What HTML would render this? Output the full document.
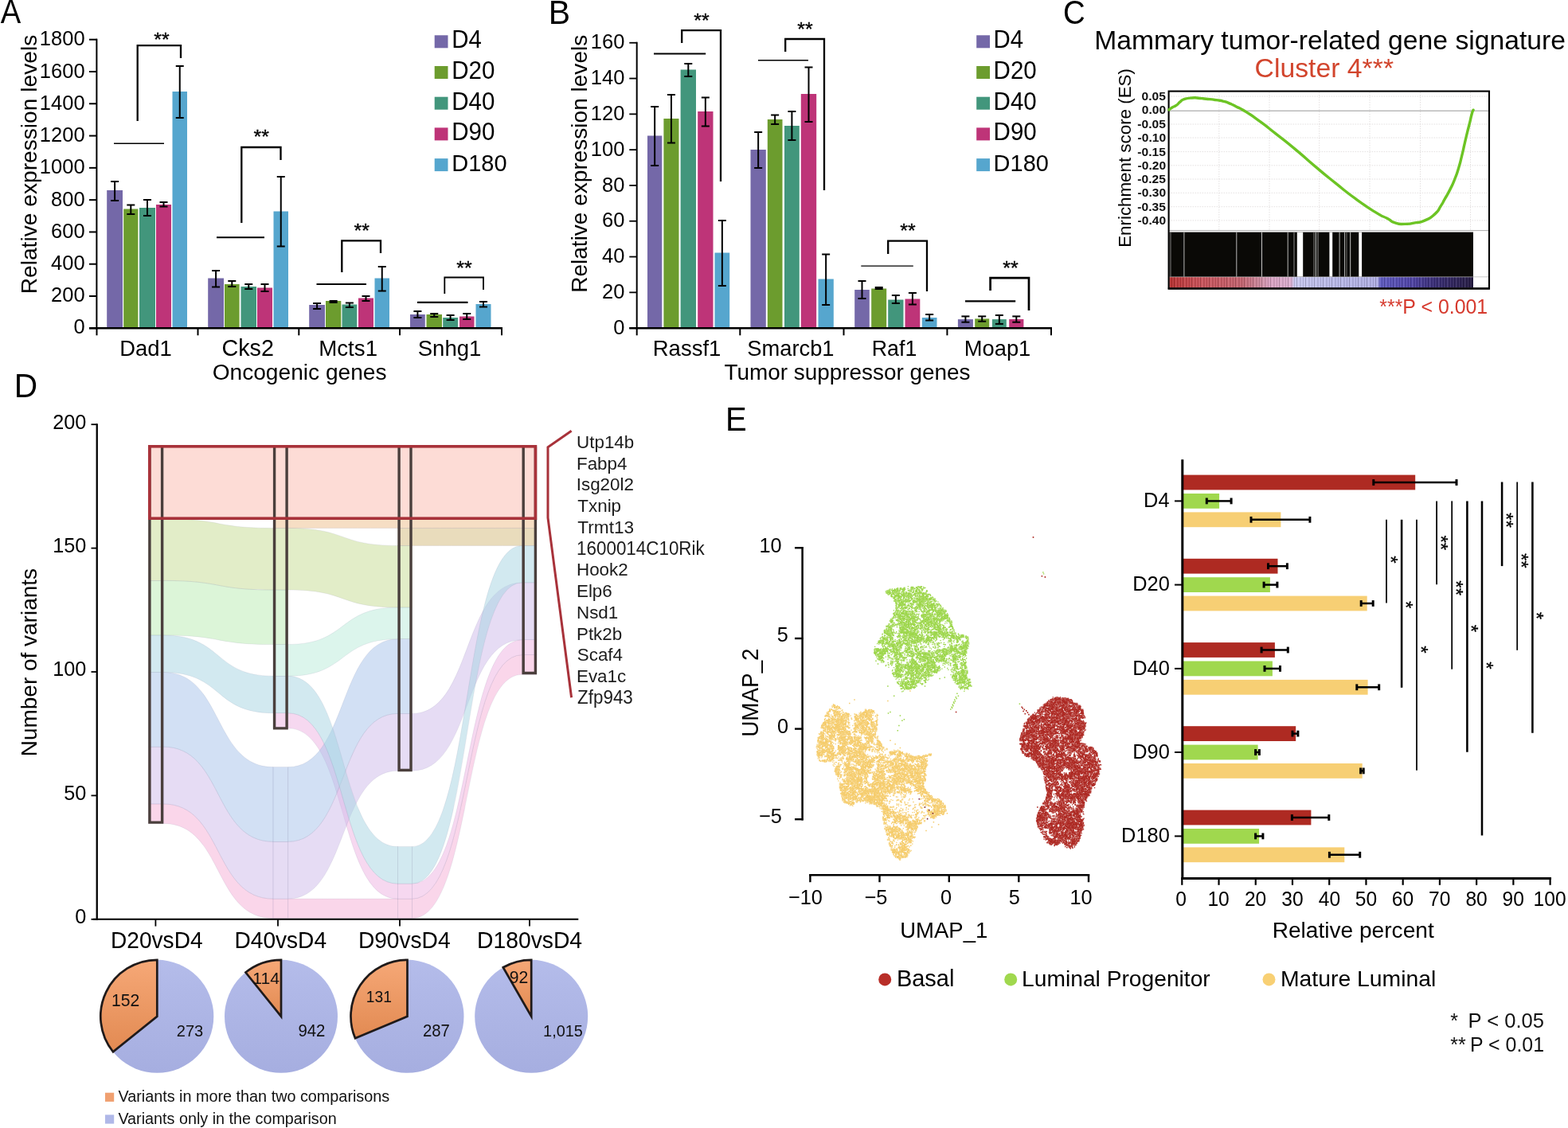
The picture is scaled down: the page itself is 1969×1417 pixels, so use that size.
<!DOCTYPE html>
<html lang="en"><head><meta charset="utf-8"><title>Figure</title>
<style>
html,body{margin:0;padding:0;background:#fff;}
body{width:1969px;height:1417px;overflow:hidden;}
svg{display:block;font-family:"Liberation Sans",sans-serif;}
text{white-space:pre;}
</style></head><body>
<svg width="1969" height="1417" viewBox="0 0 1969 1417">
<rect width="1969" height="1417" fill="#ffffff"/>
<text x="0.83" y="28.60" font-size="41.63" textLength="25.45" lengthAdjust="spacingAndGlyphs" fill="#000">A</text>
<text x="688.84" y="30.00" font-size="41.63" textLength="27.32" lengthAdjust="spacingAndGlyphs" fill="#000">B</text>
<text x="1335.05" y="29.70" font-size="41.63" textLength="27.71" lengthAdjust="spacingAndGlyphs" fill="#000">C</text>
<text x="17.66" y="498.70" font-size="41.63" textLength="29.38" lengthAdjust="spacingAndGlyphs" fill="#000">D</text>
<text x="911.02" y="541.40" font-size="41.63" textLength="26.70" lengthAdjust="spacingAndGlyphs" fill="#000">E</text>
<rect x="134.20" y="239.00" width="19.80" height="173.30" fill="#7468A8"/>
<rect x="155.20" y="262.50" width="18.20" height="149.80" fill="#6C9C2E"/>
<rect x="175.00" y="261.00" width="20.00" height="151.30" fill="#42967C"/>
<rect x="196.00" y="257.00" width="19.00" height="155.30" fill="#BE3478"/>
<rect x="216.50" y="115.00" width="18.50" height="297.30" fill="#56A6CE"/>
<rect x="261.20" y="349.50" width="19.80" height="62.80" fill="#7468A8"/>
<rect x="282.00" y="357.00" width="18.60" height="55.30" fill="#6C9C2E"/>
<rect x="302.50" y="360.00" width="19.50" height="52.30" fill="#42967C"/>
<rect x="323.00" y="361.50" width="19.00" height="50.80" fill="#BE3478"/>
<rect x="343.50" y="265.50" width="18.50" height="146.80" fill="#56A6CE"/>
<rect x="388.20" y="383.00" width="19.80" height="29.30" fill="#7468A8"/>
<rect x="409.00" y="378.00" width="19.30" height="34.30" fill="#6C9C2E"/>
<rect x="429.50" y="382.50" width="18.80" height="29.80" fill="#42967C"/>
<rect x="450.00" y="374.50" width="19.00" height="37.80" fill="#BE3478"/>
<rect x="470.50" y="349.50" width="18.50" height="62.80" fill="#56A6CE"/>
<rect x="515.00" y="395.00" width="18.80" height="17.30" fill="#7468A8"/>
<rect x="535.50" y="395.00" width="19.50" height="17.30" fill="#6C9C2E"/>
<rect x="556.20" y="399.00" width="18.80" height="13.30" fill="#42967C"/>
<rect x="577.00" y="397.50" width="18.50" height="14.80" fill="#BE3478"/>
<rect x="597.50" y="382.00" width="19.00" height="30.30" fill="#56A6CE"/>
<line x1="144.10" y1="228.00" x2="144.10" y2="252.00" stroke="#000" stroke-width="2.00" stroke-linecap="butt"/>
<line x1="139.10" y1="228.00" x2="149.10" y2="228.00" stroke="#000" stroke-width="2.00" stroke-linecap="butt"/>
<line x1="139.10" y1="252.00" x2="149.10" y2="252.00" stroke="#000" stroke-width="2.00" stroke-linecap="butt"/>
<line x1="164.30" y1="257.50" x2="164.30" y2="269.00" stroke="#000" stroke-width="2.00" stroke-linecap="butt"/>
<line x1="159.30" y1="257.50" x2="169.30" y2="257.50" stroke="#000" stroke-width="2.00" stroke-linecap="butt"/>
<line x1="159.30" y1="269.00" x2="169.30" y2="269.00" stroke="#000" stroke-width="2.00" stroke-linecap="butt"/>
<line x1="185.00" y1="251.00" x2="185.00" y2="271.00" stroke="#000" stroke-width="2.00" stroke-linecap="butt"/>
<line x1="180.00" y1="251.00" x2="190.00" y2="251.00" stroke="#000" stroke-width="2.00" stroke-linecap="butt"/>
<line x1="180.00" y1="271.00" x2="190.00" y2="271.00" stroke="#000" stroke-width="2.00" stroke-linecap="butt"/>
<line x1="205.50" y1="254.00" x2="205.50" y2="259.50" stroke="#000" stroke-width="2.00" stroke-linecap="butt"/>
<line x1="200.50" y1="254.00" x2="210.50" y2="254.00" stroke="#000" stroke-width="2.00" stroke-linecap="butt"/>
<line x1="200.50" y1="259.50" x2="210.50" y2="259.50" stroke="#000" stroke-width="2.00" stroke-linecap="butt"/>
<line x1="225.75" y1="83.00" x2="225.75" y2="148.00" stroke="#000" stroke-width="2.00" stroke-linecap="butt"/>
<line x1="220.75" y1="83.00" x2="230.75" y2="83.00" stroke="#000" stroke-width="2.00" stroke-linecap="butt"/>
<line x1="220.75" y1="148.00" x2="230.75" y2="148.00" stroke="#000" stroke-width="2.00" stroke-linecap="butt"/>
<line x1="271.10" y1="340.00" x2="271.10" y2="360.50" stroke="#000" stroke-width="2.00" stroke-linecap="butt"/>
<line x1="266.10" y1="340.00" x2="276.10" y2="340.00" stroke="#000" stroke-width="2.00" stroke-linecap="butt"/>
<line x1="266.10" y1="360.50" x2="276.10" y2="360.50" stroke="#000" stroke-width="2.00" stroke-linecap="butt"/>
<line x1="291.30" y1="353.00" x2="291.30" y2="360.00" stroke="#000" stroke-width="2.00" stroke-linecap="butt"/>
<line x1="286.30" y1="353.00" x2="296.30" y2="353.00" stroke="#000" stroke-width="2.00" stroke-linecap="butt"/>
<line x1="286.30" y1="360.00" x2="296.30" y2="360.00" stroke="#000" stroke-width="2.00" stroke-linecap="butt"/>
<line x1="312.25" y1="357.00" x2="312.25" y2="363.00" stroke="#000" stroke-width="2.00" stroke-linecap="butt"/>
<line x1="307.25" y1="357.00" x2="317.25" y2="357.00" stroke="#000" stroke-width="2.00" stroke-linecap="butt"/>
<line x1="307.25" y1="363.00" x2="317.25" y2="363.00" stroke="#000" stroke-width="2.00" stroke-linecap="butt"/>
<line x1="332.50" y1="357.00" x2="332.50" y2="366.00" stroke="#000" stroke-width="2.00" stroke-linecap="butt"/>
<line x1="327.50" y1="357.00" x2="337.50" y2="357.00" stroke="#000" stroke-width="2.00" stroke-linecap="butt"/>
<line x1="327.50" y1="366.00" x2="337.50" y2="366.00" stroke="#000" stroke-width="2.00" stroke-linecap="butt"/>
<line x1="352.75" y1="222.00" x2="352.75" y2="309.50" stroke="#000" stroke-width="2.00" stroke-linecap="butt"/>
<line x1="347.75" y1="222.00" x2="357.75" y2="222.00" stroke="#000" stroke-width="2.00" stroke-linecap="butt"/>
<line x1="347.75" y1="309.50" x2="357.75" y2="309.50" stroke="#000" stroke-width="2.00" stroke-linecap="butt"/>
<line x1="398.10" y1="381.00" x2="398.10" y2="388.00" stroke="#000" stroke-width="2.00" stroke-linecap="butt"/>
<line x1="393.10" y1="381.00" x2="403.10" y2="381.00" stroke="#000" stroke-width="2.00" stroke-linecap="butt"/>
<line x1="393.10" y1="388.00" x2="403.10" y2="388.00" stroke="#000" stroke-width="2.00" stroke-linecap="butt"/>
<line x1="418.65" y1="378.00" x2="418.65" y2="380.00" stroke="#000" stroke-width="2.00" stroke-linecap="butt"/>
<line x1="413.65" y1="378.00" x2="423.65" y2="378.00" stroke="#000" stroke-width="2.00" stroke-linecap="butt"/>
<line x1="413.65" y1="380.00" x2="423.65" y2="380.00" stroke="#000" stroke-width="2.00" stroke-linecap="butt"/>
<line x1="438.90" y1="380.50" x2="438.90" y2="386.00" stroke="#000" stroke-width="2.00" stroke-linecap="butt"/>
<line x1="433.90" y1="380.50" x2="443.90" y2="380.50" stroke="#000" stroke-width="2.00" stroke-linecap="butt"/>
<line x1="433.90" y1="386.00" x2="443.90" y2="386.00" stroke="#000" stroke-width="2.00" stroke-linecap="butt"/>
<line x1="459.50" y1="372.00" x2="459.50" y2="378.00" stroke="#000" stroke-width="2.00" stroke-linecap="butt"/>
<line x1="454.50" y1="372.00" x2="464.50" y2="372.00" stroke="#000" stroke-width="2.00" stroke-linecap="butt"/>
<line x1="454.50" y1="378.00" x2="464.50" y2="378.00" stroke="#000" stroke-width="2.00" stroke-linecap="butt"/>
<line x1="479.75" y1="335.00" x2="479.75" y2="365.50" stroke="#000" stroke-width="2.00" stroke-linecap="butt"/>
<line x1="474.75" y1="335.00" x2="484.75" y2="335.00" stroke="#000" stroke-width="2.00" stroke-linecap="butt"/>
<line x1="474.75" y1="365.50" x2="484.75" y2="365.50" stroke="#000" stroke-width="2.00" stroke-linecap="butt"/>
<line x1="524.40" y1="391.00" x2="524.40" y2="399.00" stroke="#000" stroke-width="2.00" stroke-linecap="butt"/>
<line x1="519.40" y1="391.00" x2="529.40" y2="391.00" stroke="#000" stroke-width="2.00" stroke-linecap="butt"/>
<line x1="519.40" y1="399.00" x2="529.40" y2="399.00" stroke="#000" stroke-width="2.00" stroke-linecap="butt"/>
<line x1="545.25" y1="394.00" x2="545.25" y2="398.00" stroke="#000" stroke-width="2.00" stroke-linecap="butt"/>
<line x1="540.25" y1="394.00" x2="550.25" y2="394.00" stroke="#000" stroke-width="2.00" stroke-linecap="butt"/>
<line x1="540.25" y1="398.00" x2="550.25" y2="398.00" stroke="#000" stroke-width="2.00" stroke-linecap="butt"/>
<line x1="565.60" y1="396.00" x2="565.60" y2="402.00" stroke="#000" stroke-width="2.00" stroke-linecap="butt"/>
<line x1="560.60" y1="396.00" x2="570.60" y2="396.00" stroke="#000" stroke-width="2.00" stroke-linecap="butt"/>
<line x1="560.60" y1="402.00" x2="570.60" y2="402.00" stroke="#000" stroke-width="2.00" stroke-linecap="butt"/>
<line x1="586.25" y1="394.00" x2="586.25" y2="401.00" stroke="#000" stroke-width="2.00" stroke-linecap="butt"/>
<line x1="581.25" y1="394.00" x2="591.25" y2="394.00" stroke="#000" stroke-width="2.00" stroke-linecap="butt"/>
<line x1="581.25" y1="401.00" x2="591.25" y2="401.00" stroke="#000" stroke-width="2.00" stroke-linecap="butt"/>
<line x1="607.00" y1="379.00" x2="607.00" y2="385.50" stroke="#000" stroke-width="2.00" stroke-linecap="butt"/>
<line x1="602.00" y1="379.00" x2="612.00" y2="379.00" stroke="#000" stroke-width="2.00" stroke-linecap="butt"/>
<line x1="602.00" y1="385.50" x2="612.00" y2="385.50" stroke="#000" stroke-width="2.00" stroke-linecap="butt"/>
<line x1="121.40" y1="48.70" x2="121.40" y2="413.40" stroke="#000" stroke-width="2.00" stroke-linecap="butt"/>
<line x1="112.00" y1="49.70" x2="122.00" y2="49.70" stroke="#000" stroke-width="2.00" stroke-linecap="butt"/>
<text x="49.87" y="57.40" font-size="26.54" textLength="56.73" lengthAdjust="spacingAndGlyphs" fill="#000">1800</text>
<line x1="112.00" y1="89.99" x2="122.00" y2="89.99" stroke="#000" stroke-width="2.00" stroke-linecap="butt"/>
<text x="49.87" y="97.62" font-size="26.54" textLength="56.73" lengthAdjust="spacingAndGlyphs" fill="#000">1600</text>
<line x1="112.00" y1="130.28" x2="122.00" y2="130.28" stroke="#000" stroke-width="2.00" stroke-linecap="butt"/>
<text x="49.87" y="137.84" font-size="26.54" textLength="56.73" lengthAdjust="spacingAndGlyphs" fill="#000">1400</text>
<line x1="112.00" y1="170.57" x2="122.00" y2="170.57" stroke="#000" stroke-width="2.00" stroke-linecap="butt"/>
<text x="49.87" y="178.06" font-size="26.54" textLength="56.73" lengthAdjust="spacingAndGlyphs" fill="#000">1200</text>
<line x1="112.00" y1="210.86" x2="122.00" y2="210.86" stroke="#000" stroke-width="2.00" stroke-linecap="butt"/>
<text x="49.87" y="218.28" font-size="26.54" textLength="56.73" lengthAdjust="spacingAndGlyphs" fill="#000">1000</text>
<line x1="112.00" y1="251.15" x2="122.00" y2="251.15" stroke="#000" stroke-width="2.00" stroke-linecap="butt"/>
<text x="64.05" y="258.50" font-size="26.54" textLength="42.55" lengthAdjust="spacingAndGlyphs" fill="#000">800</text>
<line x1="112.00" y1="291.44" x2="122.00" y2="291.44" stroke="#000" stroke-width="2.00" stroke-linecap="butt"/>
<text x="64.05" y="298.72" font-size="26.54" textLength="42.55" lengthAdjust="spacingAndGlyphs" fill="#000">600</text>
<line x1="112.00" y1="331.73" x2="122.00" y2="331.73" stroke="#000" stroke-width="2.00" stroke-linecap="butt"/>
<text x="64.05" y="338.94" font-size="26.54" textLength="42.55" lengthAdjust="spacingAndGlyphs" fill="#000">400</text>
<line x1="112.00" y1="372.02" x2="122.00" y2="372.02" stroke="#000" stroke-width="2.00" stroke-linecap="butt"/>
<text x="64.05" y="379.16" font-size="26.54" textLength="42.55" lengthAdjust="spacingAndGlyphs" fill="#000">200</text>
<line x1="112.00" y1="412.31" x2="122.00" y2="412.31" stroke="#000" stroke-width="2.00" stroke-linecap="butt"/>
<text x="92.41" y="419.38" font-size="26.54" textLength="14.18" lengthAdjust="spacingAndGlyphs" fill="#000">0</text>
<line x1="112.00" y1="412.30" x2="631.00" y2="412.30" stroke="#000" stroke-width="2.40" stroke-linecap="butt"/>
<line x1="121.50" y1="412.30" x2="121.50" y2="421.30" stroke="#000" stroke-width="2.00" stroke-linecap="butt"/>
<line x1="248.50" y1="412.30" x2="248.50" y2="421.30" stroke="#000" stroke-width="2.00" stroke-linecap="butt"/>
<line x1="375.30" y1="412.30" x2="375.30" y2="421.30" stroke="#000" stroke-width="2.00" stroke-linecap="butt"/>
<line x1="502.00" y1="412.30" x2="502.00" y2="421.30" stroke="#000" stroke-width="2.00" stroke-linecap="butt"/>
<line x1="630.00" y1="412.30" x2="630.00" y2="421.30" stroke="#000" stroke-width="2.00" stroke-linecap="butt"/>
<text x="150.25" y="447.10" font-size="27.99" textLength="65.59" lengthAdjust="spacingAndGlyphs" fill="#000">Dad1</text>
<text x="278.54" y="447.10" font-size="29.29" textLength="65.40" lengthAdjust="spacingAndGlyphs" fill="#000">Cks2</text>
<text x="400.23" y="447.10" font-size="28.13" textLength="73.82" lengthAdjust="spacingAndGlyphs" fill="#000">Mcts1</text>
<text x="524.75" y="447.10" font-size="27.97" textLength="79.59" lengthAdjust="spacingAndGlyphs" fill="#000">Snhg1</text>
<text x="266.67" y="477.00" font-size="28.20" textLength="218.85" lengthAdjust="spacingAndGlyphs" fill="#000">Oncogenic genes</text>
<text transform="translate(45.70 367.00) rotate(-90)" x="-2.31" y="0" font-size="28.21" textLength="325.53" lengthAdjust="spacingAndGlyphs" fill="#000">Relative expression levels</text>
<path d="M172.70 152.00 V57.20 H227.00 V73.00" fill="none" stroke="#000" stroke-width="2.30" stroke-linejoin="miter"/>
<text x="193.28" y="58.31" font-size="24.00" textLength="19.43" lengthAdjust="spacingAndGlyphs" fill="#000" stroke="#000" stroke-width="0.35">**</text>
<line x1="143.00" y1="180.20" x2="206.00" y2="180.20" stroke="#000" stroke-width="1.50" stroke-linecap="butt"/>
<path d="M303.30 280.00 V185.00 H352.50 V201.00" fill="none" stroke="#000" stroke-width="2.30" stroke-linejoin="miter"/>
<text x="318.48" y="180.31" font-size="24.00" textLength="19.43" lengthAdjust="spacingAndGlyphs" fill="#000" stroke="#000" stroke-width="0.35">**</text>
<line x1="272.00" y1="298.20" x2="332.00" y2="298.20" stroke="#000" stroke-width="2.00" stroke-linecap="butt"/>
<path d="M429.30 342.00 V302.30 H478.00 V318.00" fill="none" stroke="#000" stroke-width="2.30" stroke-linejoin="miter"/>
<text x="444.58" y="298.31" font-size="24.00" textLength="19.43" lengthAdjust="spacingAndGlyphs" fill="#000" stroke="#000" stroke-width="0.35">**</text>
<line x1="397.50" y1="357.00" x2="460.00" y2="357.00" stroke="#000" stroke-width="2.00" stroke-linecap="butt"/>
<path d="M558.30 369.00 V348.50 H607.00 V364.00" fill="none" stroke="#000" stroke-width="1.80" stroke-linejoin="miter"/>
<text x="573.28" y="344.81" font-size="24.00" textLength="19.43" lengthAdjust="spacingAndGlyphs" fill="#000" stroke="#000" stroke-width="0.35">**</text>
<line x1="524.00" y1="379.80" x2="587.50" y2="379.80" stroke="#000" stroke-width="2.20" stroke-linecap="butt"/>
<rect x="545.70" y="44.30" width="16.80" height="16.00" fill="#7468A8"/>
<text x="567.19" y="60.20" font-size="30.59" textLength="37.57" lengthAdjust="spacingAndGlyphs" fill="#000">D4</text>
<rect x="545.70" y="83.00" width="16.80" height="16.00" fill="#6C9C2E"/>
<text x="567.18" y="98.85" font-size="30.73" textLength="54.18" lengthAdjust="spacingAndGlyphs" fill="#000">D20</text>
<rect x="545.70" y="121.70" width="16.80" height="16.00" fill="#42967C"/>
<text x="567.18" y="137.50" font-size="30.73" textLength="54.18" lengthAdjust="spacingAndGlyphs" fill="#000">D40</text>
<rect x="545.70" y="160.40" width="16.80" height="16.00" fill="#BE3478"/>
<text x="567.18" y="176.15" font-size="30.73" textLength="54.18" lengthAdjust="spacingAndGlyphs" fill="#000">D90</text>
<rect x="545.70" y="199.10" width="16.80" height="16.00" fill="#56A6CE"/>
<text x="567.22" y="214.80" font-size="30.17" textLength="69.31" lengthAdjust="spacingAndGlyphs" fill="#000">D180</text>
<rect x="813.00" y="170.50" width="18.30" height="241.80" fill="#7468A8"/>
<rect x="833.40" y="149.00" width="19.10" height="263.30" fill="#6C9C2E"/>
<rect x="854.60" y="87.50" width="19.40" height="324.80" fill="#42967C"/>
<rect x="876.20" y="140.00" width="19.30" height="272.30" fill="#BE3478"/>
<rect x="897.50" y="317.50" width="18.70" height="94.80" fill="#56A6CE"/>
<rect x="942.50" y="188.00" width="19.30" height="224.30" fill="#7468A8"/>
<rect x="963.80" y="150.00" width="18.70" height="262.30" fill="#6C9C2E"/>
<rect x="985.00" y="158.00" width="18.80" height="254.30" fill="#42967C"/>
<rect x="1005.80" y="118.00" width="19.40" height="294.30" fill="#BE3478"/>
<rect x="1027.50" y="350.50" width="19.30" height="61.80" fill="#56A6CE"/>
<rect x="1073.20" y="364.00" width="18.60" height="48.30" fill="#7468A8"/>
<rect x="1094.20" y="362.50" width="19.00" height="49.80" fill="#6C9C2E"/>
<rect x="1115.20" y="376.50" width="19.30" height="35.80" fill="#42967C"/>
<rect x="1136.50" y="375.50" width="18.80" height="36.80" fill="#BE3478"/>
<rect x="1157.80" y="399.00" width="18.70" height="13.30" fill="#56A6CE"/>
<rect x="1202.90" y="401.10" width="19.00" height="11.20" fill="#7468A8"/>
<rect x="1224.20" y="400.40" width="18.00" height="11.90" fill="#6C9C2E"/>
<rect x="1245.90" y="401.10" width="17.90" height="11.20" fill="#42967C"/>
<rect x="1267.20" y="401.00" width="18.20" height="11.30" fill="#BE3478"/>
<line x1="822.15" y1="134.00" x2="822.15" y2="208.00" stroke="#000" stroke-width="2.00" stroke-linecap="butt"/>
<line x1="817.15" y1="134.00" x2="827.15" y2="134.00" stroke="#000" stroke-width="2.00" stroke-linecap="butt"/>
<line x1="817.15" y1="208.00" x2="827.15" y2="208.00" stroke="#000" stroke-width="2.00" stroke-linecap="butt"/>
<line x1="842.95" y1="119.00" x2="842.95" y2="179.50" stroke="#000" stroke-width="2.00" stroke-linecap="butt"/>
<line x1="837.95" y1="119.00" x2="847.95" y2="119.00" stroke="#000" stroke-width="2.00" stroke-linecap="butt"/>
<line x1="837.95" y1="179.50" x2="847.95" y2="179.50" stroke="#000" stroke-width="2.00" stroke-linecap="butt"/>
<line x1="864.30" y1="80.00" x2="864.30" y2="96.00" stroke="#000" stroke-width="2.00" stroke-linecap="butt"/>
<line x1="859.30" y1="80.00" x2="869.30" y2="80.00" stroke="#000" stroke-width="2.00" stroke-linecap="butt"/>
<line x1="859.30" y1="96.00" x2="869.30" y2="96.00" stroke="#000" stroke-width="2.00" stroke-linecap="butt"/>
<line x1="885.85" y1="122.50" x2="885.85" y2="158.50" stroke="#000" stroke-width="2.00" stroke-linecap="butt"/>
<line x1="880.85" y1="122.50" x2="890.85" y2="122.50" stroke="#000" stroke-width="2.00" stroke-linecap="butt"/>
<line x1="880.85" y1="158.50" x2="890.85" y2="158.50" stroke="#000" stroke-width="2.00" stroke-linecap="butt"/>
<line x1="906.85" y1="277.00" x2="906.85" y2="359.00" stroke="#000" stroke-width="2.00" stroke-linecap="butt"/>
<line x1="901.85" y1="277.00" x2="911.85" y2="277.00" stroke="#000" stroke-width="2.00" stroke-linecap="butt"/>
<line x1="901.85" y1="359.00" x2="911.85" y2="359.00" stroke="#000" stroke-width="2.00" stroke-linecap="butt"/>
<line x1="952.15" y1="166.00" x2="952.15" y2="211.00" stroke="#000" stroke-width="2.00" stroke-linecap="butt"/>
<line x1="947.15" y1="166.00" x2="957.15" y2="166.00" stroke="#000" stroke-width="2.00" stroke-linecap="butt"/>
<line x1="947.15" y1="211.00" x2="957.15" y2="211.00" stroke="#000" stroke-width="2.00" stroke-linecap="butt"/>
<line x1="973.15" y1="144.50" x2="973.15" y2="156.00" stroke="#000" stroke-width="2.00" stroke-linecap="butt"/>
<line x1="968.15" y1="144.50" x2="978.15" y2="144.50" stroke="#000" stroke-width="2.00" stroke-linecap="butt"/>
<line x1="968.15" y1="156.00" x2="978.15" y2="156.00" stroke="#000" stroke-width="2.00" stroke-linecap="butt"/>
<line x1="994.40" y1="140.00" x2="994.40" y2="176.00" stroke="#000" stroke-width="2.00" stroke-linecap="butt"/>
<line x1="989.40" y1="140.00" x2="999.40" y2="140.00" stroke="#000" stroke-width="2.00" stroke-linecap="butt"/>
<line x1="989.40" y1="176.00" x2="999.40" y2="176.00" stroke="#000" stroke-width="2.00" stroke-linecap="butt"/>
<line x1="1015.50" y1="84.50" x2="1015.50" y2="153.00" stroke="#000" stroke-width="2.00" stroke-linecap="butt"/>
<line x1="1010.50" y1="84.50" x2="1020.50" y2="84.50" stroke="#000" stroke-width="2.00" stroke-linecap="butt"/>
<line x1="1010.50" y1="153.00" x2="1020.50" y2="153.00" stroke="#000" stroke-width="2.00" stroke-linecap="butt"/>
<line x1="1037.15" y1="319.50" x2="1037.15" y2="383.00" stroke="#000" stroke-width="2.00" stroke-linecap="butt"/>
<line x1="1032.15" y1="319.50" x2="1042.15" y2="319.50" stroke="#000" stroke-width="2.00" stroke-linecap="butt"/>
<line x1="1032.15" y1="383.00" x2="1042.15" y2="383.00" stroke="#000" stroke-width="2.00" stroke-linecap="butt"/>
<line x1="1082.50" y1="353.00" x2="1082.50" y2="375.00" stroke="#000" stroke-width="2.00" stroke-linecap="butt"/>
<line x1="1077.50" y1="353.00" x2="1087.50" y2="353.00" stroke="#000" stroke-width="2.00" stroke-linecap="butt"/>
<line x1="1077.50" y1="375.00" x2="1087.50" y2="375.00" stroke="#000" stroke-width="2.00" stroke-linecap="butt"/>
<line x1="1103.70" y1="361.00" x2="1103.70" y2="363.00" stroke="#000" stroke-width="2.00" stroke-linecap="butt"/>
<line x1="1098.70" y1="361.00" x2="1108.70" y2="361.00" stroke="#000" stroke-width="2.00" stroke-linecap="butt"/>
<line x1="1098.70" y1="363.00" x2="1108.70" y2="363.00" stroke="#000" stroke-width="2.00" stroke-linecap="butt"/>
<line x1="1124.85" y1="371.00" x2="1124.85" y2="381.00" stroke="#000" stroke-width="2.00" stroke-linecap="butt"/>
<line x1="1119.85" y1="371.00" x2="1129.85" y2="371.00" stroke="#000" stroke-width="2.00" stroke-linecap="butt"/>
<line x1="1119.85" y1="381.00" x2="1129.85" y2="381.00" stroke="#000" stroke-width="2.00" stroke-linecap="butt"/>
<line x1="1145.90" y1="368.00" x2="1145.90" y2="382.50" stroke="#000" stroke-width="2.00" stroke-linecap="butt"/>
<line x1="1140.90" y1="368.00" x2="1150.90" y2="368.00" stroke="#000" stroke-width="2.00" stroke-linecap="butt"/>
<line x1="1140.90" y1="382.50" x2="1150.90" y2="382.50" stroke="#000" stroke-width="2.00" stroke-linecap="butt"/>
<line x1="1167.15" y1="395.00" x2="1167.15" y2="402.50" stroke="#000" stroke-width="2.00" stroke-linecap="butt"/>
<line x1="1162.15" y1="395.00" x2="1172.15" y2="395.00" stroke="#000" stroke-width="2.00" stroke-linecap="butt"/>
<line x1="1162.15" y1="402.50" x2="1172.15" y2="402.50" stroke="#000" stroke-width="2.00" stroke-linecap="butt"/>
<line x1="1212.40" y1="397.40" x2="1212.40" y2="404.70" stroke="#000" stroke-width="2.00" stroke-linecap="butt"/>
<line x1="1207.40" y1="397.40" x2="1217.40" y2="397.40" stroke="#000" stroke-width="2.00" stroke-linecap="butt"/>
<line x1="1207.40" y1="404.70" x2="1217.40" y2="404.70" stroke="#000" stroke-width="2.00" stroke-linecap="butt"/>
<line x1="1233.20" y1="397.40" x2="1233.20" y2="403.70" stroke="#000" stroke-width="2.00" stroke-linecap="butt"/>
<line x1="1228.20" y1="397.40" x2="1238.20" y2="397.40" stroke="#000" stroke-width="2.00" stroke-linecap="butt"/>
<line x1="1228.20" y1="403.70" x2="1238.20" y2="403.70" stroke="#000" stroke-width="2.00" stroke-linecap="butt"/>
<line x1="1254.85" y1="396.00" x2="1254.85" y2="406.90" stroke="#000" stroke-width="2.00" stroke-linecap="butt"/>
<line x1="1249.85" y1="396.00" x2="1259.85" y2="396.00" stroke="#000" stroke-width="2.00" stroke-linecap="butt"/>
<line x1="1249.85" y1="406.90" x2="1259.85" y2="406.90" stroke="#000" stroke-width="2.00" stroke-linecap="butt"/>
<line x1="1276.30" y1="397.40" x2="1276.30" y2="404.70" stroke="#000" stroke-width="2.00" stroke-linecap="butt"/>
<line x1="1271.30" y1="397.40" x2="1281.30" y2="397.40" stroke="#000" stroke-width="2.00" stroke-linecap="butt"/>
<line x1="1271.30" y1="404.70" x2="1281.30" y2="404.70" stroke="#000" stroke-width="2.00" stroke-linecap="butt"/>
<line x1="799.70" y1="52.80" x2="799.70" y2="413.40" stroke="#000" stroke-width="2.00" stroke-linecap="butt"/>
<line x1="790.30" y1="53.75" x2="800.00" y2="53.75" stroke="#000" stroke-width="1.80" stroke-linecap="butt"/>
<text x="741.85" y="61.35" font-size="26.54" textLength="42.55" lengthAdjust="spacingAndGlyphs" fill="#000">160</text>
<line x1="790.30" y1="98.55" x2="800.00" y2="98.55" stroke="#000" stroke-width="1.80" stroke-linecap="butt"/>
<text x="741.85" y="106.15" font-size="26.54" textLength="42.55" lengthAdjust="spacingAndGlyphs" fill="#000">140</text>
<line x1="790.30" y1="143.35" x2="800.00" y2="143.35" stroke="#000" stroke-width="1.80" stroke-linecap="butt"/>
<text x="741.85" y="150.95" font-size="26.54" textLength="42.55" lengthAdjust="spacingAndGlyphs" fill="#000">120</text>
<line x1="790.30" y1="188.15" x2="800.00" y2="188.15" stroke="#000" stroke-width="1.80" stroke-linecap="butt"/>
<text x="741.85" y="195.75" font-size="26.54" textLength="42.55" lengthAdjust="spacingAndGlyphs" fill="#000">100</text>
<line x1="790.30" y1="232.95" x2="800.00" y2="232.95" stroke="#000" stroke-width="1.80" stroke-linecap="butt"/>
<text x="756.03" y="240.55" font-size="26.54" textLength="28.36" lengthAdjust="spacingAndGlyphs" fill="#000">80</text>
<line x1="790.30" y1="277.75" x2="800.00" y2="277.75" stroke="#000" stroke-width="1.80" stroke-linecap="butt"/>
<text x="756.03" y="285.35" font-size="26.54" textLength="28.36" lengthAdjust="spacingAndGlyphs" fill="#000">60</text>
<line x1="790.30" y1="322.55" x2="800.00" y2="322.55" stroke="#000" stroke-width="1.80" stroke-linecap="butt"/>
<text x="756.03" y="330.15" font-size="26.54" textLength="28.36" lengthAdjust="spacingAndGlyphs" fill="#000">40</text>
<line x1="790.30" y1="367.35" x2="800.00" y2="367.35" stroke="#000" stroke-width="1.80" stroke-linecap="butt"/>
<text x="756.03" y="374.95" font-size="26.54" textLength="28.36" lengthAdjust="spacingAndGlyphs" fill="#000">20</text>
<line x1="790.30" y1="412.15" x2="800.00" y2="412.15" stroke="#000" stroke-width="1.80" stroke-linecap="butt"/>
<text x="770.21" y="419.75" font-size="26.54" textLength="14.18" lengthAdjust="spacingAndGlyphs" fill="#000">0</text>
<line x1="790.30" y1="412.30" x2="1321.00" y2="412.30" stroke="#000" stroke-width="2.40" stroke-linecap="butt"/>
<line x1="799.70" y1="412.30" x2="799.70" y2="421.30" stroke="#000" stroke-width="2.00" stroke-linecap="butt"/>
<line x1="929.30" y1="412.30" x2="929.30" y2="421.30" stroke="#000" stroke-width="2.00" stroke-linecap="butt"/>
<line x1="1059.50" y1="412.30" x2="1059.50" y2="421.30" stroke="#000" stroke-width="2.00" stroke-linecap="butt"/>
<line x1="1189.40" y1="412.30" x2="1189.40" y2="421.30" stroke="#000" stroke-width="2.00" stroke-linecap="butt"/>
<line x1="1320.00" y1="412.30" x2="1320.00" y2="421.30" stroke="#000" stroke-width="2.00" stroke-linecap="butt"/>
<text x="819.74" y="447.10" font-size="27.88" textLength="85.60" lengthAdjust="spacingAndGlyphs" fill="#000">Rassf1</text>
<text x="938.26" y="447.10" font-size="27.63" textLength="109.27" lengthAdjust="spacingAndGlyphs" fill="#000">Smarcb1</text>
<text x="1094.81" y="447.10" font-size="27.29" textLength="56.50" lengthAdjust="spacingAndGlyphs" fill="#000">Raf1</text>
<text x="1210.76" y="447.10" font-size="27.78" textLength="83.58" lengthAdjust="spacingAndGlyphs" fill="#000">Moap1</text>
<text x="909.38" y="477.00" font-size="27.87" textLength="309.13" lengthAdjust="spacingAndGlyphs" fill="#000">Tumor suppressor genes</text>
<text transform="translate(736.90 365.50) rotate(-90)" x="-2.30" y="0" font-size="28.07" textLength="324.01" lengthAdjust="spacingAndGlyphs" fill="#000">Relative expression levels</text>
<path d="M856.20 54.00 V38.20 H905.00 V228.00" fill="none" stroke="#000" stroke-width="2.30" stroke-linejoin="miter"/>
<text x="871.28" y="34.11" font-size="24.00" textLength="19.43" lengthAdjust="spacingAndGlyphs" fill="#000" stroke="#000" stroke-width="0.35">**</text>
<line x1="821.00" y1="67.50" x2="886.20" y2="67.50" stroke="#000" stroke-width="2.00" stroke-linecap="butt"/>
<path d="M986.20 65.00 V49.00 H1035.00 V239.00" fill="none" stroke="#000" stroke-width="2.30" stroke-linejoin="miter"/>
<text x="1001.28" y="45.11" font-size="24.00" textLength="19.43" lengthAdjust="spacingAndGlyphs" fill="#000" stroke="#000" stroke-width="0.35">**</text>
<line x1="952.00" y1="75.80" x2="1015.00" y2="75.80" stroke="#000" stroke-width="1.50" stroke-linecap="butt"/>
<path d="M1115.20 319.00 V302.60 H1164.00 V366.00" fill="none" stroke="#000" stroke-width="2.30" stroke-linejoin="miter"/>
<text x="1130.28" y="297.61" font-size="24.00" textLength="19.43" lengthAdjust="spacingAndGlyphs" fill="#000" stroke="#000" stroke-width="0.35">**</text>
<line x1="1081.30" y1="334.20" x2="1146.80" y2="334.20" stroke="#000" stroke-width="1.30" stroke-linecap="butt"/>
<path d="M1243.60 365.00 V349.20 H1292.00 V390.00" fill="none" stroke="#000" stroke-width="2.70" stroke-linejoin="miter"/>
<text x="1259.28" y="344.61" font-size="24.00" textLength="19.43" lengthAdjust="spacingAndGlyphs" fill="#000" stroke="#000" stroke-width="0.35">**</text>
<line x1="1212.00" y1="378.30" x2="1275.20" y2="378.30" stroke="#000" stroke-width="2.30" stroke-linecap="butt"/>
<rect x="1226.20" y="44.30" width="16.80" height="16.00" fill="#7468A8"/>
<text x="1247.59" y="60.20" font-size="30.59" textLength="37.57" lengthAdjust="spacingAndGlyphs" fill="#000">D4</text>
<rect x="1226.20" y="83.00" width="16.80" height="16.00" fill="#6C9C2E"/>
<text x="1247.58" y="98.85" font-size="30.73" textLength="54.18" lengthAdjust="spacingAndGlyphs" fill="#000">D20</text>
<rect x="1226.20" y="121.70" width="16.80" height="16.00" fill="#42967C"/>
<text x="1247.58" y="137.50" font-size="30.73" textLength="54.18" lengthAdjust="spacingAndGlyphs" fill="#000">D40</text>
<rect x="1226.20" y="160.40" width="16.80" height="16.00" fill="#BE3478"/>
<text x="1247.58" y="176.15" font-size="30.73" textLength="54.18" lengthAdjust="spacingAndGlyphs" fill="#000">D90</text>
<rect x="1226.20" y="199.10" width="16.80" height="16.00" fill="#56A6CE"/>
<text x="1247.62" y="214.80" font-size="30.17" textLength="69.31" lengthAdjust="spacingAndGlyphs" fill="#000">D180</text>
<text x="1374.24" y="62.00" font-size="33.74" textLength="591.76" lengthAdjust="spacingAndGlyphs" fill="#000">Mammary tumor-related gene signature</text>
<text x="1575.59" y="96.70" font-size="34.00" textLength="174.44" lengthAdjust="spacingAndGlyphs" fill="#D2452D">Cluster 4***</text>
<line x1="1530.80" y1="116.00" x2="1530.80" y2="289.00" stroke="#dcd8d8" stroke-width="0.80" stroke-linecap="butt" stroke-dasharray="1.5 1.5"/>
<line x1="1594.00" y1="116.00" x2="1594.00" y2="289.00" stroke="#dcd8d8" stroke-width="0.80" stroke-linecap="butt" stroke-dasharray="1.5 1.5"/>
<line x1="1656.70" y1="116.00" x2="1656.70" y2="289.00" stroke="#dcd8d8" stroke-width="0.80" stroke-linecap="butt" stroke-dasharray="1.5 1.5"/>
<line x1="1720.00" y1="116.00" x2="1720.00" y2="289.00" stroke="#dcd8d8" stroke-width="0.80" stroke-linecap="butt" stroke-dasharray="1.5 1.5"/>
<line x1="1783.50" y1="116.00" x2="1783.50" y2="289.00" stroke="#dcd8d8" stroke-width="0.80" stroke-linecap="butt" stroke-dasharray="1.5 1.5"/>
<line x1="1846.50" y1="116.00" x2="1846.50" y2="289.00" stroke="#dcd8d8" stroke-width="0.80" stroke-linecap="butt" stroke-dasharray="1.5 1.5"/>
<line x1="1467.60" y1="121.00" x2="1870.00" y2="121.00" stroke="#dcd8d8" stroke-width="0.80" stroke-linecap="butt" stroke-dasharray="1.5 1.5"/>
<text x="1433.58" y="125.90" font-size="13.80" textLength="30.35" lengthAdjust="spacingAndGlyphs" fill="#111" font-weight="bold">0.05</text>
<text x="1433.79" y="143.40" font-size="13.80" textLength="30.35" lengthAdjust="spacingAndGlyphs" fill="#111" font-weight="bold">0.00</text>
<line x1="1467.60" y1="156.00" x2="1870.00" y2="156.00" stroke="#dcd8d8" stroke-width="0.80" stroke-linecap="butt" stroke-dasharray="1.5 1.5"/>
<text x="1428.39" y="160.90" font-size="13.80" textLength="35.54" lengthAdjust="spacingAndGlyphs" fill="#111" font-weight="bold">-0.05</text>
<line x1="1467.60" y1="173.00" x2="1870.00" y2="173.00" stroke="#dcd8d8" stroke-width="0.80" stroke-linecap="butt" stroke-dasharray="1.5 1.5"/>
<text x="1428.60" y="177.90" font-size="13.80" textLength="35.54" lengthAdjust="spacingAndGlyphs" fill="#111" font-weight="bold">-0.10</text>
<line x1="1467.60" y1="190.60" x2="1870.00" y2="190.60" stroke="#dcd8d8" stroke-width="0.80" stroke-linecap="butt" stroke-dasharray="1.5 1.5"/>
<text x="1428.39" y="195.50" font-size="13.80" textLength="35.54" lengthAdjust="spacingAndGlyphs" fill="#111" font-weight="bold">-0.15</text>
<line x1="1467.60" y1="207.80" x2="1870.00" y2="207.80" stroke="#dcd8d8" stroke-width="0.80" stroke-linecap="butt" stroke-dasharray="1.5 1.5"/>
<text x="1428.60" y="212.70" font-size="13.80" textLength="35.54" lengthAdjust="spacingAndGlyphs" fill="#111" font-weight="bold">-0.20</text>
<line x1="1467.60" y1="225.00" x2="1870.00" y2="225.00" stroke="#dcd8d8" stroke-width="0.80" stroke-linecap="butt" stroke-dasharray="1.5 1.5"/>
<text x="1428.39" y="229.90" font-size="13.80" textLength="35.54" lengthAdjust="spacingAndGlyphs" fill="#111" font-weight="bold">-0.25</text>
<line x1="1467.60" y1="242.30" x2="1870.00" y2="242.30" stroke="#dcd8d8" stroke-width="0.80" stroke-linecap="butt" stroke-dasharray="1.5 1.5"/>
<text x="1428.60" y="247.20" font-size="13.80" textLength="35.54" lengthAdjust="spacingAndGlyphs" fill="#111" font-weight="bold">-0.30</text>
<line x1="1467.60" y1="259.70" x2="1870.00" y2="259.70" stroke="#dcd8d8" stroke-width="0.80" stroke-linecap="butt" stroke-dasharray="1.5 1.5"/>
<text x="1428.39" y="264.60" font-size="13.80" textLength="35.54" lengthAdjust="spacingAndGlyphs" fill="#111" font-weight="bold">-0.35</text>
<line x1="1467.60" y1="276.90" x2="1870.00" y2="276.90" stroke="#dcd8d8" stroke-width="0.80" stroke-linecap="butt" stroke-dasharray="1.5 1.5"/>
<text x="1428.60" y="281.80" font-size="13.80" textLength="35.54" lengthAdjust="spacingAndGlyphs" fill="#111" font-weight="bold">-0.40</text>
<line x1="1467.60" y1="139.20" x2="1870.00" y2="139.20" stroke="#999" stroke-width="1.00" stroke-linecap="butt"/>
<line x1="1467.60" y1="289.60" x2="1870.00" y2="289.60" stroke="#aaa" stroke-width="1.00" stroke-linecap="butt"/>
<line x1="1467.60" y1="347.80" x2="1870.00" y2="347.80" stroke="#bbb" stroke-width="0.80" stroke-linecap="butt"/>
<rect x="1468.40" y="291.60" width="381.60" height="56.00" fill="#0a0906"/>
<line x1="1470.00" y1="291.60" x2="1470.00" y2="347.60" stroke="#999" stroke-width="0.80" stroke-linecap="butt"/>
<line x1="1486.90" y1="291.60" x2="1486.90" y2="347.60" stroke="#ccc" stroke-width="0.90" stroke-linecap="butt"/>
<line x1="1552.80" y1="291.60" x2="1552.80" y2="347.60" stroke="#ccc" stroke-width="0.90" stroke-linecap="butt"/>
<line x1="1584.50" y1="291.60" x2="1584.50" y2="347.60" stroke="#ddd" stroke-width="0.90" stroke-linecap="butt"/>
<line x1="1617.20" y1="291.60" x2="1617.20" y2="347.60" stroke="#ccc" stroke-width="0.90" stroke-linecap="butt"/>
<line x1="1625.00" y1="291.60" x2="1625.00" y2="347.60" stroke="#aaa" stroke-width="0.80" stroke-linecap="butt"/>
<line x1="1632.50" y1="291.60" x2="1632.50" y2="347.60" stroke="#fff" stroke-width="7.40" stroke-linecap="butt"/>
<line x1="1650.00" y1="291.60" x2="1650.00" y2="347.60" stroke="#999" stroke-width="0.80" stroke-linecap="butt"/>
<line x1="1652.40" y1="291.60" x2="1652.40" y2="347.60" stroke="#aaa" stroke-width="1.20" stroke-linecap="butt"/>
<line x1="1655.00" y1="291.60" x2="1655.00" y2="347.60" stroke="#aaa" stroke-width="0.90" stroke-linecap="butt"/>
<line x1="1671.30" y1="291.60" x2="1671.30" y2="347.60" stroke="#fff" stroke-width="3.80" stroke-linecap="butt"/>
<line x1="1682.10" y1="291.60" x2="1682.10" y2="347.60" stroke="#ccc" stroke-width="0.90" stroke-linecap="butt"/>
<line x1="1688.60" y1="291.60" x2="1688.60" y2="347.60" stroke="#bbb" stroke-width="1.00" stroke-linecap="butt"/>
<line x1="1691.00" y1="291.60" x2="1691.00" y2="347.60" stroke="#888" stroke-width="0.80" stroke-linecap="butt"/>
<line x1="1695.70" y1="291.60" x2="1695.70" y2="347.60" stroke="#ddd" stroke-width="0.90" stroke-linecap="butt"/>
<line x1="1708.20" y1="291.60" x2="1708.20" y2="347.60" stroke="#fff" stroke-width="3.80" stroke-linecap="butt"/>
<defs><linearGradient id="gsea" x1="0" x2="1" y1="0" y2="0"><stop offset="0" stop-color="#b83030"/><stop offset="0.10" stop-color="#c85058"/><stop offset="0.24" stop-color="#c46470"/><stop offset="0.30" stop-color="#cc8aa0"/><stop offset="0.33" stop-color="#d8a0c0"/><stop offset="0.40" stop-color="#dcaed0"/><stop offset="0.412" stop-color="#c8c8f0"/><stop offset="0.55" stop-color="#b8b8e8"/><stop offset="0.685" stop-color="#b0aee4"/><stop offset="0.695" stop-color="#5e5ac0"/><stop offset="0.79" stop-color="#5044a8"/><stop offset="0.87" stop-color="#3a2e78"/><stop offset="1" stop-color="#241a40"/></linearGradient><pattern id="gstr" width="11" height="14" patternUnits="userSpaceOnUse"><rect x="0" width="1" height="14" fill="#000" opacity="0.2"/><rect x="2.5" width="0.8" height="14" fill="#fff" opacity="0.22"/><rect x="4.4" width="1.1" height="14" fill="#000" opacity="0.14"/><rect x="6" width="0.6" height="14" fill="#fff" opacity="0.16"/><rect x="8.2" width="0.7" height="14" fill="#000" opacity="0.18"/><rect x="9.6" width="0.9" height="14" fill="#fff" opacity="0.12"/></pattern></defs>
<rect x="1468.40" y="348.20" width="381.60" height="13.20" fill="url(#gsea)"/>
<rect x="1468.40" y="348.20" width="381.60" height="13.20" fill="url(#gstr)"/>
<rect x="1467.60" y="114.60" width="402.40" height="248.00" fill="none" stroke="#000" stroke-width="2.1"/>
<line x1="1466.80" y1="362.40" x2="1870.80" y2="362.40" stroke="#000" stroke-width="2.20" stroke-linecap="butt"/>
<path d="M1468.00 137.93 C1469.34 136.93 1469.00 136.76 1472.00 134.93 C1475.00 133.10 1473.67 134.77 1477.00 132.43 C1480.33 130.10 1478.67 130.52 1482.00 127.94 C1485.33 125.35 1482.00 126.35 1487.00 124.69 C1491.99 123.02 1490.33 123.35 1496.99 122.94 C1503.65 122.52 1501.15 123.02 1506.99 123.44 C1512.82 123.85 1507.82 123.44 1514.48 124.19 C1521.14 124.94 1519.48 124.60 1526.98 125.69 C1534.47 126.77 1531.14 125.94 1536.97 127.44 C1542.80 128.94 1539.47 128.10 1544.47 130.18 C1549.46 132.27 1545.30 130.27 1551.96 133.68 C1558.63 137.10 1554.46 134.18 1564.46 140.43 C1574.45 146.68 1569.45 143.26 1581.95 152.42 C1594.44 161.59 1586.95 156.09 1601.94 167.92 C1616.93 179.74 1610.27 174.08 1626.93 187.91 C1643.58 201.73 1635.25 195.40 1651.91 209.40 C1668.57 223.39 1660.24 216.56 1676.90 229.89 C1693.56 243.21 1685.23 237.21 1701.89 249.38 C1718.55 261.54 1713.55 258.04 1726.88 266.37 C1740.20 274.70 1733.54 269.87 1741.87 274.36 C1750.20 278.86 1744.37 277.53 1751.86 279.86 C1759.36 282.19 1756.03 281.36 1764.36 281.36 C1772.69 281.36 1768.52 281.36 1776.85 279.86 C1785.18 278.36 1781.01 280.53 1789.34 276.86 C1797.67 273.20 1795.17 274.95 1801.84 268.87 C1808.50 262.79 1805.17 264.95 1809.33 258.62 C1813.50 252.29 1810.58 256.54 1814.33 249.88 C1818.08 243.21 1816.41 246.96 1820.58 238.63 C1824.74 230.30 1823.08 234.30 1826.83 224.89 C1830.57 215.48 1828.91 219.97 1831.82 210.39 C1834.74 200.82 1833.07 206.31 1835.57 196.15 C1838.07 185.99 1836.99 189.91 1839.32 179.91 C1841.65 169.92 1840.48 174.66 1842.57 166.17 C1844.65 157.67 1843.73 161.92 1845.57 154.42 C1847.40 146.93 1846.57 149.09 1848.06 143.68 C1849.56 138.26 1849.40 140.01 1850.06 138.18" fill="none" stroke="#6cc424" stroke-width="3.40" stroke-linejoin="round" stroke-linecap="round"/>
<text transform="translate(1420.40 309.00) rotate(-90)" x="-1.83" y="0" font-size="22.48" textLength="224.72" lengthAdjust="spacingAndGlyphs" fill="#000">Enrichment score (ES)</text>
<text x="1732.30" y="393.70" font-size="25.32" textLength="135.91" lengthAdjust="spacingAndGlyphs" fill="#D63A2E">***P &lt; 0.001</text>
<g>
<rect x="186.30" y="1009.95" width="18.90" height="24.50" fill="#f5add5" fill-opacity="0.50" stroke="#6a6a90" stroke-width="0.5" stroke-opacity="0.22"/>
<path d="M205.20 1009.95 C280.99 1009.95 267.21 1129.10 343.00 1129.10 L343.00 1153.60 C267.21 1153.60 280.99 1034.45 205.20 1034.45 Z" fill="#f5add5" stroke="#6a6a90" stroke-width="0.50" fill-opacity="0.50" stroke-opacity="0.22"/>
<rect x="343.00" y="1129.10" width="18.70" height="24.50" fill="#f5add5" fill-opacity="0.50" stroke="#6a6a90" stroke-width="0.5" stroke-opacity="0.22"/>
<path d="M361.70 1129.10 C437.49 1129.10 423.71 1129.10 499.50 1129.10 L499.50 1153.60 C423.71 1153.60 437.49 1153.60 361.70 1153.60 Z" fill="#f5add5" stroke="#6a6a90" stroke-width="0.50" fill-opacity="0.50" stroke-opacity="0.22"/>
<rect x="499.50" y="1129.10" width="18.10" height="24.50" fill="#f5add5" fill-opacity="0.50" stroke="#6a6a90" stroke-width="0.5" stroke-opacity="0.22"/>
<path d="M517.60 1129.10 C593.50 1129.10 579.70 822.70 655.60 822.70 L655.60 847.20 C579.70 847.20 593.50 1153.60 517.60 1153.60 Z" fill="#f5add5" stroke="#6a6a90" stroke-width="0.50" fill-opacity="0.50" stroke-opacity="0.22"/>
<rect x="655.60" y="822.70" width="18.40" height="24.50" fill="#f5add5" fill-opacity="0.50" stroke="#6a6a90" stroke-width="0.5" stroke-opacity="0.22"/>
<rect x="343.00" y="895.80" width="18.70" height="19.00" fill="#edb1e1" fill-opacity="0.50" stroke="#6a6a90" stroke-width="0.5" stroke-opacity="0.22"/>
<path d="M361.70 895.80 C437.49 895.80 423.71 1110.10 499.50 1110.10 L499.50 1129.10 C423.71 1129.10 437.49 914.80 361.70 914.80 Z" fill="#edb1e1" stroke="#6a6a90" stroke-width="0.50" fill-opacity="0.50" stroke-opacity="0.22"/>
<rect x="499.50" y="1110.10" width="18.10" height="19.00" fill="#edb1e1" fill-opacity="0.50" stroke="#6a6a90" stroke-width="0.5" stroke-opacity="0.22"/>
<path d="M517.60 1110.10 C593.50 1110.10 579.70 803.70 655.60 803.70 L655.60 822.70 C579.70 822.70 593.50 1129.10 517.60 1129.10 Z" fill="#edb1e1" stroke="#6a6a90" stroke-width="0.50" fill-opacity="0.50" stroke-opacity="0.22"/>
<rect x="655.60" y="803.70" width="18.40" height="19.00" fill="#edb1e1" fill-opacity="0.50" stroke="#6a6a90" stroke-width="0.5" stroke-opacity="0.22"/>
<rect x="186.30" y="938.15" width="18.90" height="71.80" fill="#cdb9e9" fill-opacity="0.50" stroke="#6a6a90" stroke-width="0.5" stroke-opacity="0.22"/>
<path d="M205.20 938.15 C280.99 938.15 267.21 1057.30 343.00 1057.30 L343.00 1129.10 C267.21 1129.10 280.99 1009.95 205.20 1009.95 Z" fill="#cdb9e9" stroke="#6a6a90" stroke-width="0.50" fill-opacity="0.50" stroke-opacity="0.22"/>
<rect x="343.00" y="1057.30" width="18.70" height="71.80" fill="#cdb9e9" fill-opacity="0.50" stroke="#6a6a90" stroke-width="0.5" stroke-opacity="0.22"/>
<path d="M361.70 1057.30 C437.49 1057.30 423.71 896.40 499.50 896.40 L499.50 968.20 C423.71 968.20 437.49 1129.10 361.70 1129.10 Z" fill="#cdb9e9" stroke="#6a6a90" stroke-width="0.50" fill-opacity="0.50" stroke-opacity="0.22"/>
<rect x="499.50" y="896.40" width="18.10" height="71.80" fill="#cdb9e9" fill-opacity="0.50" stroke="#6a6a90" stroke-width="0.5" stroke-opacity="0.22"/>
<path d="M517.60 896.40 C593.50 896.40 579.70 731.90 655.60 731.90 L655.60 803.70 C579.70 803.70 593.50 968.20 517.60 968.20 Z" fill="#cdb9e9" stroke="#6a6a90" stroke-width="0.50" fill-opacity="0.50" stroke-opacity="0.22"/>
<rect x="655.60" y="731.90" width="18.40" height="71.80" fill="#cdb9e9" fill-opacity="0.50" stroke="#6a6a90" stroke-width="0.5" stroke-opacity="0.22"/>
<rect x="186.30" y="844.45" width="18.90" height="93.70" fill="#a5c1e9" fill-opacity="0.50" stroke="#6a6a90" stroke-width="0.5" stroke-opacity="0.22"/>
<path d="M205.20 844.45 C280.99 844.45 267.21 963.60 343.00 963.60 L343.00 1057.30 C267.21 1057.30 280.99 938.15 205.20 938.15 Z" fill="#a5c1e9" stroke="#6a6a90" stroke-width="0.50" fill-opacity="0.50" stroke-opacity="0.22"/>
<rect x="343.00" y="963.60" width="18.70" height="93.70" fill="#a5c1e9" fill-opacity="0.50" stroke="#6a6a90" stroke-width="0.5" stroke-opacity="0.22"/>
<path d="M361.70 963.60 C437.49 963.60 423.71 802.70 499.50 802.70 L499.50 896.40 C423.71 896.40 437.49 1057.30 361.70 1057.30 Z" fill="#a5c1e9" stroke="#6a6a90" stroke-width="0.50" fill-opacity="0.50" stroke-opacity="0.22"/>
<rect x="499.50" y="802.70" width="18.10" height="93.70" fill="#a5c1e9" fill-opacity="0.50" stroke="#6a6a90" stroke-width="0.5" stroke-opacity="0.22"/>
<rect x="186.30" y="797.95" width="18.90" height="46.50" fill="#a5d3e1" fill-opacity="0.50" stroke="#6a6a90" stroke-width="0.5" stroke-opacity="0.22"/>
<path d="M205.20 797.95 C280.99 797.95 267.21 849.30 343.00 849.30 L343.00 895.80 C267.21 895.80 280.99 844.45 205.20 844.45 Z" fill="#a5d3e1" stroke="#6a6a90" stroke-width="0.50" fill-opacity="0.50" stroke-opacity="0.22"/>
<rect x="343.00" y="849.30" width="18.70" height="46.50" fill="#a5d3e1" fill-opacity="0.50" stroke="#6a6a90" stroke-width="0.5" stroke-opacity="0.22"/>
<path d="M361.70 849.30 C437.49 849.30 423.71 1063.60 499.50 1063.60 L499.50 1110.10 C423.71 1110.10 437.49 895.80 361.70 895.80 Z" fill="#a5d3e1" stroke="#6a6a90" stroke-width="0.50" fill-opacity="0.50" stroke-opacity="0.22"/>
<rect x="499.50" y="1063.60" width="18.10" height="46.50" fill="#a5d3e1" fill-opacity="0.50" stroke="#6a6a90" stroke-width="0.5" stroke-opacity="0.22"/>
<path d="M517.60 1063.60 C593.50 1063.60 579.70 685.40 655.60 685.40 L655.60 731.90 C579.70 731.90 593.50 1110.10 517.60 1110.10 Z" fill="#a5d3e1" stroke="#6a6a90" stroke-width="0.50" fill-opacity="0.50" stroke-opacity="0.22"/>
<rect x="655.60" y="685.40" width="18.40" height="46.50" fill="#a5d3e1" fill-opacity="0.50" stroke="#6a6a90" stroke-width="0.5" stroke-opacity="0.22"/>
<rect x="343.00" y="809.60" width="18.70" height="39.70" fill="#b9ebd9" fill-opacity="0.50" stroke="#6a6a90" stroke-width="0.5" stroke-opacity="0.22"/>
<path d="M361.70 809.60 C437.49 809.60 423.71 763.00 499.50 763.00 L499.50 802.70 C423.71 802.70 437.49 849.30 361.70 849.30 Z" fill="#b9ebd9" stroke="#6a6a90" stroke-width="0.50" fill-opacity="0.50" stroke-opacity="0.22"/>
<rect x="499.50" y="763.00" width="18.10" height="39.70" fill="#b9ebd9" fill-opacity="0.50" stroke="#6a6a90" stroke-width="0.5" stroke-opacity="0.22"/>
<rect x="186.30" y="729.35" width="18.90" height="68.60" fill="#b9ebb1" fill-opacity="0.50" stroke="#6a6a90" stroke-width="0.5" stroke-opacity="0.22"/>
<path d="M205.20 729.35 C280.99 729.35 267.21 741.00 343.00 741.00 L343.00 809.60 C267.21 809.60 280.99 797.95 205.20 797.95 Z" fill="#b9ebb1" stroke="#6a6a90" stroke-width="0.50" fill-opacity="0.50" stroke-opacity="0.22"/>
<rect x="343.00" y="741.00" width="18.70" height="68.60" fill="#b9ebb1" fill-opacity="0.50" stroke="#6a6a90" stroke-width="0.5" stroke-opacity="0.22"/>
<rect x="186.30" y="651.75" width="18.90" height="77.60" fill="#c5db91" fill-opacity="0.50" stroke="#6a6a90" stroke-width="0.5" stroke-opacity="0.22"/>
<path d="M205.20 651.75 C280.99 651.75 267.21 663.40 343.00 663.40 L343.00 741.00 C267.21 741.00 280.99 729.35 205.20 729.35 Z" fill="#c5db91" stroke="#6a6a90" stroke-width="0.50" fill-opacity="0.50" stroke-opacity="0.22"/>
<rect x="343.00" y="663.40" width="18.70" height="77.60" fill="#c5db91" fill-opacity="0.50" stroke="#6a6a90" stroke-width="0.5" stroke-opacity="0.22"/>
<path d="M361.70 663.40 C437.49 663.40 423.71 685.40 499.50 685.40 L499.50 763.00 C423.71 763.00 437.49 741.00 361.70 741.00 Z" fill="#c5db91" stroke="#6a6a90" stroke-width="0.50" fill-opacity="0.50" stroke-opacity="0.22"/>
<rect x="499.50" y="685.40" width="18.10" height="77.60" fill="#c5db91" fill-opacity="0.50" stroke="#6a6a90" stroke-width="0.5" stroke-opacity="0.22"/>
<rect x="499.50" y="663.40" width="18.10" height="22.00" fill="#d3b979" fill-opacity="0.50" stroke="#6a6a90" stroke-width="0.5" stroke-opacity="0.22"/>
<path d="M517.60 663.40 C593.50 663.40 579.70 663.40 655.60 663.40 L655.60 685.40 C579.70 685.40 593.50 685.40 517.60 685.40 Z" fill="#d3b979" stroke="#6a6a90" stroke-width="0.50" fill-opacity="0.50" stroke-opacity="0.22"/>
<rect x="655.60" y="663.40" width="18.40" height="22.00" fill="#d3b979" fill-opacity="0.50" stroke="#6a6a90" stroke-width="0.5" stroke-opacity="0.22"/>
<rect x="343.00" y="651.75" width="18.70" height="11.65" fill="#edbd89" fill-opacity="0.50" stroke="#6a6a90" stroke-width="0.5" stroke-opacity="0.22"/>
<path d="M361.70 651.75 C437.49 651.75 423.71 651.75 499.50 651.75 L499.50 663.40 C423.71 663.40 437.49 663.40 361.70 663.40 Z" fill="#edbd89" stroke="#6a6a90" stroke-width="0.50" fill-opacity="0.50" stroke-opacity="0.22"/>
<rect x="499.50" y="651.75" width="18.10" height="11.65" fill="#edbd89" fill-opacity="0.50" stroke="#6a6a90" stroke-width="0.5" stroke-opacity="0.22"/>
<path d="M517.60 651.75 C593.50 651.75 579.70 651.75 655.60 651.75 L655.60 663.40 C579.70 663.40 593.50 663.40 517.60 663.40 Z" fill="#edbd89" stroke="#6a6a90" stroke-width="0.50" fill-opacity="0.50" stroke-opacity="0.22"/>
<rect x="655.60" y="651.75" width="18.40" height="11.65" fill="#edbd89" fill-opacity="0.50" stroke="#6a6a90" stroke-width="0.5" stroke-opacity="0.22"/>
</g>
<rect x="186.30" y="560.80" width="487.70" height="90.40" fill="#fddcd6"/>
<path d="M187.90 561.00 V1033.10 H203.60 V561.00" fill="none" stroke="#4a3f3c" stroke-width="3.40"/>
<path d="M344.60 561.00 V914.90 H360.10 V561.00" fill="none" stroke="#4a3f3c" stroke-width="3.40"/>
<path d="M501.10 561.00 V967.50 H516.00 V561.00" fill="none" stroke="#4a3f3c" stroke-width="3.40"/>
<path d="M657.20 561.00 V845.50 H672.40 V561.00" fill="none" stroke="#4a3f3c" stroke-width="3.40"/>
<rect x="187.80" y="560.80" width="484.70" height="90.40" fill="none" stroke="#a8323a" stroke-width="3.6"/>
<path d="M717.6 541.2 L688 561.8 L688 650.4 L717.6 876.2" fill="none" stroke="#a8323a" stroke-width="3.00" stroke-linejoin="miter"/>
<text x="724.07" y="563.00" font-size="22.86" textLength="72.23" lengthAdjust="spacingAndGlyphs" fill="#1c1c1c">Utp14b</text>
<text x="723.96" y="589.74" font-size="22.76" textLength="63.51" lengthAdjust="spacingAndGlyphs" fill="#1c1c1c">Fabp4</text>
<text x="723.73" y="616.48" font-size="22.92" textLength="72.23" lengthAdjust="spacingAndGlyphs" fill="#1c1c1c">Isg20l2</text>
<text x="725.30" y="643.22" font-size="22.58" textLength="54.77" lengthAdjust="spacingAndGlyphs" fill="#1c1c1c">Txnip</text>
<text x="725.30" y="669.96" font-size="22.86" textLength="70.94" lengthAdjust="spacingAndGlyphs" fill="#1c1c1c">Trmt13</text>
<text x="724.09" y="696.70" font-size="23.17" textLength="160.65" lengthAdjust="spacingAndGlyphs" fill="#1c1c1c">1600014C10Rik</text>
<text x="723.96" y="723.44" font-size="22.76" textLength="64.75" lengthAdjust="spacingAndGlyphs" fill="#1c1c1c">Hook2</text>
<text x="723.96" y="750.18" font-size="22.86" textLength="44.83" lengthAdjust="spacingAndGlyphs" fill="#1c1c1c">Elp6</text>
<text x="723.96" y="776.92" font-size="22.86" textLength="52.29" lengthAdjust="spacingAndGlyphs" fill="#1c1c1c">Nsd1</text>
<text x="723.96" y="803.66" font-size="22.76" textLength="57.28" lengthAdjust="spacingAndGlyphs" fill="#1c1c1c">Ptk2b</text>
<text x="724.78" y="830.40" font-size="22.76" textLength="57.28" lengthAdjust="spacingAndGlyphs" fill="#1c1c1c">Scaf4</text>
<text x="723.96" y="857.14" font-size="22.76" textLength="62.26" lengthAdjust="spacingAndGlyphs" fill="#1c1c1c">Eva1c</text>
<text x="725.09" y="883.88" font-size="23.01" textLength="69.74" lengthAdjust="spacingAndGlyphs" fill="#1c1c1c">Zfp943</text>
<line x1="121.75" y1="532.20" x2="121.75" y2="1156.00" stroke="#000" stroke-width="2.30" stroke-linecap="butt"/>
<line x1="114.50" y1="1154.80" x2="122.00" y2="1154.80" stroke="#000" stroke-width="1.80" stroke-linecap="butt"/>
<text x="94.32" y="1160.10" font-size="26.33" textLength="14.07" lengthAdjust="spacingAndGlyphs" fill="#000">0</text>
<line x1="114.50" y1="999.40" x2="122.00" y2="999.40" stroke="#000" stroke-width="1.80" stroke-linecap="butt"/>
<text x="80.25" y="1004.70" font-size="26.33" textLength="28.14" lengthAdjust="spacingAndGlyphs" fill="#000">50</text>
<line x1="114.50" y1="844.00" x2="122.00" y2="844.00" stroke="#000" stroke-width="1.80" stroke-linecap="butt"/>
<text x="66.18" y="849.30" font-size="26.33" textLength="42.21" lengthAdjust="spacingAndGlyphs" fill="#000">100</text>
<line x1="114.50" y1="688.60" x2="122.00" y2="688.60" stroke="#000" stroke-width="1.80" stroke-linecap="butt"/>
<text x="66.18" y="693.90" font-size="26.33" textLength="42.21" lengthAdjust="spacingAndGlyphs" fill="#000">150</text>
<line x1="114.50" y1="533.20" x2="122.00" y2="533.20" stroke="#000" stroke-width="1.80" stroke-linecap="butt"/>
<text x="66.18" y="538.50" font-size="26.33" textLength="42.21" lengthAdjust="spacingAndGlyphs" fill="#000">200</text>
<line x1="117.00" y1="1154.80" x2="726.30" y2="1154.80" stroke="#000" stroke-width="2.00" stroke-linecap="butt"/>
<line x1="195.40" y1="1154.80" x2="195.40" y2="1163.60" stroke="#000" stroke-width="1.80" stroke-linecap="butt"/>
<line x1="349.00" y1="1154.80" x2="349.00" y2="1163.60" stroke="#000" stroke-width="1.80" stroke-linecap="butt"/>
<line x1="502.00" y1="1154.80" x2="502.00" y2="1163.60" stroke="#000" stroke-width="1.80" stroke-linecap="butt"/>
<line x1="665.00" y1="1154.80" x2="665.00" y2="1163.60" stroke="#000" stroke-width="1.80" stroke-linecap="butt"/>
<text x="139.10" y="1190.70" font-size="28.88" textLength="115.42" lengthAdjust="spacingAndGlyphs" fill="#000">D20vsD4</text>
<text x="294.50" y="1190.70" font-size="28.91" textLength="115.53" lengthAdjust="spacingAndGlyphs" fill="#000">D40vsD4</text>
<text x="449.89" y="1190.70" font-size="28.96" textLength="115.73" lengthAdjust="spacingAndGlyphs" fill="#000">D90vsD4</text>
<text x="598.98" y="1190.70" font-size="29.17" textLength="132.15" lengthAdjust="spacingAndGlyphs" fill="#000">D180vsD4</text>
<text transform="translate(45.50 948.00) rotate(-90)" x="-2.29" y="0" font-size="28.04" textLength="236.31" lengthAdjust="spacingAndGlyphs" fill="#000">Number of variants</text>
<defs><linearGradient id="pb" x1="0" x2="0" y1="0" y2="1"><stop offset="0" stop-color="#b4bcea"/><stop offset="1" stop-color="#a6aee0"/></linearGradient><linearGradient id="po" x1="0" x2="0" y1="0" y2="1"><stop offset="0" stop-color="#f6a877"/><stop offset="1" stop-color="#e28a52"/></linearGradient></defs>
<circle cx="197.30" cy="1276.80" r="71.00" fill="url(#pb)"/>
<path d="M197.30 1276.80 L197.30 1205.80 A71.00 71.00 0 0 0 141.93 1321.24 Z" fill="url(#po)" stroke="#1f1a1a" stroke-width="2.70" stroke-linejoin="miter"/>
<text x="139.99" y="1264.00" font-size="22.00" textLength="35.27" lengthAdjust="spacingAndGlyphs" fill="#111">152</text>
<text x="221.79" y="1302.00" font-size="20.89" textLength="33.49" lengthAdjust="spacingAndGlyphs" fill="#111">273</text>
<circle cx="353.00" cy="1276.80" r="71.00" fill="url(#pb)"/>
<path d="M353.00 1276.80 L353.00 1205.80 A71.00 71.00 0 0 0 308.45 1221.52 Z" fill="url(#po)" stroke="#1f1a1a" stroke-width="2.70" stroke-linejoin="miter"/>
<text x="317.26" y="1236.30" font-size="21.04" textLength="33.73" lengthAdjust="spacingAndGlyphs" fill="#111">114</text>
<text x="374.45" y="1302.00" font-size="21.19" textLength="33.98" lengthAdjust="spacingAndGlyphs" fill="#111">942</text>
<circle cx="511.50" cy="1276.80" r="71.00" fill="url(#pb)"/>
<path d="M511.50 1276.80 L511.50 1205.80 A71.00 71.00 0 0 0 446.06 1304.34 Z" fill="url(#po)" stroke="#1f1a1a" stroke-width="2.70" stroke-linejoin="miter"/>
<text x="459.83" y="1258.80" font-size="20.03" textLength="32.11" lengthAdjust="spacingAndGlyphs" fill="#111">131</text>
<text x="530.88" y="1302.00" font-size="21.17" textLength="33.95" lengthAdjust="spacingAndGlyphs" fill="#111">287</text>
<circle cx="667.20" cy="1276.80" r="71.00" fill="url(#pb)"/>
<path d="M667.20 1276.80 L667.20 1205.80 A71.00 71.00 0 0 0 631.79 1215.26 Z" fill="url(#po)" stroke="#1f1a1a" stroke-width="2.70" stroke-linejoin="miter"/>
<text x="639.71" y="1234.60" font-size="22.04" textLength="23.56" lengthAdjust="spacingAndGlyphs" fill="#111">92</text>
<text x="682.09" y="1302.00" font-size="20.53" textLength="49.75" lengthAdjust="spacingAndGlyphs" fill="#111">1,015</text>
<rect x="132.00" y="1372.70" width="11.20" height="11.20" fill="#f0a070"/>
<rect x="132.00" y="1400.40" width="11.20" height="11.20" fill="#b0b8e8"/>
<text x="148.41" y="1384.40" font-size="19.83" textLength="340.80" lengthAdjust="spacingAndGlyphs" fill="#111">Variants in more than two comparisons</text>
<text x="148.41" y="1412.20" font-size="19.83" textLength="274.26" lengthAdjust="spacingAndGlyphs" fill="#111">Variants only in the comparison</text>
<line x1="1007.60" y1="687.00" x2="1007.60" y2="1030.40" stroke="#000" stroke-width="2.50" stroke-linecap="butt"/>
<line x1="998.00" y1="688.20" x2="1008.60" y2="688.20" stroke="#000" stroke-width="2.40" stroke-linecap="butt"/>
<text x="953.55" y="693.90" font-size="26.33" textLength="28.14" lengthAdjust="spacingAndGlyphs" fill="#000">10</text>
<line x1="998.00" y1="802.00" x2="1008.60" y2="802.00" stroke="#000" stroke-width="2.40" stroke-linecap="butt"/>
<text x="975.79" y="806.40" font-size="26.33" textLength="14.07" lengthAdjust="spacingAndGlyphs" fill="#000">5</text>
<line x1="998.00" y1="915.60" x2="1008.60" y2="915.60" stroke="#000" stroke-width="2.40" stroke-linecap="butt"/>
<text x="976.12" y="921.10" font-size="26.33" textLength="14.07" lengthAdjust="spacingAndGlyphs" fill="#000">0</text>
<line x1="998.00" y1="1029.20" x2="1008.60" y2="1029.20" stroke="#000" stroke-width="2.40" stroke-linecap="butt"/>
<text x="952.92" y="1034.00" font-size="25.81" textLength="28.85" lengthAdjust="spacingAndGlyphs" fill="#000">−5</text>
<line x1="1016.20" y1="1099.20" x2="1368.20" y2="1099.20" stroke="#000" stroke-width="2.50" stroke-linecap="butt"/>
<line x1="1017.40" y1="1098.20" x2="1017.40" y2="1108.20" stroke="#000" stroke-width="2.40" stroke-linecap="butt"/>
<text x="989.91" y="1135.90" font-size="25.99" textLength="42.92" lengthAdjust="spacingAndGlyphs" fill="#000">−10</text>
<line x1="1104.50" y1="1098.20" x2="1104.50" y2="1108.20" stroke="#000" stroke-width="2.40" stroke-linecap="butt"/>
<text x="1085.48" y="1135.90" font-size="25.81" textLength="28.85" lengthAdjust="spacingAndGlyphs" fill="#000">−5</text>
<line x1="1191.80" y1="1098.20" x2="1191.80" y2="1108.20" stroke="#000" stroke-width="2.40" stroke-linecap="butt"/>
<text x="1180.96" y="1135.90" font-size="26.33" textLength="14.07" lengthAdjust="spacingAndGlyphs" fill="#000">0</text>
<line x1="1279.30" y1="1098.20" x2="1279.30" y2="1108.20" stroke="#000" stroke-width="2.40" stroke-linecap="butt"/>
<text x="1266.84" y="1135.90" font-size="26.33" textLength="14.07" lengthAdjust="spacingAndGlyphs" fill="#000">5</text>
<line x1="1367.00" y1="1098.20" x2="1367.00" y2="1108.20" stroke="#000" stroke-width="2.40" stroke-linecap="butt"/>
<text x="1343.56" y="1135.90" font-size="26.33" textLength="28.14" lengthAdjust="spacingAndGlyphs" fill="#000">10</text>
<text x="1130.18" y="1178.20" font-size="28.47" textLength="110.17" lengthAdjust="spacingAndGlyphs" fill="#000">UMAP_1</text>
<text transform="translate(951.50 923.70) rotate(-90)" x="-2.15" y="0" font-size="28.80" textLength="111.45" lengthAdjust="spacingAndGlyphs" fill="#000">UMAP_2</text>
<path d="M1127.2 739.1h0m4 .1h0m4.5-.6h0m.1 .3h0m9.5-.8h0m7.8-.8h0m2.1 .4h0m-40.7 4.5h0m3.2-1.6h0m7 1.8h0m1.9-2.3h0m1 1.8h0m1.9 .6h0m1.1-2.7h0m3.5 .1h0m1.1 1.8h0m19-1.1h0m4-.4h0m-45.3 3.1h0m.5 1.2h0m.1-.8h0m1.1-1.2h0m3.1 2.1h0m.2 .5h0m5.2-1.1h0m5.5 .7h0m6.5 0h0m16.5-.6h0m4.3-.3h0m3.9 1.3h0m-28.3 .6h0m3.5 .3h0m4.4 2.3h0m1.4-1.3h0m1.7-1.5h0m1.5 1.6h0m4.8-.4h0m3.9-1h0m5.7 2.7h0m.9-2.7h0m4 .8h0m1.5 1.3h0m2.2-.9h0m-47.7 1.6h0m4.1 1h0m4.4 .3h0m.2 1.6h0m1.7-1.4h0m.3 .9h0m1.7-1.3h0m3.5 1.2h0m3.7-1.2h0m2.7-.6h0m1.1-.3h0m14.2 1.2h0m2.8 .8h0m.9 0h0m.1-.5h0m3.5-1h0m-32.2 5.3h0m5-1.9h0m.4 .9h0m2.9-.5h0m4.9-.5h0m5.6-.9h0m2.3 1.6h0m2 .6h0m1.4-2.2h0m.1 .9h0m.1 .5h0m.7-1.2h0m2 .6h0m2.3-.4h0m1.1 1.8h0m2.8 .3h0m1.8-1.7h0m.3 .3h0m.1 0h0m5.5 .3h0m.6-.4h0m-48.7 4.1h0m8.2-.9h0m1.8-.8h0m1.5 0h0m1.3 .4h0m.5-.5h0m4.1-.3h0m4.8 .5h0m1.5 .3h0m.9 .9h0m2.5-1h0m2.6 .7h0m1.2 1.3h0m2.5-.4h0m.8-1.6h0m.9-.5h0m4.1 2.2h0m.7-.4h0m3.4 .2h0m-40 2.8h0m3.2 .1h0m0-.7h0m3 1h0m.8-.4h0m7.6-1.5h0m1.5 1.1h0m8.3 .1h0m1.3 .8h0m.1-.2h0m.6-.3h0m1-.7h0m1.1 .2h0m7.5-1.3h0m1.7 1.2h0m-35.6 1.6h0m2.1 .9h0m4.3 2h0m2.6-2.1h0m10.2 2h0m2-.2h0m1.9-.6h0m0 0h0m.5-1.5h0m.8 1.5h0m6.9-1.7h0m4.5 2.5h0m.9-2.7h0m1.7 2.1h0m.5-.8h0m1-.6h0m3.3 1h0m7.2-1.5h0m-55.6 2.9h0m9 1.6h0m7.4-1.3h0m7.5-.2h0m1.3 .9h0m1.3-1.1h0m3.1 .3h0m.9 1.2h0m11.5 1h0m2.3-.3h0m.5-2.1h0m1.4 2.6h0m9-2.5h0m1.2 1.5h0m.5 .9h0m2.2-.3h0m-58.1 1.6h0m.3 1.5h0m0-1.4h0m8.4 1.7h0m10.7-1.7h0m.3 .8h0m13.3 .4h0m2-1.3h0m3.4 .4h0m7-.3h0m3.5 .1h0m.9 .9h0m2.1 .6h0m1-1.7h0m1-.4h0m3.4 1.9h0m2.9-1.1h0m.6-1h0m-64.3 3.9h0m.6-.7h0m3.4 .1h0m.9 1.5h0m2.5 .5h0m2.8-1.6h0m.4-.7h0m3.4-.1h0m0 .6h0m.6 1.6h0m3.4-.7h0m.5-.2h0m4.5 1.1h0m1.6-.9h0m11.9 .1h0m3 .6h0m1.5-2.1h0m.7 1.6h0m.4-.1h0m5.2 .2h0m.3-1.3h0m4.1 1.1h0m2.5-.6h0m3.9 0h0m2-1.2h0m3 .2h0m.3 1h0m-62.5 2.2h0m2.7 2.3h0m.3-2.8h0m1 .7h0m.8-.7h0m.2 2.2h0m1.1 .1h0m.3-1.4h0m.9 .7h0m1.3-.1h0m1.7 1.2h0m11.4 0h0m1.8-1.2h0m10.5-1.1h0m1.9 0h0m.2 2h0m.8-1.4h0m.3 .6h0m.4-.3h0m6.5 .2h0m4.3 .1h0m4.5 .4h0m1.4-.5h0m9.9 .8h0m.3-1.6h0m-69.4 4.9h0m1.9-1.4h0m9.8 .2h0m.9 .2h0m1.3 .1h0m1.7 1.1h0m.8-.4h0m4.8 .3h0m1.5-1.6h0m.4 0h0m.2 .7h0m.9 .7h0m4.2-2h0m3.5-.5h0m9.1 .1h0m.6 2.3h0m3.5-1.9h0m.7 1.2h0m.1 .4h0m1.9 .3h0m2.1-.6h0m3.4 .2h0m1 .3h0m4.2-.2h0m3.6 .6h0m0-.3h0m2.6-.4h0m3.6-1.2h0m1.9-.2h0m2.5 1.5h0m-72.7 2.5h0m8.4-1h0m5.7 1.3h0m.3 .9h0m.8-2.5h0m7.6 1.3h0m.2 .1h0m.6-1.1h0m.8-.6h0m4.4 1.6h0m1.3 .5h0m9-.5h0m3.7-1.2h0m.7 1.9h0m.3-2.2h0m1 1.6h0m.2-1.1h0m1.4 1.5h0m1.2 .6h0m4-.9h0m0-.6h0m11.6-.2h0m9.2 .2h0m1.2 .9h0m-76 3.6h0m2.4-2.7h0m3.9 1h0m6.3 1.6h0m2.1-.9h0m3.7-1.3h0m.4 1.6h0m.4-.1h0m.3-.7h0m2.3 .9h0m6.9 .3h0m.8-1h0m1.7 1h0m6.9-1.2h0m5.3 .2h0m4.7-.2h0m1.5 1.5h0m.3-1.5h0m2.8-1h0m3 1.7h0m.4-.6h0m.6 1h0m.2-.9h0m.7-.9h0m1 2.1h0m.3-1.7h0m1.2-.5h0m16.9 1h0m-80 3.8h0m5.1-.4h0m2-1.5h0m.5-.3h0m.4 1.5h0m1 .1h0m9.8 .6h0m.1-1.3h0m.3-.9h0m.7 1.7h0m1.4-.1h0m.6-1h0m1.6 1.3h0m15.7-.8h0m3.8-1.1h0m1 2h0m.9-.6h0m4-.7h0m8 1.1h0m3.4 .1h0m3.6-.1h0m16.5-.6h0m.8 .9h0m-79.1 2.9h0m.5 .9h0m3.2-1.3h0m15.6-1.2h0m.3 1.6h0m1.1-1.6h0m2.4-.1h0m3.3 .6h0m5 .8h0m2.4-1.4h0m2.4 2.2h0m3.9-.7h0m2.3-.4h0m4 1h0m3.6 .1h0m7.1-1.9h0m.5 1.1h0m11.2-.1h0m12.1 .7h0m-85.7 2.5h0m2.6 .3h0m3.9 .1h0m.8-1.8h0m0 .6h0m12.8 .7h0m1.9-1.4h0m.6 1.8h0m1.4-1.2h0m1.2-.8h0m1.6-.1h0m1 .4h0m.9 2.4h0m4-2.8h0m5.7 .2h0m10.7 0h0m9.1 2.6h0m6.4-2.5h0m3.3 2.1h0m.2-1.6h0m1.7 .3h0m2.3 .7h0m14.8-.8h0m-86.2 3.3h0m2.9 .8h0m1.1 .4h0m.6-1.7h0m2.3 1.3h0m1.2 .2h0m1.7-.9h0m9.5-.2h0m1-.7h0m2.6 0h0m.5 .3h0m.6 .2h0m3-.6h0m.3 .3h0m2.8 .2h0m.4-.6h0m.5 1.9h0m1.3-.6h0m2.9 .2h0m2.3 .9h0m1.6 .1h0m2.7-2.7h0m12.3 1.1h0m4.9 .4h0m1.1-.8h0m1.7 .1h0m2.6 0h0m1.7 .1h0m1.1-.8h0m.3 0h0m.5 2.5h0m1.7-.4h0m.4-2.1h0m1.6-.3h0m4.5 2.2h0m5.6-.9h0m2.7 .7h0m3.7 .1h0m-83.5 1.9h0m.6 .7h0m1.6 1h0m.6-.7h0m2.7-.6h0m6.7 1.4h0m1.5-.7h0m4.7-.2h0m1.3 1h0m4.2-1.5h0m1.3-.3h0m1.1 .6h0m.3 1.3h0m1.9-1.1h0m1.1-.8h0m1.1 .3h0m1.9 0h0m.7 1.1h0m1.4-1.2h0m1.8 1.4h0m2-1.8h0m2.7 1.9h0m14.2-2.7h0m2.5 .3h0m.2 1h0m.6-1h0m1.1 1.3h0m.9-.4h0m1.3 .1h0m4.9-1.4h0m2.5 .9h0m.9-.1h0m9.2 .9h0m1.7 .6h0m9.7 .4h0m.9-.6h0m.1-.6h0m.3 .1h0m.3-.2h0m-97 3.9h0m.4 .6h0m2.5-1.3h0m6.1 .5h0m14.9-1.4h0m2.6-.2h0m.3 .9h0m3-1.4h0m3.2 2.9h0m7.7 0h0m.7-2.4h0m1 1.9h0m3.3-1.6h0m.8 1.5h0m.8-.4h0m4.9 1h0m1.5-1.1h0m.6-.9h0m.4 1.8h0m7-2.6h0m.7 .8h0m1.1 .5h0m10.8 0h0m11.5 .6h0m2.1-.9h0m2.3 1.8h0m2.1-.7h0m3.4-1.5h0m1.9-.5h0m3.7-.1h0m1.9 .9h0m-108.7 4h0m1 .2h0m1.2-.2h0m4.1-.5h0m.8 .2h0m4.9-1h0m.4 1.2h0m16.5-.4h0m.7-.1h0m1.5 .2h0m10.3 .6h0m1.6 .6h0m3.3-2.2h0m.9 .3h0m1-.1h0m1.8-.1h0m.7 1.8h0m1-2.3h0m1.8 2.4h0m.1-1.5h0m3.8 .5h0m.2 1h0m1-1.1h0m.8 .5h0m.4 0h0m1.7 .3h0m1.3-.5h0m23.8 .4h0m22.2 .1h0m.3 .7h0m.2-2.3h0m-111.2 3.9h0m.8-1.4h0m1.3 1.1h0m1.5 1.2h0m.2-1.4h0m4.9 .3h0m1.3 0h0m.6 1h0m2.1-1.7h0m3.4 .9h0m.4-1.1h0m6.2 .7h0m1.4 1h0m1.7-1.2h0m.6 1.7h0m.4 .1h0m.1-1.3h0m3.5 1.3h0m2.8-.1h0m1.6 0h0m2.6-2.4h0m5.9 2.1h0m.2-2h0m.8-.3h0m.5 1.9h0m2.9-1h0m1.2-.3h0m8.4-.4h0m1.1 1.5h0m.1-1.2h0m16 2.3h0m23.1-1.7h0m7-1.1h0m.4 2.2h0m6 .4h0m.7-.8h0m-99.4 2.9h0m.2 .4h0m.9-.8h0m2.2-1.4h0m.6 1.4h0m2.4-.6h0m.8 1h0m3.8 .1h0m.3-1.5h0m3.1 1.9h0m1.8-.6h0m8.9-1.5h0m2.1 1.6h0m30-1.3h0m3.5 .7h0m32.9 .8h0m.6-.6h0m1.1 .5h0m1.1-1.2h0m.6 1h0m2.7-1.7h0m-94.1 4.8h0m1.5-.5h0m5.8 .8h0m.2-1.2h0m1.3 1.3h0m10.6-.8h0m10-.7h0m7 .6h0m4.5-.2h0m41.7 .7h0m2.5-1.2h0m1.6 2.2h0m1.1-2.6h0m1 1.6h0m2.1-1.8h0m.3 1.1h0m-111.9 3.1h0m.3 .2h0m1.3 .3h0m1 .5h0m4.6 .3h0m4.8-.1h0m9.3 .5h0m1.5-2.8h0m1.4 .6h0m.5 1.7h0m1.6-.4h0m10.1 .8h0m2.2-.9h0m2-1.2h0m7.8-.5h0m0 1.1h0m1.1 1.5h0m2.2-2.3h0m6.1 .7h0m18.2 1.5h0m.3-.7h0m2.7 .5h0m4-.9h0m.4-.7h0m1.8-.3h0m1.1 .6h0m1.4 1.5h0m2.9-1.7h0m2.2 .8h0m.1-1.4h0m.6 .8h0m.6 .5h0m1.2 .5h0m.3-1.6h0m.9 .9h0m2.3-.6h0m1.1 1.5h0m.1-.9h0m10.2 .3h0m.6 1.1h0m1.6-2.1h0m-113.5 4.3h0m1.2-1.3h0m3.5-.7h0m.1 1.7h0m2.8 .7h0m.1-.8h0m1.6-.7h0m2.2-.1h0m1.9-.7h0m5.6 .8h0m1.1 .5h0m1.9 .3h0m.8-1.4h0m.6 2.6h0m2-.7h0m3.3-2.1h0m2.7 2.7h0m10.6-1.2h0m2.1 .9h0m9-.5h0m.8-.9h0m6.4 1.4h0m6.3-1.9h0m7.7 1.7h0m1.1-1.8h0m.5 1.6h0m1.3-.7h0m.5-1.1h0m5.6 .1h0m4.5-.2h0m1 .1h0m2 1h0m1.6 .9h0m2.1-1.7h0m6.8-.3h0m.1 1.5h0m.8-.3h0m8.3-1.1h0m.3 .4h0m1 1.1h0m1.1-.7h0m-113.9 2.2h0m2 2.5h0m1.1-.7h0m4.7 .1h0m2.6-1.2h0m1.8-.9h0m13.4 2.1h0m4.8-1h0m1.5-1.1h0m13.3 .2h0m.7 1.3h0m.8 .3h0m.4-.4h0m.2 .4h0m.3-.9h0m.4 .3h0m2.4-.7h0m2.4 .4h0m.9 0h0m.9-.3h0m1.2-.8h0m.2 1h0m.1-.3h0m2.4-.1h0m2.1 0h0m4.3-.3h0m.7-.2h0m.3 2.1h0m1.7-.6h0m3-1.4h0m2.5 2h0m.6 .3h0m3.7-2.4h0m0 .7h0m4.3 1.9h0m5.3-1.1h0m.2 .5h0m1.7-2h0m2.3 .9h0m7.6 1.1h0m.6-.8h0m11.5-.7h0m-106.6 3.8h0m.5 .6h0m1.1-.3h0m1-1.3h0m.1 .6h0m1.3 1.2h0m7.9-2h0m7.4 1.3h0m3 .7h0m4.8-1.4h0m0-.4h0m2.1 .1h0m1.8 2h0m16.3 0h0m1-1.2h0m7 1.5h0m1.6-1.7h0m2.3 1.4h0m.1-1.5h0m1.7 .9h0m4-.7h0m.3 1.3h0m13-1.3h0m3.9-.6h0m10.7-.1h0m.6 .8h0m.8 1.1h0m1.3-.1h0m-95.5 2.3h0m1.6-.9h0m14.3 .2h0m1.6 .6h0m4.4 .2h0m1.8 .6h0m6.9-1.8h0m1.8 .3h0m10.5 1.7h0m8-2.1h0m3.1-.1h0m2.7 2.3h0m4.9-1.3h0m1.6 1h0m2.2-1.2h0m6.6 .9h0m1.8-1.3h0m7.5 .5h0m.1-.1h0m.2 .5h0m11.4-.7h0m1.3-.8h0m2 1.8h0m-91.8 1.4h0m10.9 1.6h0m1.7 .1h0m5.6-.7h0m8.7-.9h0m4.2 2.2h0m3.5-.2h0m2.5-1.7h0m1.5 1.4h0m.4 0h0m0-2h0m1.7 1.5h0m12.1-1.3h0m4.7 2.1h0m.4-.6h0m3.3-1.8h0m6.7 .7h0m.2 0h0m3.2-.5h0m1.2 0h0m4 0h0m.5-.2h0m13.9 2.1h0m-79.9 1.1h0m7.9 .2h0m2 1.8h0m7.9 .7h0m1.6 .1h0m1-1h0m1-.6h0m3.8-.7h0m2.4 .5h0m14.8-.2h0m2-.8h0m.4 0h0m.8-.1h0m4.4 .4h0m.5 .8h0m.9 .3h0m1.4-1.4h0m.3 .8h0m.2 1.6h0m.4-.8h0m34.5 1h0m1-1.4h0m1.5 1.3h0m1.7 .1h0m0-.9h0m.3-1.3h0m-85.9 5.4h0m2.2-1.1h0m.7-1.5h0m3.6 2.2h0m.7-2.1h0m.3 1.8h0m2.4-.1h0m4.3 0h0m1.2-.5h0m.1-.2h0m2.5 1.2h0m.4-1.7h0m1.1-.9h0m2.6 1.3h0m2.2-.6h0m.1 .2h0m1.8 .9h0m.3 .1h0m1-.6h0m3.5 .4h0m3.6 .2h0m1.2-1.3h0m.6-.1h0m2.7 1.3h0m1.3 .8h0m4.3-1.2h0m1.4-1.1h0m.3 2.1h0m.3-1h0m.5 .5h0m27.4 .5h0m.6-1.8h0m.7 1.2h0m-76.2 3.6h0m.4-1.9h0m2 .1h0m1.9 1.9h0m6.2-2.2h0m4.2 .8h0m1.1 .2h0m2.4-.7h0m1.2 1.2h0m1.2 .7h0m.7-.6h0m2.3-1h0m2.5 .9h0m1.7-.4h0m.5-1h0m4.4 2.2h0m5.4-.6h0m3.2-.5h0m1.1 .8h0m4.3-2.1h0m1.7 1.9h0m.2-1.9h0m2.8 2.3h0m.9-1.4h0m20.6 1.3h0m.5-1h0m2.9 .1h0m11.4-.8h0m-87.7 3.9h0m2.4-.8h0m1.5 .9h0m15.1-.9h0m.7 1.9h0m.5-2.6h0m4.8 .9h0m0 .6h0m.1-1h0m.4-.5h0m.2 .7h0m.9 1.2h0m5.5-1.7h0m.7 .5h0m11.9 1.7h0m4.3-1.6h0m.3-.7h0m.3 .2h0m.9-.1h0m.9 .4h0m21.2 .1h0m6.1 1.8h0m6-.9h0m3.3 .1h0m.7-.7h0m-92.2 4.5h0m.4-.4h0m1.6-.5h0m1.6-.7h0m.9 1h0m14.7-1h0m3.3-.4h0m2.6 1.4h0m4.7-.8h0m1.6 .9h0m.3-.8h0m6.9-.6h0m2.3 1.2h0m2.5-.6h0m1.6-.4h0m8.9-.7h0m25.6 1h0m1.1 .5h0m.5-1.6h0m4.8 .9h0m1.2 .4h0m.6 .7h0m1.4-1.4h0m-82.7 4.7h0m1.4-.1h0m2-2.1h0m12.2 .3h0m.5 .1h0m1.4 .9h0m.2 .1h0m.6 1.2h0m3.1-2.8h0m0 .5h0m7.4 1.4h0m11.6-.7h0m28 .1h0m2.1 0h0m.6-1h0m5.3 1.1h0m1.9 1.2h0m1.2-2.2h0m2.2 1.3h0m1.2-.5h0m2 1.7h0m-75.1 1.4h0m4.3-.2h0m1.2 .7h0m7.4-1.4h0m10 .3h0m34.8-.3h0m4.8 1.2h0m3.8-1h0m.4 2h0m1.5-1.6h0m.7-.5h0m1.1 2h0m0-1.1h0m.4-.6h0m2.7-.5h0m1.2 1.1h0m-77.6 2.6h0m9.2 1.7h0m2.2-1.5h0m4.1 .7h0m3.5-.4h0m8.9-1.5h0m40.4 .8h0m1.7 1.1h0m4-1.7h0m0 1.2h0m1.7 .9h0m.1-1.6h0m6.4-.7h0m-90.2 3.7h0m6.7 1h0m2.8-.6h0m.5-.4h0m.6 1.7h0m1.3-2.2h0m6.4 1.3h0m1.2-.8h0m.5-.4h0m.4 .9h0m.6 1.5h0m9.9-.1h0m44.8-.4h0m1.9-1h0m.9-.4h0m.8 1h0m1.9-1.4h0m6.1 1.8h0m3-1.7h0m.8 0h0m-87.3 4.7h0m.4-.8h0m1.5 .7h0m5.5-.9h0m4.9-.3h0m1.7 1.9h0m4.8-2h0m67.6 0h0m.6 0h0m-80.2 2.6h0m.6 .9h0m.3-1.3h0m.1 2.3h0m1.7-2h0m.8 1.1h0m.3 1.1h0m2.2-.9h0m4.4-1h0m58.9 .4h0m1.3-.3h0" fill="none" stroke="#9cd64a" stroke-width="2.40" stroke-linecap="square" stroke-opacity="0.75"/>
<path d="M1131.2 738.7h0m4 .2h0m5 .4h0m.2-2.7h0m3.5 2h0m.4-1.1h0m1.1 1.5h0m.3-1.6h0m.7 1.8h0m.5-1.5h0m1.1 1.3h0m1.1 .3h0m1.4-1.6h0m.2 .7h0m.5 .7h0m0-1.3h0m.8 .7h0m.5 .9h0m2.3-2.1h0m1.5 .9h0m0 .7h0m.3 .4h0m.1-1.4h0m0-1.2h0m.3 .1h0m.6 .3h0m2.2 .4h0m.2 1h0m.8 .4h0m1.1-.6h0m-45.8 3.6h0m.3-.8h0m.2 .3h0m1 .9h0m2.1-.9h0m.2-.1h0m.5-1.2h0m0 2h0m0-2.3h0m1.2 1.9h0m1-.6h0m.1 .6h0m.3-.4h0m0 .6h0m.4-.2h0m0-1.9h0m0 .2h0m.3 2.4h0m.4-1.7h0m.1 .3h0m.1 1.1h0m.4 0h0m.8-2.3h0m1 1.2h0m.1-.3h0m.3 1.7h0m0-1.3h0m.1 1h0m.1-2.5h0m.6 1h0m2.3 1.2h0m.3-.4h0m.6-1.4h0m1.6 .5h0m.8 .7h0m.4-.8h0m.5 1.8h0m.3-2.3h0m0 .1h0m.1 1.2h0m.3-1.4h0m.9 1h0m.8-.5h0m3.7 1.2h0m1.1 .9h0m.6-1.3h0m1 .1h0m1-1.1h0m0 1.8h0m.1-1.8h0m.6 2h0m.4-1.7h0m.3 .1h0m1.7 .3h0m.3 1.3h0m.3 .1h0m.1-2.5h0m.5 0h0m.1 0h0m1.2 2.5h0m.2 .1h0m.3-.1h0m.2-1.4h0m.7 1.6h0m.3-1h0m.3-.8h0m.3 1.3h0m.4-2.1h0m1.4 1.1h0m.1 .6h0m1 .3h0m2.4-.4h0m.6-1.3h0m.6 1.9h0m.6-2.1h0m4.4 2.5h0m.5-.8h0m.3 .9h0m.1 0h0m-50.5 2.3h0m.8-1.5h0m.3 1.6h0m.6-.9h0m.3-.9h0m.6 1.6h0m.1-.5h0m.5-.9h0m.9 1.4h0m0-1.3h0m2.2 1.2h0m.3-1.8h0m.1 1.1h0m.7-1.3h0m.4 1.8h0m.2 .6h0m0 .1h0m.2 .1h0m.5-2.6h0m1.7 2.7h0m0-1.2h0m1.3-1.3h0m.2 1.1h0m.2 1.3h0m.1-1.4h0m0 .8h0m1-.8h0m.6-1.2h0m.7 2.7h0m1.1-.1h0m.5 .1h0m2.6-1.2h0m.2-1.1h0m1.4 .8h0m.2-.6h0m.7 2h0m.6-.3h0m1.8-1h0m.1 1.5h0m1.1-1h0m0 1h0m.1-1.6h0m1.4 1.7h0m.9-.3h0m.1-.7h0m.9 .8h0m.8-2.3h0m.5-.1h0m1.2 .3h0m.9 1.4h0m1-.2h0m.1-.3h0m.2-.6h0m.3-.6h0m.6 1.3h0m2-.4h0m0 .1h0m.9-.5h0m.8-.2h0m1.6 1.8h0m.8 .3h0m.1-.1h0m.3-1.7h0m.1 .4h0m.2-.9h0m.6 1.7h0m.1 .5h0m0-2h0m1.4 1.7h0m.6-1.3h0m.9 1.6h0m1.8 .3h0m.3-.6h0m.9 0h0m1.7-.1h0m.1-.7h0m.1-.3h0m1-.7h0m-49.6 2.6h0m.8 1.1h0m1.1 .4h0m.1-1.5h0m.5 .4h0m.3-.1h0m.7-.1h0m.8-.2h0m.7 2.3h0m.3-1.4h0m.8 .1h0m.1-.5h0m1.2 .1h0m.6-.3h0m.2 .2h0m.4 .4h0m.1 .8h0m1.4 .1h0m1.2 .1h0m.4-1.3h0m.1 1.3h0m.7 .8h0m.4-2.5h0m.1 1.9h0m.4 .2h0m0-.4h0m0-.4h0m.2 .4h0m.9-1.1h0m.3-.2h0m0 1.6h0m2.8-1.3h0m.2 .6h0m.2 .7h0m.6-.4h0m.3 .8h0m.6-2.2h0m0 .7h0m.4-.9h0m0 .9h0m.3 1.3h0m.3-1.9h0m.7 1.4h0m.4-.4h0m.4 .5h0m.4 .7h0m.1-2.5h0m1.1 1.2h0m.2-.8h0m1.5 1.8h0m.7-1.7h0m.2-.2h0m.1 1.4h0m.8-.9h0m.7-.3h0m.5 .5h0m.7-1h0m1 2.2h0m.5-1.9h0m.2 2.3h0m1-.5h0m.8-.7h0m.8 .4h0m.2-.8h0m.5-1.2h0m.1 .1h0m.6-.3h0m.6 2.4h0m.2-1.5h0m.3-.8h0m1.1 2.2h0m0-2.2h0m1.1 2.2h0m1.9-.7h0m.2 1.3h0m.1-.2h0m.9-1h0m.1-1.6h0m.1-.1h0m1.8 .4h0m.1-.3h0m.3 .4h0m.3-.5h0m.3 1.8h0m.4-.8h0m.1 1.6h0m.9-.8h0m.9-1.7h0m.1 1h0m.2-.6h0m1.3 .3h0m1.2 2.1h0m.4-.5h0m.1 .4h0m0-.6h0m1.3-1h0m.8-.3h0m2.3 .8h0m.3 1.3h0m-49.1 1.2h0m.2-.6h0m.5 .7h0m.1-.8h0m.4 .5h0m1.2 1.6h0m.5-.5h0m.1-.8h0m.2 .1h0m.3 1.5h0m.2-1.1h0m.1 .9h0m.9-1.9h0m.2-.6h0m.4 .8h0m.1 .8h0m.6-1.8h0m.2 .7h0m.1-.1h0m1.7 .3h0m.5 2.1h0m.4-2.1h0m.3-.9h0m.3 1.5h0m.1 1.1h0m.3-.5h0m0-1.8h0m.5 2.2h0m.4-2.4h0m.2 2.3h0m.6-1.5h0m1.2 .7h0m1.8-1.2h0m.5 1.2h0m.1-1.3h0m.7 2h0m.2-.5h0m.5-1.2h0m.6-.1h0m.4 .2h0m.3 0h0m1 1.5h0m.2-1.7h0m1.9 1.7h0m0-.2h0m.3 .6h0m.2-1.3h0m.4-1.1h0m.1 1.4h0m1.2 1.3h0m.5-2.5h0m.3 1.4h0m.1-.5h0m0 .6h0m.1 .5h0m.7 .6h0m0-1.1h0m1.1-.8h0m2 1.5h0m1 .1h0m.6-2.4h0m.7 0h0m.3 .8h0m.5-.2h0m1.8-.6h0m.3 1h0m.4 .4h0m1.4-.3h0m.2 1.5h0m0-1.9h0m.3 .9h0m0-1.4h0m.3 .4h0m.8 .1h0m.5-.6h0m1.1 .8h0m.8 0h0m.2 1.7h0m.1-2.4h0m.4 2.4h0m.2-.5h0m.6 .2h0m0 .4h0m.1-3h0m1.1 1.6h0m1-1.2h0m0 1.8h0m.4-1.2h0m0 2h0m.9-2.4h0m.3-.2h0m.1 2.3h0m.6 0h0m.5-1.6h0m.6-.2h0m2.5 1.8h0m.6 .2h0m.3-.7h0m1 .3h0m.9-1.2h0m.6 .9h0m-49.8 .9h0m.7 .1h0m.6 2.4h0m.2-1.5h0m1 .5h0m.4 .3h0m.2 .7h0m.2-1.8h0m.4 .2h0m.5 1.8h0m1.2-1.6h0m0-.9h0m.1 .1h0m.4 1.9h0m0-1.1h0m.2-.2h0m.7 1.8h0m.7-.4h0m0 .3h0m.2 .1h0m.9-1.1h0m.4-1.7h0m.4 1.2h0m1.3 .2h0m1.7 .6h0m.1-.9h0m.2-1h0m1.7 2.8h0m.4-1h0m1.8 .9h0m.1-1.6h0m2 1.5h0m.1-.1h0m.7-1.9h0m.1 .1h0m.1-.1h0m.7 2h0m.1 .2h0m1.7-.6h0m1-1.5h0m.2 .2h0m.6-.8h0m1.2 1.7h0m0 .7h0m.3-.3h0m.5 .3h0m1-.1h0m.1-1.8h0m1.9 1h0m.6-.3h0m0-1.2h0m.1 .8h0m.5-.8h0m.4 2.2h0m.1-2.2h0m.5 1.8h0m.6-.3h0m.3 .4h0m.1-1.8h0m0 2.4h0m.1-2.1h0m.6 1.4h0m.3-1.2h0m.4 1.7h0m.4 .1h0m.1 .1h0m0-1.6h0m1.7-.4h0m.3 1.8h0m.4-2.5h0m.2 .4h0m.5 1.6h0m1 .1h0m.3-1.2h0m.6 1.8h0m1.3-1h0m.8-.5h0m.9 .4h0m0-.8h0m.6 .2h0m.2 1.4h0m.3-.6h0m1.2-1.4h0m.5 1.3h0m.5 .4h0m0 .2h0m.2-1.6h0m.3 1.5h0m0-1.3h0m1.1-.5h0m.2 1.2h0m.1-.5h0m.5-.9h0m.2 1h0m.2-.9h0m0-.1h0m1.2 1.6h0m.8-1.2h0m.7 1.2h0m.2 1h0m1 .2h0m-51.2 .7h0m1.4 .3h0m.4-.3h0m.2 .1h0m.2 .8h0m1.6 1.1h0m.1-2h0m1-.7h0m.4 1.7h0m.4-1h0m1.1 .3h0m.5 1.5h0m0 .3h0m.3-2.8h0m1.2 2h0m.4-.6h0m.3-.1h0m.3-.9h0m.4 1.7h0m.2 .8h0m1.1-2.2h0m0 .3h0m.3 .7h0m.4 .3h0m1.6-1h0m.4 .2h0m.1 1.6h0m.4-1.5h0m1.4 0h0m.2 .6h0m.1-1.7h0m.3 .4h0m1.2 .6h0m.6-.8h0m.3 1.2h0m.2-1.3h0m.4-.1h0m.1 .9h0m.7-.9h0m3.1 .5h0m.3 1.5h0m1-1h0m.2 1h0m.3 .8h0m1.1-1.7h0m0-1h0m0 1.1h0m.2 .6h0m1-.3h0m.2-.8h0m.8-.5h0m.2 1.4h0m0 .4h0m.5 0h0m2.4-1.3h0m0 1.9h0m.5-.6h0m.9-.1h0m.4-.3h0m.1 0h0m.4-.8h0m.3-.1h0m.4 .6h0m.3-.8h0m.1-.4h0m.7 .7h0m1.1 1.1h0m1-.4h0m.8 .3h0m1.2-.8h0m2.6 .2h0m1 .1h0m1.1 .8h0m1.2-1.3h0m1.3 .7h0m.4-.9h0m.2 .1h0m.6-.3h0m2.1-.1h0m.2 .6h0m1-.6h0m.7 1.1h0m.9-1.1h0m2.2 1.2h0m-52.9 2.3h0m.7 1.3h0m.7-1.1h0m2 1h0m.2 .7h0m.3-2.9h0m.5 2.8h0m.3-1.5h0m0 1.2h0m1-1h0m.1-1.1h0m.3 2.4h0m.1-.6h0m.9-2.1h0m.4 2.8h0m.4-.7h0m.2-.2h0m.3-1.3h0m.3 .7h0m.4-1.2h0m.3 .9h0m.5 .1h0m.6 1.3h0m.2-1.3h0m.8 1h0m.4-1.8h0m.1 2h0m.2 .1h0m2.5 .3h0m.7-2.4h0m.2 2.1h0m.8-.2h0m2.7 .3h0m0-2.4h0m.3 .1h0m.7 2.4h0m.8-1.4h0m.5-.7h0m.1 .9h0m.8 .9h0m3.2-.8h0m1.2-1h0m.3 .6h0m.6 .1h0m.6 1.5h0m.5-.2h0m.5 .3h0m.3-.7h0m.1-1.7h0m.2 .6h0m.4 .5h0m.5-1.3h0m.3 .7h0m.1 1h0m0 .8h0m.4-2h0m1.5 1.7h0m.8-.9h0m.1 1.3h0m.4-1.9h0m1.4-.2h0m.1 .6h0m.3-.1h0m1.2-.4h0m1.2-.3h0m.9 .4h0m.2 1.3h0m.2-1.6h0m.3 2.2h0m.1-1.3h0m2.4 1.4h0m0-2.4h0m.7 2.3h0m.4-1.1h0m.2 .9h0m.5-.6h0m.2-.9h0m.5 .9h0m0-1.1h0m.6-.1h0m.1 .4h0m.2 0h0m.1 .7h0m0 .4h0m1.1-2.2h0m.1 2.6h0m.1-.8h0m.3-.5h0m.2 1.1h0m.4-2.4h0m.3 2.3h0m1.8-1.7h0m.4 1.9h0m.2-1.9h0m.3 1.5h0m1.1-1.1h0m.1 1.4h0m.5-1.1h0m.9-.1h0m.3-.6h0m.6 .8h0m.3 .7h0m-55.1 .8h0m.3 1.6h0m.6-1.1h0m.8 1.9h0m1.1-.4h0m.8-1.5h0m0 .5h0m.3 .8h0m.8-.9h0m.1-.9h0m2 2.5h0m.9-1h0m.2 .8h0m.1 .6h0m1.1-2.8h0m1.4 2.3h0m.8 0h0m.1-2.3h0m.5 1.5h0m.2 .8h0m.8-.7h0m.8 .5h0m.4 .5h0m2.3-2.4h0m.3 .2h0m.5 .6h0m1.3 0h0m.3 .6h0m.7 .2h0m.2 .8h0m.1-.1h0m.2-.3h0m.5-1.4h0m.2 1.5h0m4 .3h0m.3-.4h0m.5-1.4h0m1.5-.3h0m.1 1.4h0m.1-2.1h0m1.8 .9h0m.3-.1h0m0-.3h0m.2 1.1h0m.2-.9h0m.1 1.4h0m0 .5h0m.2-.8h0m.2-1.2h0m.1-.2h0m.3-.1h0m.3 1.6h0m.2 .2h0m0 0h0m.9 .1h0m0-2h0m.8 .2h0m.6 1.3h0m.6-1.1h0m.1 .3h0m.9-.5h0m0 2.4h0m.7-1.1h0m.3-.4h0m.2 1.3h0m1.9-2.3h0m1 .1h0m0 .6h0m.2 .9h0m.7 1h0m0-2.9h0m.1 1.3h0m.6 .1h0m1.3-1.2h0m.1 2.3h0m.1-1.6h0m1.7-.8h0m0 1.3h0m.3 .9h0m1-1.9h0m.2 1.6h0m.6-.7h0m.1 .2h0m.1-.8h0m0 .1h0m.1 1.9h0m1.7-.8h0m.2-1.4h0m.1 2.1h0m.3 0h0m0-.9h0m1.1-1.7h0m1.1 2.2h0m1.2-.7h0m.8-1.4h0m.4 .2h0m3.9 1.9h0m-56.8 3.5h0m.4-1.2h0m1 1.4h0m.5-1.7h0m1.2 1.8h0m.6-2.8h0m1.5 .8h0m1.4-.2h0m0 2h0m.7-.4h0m.9-1.2h0m.9-.1h0m.3-1.1h0m1.7 1.2h0m.6-.7h0m1 .3h0m1.9 1.1h0m.6 .3h0m1.3-1h0m2.7 .7h0m1.2-1.3h0m1.4 .1h0m.7-.6h0m.8 1.3h0m1.1 1.2h0m.4 .2h0m1.1-1.1h0m1.1-1.3h0m1.7 1.4h0m2.7 .6h0m2.1-1.8h0m.5-.3h0m.5 2.3h0m.3-2h0m1 1.7h0m.3-.5h0m.1-.4h0m.6-.7h0m.1-.5h0m.2 .4h0m.1 .3h0m.6 1.8h0m.5-1.1h0m.1 .1h0m.1 .9h0m2.1-2.1h0m0-.4h0m.4 .2h0m.2 2.4h0m.3-.1h0m2.4 .3h0m.3-2.5h0m.2 2.5h0m.6-.2h0m.4-1.8h0m.2 1.3h0m.1-1.3h0m.2 .8h0m.4 1.2h0m1.1-.2h0m.5-.1h0m.5-2.5h0m.1 1.1h0m.5 .3h0m.1-1.5h0m.1 2.6h0m1.3-1.9h0m.1 2h0m2.2-1.7h0m.6 1.6h0m.4 .1h0m1-1h0m.7-.4h0m1.6 1.4h0m.3 .3h0m.9-1.5h0m.5-1.4h0m-61.7 3.3h0m1.8 2h0m.7-1.4h0m2.4-.1h0m.4 1.4h0m1.3-.6h0m.5-.7h0m1.3 1.5h0m.3-.4h0m0-.8h0m.1-1h0m2.3 1.1h0m.5 .5h0m.2 .1h0m.1-.8h0m.6 0h0m0-1.1h0m.8 .7h0m1-.6h0m.3 2h0m.2 .3h0m.3-1.3h0m.9 1.5h0m.5-1.6h0m.2 1.8h0m.1-1.4h0m.5-.4h0m1.2 1.5h0m.5-1.6h0m.6 1.3h0m.9-.9h0m.4 .1h0m1.3-.1h0m1.2 1h0m.5-.4h0m.8 .4h0m1.6-2.2h0m.3 2.4h0m.5-1.8h0m.6 .5h0m.1-.9h0m.7 .6h0m.5 .5h0m0 .6h0m.1-1.2h0m2.6 1h0m2.6-1.6h0m.2 1.1h0m.2-.2h0m.9 .9h0m.1-.5h0m.7 .4h0m.6-.3h0m1.2-1.5h0m.5 1.8h0m.3-.9h0m1.7 1.9h0m.4-.9h0m.1 .6h0m.7-.1h0m.2-1.2h0m.2 1.1h0m.7-1.3h0m.4-.7h0m.8 1.7h0m.1 .3h0m.3-1.5h0m0 .2h0m.2-.4h0m.3-.2h0m.3-.4h0m4 1.7h0m.7-.6h0m.2-.2h0m1.5-.8h0m.4 1.1h0m0-.3h0m.3-.2h0m.7 1.5h0m1.3 0h0m.2-.1h0m0-2.2h0m.7 1.3h0m.4 1.6h0m.5-1.7h0m.4-.5h0m.6 2h0m0-2.4h0m.8 2.2h0m.5-1h0m.5-1.3h0m.1 2.7h0m.4-.4h0m.3-1.8h0m1.4-.1h0m.5 .5h0m1.2 .3h0m.3-.2h0m0 1.5h0m2-.8h0m.5-.9h0m-66.4 3.4h0m.5-.1h0m.6 .6h0m2.5 .5h0m.1-1h0m.1-.8h0m.1 2.1h0m1.2-.5h0m0-.2h0m.7 .3h0m.5 0h0m1.3-2.2h0m0 .4h0m.1 1h0m1.9-.2h0m.2-.4h0m.9-.8h0m.1 1.4h0m.4-1.4h0m.4 .3h0m.1 1.8h0m.1-.6h0m.2 .6h0m.5-1.7h0m.3 .5h0m.1 1h0m.9-.6h0m1.2 .3h0m.7-.7h0m.6 1.7h0m.3-1.8h0m.2 1h0m0 .2h0m0-.9h0m.5-1.1h0m0 1.2h0m.1 .6h0m.5 .9h0m1.4 .1h0m0-.5h0m2 .4h0m.1-1.2h0m.3-1.3h0m.2 1.8h0m.1 .7h0m.4-.6h0m.1 .4h0m.1-2.4h0m.9 0h0m.2 1h0m.5-.1h0m.7 .2h0m1.5 .2h0m.6 1.3h0m.3-.6h0m2.2-.7h0m.5 .6h0m1.6 .7h0m.6-1.2h0m3.5 1.2h0m1.8-.3h0m.5 .2h0m1-.9h0m.2 .4h0m.2 .5h0m1.5-.3h0m1.4-2h0m2.3 .5h0m.6 .5h0m.1 .3h0m.6 1.1h0m.4-.3h0m.2-1.8h0m.2 1.5h0m2.1 .3h0m.4 0h0m0-2.4h0m.6 2.1h0m.2 .2h0m1.9-.5h0m3 .5h0m.4-1.6h0m.2 1.7h0m.6 .1h0m.4-2.4h0m.1 0h0m.4 1.8h0m.7-.8h0m0 .6h0m0-1.3h0m.3 1h0m.6-.6h0m.5 .6h0m.2-.6h0m.7-.9h0m.1 2.6h0m.9-1.1h0m.3 1.2h0m.3-1.3h0m0 .8h0m.9-.5h0m1.3-.9h0m.7 1.5h0m1.8 .1h0m1 .4h0m.5-1.7h0m.8 1.5h0m-68.3 2.3h0m.7-.6h0m.2-1h0m.9 .4h0m.7 1.3h0m3.9-.9h0m0 .3h0m.2-.7h0m.3 .7h0m.2 1.3h0m.5-1.8h0m.4-.1h0m.7 .7h0m0-1.2h0m.4-.1h0m.3-.2h0m.1 2h0m1.4 .1h0m.2-.6h0m.7-.5h0m.7 1.1h0m1.1-1.5h0m.3 1.3h0m.2-1.8h0m.2 1.7h0m1.2-1.1h0m.6 .6h0m.5 .8h0m.3 .2h0m.4-2h0m.3 .7h0m0-.2h0m.2 .4h0m.3 .5h0m.9 .3h0m.4-.3h0m.3 0h0m.6 1.1h0m1-2.1h0m.8 .8h0m0-.9h0m.3 2.3h0m.4-.6h0m1.4 .6h0m0-2.2h0m.2 .1h0m.1 .9h0m1.8 .5h0m.2-.3h0m1-.2h0m.1-.4h0m1-1.2h0m1.1 2.1h0m.4 0h0m1 .2h0m.1-.2h0m.3-2h0m3.4 .7h0m.4 1.4h0m.3 .1h0m.1-1.4h0m.6 1.7h0m.8-1.8h0m.6 .6h0m.2 .7h0m.3-.6h0m1.3 .2h0m.7-1.8h0m.3 1.7h0m.6-1h0m.8 1.8h0m.1 0h0m.5-2.4h0m.3 1.8h0m.8 .9h0m.2-2.7h0m.1-.2h0m.2 2.6h0m.4-.3h0m.5 .3h0m.3 .3h0m.8-2.5h0m.4 .1h0m.7 1.3h0m.2 1h0m.4-1h0m.1-.7h0m.2-1h0m1.3 2.3h0m1.7 0h0m.5 .2h0m.3-2.5h0m2.8 1.2h0m.7-.8h0m.4 1.1h0m.8-1h0m0-.3h0m.9 2.4h0m0-.4h0m.3-2.1h0m.3 1.6h0m.4 .4h0m.3-1.5h0m.6-.1h0m.9 .9h0m.2 .5h0m.2 .2h0m.2-1.1h0m0 1.9h0m.1-1.4h0m1.6 .3h0m.6-1h0m.3 .4h0m.2 .4h0m.7-1.7h0m.2 1h0m.2 1.9h0m.1-1.3h0m.6-.6h0m1.3 .1h0m.1 1.6h0m.5-1.5h0m.5 1h0m.1 .2h0m0-1.3h0m.4-.5h0m.1 2.3h0m-68.9 .7h0m1.2-.1h0m1.5 .1h0m2.2 2.2h0m1.4-1.3h0m.1-.1h0m.1-.5h0m.7 .8h0m.7 .5h0m.4-1.4h0m.1 1.9h0m.1-2.4h0m.1 2.6h0m.6 0h0m0-1.1h0m.3 0h0m.7 .6h0m1.7-.3h0m.1-1.2h0m0-.3h0m.8 1.4h0m.2-.9h0m0 .3h0m.2 .6h0m0 .5h0m.7-1.7h0m.3 .2h0m.5 .5h0m.8-1.4h0m.1 2.4h0m.9 .4h0m.6-2.2h0m.1 1.5h0m0-1.4h0m.3-.7h0m1.4 .4h0m.6-.3h0m.6 2.8h0m.4-.3h0m.9-.7h0m.6-.9h0m.1 1.5h0m.6-.4h0m.1-1.3h0m.2 1.3h0m.8-.3h0m.2 .2h0m.5-.9h0m.2 0h0m0 .8h0m1.1 .2h0m.4-1.2h0m.1 1h0m.2 .1h0m0 .2h0m.1-.1h0m.3-.3h0m.2-1.5h0m0 1.8h0m1.2-1.9h0m.2 .1h0m.1 0h0m1.5 2.1h0m.3-.5h0m.5 .4h0m.3-1.5h0m.7 1h0m1.4 0h0m.4 .7h0m4.2-1h0m.1-.3h0m1.3-.7h0m.9 1.6h0m1.1-1.6h0m.2 1.4h0m0-1.9h0m1.1 .1h0m.9 1.7h0m.1 .8h0m.7-2.2h0m.1 1.7h0m.3-1h0m.6 1.3h0m1.5-.5h0m.4-1.9h0m1 2.5h0m1.2-1.1h0m1.1-.1h0m.5 1.3h0m.2-1.6h0m.6 .1h0m.4 1.1h0m.1 .4h0m.3-.4h0m.6-1.8h0m0 .9h0m.8 .2h0m0 1.1h0m.1-1h0m.3 .1h0m.3-1h0m.1 1.6h0m.4-2h0m1 1.7h0m.9-.6h0m.9 1h0m1.9-1h0m.3-.3h0m.2 1.7h0m0-2.5h0m.1 .5h0m.8-.3h0m.1 1.7h0m.1 .4h0m.4-2.7h0m.6 1.5h0m.5-.8h0m0 1h0m.2-.8h0m.3 1.9h0m.3-2.6h0m.5 1.4h0m.5-1.1h0m.3 1.7h0m.3-1.2h0m1 .6h0m1.4-.7h0m.1 .7h0m2.2-.3h0m.6-.6h0m.4 1.7h0m-75.4 2.1h0m1.3 .7h0m.5-1.3h0m.4 .5h0m.2 .9h0m.1 0h0m.3-1.9h0m.1 .3h0m.2 1.1h0m.2-.5h0m.2 1h0m.3 .5h0m.1-1.9h0m.2 0h0m3.7-.7h0m.5 .6h0m.8 .4h0m1.1-1h0m.4 .4h0m0 1.8h0m1.2-1.1h0m.2 .5h0m.6 .1h0m.2-.1h0m.5 .9h0m1-2.2h0m.4 .8h0m.1 1.5h0m.1 .1h0m.2-.3h0m0-1.6h0m2.6-.6h0m0 .1h0m.5 .4h0m1.7 1.3h0m.7 .2h0m.5-.9h0m.4-.7h0m.1 1.7h0m.2-2.2h0m1.3 1.9h0m.2-.7h0m.1-.9h0m.4 1.9h0m1 0h0m.9-2.2h0m2.3 1.3h0m.4-.4h0m0 0h0m.3 1.5h0m.1-1.8h0m.1 .5h0m.1-1h0m1.5 1.7h0m.3 .2h0m.1-1.6h0m.4-.4h0m.3 0h0m.3 2.6h0m.5-2.8h0m.1 1.4h0m0 .9h0m.1-2.3h0m.4 .1h0m1-.1h0m.4 .8h0m4.2-.1h0m.1 .6h0m.2 1.4h0m1.6-1h0m.3 1.2h0m.3-1.9h0m.5 1.7h0m.3-2h0m0 1h0m.2-1.2h0m1.3 1.3h0m.1-1.4h0m.2 1.5h0m.4-1.7h0m.8 2.2h0m.1-.4h0m.2-2.1h0m.7 .9h0m.6-.3h0m1.1 1.1h0m0-1.7h0m.7 1h0m0-.8h0m1.9 1.2h0m.6 .4h0m.2 .4h0m.2-.7h0m.3 .5h0m.1-.7h0m.4 .6h0m.2 .2h0m.8-.5h0m2 .8h0m.1-.5h0m.1-.7h0m.3-.1h0m.2-.5h0m0 .7h0m.7 1.1h0m0-1.7h0m.9-.3h0m1.1 1h0m.1 1.2h0m0-.5h0m.8 .5h0m.2-.8h0m0-.4h0m0-.5h0m.8-.8h0m.4 .6h0m1.2 1.9h0m.1-1.7h0m.4 1h0m.8-.1h0m.2 .6h0m0-1.1h0m.1 1.4h0m0-1.8h0m.7-.6h0m.2 .2h0m2 .9h0m1.3-1.1h0m2.1 2.3h0m1.8-1.1h0m.5-1h0m.4 .4h0m.2 .9h0m.2-.9h0m.9 .4h0m.8 1.5h0m.5-1.6h0m.4-1.2h0m.1 2.8h0m1.9-.7h0m0-.8h0m-75.6 2.2h0m1.6 2.1h0m0-2.2h0m1.2 2.4h0m2.7-.1h0m1.9-.2h0m1.2-.2h0m.3-1.4h0m.7 1.7h0m.9-1.5h0m.2 .5h0m.4-1.2h0m.3 1h0m0-.3h0m.7-.3h0m.3-.1h0m.3 .4h0m0-.8h0m.8 1.2h0m0 1.3h0m1-2.1h0m1.3-.1h0m.3-.4h0m.2 1.5h0m.6 1.2h0m0-.8h0m.8 .3h0m.1 .6h0m.6-2.2h0m0-.4h0m1 2.5h0m.3-2.9h0m.8 2.9h0m.5-2.3h0m.1 .9h0m.4-1.1h0m.1 2.4h0m.2 .1h0m.4 .1h0m0-1.4h0m.1-.3h0m1.4 .7h0m.3-1.5h0m.4 2.3h0m.1-1h0m.4 .9h0m1-.3h0m1.2 .2h0m.3-2.5h0m.3 .7h0m.2 1.6h0m.4 .1h0m1-.1h0m.4-1.9h0m1.1 .2h0m1.1 .7h0m.3-.8h0m.3 .9h0m.1-.3h0m1.4 0h0m1.2 1.1h0m1-1.5h0m.3 .5h0m.2 .4h0m.6 .2h0m.4-.8h0m.5-.9h0m.6-.1h0m1.4 1h0m.4-.3h0m.7 1.3h0m.2-1.6h0m1.6 2h0m.7-2.4h0m.2 2.2h0m.3-1.8h0m.8 1.9h0m.3-.9h0m.6-.9h0m.7 1.1h0m.4-1.2h0m.4 .7h0m.7-.8h0m.2-.1h0m.2 .4h0m1-.4h0m0 1.7h0m.1 .6h0m.3-2.5h0m.4 2.4h0m.3-1.8h0m0 2.2h0m.2-2h0m.2 1h0m0 0h0m1.1-1.3h0m1 1.7h0m1.8-1.7h0m.1 .3h0m.3 1.1h0m.9 .1h0m.2 .2h0m1.3 .4h0m1.2-.7h0m.6-.1h0m.7-.8h0m.9-.7h0m.2 1.9h0m6-.5h0m2.4-.8h0m4.1 .9h0m.8 .6h0m.7-2.2h0m.8 2.4h0m.1-2.4h0m-82.2 5.6h0m1.2-.3h0m.7-1.4h0m0 .4h0m.5 .1h0m.2 .7h0m1.6 .1h0m1.6-.3h0m.9-.3h0m.6 .8h0m3.1-1.8h0m.6-.7h0m.3 .4h0m1.1 .1h0m.6-.4h0m0 2.4h0m.5-2.1h0m2.6 1.2h0m1-1h0m.1 0h0m3.2 1.9h0m.2-.1h0m1.3-2.2h0m0-.1h0m.3 .8h0m.2 .2h0m1.2 .1h0m.2 1.1h0m1.3-1.2h0m.2-.8h0m.3 2.1h0m.5-2.2h0m.7 2.2h0m.3-1.9h0m.1 .1h0m.2 1.1h0m.2-.4h0m.4 .5h0m.8 .6h0m.2-1.9h0m1.4 1.6h0m.2-1.1h0m.3 .5h0m.2-1.4h0m2 .2h0m1.2 .6h0m.2-.5h0m.4 .9h0m.2-.8h0m0 .8h0m0-1.1h0m.4 1.8h0m.7-2h0m.8 2.6h0m.4-.9h0m.6 .6h0m.5-1.1h0m.8-.8h0m.7 1.7h0m0 .2h0m1.6-1.2h0m.7 .7h0m.3 .6h0m.5-1.7h0m.5-.8h0m1 0h0m.4 2.4h0m2.3 .3h0m.5-1h0m.3-1.3h0m1.2 .2h0m.2 1.7h0m.2 .2h0m.1-1.3h0m.1 1.2h0m0 .3h0m1.9-2.3h0m0 1.3h0m1.3-.6h0m.1 .1h0m.2-.8h0m.7-.3h0m.4 1.8h0m.3 .9h0m.2-.9h0m.9-1.9h0m.1 .7h0m.9 .8h0m1.3 .4h0m1.1-.9h0m.2-.8h0m.4 .7h0m.7-1h0m.1 1.6h0m.5 1.4h0m1.7-2.3h0m.3-.1h0m.3-.1h0m0-.1h0m.1-.1h0m.4 .8h0m.1 .4h0m.5 1.3h0m.1-.6h0m.8-.6h0m.1 .7h0m.5-.1h0m.2-2.1h0m.1 .8h0m.9 .6h0m.8 .2h0m.2-1.6h0m1.8 .2h0m.1 .9h0m1.1 1.7h0m.1 .1h0m.2-1.3h0m.1 .8h0m.1-1.4h0m7.6 1.2h0m1-.4h0m.5 .6h0m.1-1.7h0m.3 .2h0m.1 .9h0m1.1 .1h0m.1 .8h0m-82.9 3h0m.1-.8h0m.2 1h0m2.6-2.1h0m0-.6h0m0 .4h0m.1-.4h0m.5 1h0m.2-.3h0m.3 .4h0m.1-1.2h0m.5-.2h0m.1 1.1h0m.6-.2h0m.2 1.4h0m.4-.2h0m.1-1.2h0m.1 1.9h0m7.3-2.4h0m3 .6h0m.6 1.3h0m.1-.3h0m.2-1.6h0m.3 .3h0m.1-.1h0m.1 .9h0m.4 1.4h0m.4-2.2h0m0 .4h0m.3 0h0m1 1.4h0m.4-1.7h0m.1 .1h0m.3 1.2h0m.5-1.2h0m.1-.8h0m1.2 1.4h0m.1 1h0m1.2-.2h0m.5 .3h0m.2 .2h0m.2-.3h0m1.2-1.4h0m.4-.3h0m.3 0h0m1.5 .9h0m0-1h0m.7 1.4h0m1.3-2h0m1.1 1.9h0m.4-1h0m.3-.3h0m.1 1.7h0m0-.6h0m.6-1.7h0m.4 .5h0m.2 1.2h0m.7-.5h0m.2-.5h0m.2 1.3h0m1-.7h0m1.2 1.4h0m.8-.5h0m.1 .3h0m.3-2.1h0m.5-.3h0m1.1 1.2h0m.8 .1h0m.1-.5h0m1.8 .6h0m.5 .9h0m1-.2h0m.8-1.3h0m2.6 .2h0m.7-.2h0m1.1 .3h0m.3 .6h0m.4 .3h0m.2 .1h0m.3 .2h0m.2-.1h0m.9-2.4h0m.4 2.1h0m.1 .1h0m0 .6h0m.9-1.7h0m.1 .7h0m.5-1.6h0m.6 .6h0m3.2-.1h0m2 2.2h0m1.5-2.8h0m.3 1.2h0m.2 .5h0m.5-.3h0m.5-.1h0m1.1 1.4h0m0-2.6h0m.2-.1h0m.7 1.2h0m.6-.6h0m.4 1h0m.1-1.5h0m.1 2h0m.2-.8h0m.4-.2h0m.7-1h0m.3 1.7h0m.1-.9h0m.1 .5h0m.4 1.1h0m.2 .3h0m.2-.5h0m.1-.6h0m.1-1.2h0m.4 1.7h0m.3-2.1h0m.5 2.4h0m.1 .2h0m1.8-.7h0m.2-.8h0m.3 1.2h0m.3-.4h0m0-1.7h0m.2 .8h0m0-.3h0m.9 0h0m.7 .2h0m.1-.8h0m.7 .7h0m1.1 1.5h0m1.1 .1h0m1.7-2.1h0m1.3 .2h0m3-.7h0m.6 2.2h0m0-.3h0m.2-1.6h0m.3 1h0m-86.2 4.2h0m.6-1.7h0m.4 0h0m.4 2.2h0m1.5-1.7h0m1 .7h0m.3-.4h0m.6 .4h0m0 .6h0m.3-.9h0m.3 .8h0m.1-2.2h0m2.2 .1h0m.5 .9h0m.3-.4h0m.3 .9h0m.1-1.5h0m.2 2.3h0m1.7-2.3h0m.7 2.5h0m.1-1.7h0m6.9 .2h0m.3 1.6h0m1.3-2.7h0m.7 2.3h0m.6-2.2h0m.3-.1h0m.2 2h0m.2-1.6h0m.4 1.2h0m.3-1.2h0m0 1.5h0m.5-1.4h0m.4 1h0m.6-1.5h0m1 2.4h0m2.4-2.2h0m.1 1.2h0m1-.7h0m.2 .7h0m.7-1h0m.3 .8h0m.1 1.1h0m0 0h0m1.1 .4h0m.7-2.9h0m.4 2.4h0m.9-.3h0m.1 .4h0m1.1-.2h0m.2-1.5h0m.3-.7h0m.3 2.6h0m1.3-.8h0m.5-.7h0m.4 1.8h0m.6-.6h0m.1-1.6h0m.1-.6h0m.6-.1h0m.2 .4h0m0 1.1h0m.6-1.6h0m0 1h0m.1-.2h0m.3 .1h0m1.4 1.5h0m.9-1h0m4.7 0h0m.2 0h0m.2 1h0m2.5-.1h0m.7-.2h0m1.4 .7h0m0-2.4h0m.4 .7h0m.2 1.7h0m1.3-1.5h0m.6-.6h0m.1 2h0m.1-.8h0m.5-1.4h0m.1 .2h0m.4 0h0m.3-.5h0m1.3 2.6h0m.2-2.2h0m1.1 2.3h0m.9-1.9h0m.5-.9h0m.1 .6h0m2.1-.6h0m.3 2.5h0m2.2-2.4h0m.5 .4h0m1 .1h0m.2 .7h0m0-.1h0m.1-1.2h0m1.3 .7h0m.4 1.5h0m0-1.3h0m.1 1.9h0m0-.9h0m.1-1.7h0m.5 .4h0m.1 1.7h0m.2-1.9h0m.1 1.4h0m1.5 1.1h0m.2-2.8h0m1.6 2.6h0m1.7-2h0m.9 1.2h0m1.1-1.9h0m1.1 1.8h0m.2 .6h0m0-1.7h0m.6 .4h0m.4-.1h0m3.9 0h0m.7-1h0m.4 .4h0m1.7 2.3h0m.2-.4h0m-87.7 3.6h0m2.1-1.5h0m.3-1.1h0m.4 1.8h0m.1-1.7h0m.9-.2h0m.4 2.2h0m.4-.6h0m1.1 0h0m.1-1.3h0m0 1.8h0m.1-1.5h0m.1 1.6h0m.1-.9h0m1.8 .8h0m.8-.7h0m1.4 1.2h0m.5-2.5h0m.2 .7h0m.8-.2h0m.2 .6h0m.7 1.3h0m.6-1.7h0m1.8-.3h0m.8 1.4h0m1.3-.5h0m.4-1.6h0m1.5 2.3h0m1.6-.4h0m.7 .9h0m0-.3h0m1.4-1.3h0m1-.3h0m.3 .8h0m.1 .1h0m.6-1.2h0m.3-.1h0m.7 1.1h0m.1-1.4h0m.3 .6h0m.1 1.7h0m1-1.2h0m0 1.6h0m.5-1h0m.2-1.3h0m1 .5h0m.2-1.1h0m.1 2.4h0m.1 .4h0m.7-.9h0m.1 .5h0m.2-2.2h0m.1 .5h0m.7 1.8h0m.5-2.3h0m.1 1.4h0m0 .7h0m.2-2.2h0m0 1h0m.1-.8h0m.5 .4h0m0 .8h0m1.6 .6h0m.2-.2h0m.6 .5h0m.5-1.2h0m.4-.4h0m.1 .8h0m1.1 .7h0m.1-.4h0m.3-.7h0m.9 .9h0m.2-1.3h0m.7 1.8h0m.1-1.4h0m.1 1.2h0m.1 .1h0m.4-1.4h0m.2-.9h0m1.1 1.6h0m.2 .7h0m.3-2.3h0m1.1 2.1h0m.5-1.7h0m.7 1.3h0m0-.4h0m4.8-.1h0m.6-.9h0m.1 1.3h0m.1 .8h0m2.3-1.6h0m1.6 .5h0m.2-1.1h0m.2 .9h0m0-.7h0m.1-.4h0m0 .9h0m2.9-.7h0m.2 1.6h0m0-.8h0m.7-1h0m.2 .8h0m1.6 .2h0m.3 .3h0m.6-1.1h0m.1 1.4h0m.1 .2h0m.6-1.3h0m.5 1.4h0m.6-.3h0m.3-.2h0m2-.2h0m0 1.1h0m1-2.2h0m.4 1.3h0m.5 .5h0m.1-2.1h0m.4 2.4h0m.1-.8h0m.6-.5h0m0 0h0m.1 .3h0m.4-.5h0m.1 1.9h0m.1-.3h0m2-1.5h0m.8 1.7h0m.3-.1h0m.1-2.6h0m.2 2.7h0m.4-.4h0m.4-1.4h0m2.1 .2h0m.1 .6h0m.2-1.2h0m1.1 .7h0m.1 1.7h0m.1-.6h0m.5-.7h0m.5 .4h0m.5-.9h0m.4-.9h0m.2 .8h0m.5 1.4h0m1.6-.4h0m0-.4h0m.2-1.1h0m.2-.1h0m.6 1.2h0m.5-1h0m.1 .6h0m0 1.5h0m.4-2h0m2-.6h0m.3 1.7h0m1.4 .5h0m.4-.5h0m.1-1.3h0m.1-.3h0m1.5 2.1h0m.2-.2h0m.2 .2h0m1.1 0h0m.1-2.3h0m.8 1.7h0m.2 .1h0m4.1 .9h0m.3-.2h0m-95.7 .8h0m.1 2.5h0m2.6-.2h0m.3-1.4h0m.6 .9h0m.2-.1h0m2.1-1.2h0m1.3-.3h0m0 1.7h0m1-.2h0m.3-1.7h0m.3 1.4h0m.6-.4h0m.7 1.2h0m.3 .2h0m.2-1.1h0m2.2-1.2h0m.3 .6h0m1.3 1h0m6.1-.2h0m.3-.7h0m.2 1.5h0m.6-2.6h0m1.1 1.6h0m2.5 1h0m2.2-1.6h0m.2-.2h0m.7 1.6h0m.4-.7h0m.4 .3h0m.8 .2h0m.4-1.7h0m.1 0h0m.1 1.6h0m.3-2.2h0m.2 2.3h0m3.1-1.8h0m0 .4h0m.1 .3h0m.2-.2h0m.2 0h0m.1 .1h0m.2 .7h0m.7-.6h0m.4 .1h0m.4-.9h0m.4-.2h0m0 1.1h0m.2-.4h0m.2-.1h0m.1 2.2h0m.6-2.5h0m.6 .7h0m.3-.7h0m0 2.3h0m.7-1.6h0m1.5 1.6h0m0-2.2h0m.6 .4h0m1 1.1h0m.3-1.9h0m.4 1.2h0m.7 .3h0m1.3 .4h0m1.6-1.7h0m.9 1.3h0m1.5-.7h0m1.2 1.4h0m.1 .3h0m.2-1.7h0m2.1 1.6h0m2.3-1.1h0m.4 .1h0m.4-1.2h0m.4 1.2h0m.7 .9h0m1.3-1.1h0m2.2-.3h0m.6 .5h0m.2 .4h0m.2-1.1h0m.9 .2h0m1-.3h0m1-.2h0m.3 1.4h0m.2 .6h0m.1-2h0m.9 2.4h0m0-.7h0m.1-1.8h0m.4-.4h0m.2 .4h0m.4 .6h0m.1 .4h0m1.8-.9h0m.9 .5h0m.7 1.7h0m1.3-.4h0m2.2-1.9h0m0 1.1h0m.7-1.1h0m.1 .9h0m1.2 1h0m.2-.9h0m.1 1.5h0m.3-1.4h0m.5 1.1h0m.2-1.9h0m.2 .2h0m1.5 1.6h0m.1-1.4h0m.3 1h0m0-.4h0m0 0h0m.2 1h0m.6-.4h0m.5-2.2h0m.4 2.4h0m.1-1.4h0m0 1.7h0m.5-1.5h0m.4 .4h0m.4-1.7h0m.4 2.3h0m.2-1.7h0m.4-.3h0m.7 1.4h0m.3-.9h0m0 .2h0m.1 .4h0m.1-.2h0m.6 .8h0m.6 .4h0m.5 0h0m.5-.2h0m.2 .1h0m0 .2h0m0-1.4h0m.3 .3h0m.4-.8h0m.1 1h0m.7-.4h0m.2 .6h0m.1 .1h0m.2 .4h0m.7 .4h0m0-.5h0m.1-.5h0m.3-.3h0m.2 1.3h0m1.6-1.6h0m.5 .8h0m.4 1h0m.3-1.1h0m2.7-1h0m.4 1h0m1.7-.5h0m1.2 1.1h0m.8-1h0m.3 .2h0m.6 0h0m.1 .3h0m1.3-.3h0m2.9 .9h0m-107.9 3.1h0m.5-.4h0m.4-.6h0m1.5-.3h0m.7 .7h0m.1-1.6h0m.4 2.4h0m.4-.8h0m.5-.8h0m.2 .5h0m.6 1h0m0-.7h0m.6 .4h0m.3-.8h0m2.3-1.3h0m.2 1.4h0m2.5-.5h0m.8-.1h0m.6-.5h0m0 1.6h0m.4-.4h0m.3 .4h0m.6 .1h0m.4-.4h0m.4-1.4h0m.2 .3h0m.6 .9h0m5.6-1.6h0m.7 .2h0m.4 1h0m1.7-.7h0m.6 .4h0m1.4 1h0m0-2h0m2.3 .9h0m.3 1.2h0m0-.2h0m.4 0h0m.2-1.1h0m1.5 1.4h0m.1-1h0m.1 1.5h0m.5 0h0m.8 .1h0m.8-.3h0m2.3-.1h0m1.1-.9h0m.5 .5h0m.2-.5h0m.2-1.3h0m.4 2.3h0m.3-1.2h0m.5 .2h0m.8-1.2h0m.6 2.3h0m1-1.9h0m1.1 .9h0m.7-1.2h0m.8 2.3h0m0-.8h0m.4-1.3h0m.4 .6h0m.4 .2h0m0-.2h0m.4 .6h0m.9 .7h0m.4-1.6h0m.1 1.6h0m.2-2h0m.2-.3h0m0 2.1h0m.3 .4h0m.5-1.6h0m.9-.2h0m.9 .5h0m1.1-.3h0m.3 1.1h0m.4-.4h0m.4-1.3h0m.1 1.4h0m.3 .8h0m1.5-.5h0m.8 .6h0m.1 .1h0m.3-2.5h0m.9 2h0m3.1-1.2h0m.1 .7h0m.1-.2h0m.2 .3h0m.1-1.8h0m.7 .9h0m.4 .5h0m.1-1.5h0m.2 2.6h0m.5-.4h0m.8-1.8h0m.2 0h0m.2 1.1h0m1-.6h0m.1-.1h0m.3 1h0m.5 0h0m1-.9h0m.3 1.2h0m.9-1h0m0 1.4h0m.6 0h0m.5-.2h0m.2-2.1h0m.4 .7h0m.8 0h0m1.3 1.7h0m1-2.3h0m0 1.7h0m.1-2h0m2.7 .6h0m.9-.1h0m.3-.6h0m.5 .2h0m2 .7h0m1.1-.3h0m1.2 .6h0m.6 1.1h0m2-1.8h0m.3 .8h0m.5 .6h0m1.8-.8h0m.2 1.4h0m.7 .1h0m.9 .1h0m.7-.4h0m.8-.5h0m0 .7h0m.9-1.2h0m.2-.6h0m.4 .8h0m1.1-1h0m0 0h0m.1 .8h0m0-1.3h0m.2 1h0m.2 .4h0m.3 1.2h0m.7-1.8h0m.1 1.4h0m.8-1.5h0m1.6 2.2h0m.4-2.1h0m0 .4h0m.7-1.1h0m.5 0h0m.4 1.1h0m.5-.6h0m.3 .5h0m.6-1.1h0m.6 2.6h0m.1-1h0m.7 .2h0m.1-.8h0m.2 .7h0m.2-1.3h0m.1 2.1h0m1.4-2.4h0m.3 .9h0m.2-.3h0m1.2-.8h0m.7 .7h0m.9-.1h0m2 .5h0m.8 .9h0m.2 .8h0m.5-1.3h0m1.8 .2h0m-112.6 3.9h0m.4 .4h0m.2-.2h0m1.2-.6h0m.8-.1h0m2.1-.4h0m.3 .6h0m.2 0h0m.4-.7h0m.2 1.3h0m.6-2.9h0m.1 1.8h0m.2 1.1h0m.1-1.7h0m1-.7h0m.7 .9h0m1 .1h0m.9 .1h0m.1-.9h0m0-.5h0m.2 0h0m.6 2.6h0m.2-2h0m.5 1.1h0m2.7-.6h0m.4-.5h0m.1 .3h0m1.8-.5h0m.8 .4h0m.2-.4h0m1.1 2.1h0m.5 0h0m1.3-1.5h0m.5 1.8h0m2.1-.8h0m1.9-.7h0m.4-.2h0m.2 1h0m.1-1.2h0m0 1.2h0m0 .1h0m.2-2.1h0m.1 2.1h0m.5-.3h0m1.4-1.3h0m.6-.5h0m.9 2.2h0m1.9 .2h0m0-.4h0m.6-.6h0m.2-.3h0m1.3 .5h0m.4 .1h0m.7 .9h0m.6-.9h0m.8 .9h0m.3-.3h0m.4-1.6h0m.6 .3h0m.7-.7h0m.3 .8h0m1.1 .7h0m.4 .2h0m.6 0h0m.5 .2h0m.6-.9h0m.7-1.5h0m.1 .6h0m.3 2h0m.3-1.6h0m1.7 .8h0m.9-1h0m.9 .8h0m.9-.9h0m0 1.4h0m.4 .7h0m.3-1.3h0m.2 .5h0m.9 .2h0m.1 .1h0m0-.8h0m.8-1.3h0m.8 2.3h0m.3 .2h0m.4-1.5h0m.2 .8h0m.1-.3h0m.1-.4h0m0 .9h0m.3-1h0m.6 0h0m.4-.9h0m.9 .7h0m.3-.4h0m4 1.3h0m1-1h0m.4-1h0m.8 2.6h0m.1-1.5h0m.9 .7h0m.1-1.4h0m.6 1.4h0m.7-.6h0m.3-.9h0m1.1 1.3h0m.6 .4h0m.8-1h0m.1-.8h0m.1 .4h0m.4 1h0m0-.6h0m.7 1.5h0m2.3-1.3h0m0-1.1h0m1.8 2.6h0m.8-1.1h0m1-.8h0m4.6 1.4h0m3.4-1.1h0m1.3-1.1h0m5.3 2.8h0m.5-.6h0m.3-.1h0m1.7-.9h0m.4-.5h0m.6-.1h0m.1 1.9h0m.1-.5h0m2.4 .9h0m1-.8h0m.8-1.8h0m2.1-.3h0m.3 1.4h0m.4 .8h0m.5-1.4h0m.3 1.4h0m.2 .6h0m.4-.7h0m.3-2.1h0m.1 .1h0m.8 .6h0m1.1 .8h0m.6-.4h0m8.3 1h0m.7 .5h0m-112.4 1.9h0m1 .3h0m1.1-.8h0m.1 .8h0m.1-1.1h0m.2 1.6h0m.2-1.1h0m0 1.1h0m1.8-2.3h0m.1 2.8h0m1.3 .1h0m.1-1h0m.5-.8h0m.2 1.7h0m.1-1.3h0m.3-.1h0m.3-.7h0m2 .9h0m.1 0h0m.9-.3h0m.1-.2h0m.3 1.7h0m.2-1.2h0m.6-.2h0m.2 0h0m.6 1.4h0m.2-.5h0m.1 .1h0m.7 .4h0m.7-1.6h0m.1 .1h0m.6-1.2h0m3.3 .4h0m.9 1.4h0m.6-1.3h0m1.8-.1h0m1.8 1.3h0m.7 .7h0m1.9-1.5h0m1.2 .5h0m.2-.2h0m.2-1.1h0m.5 .6h0m0 .1h0m.1 1.3h0m.1 .1h0m1.6-2.1h0m.3 .2h0m.4-.1h0m.6 2.3h0m.1 .3h0m.8-2.1h0m.1 .6h0m.1-.1h0m.1 .1h0m.7 .5h0m.2-.1h0m1.3-1.6h0m1.7 2.5h0m.7-1.5h0m0 .5h0m.2 .3h0m.4 0h0m1.5 .3h0m.4-.2h0m2.1 .1h0m0-.5h0m.1-1.1h0m.5 .5h0m.2 1.8h0m.2-2.7h0m.4 1.2h0m.7-.3h0m.3 1.5h0m.1-2.1h0m.7 .3h0m1 0h0m.3 1.1h0m.1-1.6h0m.5 1.5h0m0 0h0m.6-1.1h0m.5 1.4h0m.2 .3h0m.4 .1h0m1.7-2.3h0m.1 1h0m.3 0h0m0-.5h0m1.8-.6h0m.6 1.2h0m.1 .6h0m.1-1.1h0m4 1h0m1-1.3h0m2.6 1h0m.4-1h0m1-.2h0m.8 1.8h0m1.1 .2h0m.1-2.2h0m.5 .5h0m.7-.5h0m1 1.4h0m2.1 .1h0m.6 .6h0m.9-1.5h0m.1 .7h0m4.2 1.1h0m2-.6h0m1.2 .8h0m1.9-.8h0m.1 .3h0m3.6-.3h0m5.2-.2h0m2.1-.6h0m.8-1h0m1.2 .2h0m.1 1.8h0m.2 .8h0m.1-.2h0m2.7-1.4h0m3.9-.7h0m.5 .3h0m.5 0h0m.6-.3h0m4.5 .2h0m1.8 1.4h0m.3 .1h0m1-.5h0m1.1 .4h0m.5-.7h0m.4-.9h0m0 .1h0m.5 .7h0m.2 1.3h0m.7-2.4h0m0 .6h0m.3 0h0m-113 2.2h0m2 .6h0m3.7 1.1h0m.9-.8h0m.1 .1h0m.1 1.8h0m1.5-2.7h0m.2-.1h0m.2 2h0m.6-1.6h0m.5-.2h0m.1 .2h0m.9 .4h0m.5-.7h0m1.4 .2h0m.8 1.9h0m.1-1.5h0m1.6 1.1h0m.7 .6h0m0-.1h0m.1 0h0m.1-2.4h0m1.3 1.8h0m.4 .6h0m.1-2.3h0m0 .6h0m.3 1.6h0m.8-.8h0m.4 .1h0m.6 1h0m.1-.1h0m.2-1.7h0m.1 .3h0m.6 .7h0m1-.2h0m1.7-1.5h0m.2 .3h0m.5 2.2h0m.5-2.3h0m.1 1.7h0m0-1.1h0m.5 1h0m.1 .8h0m1-2.6h0m1 .2h0m.4 2.4h0m1.4 0h0m.3 .1h0m.4-1.5h0m.4 .8h0m.6-1.1h0m.7-.8h0m0-.1h0m2.7 0h0m.5 .3h0m.7 .4h0m0 .6h0m.5-1h0m.2-.2h0m.6 2.3h0m.1-.6h0m.5-1.1h0m.2 1.4h0m.6-.3h0m0 .5h0m.2-.8h0m.8 .9h0m.7-1.2h0m2.5 .8h0m1 .2h0m2.5-.1h0m.2-2h0m1.9 2.7h0m1-1.7h0m.1 .8h0m2.4-.5h0m2.4-1.1h0m1.3 .3h0m3.5 2h0m4.3-1.7h0m1.2 .3h0m.2-.5h0m4.6 .4h0m5.9-1h0m1.4 1.9h0m.1-.3h0m6.5-.9h0m1.3 .2h0m.9 0h0m.3 .3h0m5.4 1h0m.1-1.6h0m1.7 1.2h0m1-1.7h0m.1 2.6h0m2.7-.1h0m.9-1h0m1.3 .3h0m.7-.9h0m.4 1.7h0m.1-1.5h0m.5 1.2h0m0 0h0m1.6-.8h0m.1-.2h0m.3-.5h0m.6-.4h0m1 2.1h0m1.1 .1h0m.4-1.9h0m1.9 .9h0m1 .6h0m.4-.1h0m1.3-1.6h0m0 .6h0m.4 .9h0m.3-2h0m.8 2.2h0m.8-.7h0m.5 .1h0m.5 1h0m.4-.7h0m-116.9 1.7h0m9.8 .2h0m1 1.5h0m.5-1.9h0m1-.6h0m.9 2.5h0m.2-1.1h0m.3-.2h0m.1 1.2h0m.6 .3h0m.8-.4h0m.7 .3h0m.1-1.9h0m1.6 0h0m1.1 .9h0m.6-.4h0m.1-.9h0m0 .4h0m1.8 .4h0m.2-.6h0m.9-.5h0m.2 .7h0m.2 1.3h0m.5-1.5h0m.3-.3h0m.4 .8h0m1.9-.9h0m.7 .7h0m.1 1.8h0m.2-.7h0m.2-1.7h0m1.5 1.7h0m.4-.6h0m2.2-.2h0m1.7-.8h0m.2 .3h0m.1 1.1h0m0 .7h0m.2-.1h0m4.9 .5h0m.2-2h0m1.1 1.4h0m1.7-1.1h0m.6 .8h0m1.2 .2h0m.7-.4h0m.3-1.4h0m1.1 2.3h0m.8-1.9h0m3.3-.5h0m.8 2.1h0m.2-1.8h0m.5 .1h0m.2 .1h0m.7 0h0m2.1 1.6h0m3.5-.6h0m.3-.8h0m.3 1.5h0m0-.4h0m1-1.7h0m3.7 1.5h0m5.6-1.6h0m1 2.1h0m4-1.2h0m.4 .6h0m1.7 .8h0m.3-2.6h0m.9 2.4h0m0-.9h0m2.8 .9h0m.1-1.2h0m1.4-1h0m.9 .7h0m5.6-.3h0m4.2 2.2h0m.1-.9h0m1.1-.4h0m1.7 .7h0m.5-1.7h0m.4 2.2h0m.3-1.5h0m.5-.8h0m0 1.7h0m.6 .7h0m.4-2.7h0m.2 .8h0m.1 1.6h0m.2-2.3h0m.2 2h0m.2 .4h0m1.8-1.2h0m.2 .7h0m.4 .5h0m.6-1.1h0m.4 .1h0m.3-.6h0m.2-1h0m.3 1.9h0m.2 .4h0m4.4-.9h0m.2 .2h0m.4-.7h0m.3 1.3h0m0-1.9h0m.5 2.3h0m.1-2.2h0m.2 .2h0m.6 1.4h0m.3-.9h0m1.2 1.7h0m.1-.8h0m.2-.8h0m.5 .1h0m.7 1.5h0m.6-2h0m0-.2h0m.3 2.1h0m.1-1.8h0m.5-.7h0m.6 2.1h0m.6-.1h0m0-1.1h0m.1 .7h0m.1 .7h0m.9-1h0m1 1.4h0m.7-2.3h0m-118.5 4h0m.7 .1h0m.5-1h0m.2-.5h0m.4 1.5h0m.8 0h0m.4-.4h0m0 1.3h0m.1-2.1h0m0 .4h0m.2-.1h0m.1 1.9h0m.1-.9h0m.1 1.1h0m.5-2.7h0m.1 .7h0m0-.3h0m0 .1h0m.4 1.7h0m.1-.5h0m.8-.3h0m.2-1.2h0m.4 2.6h0m0-1.2h0m.4 0h0m1.1-.6h0m.1 1.3h0m.7 0h0m.4-1.6h0m0-.5h0m1.4 1.5h0m.1 .2h0m.5-.7h0m.3-.8h0m.1 1.1h0m.3 .9h0m.3-2h0m.4 2.2h0m0-2.7h0m.5 1.7h0m.3-.4h0m.5 1.1h0m.5-2.5h0m.2 .8h0m.2 0h0m.2 .4h0m.1 .1h0m1 1h0m.1-1.2h0m.4-.6h0m.2 2.2h0m.2-2.1h0m.1 1.8h0m.9-2h0m.4 .5h0m.6 1h0m1 .7h0m.1-.4h0m.8-.3h0m.1-.5h0m.6 1.4h0m.1-1.1h0m1.4-.8h0m.2-.1h0m1-.1h0m.5-.7h0m.2 1.2h0m0 .9h0m.8-1.8h0m.3 .3h0m1.5 .5h0m.1 .9h0m.7 0h0m.4-.4h0m.3-1.2h0m.2 1.2h0m.6 1.3h0m0 0h0m.4-1.1h0m1.6-.2h0m.3-.6h0m1.6 1h0m5 .8h0m.5-1.5h0m1.6-1.2h0m.3 2.5h0m.2-.4h0m.9-.8h0m0-1.1h0m.4 2.1h0m.2-1.3h0m0 .7h0m.1 .4h0m.6-1h0m.1-.6h0m.6 .1h0m.4-.6h0m.2 1.1h0m.2 .2h0m.4 .2h0m2.2-.8h0m.9-.4h0m.3 1.1h0m2.4-1.1h0m.2 1.7h0m.1-.5h0m1.1 .9h0m.8-.8h0m.1-.3h0m1.8 .5h0m.2-.2h0m.5 .2h0m.2-.4h0m3.1 .2h0m0 .9h0m12.8-1.9h0m7.2 1.7h0m2.2 .3h0m.9-1.4h0m.9 1.4h0m.3-.5h0m1.8-.6h0m.1 1.2h0m1.1-.7h0m1.2-1.4h0m.2 2.2h0m.3-.3h0m0-1.7h0m.1-.6h0m1.4 1.6h0m1 .3h0m1-.7h0m.2 1.2h0m.9-.5h0m.8 .5h0m.4-.2h0m.2 0h0m1.8 0h0m.4-1h0m.1-1.5h0m.2 .9h0m.2 .9h0m0 1h0m.6-.5h0m.8-.9h0m.3-1.2h0m.1 1.5h0m0-.7h0m.6-.1h0m.4 .3h0m.4-.1h0m.1 .8h0m.2 .5h0m.2-1.1h0m.2-.8h0m.1 .1h0m.1 .4h0m.2 1.6h0m.5-2.4h0m.8 1.4h0m.5-1h0m.4 .3h0m.1 .3h0m.3 1.3h0m0-1.2h0m.1 .3h0m.4 .9h0m.1-.3h0m0 .3h0m1.1-1.9h0m1 2.2h0m.4-1.9h0m.8 .1h0m.5-.3h0m.8 .9h0m.5 .3h0m.6-1.4h0m.7 .6h0m.1 1.9h0m.2-2.6h0m.9 .3h0m1.5 1.7h0m.7-.3h0m.7 .8h0m.6-1.7h0m-115.3 4.3h0m.1-.6h0m0 .8h0m.2-1.1h0m.2-1.4h0m.2 1.9h0m.1 .1h0m.2-1.1h0m.1-1h0m.1 .8h0m.5 1.5h0m.1 .3h0m.4-.9h0m.9 .7h0m.3-1.3h0m1.1-.8h0m.5 .1h0m.2 .4h0m1.5 1.5h0m.2 .5h0m.3-.3h0m.2-.7h0m1.1 .8h0m.1-.4h0m.1-1.9h0m.3 1.8h0m.1-1.9h0m.4 1.1h0m.5 .7h0m.7-1h0m.1 1.8h0m.1-2h0m.5-.8h0m.3 .7h0m.8 .7h0m.4 1.3h0m.7-1.8h0m.7 .4h0m.4-.5h0m.9-.3h0m.6-.4h0m.7 1.4h0m0 0h0m.2-1h0m0 1.7h0m1.8 .6h0m1.9-1.8h0m.4 .5h0m2-1h0m.4-.6h0m.9 1.7h0m.8-1.1h0m.2 1.4h0m1.1 .5h0m1-.6h0m.6 .6h0m.1-2.3h0m.3 1.3h0m1.3 1.2h0m.1-1.1h0m1.9 .6h0m3.6-.2h0m1.4 .4h0m.7-1.6h0m1.9-.1h0m0 1h0m.6 .4h0m.2-1.9h0m.4 .2h0m.4 1.1h0m.2-.7h0m.1 1.6h0m.1-.8h0m.6 0h0m.2 .1h0m.5-.1h0m.8 .4h0m.5-1.2h0m.4 1.5h0m.5-.2h0m.4-1.7h0m.8 .3h0m0 .1h0m.7-.6h0m.1 2.8h0m.7-1.8h0m.6 1.8h0m.3-2.6h0m1 1.6h0m.3 0h0m2.1-1.3h0m.8 .1h0m.3-.8h0m.4 .6h0m.2 1.1h0m1.1 .1h0m2.2 1.1h0m.7-1.9h0m.1 .2h0m1-.5h0m.4 .1h0m.9 1.3h0m1.5-.4h0m1.8-1.3h0m.6 2h0m1.2 .3h0m1.2 .2h0m1.9-2.4h0m.4-.5h0m.6 2h0m1.1-1.9h0m.8 2.2h0m.2 0h0m1.6-1.2h0m1.1 1.4h0m.2-.2h0m.4 0h0m.7-2.1h0m1.8 1.1h0m1.5-1.2h0m2.2 1.8h0m.6-.3h0m.8-.8h0m.3 2.1h0m0-2.3h0m.6 0h0m1.1 1.6h0m.2 .1h0m1.5-.6h0m0 .1h0m.1 0h0m.1-1.6h0m.4 2h0m.7-.7h0m.2 1.1h0m.2-1.7h0m.9 .2h0m.5 1h0m.2-.5h0m1-.2h0m.4 .4h0m.1 .4h0m.6-.6h0m.1-.3h0m0 .7h0m3.1-1h0m1.1-.5h0m.2-.3h0m.6 2.4h0m.6-1.9h0m.1-.3h0m0 1.5h0m2.3-1.7h0m.9 1h0m.7 .2h0m1.1-.4h0m.4 .2h0m.9-.6h0m1.2 2.1h0m.2-.8h0m.3-1.6h0m.7 1.8h0m.1 .6h0m0-2.1h0m.2 .4h0m.1 .9h0m.4 .6h0m.3-.8h0m.2 1.2h0m.4-.7h0m.5-.1h0m.1 .7h0m.3-1.2h0m1.7-.6h0m.3 1.2h0m0-1.1h0m.3 .3h0m.3 .3h0m.3-1.7h0m1.1 2h0m.1 0h0m.5-1.6h0m.8 2.5h0m.5-1.8h0m.2 .7h0m0-.3h0m.1-.9h0m.6 .3h0m.4 0h0m-115.1 2.9h0m.9-.4h0m.4 1.6h0m0 .6h0m.2-2h0m2 1.2h0m.2-.4h0m.7-.2h0m.4-.6h0m.7 1.2h0m.9-.7h0m1.1 .3h0m.2-1h0m.5 .5h0m1.2-.2h0m.4 .9h0m.6-.7h0m0 1.2h0m.1-1.5h0m.5 2.3h0m.6-2.1h0m.4-.1h0m1.4-.2h0m3.3 .3h0m1.7 2.1h0m.6-2.5h0m2 1.6h0m1.4-1.2h0m2.8 1.3h0m.3-.6h0m1 1.2h0m.6 .1h0m.4-1.3h0m.3 .8h0m.3-1.1h0m.8 .5h0m.8-.9h0m.3 .6h0m.4 .1h0m1.1-1h0m.2 .8h0m.4-1.2h0m.1 1.8h0m.8-1.5h0m.2 1.2h0m.1 1.2h0m.8-.1h0m1.4-2.4h0m2.3 .7h0m.2 1.6h0m2.9-.4h0m.7-1.8h0m.3 .5h0m.5 1.2h0m1.1 .5h0m1.8-1.2h0m.8-.7h0m1.8 2.3h0m.9-2.2h0m.2 .5h0m.1 .8h0m.1 .6h0m0-.3h0m3.2-.7h0m1.6-1h0m.6 2.1h0m.1-2.6h0m.5 1.3h0m1.3-.1h0m0-1.1h0m.9 1.9h0m.5 .2h0m0-1.4h0m2.5-.7h0m.5 0h0m.2 1h0m.5 .2h0m.4 .9h0m.7-1.1h0m.2-1.2h0m.2 .6h0m.1 1.3h0m.5 .9h0m.4-1.2h0m.1-1h0m1.1 1.3h0m1.2-.1h0m1.1 .1h0m0-1h0m.3-.3h0m.2 1.7h0m.1 .3h0m.6-2h0m.1 2.1h0m.7-.1h0m.3 0h0m.6-.1h0m1-1.5h0m.3-.2h0m.2 .1h0m.3 1.7h0m.1-1.3h0m.3-.6h0m1.7-.4h0m2.9-.1h0m1.2 .2h0m.7-.2h0m.1 1.1h0m.3-.4h0m.8 1.2h0m1.4-.1h0m.7-.8h0m2 1.4h0m.6 .2h0m0-.9h0m.2 .9h0m.6-2h0m.3-.3h0m.7 1.4h0m.2-.9h0m.2 .5h0m0-1.6h0m.1 2h0m.3-.5h0m0 .9h0m.6 .3h0m.1-.3h0m.5-1.6h0m.6 .6h0m.7 .7h0m.1-1.7h0m.4 1.2h0m1.1-1.2h0m2.7 .7h0m2.4 .8h0m.4-.7h0m1.7 .9h0m1.5-.3h0m.2 .1h0m1.4-1.7h0m.4 1.2h0m1.9-.4h0m2.3 1.6h0m.4-1.8h0m.4 .6h0m.1 .6h0m.1-.9h0m1.4-.9h0m.2 1.3h0m.6-.9h0m.4 .8h0m.6-.7h0m.2 2.2h0m.2-.1h0m.1-.7h0m.3-1.4h0m0 1.7h0m.1-2.3h0m.2 2.6h0m.1-1.1h0m.5-.2h0m.5 .7h0m.1-1.5h0m.8 .4h0m.1 .9h0m1.4-1.9h0m-113 4.9h0m2.2-.9h0m.3-.4h0m1-.2h0m0 .9h0m.2 1h0m.1-.9h0m.1 .4h0m.2-.8h0m.3-.1h0m.9-.5h0m.5 1.2h0m.2 1.1h0m.2-.4h0m.6-.6h0m.2 .5h0m0-2h0m.2 1.3h0m4.3 .2h0m3 .9h0m.2-2.2h0m1.4 1.2h0m1 1h0m5.1-1.7h0m.4-.6h0m1.2 2.5h0m.2-2.3h0m1.9 2.1h0m.1-1.5h0m.2-.1h0m2.2-.5h0m.3 .3h0m.1 1.7h0m.6 .3h0m.1-2.1h0m.1 2.1h0m1.2-1h0m.3-.2h0m.1-.2h0m1.1 1.4h0m.2-.2h0m1.6 .1h0m.4-.6h0m.5 .2h0m1.7-.1h0m.4 0h0m.3 .6h0m.7-2.7h0m1.1 .9h0m1.9-.2h0m.9-.3h0m.4-.3h0m0 0h0m.9 1.2h0m.5-.5h0m.7 1.4h0m.6-.8h0m.1-.4h0m0-.3h0m.9 .6h0m1.2-1.3h0m3.5 1.9h0m.1-.8h0m.3-1h0m.2 2.4h0m.8 .3h0m.9-.3h0m.2-2.4h0m.9 .7h0m1.2 .2h0m0-.4h0m.1-.4h0m0 2.3h0m.9-1.7h0m.2 .1h0m.8 .2h0m.4 1.4h0m.8-1.5h0m.1 .5h0m.1 1.1h0m.2-2.3h0m.1 .5h0m.1 1.8h0m.4 .3h0m.6-1.6h0m.3 1.4h0m.4-.9h0m.7-.5h0m.9 .1h0m1.2 1h0m.9 .4h0m.4-1h0m1.1 .4h0m.5-1.5h0m1.1 1.8h0m.2-.4h0m1.5 .6h0m.1-.4h0m.1-1.1h0m.2 .2h0m.7-.8h0m.3 .8h0m.9 .5h0m.4 .3h0m.2 .6h0m.4-.7h0m.2-.2h0m.1 .8h0m.1-.7h0m.3 .4h0m1-1.1h0m.5 1.3h0m0 .1h0m.5-1.9h0m.8 .8h0m.4-1.6h0m.1 .8h0m.6-.2h0m1.3 .3h0m.1 1.3h0m.2-.7h0m.2 .1h0m.1 .4h0m.1-1.4h0m.3 1.3h0m.3-.4h0m.9-.2h0m.8 1.6h0m0-.8h0m.5-1.4h0m.2-.6h0m.4 2h0m.3 .4h0m.1-1.5h0m.8-.3h0m.1 .5h0m.6 1.3h0m.9-2.5h0m.2 2.6h0m.2-2.7h0m.6 .4h0m.4 .5h0m5.3-.6h0m1 .1h0m1.9 1.2h0m.4-.5h0m1 .6h0m.4-1.2h0m.4 2h0m.9 .5h0m.2-1.6h0m.7-1.2h0m.1 0h0m.1 0h0m.4 .7h0m.2-.5h0m.2 1h0m.3 .9h0m.2-1.5h0m.3 1.6h0m.8 .2h0m.2-2h0m.9 1.6h0m.1-2h0m.7 2.2h0m.6-1.4h0m.6 1.3h0m.1-.5h0m0 1.1h0m.7-1.8h0m2.1 0h0m2.3 .8h0m1.7-1.4h0m.5-.4h0m-111.4 4.1h0m1.5-.9h0m.1 1.8h0m1.4 .5h0m.4-.1h0m0-1.5h0m.3 1.3h0m.3-1h0m0-.3h0m.4-.1h0m.1-.4h0m.9 .3h0m.5 2.1h0m.4-2.7h0m0 2.2h0m.2 .6h0m1.1-2.6h0m.5-.3h0m5.3 1.7h0m2-1.7h0m6.8 .9h0m1.7 .9h0m1-.4h0m.7 .4h0m1-.1h0m.1-1.1h0m.1 .5h0m.8-.8h0m.2 2h0m2.1-.6h0m.2 1h0m1.8-.1h0m1.5-.2h0m.8-2.4h0m2 0h0m1.1 2.2h0m3.7 .2h0m2-.2h0m.3-1.2h0m.6 1.7h0m.6-2.3h0m.4 .8h0m.1 1h0m1.4 .2h0m2.5-2.4h0m1.4 1.6h0m1-1.6h0m1.5 2.8h0m.2-.7h0m.3-1.5h0m.8 1.7h0m0-2.2h0m.6 1h0m0 .6h0m1.4 .9h0m.5-.7h0m1-.2h0m1.1-.1h0m1.5-.9h0m.3 1.9h0m.1-1.5h0m.6-.7h0m.7 .6h0m.6 .2h0m.1-.5h0m.1 1h0m.4-1.5h0m.1 2.2h0m.6-1.7h0m.2 1.5h0m.9 .3h0m.4 .2h0m.6-2.5h0m.5-.2h0m1.6 1.2h0m1.9 .8h0m.8-.1h0m1.7-1.5h0m.6 1.7h0m1.3-1.6h0m.1-.3h0m1 1.9h0m0-1.2h0m.3 1.3h0m.3-.6h0m.1 .3h0m.1-.9h0m.1 1.5h0m1.9 .3h0m.6-1.8h0m.2 1.6h0m.7-2h0m.4 2.1h0m.7-2.2h0m0 1.8h0m.3-1.4h0m.8 1.2h0m.8-1.3h0m.2 2.1h0m.2-1h0m.1-.8h0m1 .5h0m.1-1.5h0m.4 .6h0m1.9 2.1h0m.3-1.3h0m.2-.7h0m1.7 .7h0m1.6-1.4h0m.1 1.2h0m.4-.7h0m1.6 2.1h0m.1-1h0m2.8 0h0m.3 0h0m.1 1.1h0m0-2.5h0m.1 1.2h0m.1 .9h0m.6-1.4h0m0 1.5h0m.1-1.2h0m.7 1.4h0m.2-2.1h0m.5 .7h0m.4-1.2h0m.5 2.8h0m.2-2.1h0m1.3 1.5h0m.2-.7h0m.5 .1h0m0-.4h0m.6 .6h0m2.7-.1h0m2 .6h0m.6-1.4h0m.2-.9h0m.5 2.1h0m.2 .4h0m.4-.7h0m1.3 0h0m.3 .1h0m.9 .7h0m1.1-2.3h0m-107.3 3.1h0m.4-.3h0m.1 2.2h0m1.9-2.2h0m.2 2.4h0m.9-.7h0m0-.9h0m.2 .7h0m9-1.2h0m2.5 .8h0m2 .2h0m1.4-.6h0m.1-.3h0m1.8 1h0m.7 .8h0m.5-.6h0m.4-.4h0m2.8-1.4h0m.2-.1h0m.8 1.2h0m1.7-1.2h0m8.6 1.7h0m.8-.4h0m1.5-.5h0m.4 1.1h0m1.3 .2h0m.1-2h0m.8 0h0m.9 1.5h0m0-.2h0m.3 1.6h0m.2-2h0m.6 .9h0m.2 .4h0m.3-.8h0m.4 1.1h0m.2-2h0m3.3 1.4h0m.5 .2h0m1.3 .5h0m.6-.5h0m0-1.7h0m.2-.1h0m.2 .9h0m1.8 .3h0m.1-.1h0m.3-.9h0m1.3 .5h0m.1-.3h0m.2-.4h0m.1 1.3h0m0-1.7h0m1.2 .7h0m.6 .4h0m.4-.4h0m2.1 1.9h0m.2-1.6h0m.5 .4h0m.5 1.3h0m.4-.4h0m1.5-1h0m1.1 .2h0m0-1.2h0m.3 1.5h0m.5-1h0m.2 .1h0m.5 .8h0m.1 .2h0m0 1.1h0m1-2.2h0m.4 .2h0m.1-.2h0m.1-.3h0m.1 1.3h0m.6-.4h0m.2 1.2h0m.5-.1h0m.7 .1h0m.3 .2h0m1-2.7h0m.3 0h0m.9 1.6h0m1.8 .6h0m.5-1.9h0m.1 1.9h0m.4-1.4h0m.2-.4h0m1.4 .9h0m1.6 .1h0m.1-.9h0m1.9 .1h0m.5-.3h0m.1 1.3h0m1.3-.8h0m.4 .5h0m0-.1h0m.3-.2h0m.3 1.4h0m.3-2h0m.4 .1h0m.3 0h0m.3 .4h0m1.4 1.6h0m1.3-1.7h0m3.8-.8h0m1.3 .9h0m0 1.4h0m.3-2.3h0m.3 1.5h0m1.1-1.4h0m.3 1.9h0m1.5 .1h0m2.3-.4h0m.6 .2h0m1.4-.5h0m2.4-1.3h0m.8 2.7h0m1.7-1.5h0m.5-.3h0m.1 1.1h0m0-.2h0m.6 .6h0m1.9-.6h0m.7 .4h0m-98.1 .7h0m.1 .1h0m.1 2.3h0m.8 .3h0m2-1.9h0m.3 1.2h0m1.8-1.4h0m.1 1.6h0m1-1.9h0m3.3 2.2h0m.4-1.2h0m1.5-.4h0m.7 .3h0m1.2 1.6h0m.2-1.7h0m.1 .6h0m.5-1.1h0m.9 1h0m.4 1.3h0m1.3-2.9h0m.1 1.7h0m2.3 .3h0m2.1 .2h0m4.7-.3h0m0 .7h0m2.4 .1h0m1.1-2.5h0m.1 1.5h0m0-.4h0m1 1.3h0m.5-2.3h0m.1 0h0m.9 .9h0m.6-.6h0m.5 1.1h0m.4 .1h0m.1-1.5h0m.2 0h0m.7 1.7h0m0 .8h0m.2-2.4h0m0 2h0m.9-1.9h0m.2 1.3h0m.1-1.8h0m.2 2.2h0m.7-1.4h0m.2 1.1h0m1.3 .7h0m.2-.1h0m.7 .3h0m2.2-.5h0m1 0h0m0-1.1h0m2.2 0h0m.6 1h0m.3 .6h0m.5 .1h0m.4-1.3h0m.7 1h0m.5-.6h0m0 0h0m1-.6h0m.4-1.4h0m.3 1.7h0m.8-1.2h0m.2 2.3h0m.3-1.7h0m.9 .2h0m1-1.4h0m0 1.2h0m2.2 1.6h0m.4-.7h0m.6 .2h0m1-2.1h0m1.1 .4h0m.6 .6h0m.7 .7h0m9.9 1.1h0m.1-2.1h0m1.6 0h0m.2-.4h0m.7 1.4h0m1.3-1.8h0m.6 .3h0m1 .2h0m1.3 1.9h0m.8-2.4h0m1.7 .5h0m.1 1.3h0m.4-.9h0m3.6 1.7h0m.8-.5h0m.7 .1h0m.2 .5h0m.3-1.3h0m.5 .8h0m.5-.4h0m0-1.6h0m.2 2.3h0m1.4-.8h0m3.5-.5h0m.9-1.1h0m.9 1.4h0m.7-1.4h0m1.8 2.6h0m.3-.8h0m.7-1h0m.2-.9h0m.2 1h0m1-1h0m.2 .7h0m-100.3 3.2h0m.4-.9h0m3.3 2.5h0m3.7-2.3h0m5 1.5h0m.7-.8h0m.9 1.5h0m0-1.3h0m.1-1.1h0m.3 2.8h0m.6-.8h0m0-.9h0m.3 .1h0m.5-.7h0m.1-.1h0m.7-.5h0m.5 1.7h0m1.4 .8h0m.1-2.4h0m.7 .4h0m.9 2h0m2.5-1.9h0m.6 1.8h0m.5 0h0m.8-2.2h0m.4 2.5h0m.2-1.6h0m.2 .1h0m.1 .9h0m.8-1.9h0m.5-.2h0m.7 .1h0m.2 2.3h0m.3-1.4h0m.4 1h0m.8 .5h0m.6-1.4h0m.4 1.7h0m.7-1.2h0m.1-1.1h0m0 .1h0m.3 1.1h0m.7-.1h0m.4 1.3h0m.2-.3h0m.2-2.2h0m.3 1.5h0m.6 1h0m1.4-.9h0m.5 .8h0m.6-1.8h0m.1-.7h0m.4 .5h0m.8 .9h0m.7 .4h0m.8-.3h0m0 .1h0m.7-1.8h0m.7 2.5h0m.9-.8h0m.3-1.3h0m.1 .5h0m.2 1.1h0m.2-1.4h0m.2-.3h0m.8 .9h0m.2 .5h0m2-1.1h0m1 .7h0m.2-1h0m.7 2.3h0m.2-.4h0m.7-.6h0m.1-.9h0m.2 1h0m1.6-.8h0m.2-1h0m.2 2.9h0m1.3-1.5h0m.2 .3h0m.6-1.5h0m.6 2.5h0m.1-1.4h0m.1 .3h0m.5-1.6h0m.7 1.4h0m.5-.2h0m.4-.5h0m.1-.2h0m.4 2h0m.4-1.9h0m.4-.2h0m.3 .6h0m.2 1.8h0m1-.2h0m.5-2.4h0m0 2.4h0m.4-2.1h0m.9 1.1h0m.2 .7h0m.1 .3h0m.1-1h0m.7 1.4h0m.6-2.8h0m.1 1.5h0m.1-.3h0m0-1.1h0m.2 .9h0m0 .9h0m.3-1.4h0m1.3-.3h0m.2 2.4h0m.2-.6h0m.6 .7h0m1.7-1h0m.9-.9h0m.1 1.5h0m6.6 0h0m7-2.1h0m.7 .5h0m3-.6h0m.7-.1h0m.3 1h0m.1 1.4h0m1.3-2h0m.8 1.5h0m.4-.2h0m.5 0h0m.1 1h0m.2-1.8h0m.5-.3h0m.6 1.6h0m0-.1h0m3.5 0h0m1.7-1.4h0m.3 .6h0m.6-.5h0m.5-.6h0m2.1-.3h0m.2 2.4h0m0-1.5h0m.3 0h0m.5 1.3h0m.8-1.8h0m.3 1.8h0m.4-.1h0m-91.1 .9h0m1.2 2.3h0m1.5-1.3h0m.2 .1h0m1.6 1.6h0m0-2.5h0m.1 2h0m0 .2h0m.1-.8h0m.1-.7h0m.2 1.4h0m0-.5h0m.2 1h0m.8-2h0m.2 2.1h0m.2-2.1h0m.8 1.9h0m.1-.4h0m1.1-1.4h0m.1 .1h0m.1 .6h0m.2 1.1h0m.1-.3h0m.2-2.1h0m.5-.3h0m1 .7h0m.1 1.4h0m1.8 .2h0m1.6-1.2h0m.4-1.1h0m.5 1.3h0m0 .2h0m.5-1.3h0m.3 .7h0m1.3 .8h0m.5 1h0m.5-1h0m1.5-1h0m0-.8h0m0 1.4h0m.3-1.1h0m.2 2h0m.3-1.1h0m.1-.5h0m.2 .2h0m1.3 .4h0m.4-.1h0m.4-.6h0m.7-.3h0m.3 .7h0m.1-.6h0m1.2-.2h0m.4 1.8h0m.3-.3h0m1.2-1.5h0m.1 .1h0m.4 2h0m.4-.3h0m.4-1.5h0m.4 1.5h0m1-1.6h0m.2 .4h0m.2 2.1h0m.4-1.4h0m.2 .3h0m0-.9h0m0 .2h0m0-1.1h0m.5 1.4h0m.6-.2h0m.5 1.2h0m.2 0h0m.5-2.1h0m.1 2.2h0m.1 .1h0m1.7-1h0m.5-1.2h0m.4 .1h0m.2 1.6h0m0-.3h0m.4-.4h0m.3 .3h0m0 .5h0m.2 .4h0m0-1.7h0m.2 1.5h0m.4-1.1h0m.9-1.2h0m1.1 .3h0m.9 2.6h0m.6-.5h0m.5-1.6h0m.1 0h0m.9-.9h0m.6 2.3h0m0-.4h0m.3-1.6h0m1.5 2.1h0m.5-1.2h0m.1-1h0m.4 2.5h0m.2-.2h0m0-2.4h0m.4 2.6h0m1.3-.8h0m0 1h0m.5-2.3h0m.2-.2h0m.7 .4h0m.3-.1h0m.2-.6h0m.4 .9h0m.1-.1h0m.3 .5h0m.2-.6h0m2.7-.7h0m1.2 2.8h0m.2-.7h0m.5-1.7h0m.3-.4h0m.7 1.8h0m1.1-.8h0m.4-.9h0m.3 2.5h0m2.2-1h0m6.9-.7h0m1.1 1.8h0m4.6-.6h0m.4-1.5h0m1.6-.6h0m1.9 .8h0m1.9 0h0m.1-.8h0m.1 1.8h0m.1-.6h0m.3-.9h0m.2 .2h0m1.2 1.8h0m.7-.4h0m1.6-.9h0m.7 .1h0m.4-.9h0m.6 .6h0m.5 .8h0m.8 .6h0m.1-2.2h0m.8 2.4h0m.6 .5h0m1.5-2.9h0m.1 1.7h0m0 0h0m0-1.3h0m.6 .6h0m-91.8 3.3h0m.5-1.3h0m3.2 1.1h0m.4 .9h0m.2-1.8h0m.9 1.5h0m.5 .8h0m0-1h0m.8 .2h0m.1-.7h0m.2-.2h0m1.2 1.9h0m.2-1.8h0m.3 1.9h0m1-1.2h0m.5 .1h0m.2 .6h0m1-1.4h0m.5 .7h0m.2-1.2h0m1.2 2.3h0m.3-1.6h0m.4 1h0m1.2-1.8h0m1.9 1.2h0m.9 1.1h0m1-.1h0m.8-2.5h0m.2 1.6h0m.2 1h0m.5-.2h0m.1-2.1h0m.1 1.2h0m.1-1.2h0m1.2-.1h0m.2 2.4h0m.5-1.3h0m.7-.4h0m.4 .4h0m.1-.2h0m0-.4h0m.5-.6h0m.5 1.5h0m.4 .4h0m.9-1.3h0m.7-.1h0m1.7 1.4h0m.1-.9h0m.9-.7h0m.3 .2h0m.1 1.1h0m.2 .7h0m.4 .3h0m.1-2.1h0m.2 2.3h0m.7-.3h0m.5-1.3h0m1.2 1.2h0m.4-1.5h0m.3 1.8h0m1.1-1.2h0m.4-.7h0m.2-.8h0m.1 .5h0m.3-.5h0m.3 2.3h0m.3 .4h0m0-2.8h0m.4 2.2h0m.4-1.1h0m.7-.5h0m.5 1.3h0m.1-.1h0m1.2-1.8h0m1.1 2.4h0m.2 .4h0m.2-.1h0m.5-1h0m.4 .3h0m.2-1.7h0m1.2 1.2h0m.4-.4h0m.2-1h0m.2 2.4h0m.4-.1h0m.2-1.9h0m.3 1.6h0m.7-1.4h0m1.7 .1h0m.4 1.4h0m.8-.9h0m1.2 .2h0m1.1 .7h0m.2-.6h0m.9 .5h0m.2-1.8h0m.1 .9h0m.3 .6h0m.5 .4h0m.2-.8h0m.2 1.5h0m0-.1h0m.3-2.7h0m1.7 2.3h0m.3-1.1h0m.3-1.1h0m.5 .9h0m.4-.8h0m.2 .8h0m1.6 0h0m14.5-1.1h0m.8 1.9h0m.9 .6h0m.6-2.5h0m1.9 0h0m1.9 .8h0m.2 1.1h0m.7 .9h0m.1-.5h0m2.2 .5h0m.7-.2h0m1.9-1.3h0m1.2-1.1h0m0 1.6h0m.1 .9h0m.4-2.2h0m.2 .5h0m.1 .4h0m0 1.4h0m.5-1.4h0m.5-.9h0m.2 1.5h0m0-1.5h0m.1-.5h0m.5 1h0m.8 1.9h0m.4-2h0m.2 .3h0m1.1-.5h0m2 1.4h0m-93.9 2.3h0m1 .4h0m.1-.5h0m.1 1.4h0m.2-2.7h0m.6 2.5h0m1.2-2.4h0m.7 .4h0m.7 1.7h0m0-.6h0m0 .8h0m1.4-.7h0m.3 .4h0m.4-1.2h0m.6 .3h0m.7 1.3h0m.1 .3h0m.2-1h0m.4-.5h0m.7 1.3h0m.7-1.9h0m2.1 1.9h0m3.8-.5h0m1.1-2.1h0m.1 1.4h0m.8 .9h0m.4-.6h0m.3-1.2h0m.3 .1h0m.7 2h0m.2-.4h0m.3 .2h0m.1-.7h0m.1 0h0m.1-1.7h0m.4 0h0m1 1.4h0m.3 .7h0m.1 0h0m.3-1.2h0m.1 1.6h0m0-1.7h0m1.6 1.7h0m.1-1.2h0m1 1h0m.2-1.6h0m1.1-.7h0m.1 .4h0m.1 2.1h0m.3-2.4h0m0 2.6h0m2 .2h0m0-.4h0m.3 .4h0m.3-1.7h0m.3-.2h0m.1-.9h0m.4 .8h0m.9 1.2h0m1.4 0h0m1.3-1.1h0m0-.5h0m.5 1.7h0m.1-1.7h0m.5 .3h0m.6 1.1h0m1.3 1h0m.7-1.7h0m.9 1.1h0m.4-.1h0m0 .3h0m1.3-1.8h0m.2 2.1h0m.7-2.6h0m.3 .7h0m.9-.2h0m.6-.1h0m1.5-.6h0m0 2.5h0m.9-2.5h0m.5 2.2h0m.4-2.3h0m.1 2.8h0m2.1-.2h0m1.1-1.2h0m2.3-1.3h0m.8 .6h0m1.9-.6h0m21.7 2.6h0m.3-2.1h0m2 .6h0m.2 .4h0m1.6 .1h0m1.6 .1h0m.2 .4h0m.4 .5h0m.2-.2h0m.3-2.3h0m.2 1.9h0m1.1-.6h0m.4 1.1h0m.2 0h0m.4-1.3h0m.5-1h0m.5-.1h0m.8 .2h0m.7 1.2h0m.1 .9h0m.2-1.6h0m.9-.5h0m.4 2.3h0m.2-.3h0m2.5-1h0m.2 1.4h0m.3 0h0m.3-1.8h0m.9-.6h0m.2 1.2h0m.1-1.5h0m-92.6 4.8h0m1.3 .8h0m1-.2h0m.7-1.3h0m.1-.7h0m.3-.5h0m0 2.4h0m.4 .2h0m.7-1.1h0m0-1.4h0m.8 .4h0m0 .2h0m.5 1.5h0m.2-2h0m.4 0h0m0 1h0m.1 1.2h0m.8-.8h0m.6-.7h0m.2 0h0m.4 1.6h0m.3-2.3h0m.3 1.6h0m.5 .6h0m.1-2.2h0m.1 2.3h0m1.1-2.5h0m.7 2.2h0m1.1-1.7h0m1.7-.1h0m.2 2.3h0m.1-2.6h0m.7 2.7h0m1.6-1.3h0m.5 0h0m.3-1.4h0m.1 .7h0m.9-.1h0m2.7 1.1h0m.3-.3h0m.4 1.2h0m.4-1.4h0m1 .4h0m.5-.4h0m.4-.2h0m1-.4h0m.2-.5h0m1.9 2.2h0m.3-.5h0m.2-.6h0m.8 1.5h0m1.2-1.7h0m.2 .9h0m.4 .6h0m.1-.1h0m0-.9h0m1.3 0h0m.4-1.2h0m1 2.4h0m1.3-1.4h0m.9 .3h0m1-.8h0m.1 .8h0m.3-.3h0m.5 .5h0m.9-.7h0m.2-.5h0m.2-.5h0m1 1.5h0m.2 0h0m0-.7h0m.1-.7h0m.6 2.3h0m.3-1.3h0m.8-.2h0m.3-.5h0m.9 .3h0m.8 1.3h0m.3-2.2h0m.1 2h0m.1-1.1h0m.2 1.7h0m1.1-2h0m1.5 .7h0m1.3 0h0m.8-.6h0m22.4-.6h0m1.8 1.9h0m0 .4h0m1.2-.3h0m.1-1.6h0m.2 .9h0m.3-1h0m0 .6h0m.4-.5h0m.6 1.5h0m1.1 .7h0m.3 .1h0m.1-.2h0m.1 .1h0m.2-2.5h0m.2 1.3h0m.2 .4h0m.1-.5h0m.2 1.6h0m.3-.8h0m.3-1.1h0m2.2-1h0m1.5 2h0m0-.9h0m1.7 .6h0m.5-1.1h0m1.1 .5h0m.1 .1h0m.7 1.4h0m.4-1.9h0m.1 1.9h0m.5-.3h0m.5-.4h0m.2-.5h0m.3-.6h0m.5 1.9h0m.3-.9h0m.2-.2h0m.1-1.4h0m0 1.4h0m.2 .7h0m0 .1h0m.8-1.6h0m-88.6 4.7h0m1.1-1.3h0m.3 .1h0m1.2-.9h0m1.4 2.4h0m2.2-2.1h0m3.6 1.7h0m1.5 0h0m.6-1.6h0m.1-.5h0m.3 2.4h0m.5-1.5h0m.7-1h0m0 .6h0m.3 .1h0m.2 1.3h0m.2-1.3h0m1.2 .1h0m1.9 1.6h0m1.2-1h0m.6 0h0m0 1.2h0m.6-2h0m1.1 2h0m.4-.3h0m.6-.1h0m.4-1.2h0m.5-.3h0m.8 .2h0m.7-.1h0m.1 .7h0m.7-.9h0m1.7 .6h0m.3-.2h0m.2 .3h0m.6-1.5h0m.7 1.4h0m.4-.1h0m.2 .2h0m.4-.8h0m.1 .2h0m.2 1.9h0m.1-1.7h0m.3 1.1h0m.3-1h0m1.3 .5h0m.1-1.3h0m.2 2.5h0m1.3-.8h0m1.5-1.7h0m1 .2h0m1.3 .3h0m0 1.9h0m.2-1.8h0m.6 .8h0m2.2-1.9h0m1 2.6h0m30.9-.7h0m1.2-1.8h0m.2 2h0m.6-.9h0m.2 1.7h0m.1-2.7h0m.3 1.9h0m.9-2h0m0 2.8h0m.6-.8h0m.1-2h0m.4 1.9h0m.2 0h0m2.6 .6h0m.8-1.7h0m.2-.3h0m.7 1.1h0m.4-1.2h0m.1 1.3h0m.2 .7h0m.2-1.2h0m1.5-.1h0m.2 .4h0m.1 .9h0m2.1 .4h0m.2-.7h0m.1-1.3h0m.1 1.3h0m.2-1.9h0m.4 1.5h0m1.1-.5h0m.2 1h0m.2-.3h0m.7-1.1h0m.8 1.9h0m.1-.3h0m2.5 .3h0m-88.9 2.4h0m3 .5h0m.7-2.7h0m0 2.7h0m.1-1h0m.1 .1h0m.1 .5h0m1.3 .6h0m1.3-.6h0m2.6-2.3h0m1.8 1.2h0m1 .8h0m.1 .1h0m.2 .4h0m.8 .3h0m1.6-2.3h0m.4 2.3h0m.3-.6h0m.5-1.8h0m.1 2.1h0m1.3-1h0m1 .4h0m.3 1.1h0m.2-1h0m.2-1.6h0m.6 2.1h0m.6-1.5h0m.1-.7h0m2.1 1.5h0m.2-1h0m1.5 1.3h0m.2-1.6h0m.1 1.7h0m1.4-.2h0m1.5 0h0m4.2-.8h0m.4 .7h0m.5-.1h0m.9 .9h0m.1-.7h0m.2-.8h0m2.7-.1h0m32.1-.5h0m.6 .2h0m1.4 .6h0m.2-1.1h0m.4 2h0m.3-1h0m1.2 1h0m.7-1.2h0m.5 .6h0m0 .9h0m.4-.9h0m.1-.6h0m1.7-.4h0m.5 .3h0m.4-.6h0m.4-.2h0m.3 2.8h0m.3-1.8h0m.8-.1h0m.3-1h0m.2 .8h0m0 .1h0m.3 1.2h0m0-1.1h0m1.9-1h0m.2 2.1h0m.1 .2h0m1.3 .1h0m.8-1.9h0m1.7 1.6h0m.5-.3h0m.3-.8h0m0-.7h0m.6 .9h0m.1 .4h0m0-.6h0m.3 .6h0m.1-.1h0m.6 1.4h0m1-2.2h0m-90.2 3.6h0m.3 .7h0m.5-.1h0m.2 .8h0m1.7-2.7h0m.5 1.7h0m1.4-.3h0m.5-.4h0m.7 .2h0m.3 .6h0m.3 .6h0m.7-2.4h0m1.2 2.5h0m.1 .2h0m.7-.4h0m.3-1.5h0m.3 1.3h0m.6 .1h0m.2 .4h0m.9-.2h0m.4-.7h0m.2-1.7h0m.1 1.5h0m.1-1h0m.3-.2h0m.5 2.4h0m0-2.1h0m.7 .1h0m.1 0h0m.4 1.6h0m.4-2h0m.2 2h0m1.6-1.8h0m.3 .4h0m.7 2h0m.8-1.3h0m.2-1.6h0m.1 2.2h0m.1-2.2h0m.2 2.2h0m.5-2.1h0m.2 .7h0m.4 1.5h0m.2-1.3h0m.4-.7h0m1.7 2.1h0m.3-1.4h0m.7 1.3h0m.7-2.3h0m.4 1.2h0m.1-.5h0m.1 .1h0m1-.8h0m.3 .9h0m.3-.8h0m1.7 1h0m.8 .9h0m2.7 .2h0m2.9-1.3h0m1.1-.1h0m36.6 .1h0m1.6 1.6h0m.5-.7h0m.2 .7h0m1 .2h0m.1-1.4h0m.2 .6h0m.3-.9h0m.3 .2h0m.2 .2h0m.4-.2h0m.3-.3h0m.2 0h0m.1 1.2h0m.4-.2h0m0-1.5h0m.4-.2h0m.1 0h0m.2 .5h0m2.1 1h0m.3-.8h0m.1-.8h0m0 .3h0m.3 .4h0m.8-.7h0m.4 1.3h0m.2-.1h0m.1-.8h0m.3 2.1h0m.2-.1h0m.6-1.6h0m0 1.8h0m.4-2.6h0m0 .6h0m1.2-.7h0m.4 1.8h0m.3 .5h0m1.8-1.6h0m.4 1.1h0m1.3-.4h0m.6-.3h0m.4-.4h0m.5-.2h0m-88.6 2.8h0m1.7 1h0m.4 .7h0m.3-1.9h0m.2 2.2h0m.5-.8h0m.4-1.4h0m.6 2.8h0m.1-2.9h0m1.3 0h0m.3 2.1h0m.3-2.2h0m.3 .9h0m.2-.7h0m.2-.1h0m.1 .5h0m0 .3h0m.1 .8h0m.7 .3h0m.3-1h0m.1 .6h0m.3 .6h0m1.8-2h0m.4 1h0m.5-.4h0m.2-.4h0m1.8 1.5h0m.2-1.6h0m.3 2.7h0m.8-2.3h0m.6 0h0m.3-.3h0m.6 1.3h0m.1-.7h0m.4-.5h0m0 .1h0m.3-.3h0m.7 0h0m1.5 1h0m1.7 .8h0m.8 .3h0m6.2-2.3h0m45.3 .3h0m1.8 .7h0m.4 1.8h0m1.7-1.2h0m.6-.7h0m1.4 1.8h0m.7 .1h0m.2-.3h0m.9-.4h0m.3-.1h0m1-.5h0m.4-1.2h0m1.1 1.2h0m1.9 1.2h0m.6 .1h0m0-2.6h0m.1-.3h0m.1 2.8h0m.1-1.9h0m.1 .6h0m.1 .7h0m0-1.9h0m.5 2.2h0m.7-.7h0m1.2-.8h0m0 1.4h0m-87.5 3.4h0m.3-.5h0m.9 .3h0m.3 .3h0m.9-1.1h0m.2-1.4h0m.1 1.2h0m.2-1h0m.2-.2h0m.8 1.3h0m.3 .8h0m1.5-1.7h0m.2 1.3h0m.3-2.1h0m.7 1.5h0m.6-.3h0m.4-.9h0m.3 2.1h0m.3-1.8h0m0 1.7h0m1.2 .6h0m.6-2h0m1.3 1.5h0m.2-1.1h0m.8-.3h0m.3 1.6h0m.1-1.1h0m.4-1.2h0m.6 .4h0m1.1 .9h0m.2-1.1h0m1.3 0h0m.4 1.6h0m.1-1.8h0m.5 .2h0m.7 .4h0m54.4-.4h0m1.2 1.2h0m.9 1h0m0-.9h0m.2-.1h0m.7-.5h0m.2-.5h0m.6 1.5h0m.6 .4h0m.1-1.8h0m1.7 .4h0m.6 .8h0m.5-.3h0m1-.5h0m.1 .6h0m.3-.9h0m.4 0h0m.3 1.4h0m.5-.7h0m0 .9h0m.7-1.6h0m.1 .3h0m.1 1h0m.6 0h0m.4-1.9h0m-81.5 5.3h0m1.5-1.8h0m1.9-.7h0m2.1 .3h0m1.7-.4h0m64.8 .3h0m4.6 2.5h0m.5-2.2h0m4.4-.2h0m-83 2.9h0" fill="none" stroke="#9cd64a" stroke-width="1.30" stroke-linecap="square" stroke-opacity="1.00"/>
<path d="M1046.8 886.8h0m1.3 1.9h0m2.2-.2h0m.6-.3h0m2.1 .1h0m-3.3 3.5h0m37.3 0h0m6.4 .2h0m-54.6 3.4h0m7.9-2.8h0m.7 2.9h0m.7-2.3h0m1.9 .9h0m1 .5h0m33.3 .8h0m2.7-1.8h0m3.4-.4h0m2.9 1h0m.2 1.3h0m.6-1.1h0m2.9-.5h0m-57.7 1.8h0m1.5 1.9h0m7.6 .9h0m1.2-.7h0m.8-2.2h0m.3 2.6h0m.3-1.2h0m.1-.3h0m.1-1h0m2.4 .8h0m1.2 1.5h0m8.7 .1h0m.8-1.2h0m1.3 .2h0m15.5-.1h0m2.4 1.1h0m.8 .2h0m4.2-1.9h0m.4 2.1h0m3-.8h0m1.3 .5h0m-55.9 .7h0m4.3 1.6h0m4.4 .5h0m6.3-.6h0m4.1 .1h0m2.2-1.1h0m.5 .4h0m1.1 .8h0m3.2 .9h0m1.5-1.4h0m8.9 .7h0m5.7 .7h0m.3-1.2h0m1.7-.6h0m6-.5h0m.4 1h0m.2-.9h0m1.9-.5h0m1.4-.1h0m.4 1.5h0m2 .9h0m-46.7 3.1h0m.1-1.3h0m5.7-.2h0m3.9 1h0m.7-1h0m.3 .4h0m19.6 .5h0m.4-.1h0m13.4-.9h0m-54.4 4.3h0m1.3-1.7h0m.4 1.3h0m0 1h0m1.4-1.1h0m1.7 .6h0m.1 .4h0m.2-1.4h0m1 .3h0m1.9-1.5h0m1.9 2.3h0m.7-.7h0m.5 0h0m2.5-1.7h0m.9 .4h0m.9 1.6h0m1.2-1.8h0m.8 1.7h0m2.1 .5h0m1.9-1.8h0m.3 1.6h0m3.3-.6h0m1-1h0m13.8 .9h0m1.6 0h0m2.8-1.4h0m1.7 1.5h0m2.6-.9h0m15.1 .5h0m-66 2.5h0m.9 .3h0m5 .8h0m1.8-.8h0m2.3 .5h0m.5-.4h0m1.5-.9h0m5.1 1.6h0m2.7 .4h0m.3-1.7h0m1.1 1.9h0m2-2.1h0m1.8 1.3h0m2.4-1.5h0m0 1.3h0m4.4-1h0m7.2 1.1h0m.3-.6h0m3.4-.2h0m.5 0h0m1.1 .9h0m2.1 1.1h0m1.6-1.9h0m4.3-.3h0m.5-.2h0m.2 2h0m2-.6h0m5-1.6h0m2.3 .4h0m1.1 1.8h0m3.5 0h0m-69 1.6h0m.7-.8h0m2-.2h0m1.2 .2h0m.8 1.8h0m.2 .4h0m2.4 .2h0m.3-.6h0m9-1.4h0m.1 .9h0m2.5-.1h0m.5-1.3h0m.1-.1h0m2.8 2.5h0m1.1-2.3h0m.6 1.6h0m2.3-.8h0m2.9-1h0m2.4 2.4h0m11.2-1.6h0m1.2 .8h0m6.2-.1h0m1-.2h0m.8 1.6h0m5-.3h0m5.7-2.6h0m2.7 2.6h0m.9-.4h0m.3-.8h0m.2 1.2h0m1.6-2.3h0m-69.3 3.2h0m.6-.4h0m1.7 .1h0m2 1.9h0m1-1.9h0m2.8 1.9h0m.6-2.1h0m1.3 .3h0m1.9 2.4h0m3.1-2.1h0m1 .5h0m2.3-.5h0m2.6 1.5h0m1.2-.3h0m2.7 .2h0m1-.1h0m1.7-1.1h0m2.5 2h0m4.7-2.2h0m6.2 .9h0m.3 .4h0m1.7-1.8h0m1.3 0h0m2.2 .5h0m4.1 .5h0m1.5 .4h0m1-.7h0m2.1 1.2h0m6.4 .5h0m3.9 0h0m.5-2.5h0m2.1 1.3h0m.6-.7h0m-64.1 3.6h0m3.2 1.4h0m2.6 .3h0m2.9-2h0m.5 1.2h0m3.7-1.4h0m1.9 .9h0m1 .4h0m.8-2.1h0m.4 2.2h0m1.1 .8h0m2.3-.7h0m3.1 0h0m1-.1h0m2.9 .5h0m1.8 0h0m8.2-1.5h0m1 1.5h0m.4 .2h0m5.1-2.5h0m1.9 1.5h0m3.4-.6h0m1.5 .7h0m.8-2h0m1 2.4h0m.8-.5h0m10.2-1.5h0m.6 .6h0m-69.3 3.6h0m1.2-1h0m.3-.1h0m1.3 .9h0m4.9-.3h0m5.1-1.1h0m.5 2.7h0m2.7-2.6h0m.5 1.7h0m.3 .8h0m8-.5h0m.9 .5h0m.4-2.6h0m2.5 2.5h0m1-1.3h0m5 1.2h0m1.7 0h0m.6-.2h0m4.8 .7h0m9-2.4h0m2.2 .5h0m1.8 1.2h0m2.9-.4h0m2.8-.3h0m3.3-1h0m2.8 1.9h0m-65.9 1.8h0m1.6-.5h0m11.2 1.6h0m2.1 .5h0m6.1-1.9h0m.9-.5h0m3.9 .7h0m2.2-1h0m2.5 1.8h0m4.1 .6h0m1-1.2h0m.3 1.3h0m24.5-2.3h0m.5 1.5h0m.5 0h0m1.2 1.1h0m0-2.4h0m.7 1.2h0m1.8-.9h0m-69.1 3.6h0m4.1 .6h0m.7-1h0m.4-.9h0m1.1 2.2h0m.1-1.9h0m.7 2.3h0m6.7-1.9h0m.7 1.6h0m.9-.7h0m1.8 1h0m.2-1h0m.2-.8h0m.9-.4h0m6.3 2.3h0m2.5-1.2h0m.2 1h0m.1-2.5h0m3.9 1.5h0m1.8-1h0m3.9 2.3h0m1-.1h0m.3-1.1h0m.7 .9h0m2.1-.6h0m.8-.3h0m3.4 .1h0m.6 .5h0m1.9 .2h0m.9-.2h0m2.6-1.2h0m9 1h0m1.8-.6h0m2.2-.1h0m1.2 .1h0m3 1.2h0m-68.6 1.9h0m5 .3h0m.3-.4h0m5.1 1.3h0m2.5-.6h0m2.9 .7h0m10.6-.4h0m6.1-2.2h0m0 1.3h0m1 .9h0m2.7-.6h0m4.2 0h0m2-1.8h0m0 2.2h0m6.7-1.4h0m.1-.6h0m.8-.3h0m12 2.5h0m4.6 0h0m.6-2h0m-67.5 2.7h0m1.4 1.4h0m.9-1.1h0m3.3 1.3h0m.3 .7h0m.9-1.4h0m2.2 0h0m1.2-1h0m2.2 .6h0m4.1 .9h0m11.2 1h0m2.8-.3h0m.9 .3h0m1.4-1.6h0m1-.1h0m1.6 .1h0m4.1 1.8h0m3.3-2.7h0m0 .8h0m.8-.8h0m2.7 0h0m3.5 .6h0m1.5-.5h0m.4 1h0m.2-.1h0m16.2-.7h0m6.6 2.3h0m1.4 .2h0m.3-2.8h0m.8 .8h0m1 1.5h0m-77.2 .9h0m1.3 .3h0m4 1.4h0m1.2-1.5h0m1.1-.2h0m.7 .3h0m2.4 0h0m.4 .9h0m4.4 1h0m1-.4h0m14-.4h0m.1 .5h0m2.9-2.1h0m12.1 .7h0m2.2 1.9h0m1.4-2.5h0m1.8 2.7h0m.1-1.1h0m1.8-1.5h0m.1 .8h0m.3 0h0m2.1-.5h0m.4 .3h0m1.8-.4h0m16.2-.2h0m2.8 1.8h0m.1 .2h0m1.8 .2h0m-80.2 1.4h0m2.7-.4h0m.6 1.2h0m8.5-1h0m3.7 1.4h0m2-.3h0m.6 1h0m8.3-2.4h0m1.3 2h0m1.3-.1h0m.8-1.4h0m.3 1.9h0m1.1-.1h0m2.4-2h0m8.6 1.9h0m10.7-.3h0m.6-1.3h0m2.6 1.9h0m.4-2h0m1.4 1.1h0m1.7-1.4h0m1.8 1.7h0m.3-.1h0m2.9-.9h0m1.4-1.3h0m.8 1h0m7.7-.1h0m3.1 1.8h0m4.9-1.2h0m-75 4.3h0m2.6-.6h0m1.9-.7h0m.8 1h0m2.3 .3h0m.5-2.3h0m13.2 .5h0m2.5 .1h0m1.1 .8h0m2.6 .1h0m1-1.7h0m2.7 2.1h0m.3-.2h0m3.6 .6h0m.1-.5h0m2.9-1.1h0m.3-.5h0m2.5 2h0m.8-.4h0m2.9-.2h0m1-.2h0m.2-.5h0m.8-1.2h0m10.8 1.1h0m11.3 1.4h0m5-2.5h0m5.7 .3h0m-86.6 3.5h0m1.1 1.2h0m2.2 .4h0m2.6-1.1h0m3.7-.9h0m2.5-.2h0m.1 0h0m.2 1.7h0m.7 0h0m1.7 .4h0m3.1-1.9h0m1.7 2.1h0m10-1.6h0m1.9-1.1h0m1.6 1.5h0m6.3 0h0m3.4-1.4h0m.7 2.4h0m4.2-.1h0m1.2-.9h0m1.6 .7h0m0-1h0m2.1 .8h0m1.3-.9h0m1.7 .6h0m1.3-.5h0m33.7 .5h0m.6 1h0m1.3-1.7h0m1.7 .8h0m1.5 .7h0m1.7-1.3h0m.2-.1h0m.1-1h0m4 .2h0m.3 0h0m0 2.6h0m.6-2.1h0m.8 1.8h0m-103.9 2h0m.7-1.1h0m.1 2.2h0m1.6-1.9h0m.7 2h0m1.3-.4h0m13.4-1.8h0m1.5 1.7h0m3-.1h0m1.3 .2h0m.2 .2h0m2-2.1h0m2.7 .2h0m9.6-.6h0m1.6 .5h0m.9 1h0m1.8-.7h0m1.4-.7h0m2.3 1h0m2.9 1.3h0m.2-1.3h0m3.1 1.6h0m.2-.9h0m5.5-1.6h0m.1-.1h0m.8 2.6h0m34.5-1.6h0m7.5-.3h0m.9 .4h0m1.5 1.7h0m.6-1.3h0m7.4-.4h0m.7-1h0m2.9 1.8h0m1.3 .8h0m24.1-1.8h0m-127.1 3.8h0m.1-.6h0m1.1 .2h0m.2 .7h0m.4 .3h0m.5-2.1h0m3.9 2.5h0m.4-1.7h0m3.3 1.1h0m.6 .3h0m6.3 .3h0m1.9-1.4h0m5.6 1.4h0m2.8-1.6h0m3.4 1h0m.6-1.6h0m2.7 .9h0m6.2-.5h0m2.4-.7h0m1.9 .4h0m.7 1.4h0m2.9 .7h0m1.4-2h0m2 0h0m16.6 1.6h0m19.3-.4h0m1.5-1.9h0m8.8 .4h0m6.4 .4h0m.3-1h0m.4 2.7h0m3.5-.1h0m1.2-1.2h0m.4 1.4h0m.4-1.3h0m1.1 .8h0m1.9 .2h0m.5-.8h0m4.5-.2h0m2.7-.2h0m2.8-1.3h0m-128.3 5.6h0m1.7 0h0m1.3 .2h0m17.5-.4h0m.5-.1h0m7.3-1.1h0m.3 .5h0m1.6-.6h0m.3 1.3h0m1.2-.4h0m1.2-.6h0m.4-1.4h0m.4 .9h0m15-.2h0m3.3 1.2h0m17.5-.2h0m1.8-1.3h0m1.8 1.8h0m13.3 .6h0m.9-.6h0m1.5-1.3h0m4.5 1.5h0m2-1.9h0m.6 2.5h0m4.5 0h0m3.4-2.4h0m0 0h0m1.9 1.4h0m.5-.9h0m1.9 .7h0m1.4 .5h0m.3-.7h0m1-.5h0m.3-.7h0m.9 1.3h0m.7-1.5h0m12.1 2.8h0m.8-1.2h0m-127 1.8h0m2.4 .6h0m.6-.1h0m.7-.6h0m38-.3h0m.2 2.4h0m2.4-.8h0m.1 0h0m2.5 1.1h0m0-.6h0m.6-1.1h0m1.8 .1h0m4.9 1.6h0m.4-.6h0m1.4-.7h0m1.2 .5h0m2 .3h0m.8-1.5h0m.4-.4h0m.5 .2h0m9.2 .3h0m13.3 .6h0m2-1h0m4.4-.4h0m1.9 1.3h0m8-1.5h0m1.5 .9h0m5.8-.6h0m5.5 .5h0m10.9 1.7h0m2.5-.5h0m2 .4h0m-100.3 1.4h0m1.8 .7h0m.4 0h0m3.3-1.4h0m.5 2.3h0m10.3-1.7h0m.1 .2h0m1.6 .8h0m4.3 0h0m1-.3h0m4.2-.9h0m.1 2.2h0m1.7-1.4h0m1.1-.8h0m.6 2.3h0m.7-2.1h0m3 1.8h0m7.1-.8h0m11.7-1.2h0m3 2.1h0m.7-1.4h0m0-.9h0m.1 1.4h0m2.8-1.1h0m.3 1.3h0m6.1 .5h0m5.2-2.1h0m.7 1.2h0m1.6 .3h0m.1 1.1h0m3.1-.1h0m14.6-.6h0m0-1.3h0m.5 1.3h0m5.8-.9h0m.9-.2h0m2.2 .2h0m1.2 1.6h0m.6-.8h0m-111.4 2h0m9.2-.7h0m1.5 .3h0m.8 .1h0m7.7 1.7h0m1.3 .5h0m9.9-2.7h0m.4 1.9h0m1 .1h0m2.3-1.8h0m4.7 1.1h0m.4 .1h0m2.1 .6h0m1.3-2.1h0m11.3 0h0m1.7 .6h0m0-.6h0m3.4 .7h0m1.2 1.4h0m7.3-1.4h0m.8 2.1h0m2.8-.4h0m.4 .1h0m2.5-1.6h0m2.8-.4h0m.6 .5h0m.5 .1h0m7 .9h0m1.1-.2h0m.6 .4h0m3.4-1.9h0m1.7 .4h0m.7-.4h0m3.8 2.1h0m5.6-2.2h0m3.2 1.4h0m-108.7 4h0m1.7 0h0m0-1.6h0m1 .6h0m8.9 .1h0m2.9 .3h0m.1 .5h0m1.6-2.5h0m1 1.8h0m1.3-1.9h0m2 .9h0m.4-.7h0m.9-.1h0m5.4 1.3h0m3.2 1.3h0m2.7-2h0m1 2h0m18.8-2.3h0m1 0h0m6 1.1h0m.7-1h0m10.7 1.7h0m2.5 .4h0m1.8-1.5h0m2.9 .8h0m1.3 .5h0m4.6 0h0m.5-1.2h0m.6 .2h0m1.4-.2h0m4.5 1.4h0m1.8-2.3h0m.6 1.2h0m.3 1.2h0m2.2-2h0m0 1h0m1.1-.5h0m1 .6h0m.9 .7h0m.9-.5h0m.4 .1h0m1.3-.7h0m1.1 .7h0m1-.8h0m-103 3.3h0m.4 1.2h0m2.7-2.1h0m7.6 1.6h0m1.3-1.5h0m.1 1h0m3.6-.1h0m.4 .3h0m1.2 .8h0m.1-1.3h0m.5-1.5h0m1.4 1.5h0m1.1-.1h0m5 .5h0m.5-1.9h0m2.8 .5h0m.4 2.1h0m1.2-1.8h0m.2 1.6h0m2-.5h0m1.6-1.4h0m1.6 0h0m3.5-.2h0m.2 1.6h0m1-.7h0m12.4-.6h0m2.4 1.3h0m1.4-.6h0m1.8 1.6h0m.2-1.8h0m.7 .1h0m4.3-.8h0m2.1 1.6h0m2.8-.3h0m.7-1.1h0m4.1 .6h0m.6-.6h0m1.2 .7h0m5.4-.8h0m10.5 1.1h0m.2 1.1h0m.1-1.2h0m.9 .5h0m2.1-.9h0m5.4 1.4h0m2.7-1.8h0m1.6-.2h0m1.4 1.5h0m.7-.3h0m3.3 1h0m-109.4 2.2h0m.8-1.1h0m1.9 1.4h0m8.8 .6h0m5.3-2.5h0m.3 2.2h0m1.8 .1h0m.7-.1h0m.8-.3h0m.6-1.1h0m1.7 1.3h0m0-2.5h0m.5 2.3h0m6.2-1.1h0m.6 1.4h0m4.8-2.5h0m.8 0h0m.6 2.8h0m7-2.6h0m4.3 0h0m5.9 2.5h0m.1-.1h0m3.1-2.2h0m.7 1.3h0m.6 1.1h0m15.5-.3h0m3.9-1.4h0m2 0h0m3-.4h0m0 1.4h0m1.9 .3h0m1 .2h0m.2-.8h0m3.9 .4h0m.7-2.2h0m4.5 1.6h0m1.1 1.1h0m5.8-1.2h0m3-.3h0m-98.4 4.1h0m10.2-.1h0m.3-1.6h0m1.5 1.9h0m.6-2.1h0m0 1.9h0m.9-2.2h0m1 1.3h0m3.9 .1h0m3.7-1h0m3.2-.4h0m4.8 2.8h0m.2-1.1h0m.2-1.7h0m10.2 2h0m.4 .1h0m.7 .1h0m.7-2h0m.3 .6h0m1.9-.4h0m3 .3h0m2 1.8h0m.6-.2h0m2.5-.5h0m14.7-.5h0m1.4-.8h0m3.8 1.7h0m3.4-.9h0m13.7 .1h0m.3 .6h0m.2 .4h0m.7-1.1h0m.4 1.3h0m3.8-.8h0m2.2-1.3h0m.4 1.2h0m.2-.8h0m.4-.1h0m5.7 1.2h0m2.3-1.8h0m-98.7 3.8h0m.2-.8h0m6.2-.4h0m1 .4h0m1 2.1h0m4.1-.7h0m1.4-1.1h0m.1-.2h0m1.7 1.6h0m1.1-.9h0m5.7 .3h0m.9-.3h0m.2 .2h0m.1-.7h0m.4 .4h0m11.7 .6h0m2.8 .3h0m.1-1h0m3.6 .2h0m1-.3h0m.7 1h0m1.5-.1h0m.3 .7h0m.1-2.1h0m2.1 1.9h0m5.7-2.2h0m4.1 1.3h0m.3 .2h0m3.8 .6h0m.9-1.4h0m.6-.3h0m.1-.1h0m2.5 .6h0m.6 .8h0m.8 .6h0m2.9 .1h0m1.4-.6h0m.3 .5h0m4.6-2.4h0m.8 .2h0m6.4 1.7h0m.5 .9h0m1.9-.8h0m.9-.9h0m1.3-.2h0m1.7 .9h0m1.7-1.3h0m1.6 2.1h0m1.4-.6h0m2.1 .3h0m0-1.7h0m.6 2.2h0m-97.8 1.4h0m0-.7h0m.5-.4h0m.4 2.8h0m.6-2.7h0m.3 1.6h0m.8-.5h0m1.9 .6h0m1.2 .4h0m2.6 .1h0m2.3 0h0m.1-.3h0m.2-.6h0m1 .2h0m1.9-.5h0m.2 1.6h0m.1-2.7h0m.8 1h0m.4-.6h0m1.8 1.9h0m1.2-1.9h0m16.9 .2h0m3.4 .1h0m3.2 .2h0m1 1.5h0m2.9-.4h0m6.3-.3h0m4 .3h0m2.4-2.1h0m2.8 2h0m.9-1.9h0m1.9 1.3h0m.1 .1h0m3.4-.8h0m7.7-.5h0m1 0h0m.3 2.3h0m3.9-.5h0m4.8-.2h0m2.4 .5h0m1.7 .6h0m1.2-1.9h0m.3-.1h0m.1 1.7h0m.2-1.8h0m3-.6h0m-102.7 5.6h0m.4 .1h0m1.5-.4h0m5.3-1h0m.8 .2h0m1.8-1h0m.6 .9h0m.1 .7h0m3.2-1.5h0m.2 1.2h0m.2 .1h0m2.6 .5h0m.1-1.8h0m.6-.3h0m.1 1.2h0m.5-.8h0m.7 2.1h0m3.8-1.2h0m1.1 .9h0m1.9-.3h0m.9-1.7h0m12.4 1.9h0m1.3 0h0m1.6-.1h0m3-.9h0m1.4-.1h0m1.1-.9h0m4.2 0h0m.8 2.2h0m.5 .1h0m0-.8h0m2.3-.5h0m2.8 .8h0m1.2 .1h0m1.1-2.2h0m6.4 1h0m5.2 .3h0m.7 .4h0m1.9 0h0m5.3 .8h0m9.7-1.5h0m8.4-.6h0m2.3 .2h0m.8 .1h0m3.5 .5h0m-104.3 3.9h0m1.4-.2h0m1.2 .7h0m.2-1.8h0m2.9 1.1h0m.9 .4h0m11.4-2.4h0m3.8 .7h0m.4 2h0m1.8-1.1h0m12.7 .1h0m.5-1.4h0m2.7 .3h0m6.5-.7h0m3 2.2h0m.2-2.2h0m.3 .1h0m5.9 .7h0m2.3-.7h0m3.6 1.9h0m.5 .5h0m3.7-1.8h0m.3 1.4h0m1-1.5h0m.7 1.5h0m8.9 .7h0m4.6-.5h0m10.5-1.6h0m7 .2h0m1.3 .9h0m.5 0h0m3.9 .8h0m-103.7 1.1h0m.2-.5h0m2-.1h0m2.9 .5h0m.3 .8h0m0 1.3h0m2.5-1h0m4.3-.8h0m2.6 1.2h0m1.1-.6h0m1.1-.5h0m1.9-.3h0m2.4-.1h0m.1 .4h0m.3 .8h0m.6 .8h0m1.3-.5h0m8.4 .7h0m.9 0h0m6.8-.3h0m2.7-1.9h0m.4 2.1h0m.1-.8h0m.3-.1h0m5.1-1h0m1.4 1.6h0m1-1.2h0m.7 1.2h0m3-1.3h0m2-.8h0m1.4 .6h0m1.2-.4h0m4.5 .9h0m3.4 0h0m4.6-.9h0m.1-.2h0m4.7 1.5h0m1-.9h0m.1-.5h0m21.9 2h0m.8-1.1h0m1.5 .3h0m.3-.2h0m.5 .4h0m.1 .3h0m.8-1.1h0m.7 .4h0m.4 1.1h0m-104.5 .8h0m.3 .9h0m1.2-1.2h0m3.4 2.6h0m.4-2.6h0m.9 2.6h0m3.8 .2h0m2.8-1h0m.2-1.4h0m1.6 .6h0m1 0h0m.1-.9h0m.2 1.7h0m.1-1.8h0m10 .9h0m.6-.1h0m1.4-.5h0m1.5 2.5h0m.4-.9h0m.2 .9h0m1.4-.6h0m.3 0h0m0-1.9h0m.1 1.3h0m.5 .8h0m1.7 .1h0m2.5 0h0m1.5-2.2h0m.1 1.2h0m.2 .6h0m.1-1.5h0m.6 2.1h0m1.9-.9h0m2.9 .5h0m2.4-.2h0m.7-1.2h0m2.5-.5h0m4.2-.4h0m.8 2h0m1.4-1.1h0m.4 1.8h0m.3-.2h0m1-.1h0m2.2-1.5h0m.3 1.4h0m2.9-1.5h0m4.6 1.6h0m8.7-.4h0m1.1-1.1h0m.2 .6h0m.1-.7h0m1.6 .8h0m1.4 1.3h0m.8-1h0m.5 .7h0m.9-1.2h0m2.4 .1h0m.2 .9h0m10.9-1.8h0m.7 1.1h0m.2 .2h0m.9-1.8h0m2.2 .7h0m2.3 1.9h0m2.8-.8h0m-104.4 3.9h0m.2-.9h0m1 0h0m2.5 .3h0m.9-1.7h0m5.9 2.3h0m1-2.7h0m3.2 1.6h0m11.5 .3h0m1.5 .2h0m.6-.2h0m2.2-.9h0m.1-.6h0m.1 .9h0m0-.7h0m0-.7h0m.8 2.7h0m2.6-.7h0m8.6-1.1h0m.5 1.1h0m.6-.9h0m.2-.1h0m.4-.4h0m.2 2.1h0m1.4-2.1h0m.8 1.9h0m1.4-.3h0m1.9-2.1h0m2.8 .5h0m.1-.7h0m7.7 1.2h0m9.3-.4h0m2.5 .3h0m6.5-.5h0m6.2-.3h0m13.9 .7h0m2.3 1.4h0m3.4-.9h0m.1 .3h0m2.3 .6h0m-106.5 2.8h0m1-1.1h0m2.9 .8h0m1.5 .7h0m.8-1.4h0m1.6 1.2h0m1.5-1.1h0m2.6 .3h0m1.3-.3h0m6.1-1.3h0m4.2 .4h0m1.1 2.3h0m.6-.3h0m3.4-1.1h0m2.9 .7h0m.4-.3h0m9.7-1.2h0m5.3 1.9h0m.2-1.1h0m5.6 0h0m3.8 1h0m8.1-.8h0m14.5-.1h0m29.2 .4h0m1.9 1.1h0m-106.1 1.6h0m2.2-.1h0m.9-.6h0m2.8 2.1h0m2.6-.1h0m1.8-2.8h0m1 1.5h0m.2-.5h0m.8 1.3h0m.8-1.8h0m.7-.2h0m2.6 2.4h0m2.5 .1h0m.6-1.4h0m6.5 .7h0m.1 .3h0m.3-1.8h0m2.4 .3h0m1.3-.2h0m.7 1.6h0m1.4-.8h0m.8 .9h0m.1-.9h0m1-1h0m1.2 .3h0m.2 1.7h0m2-1.5h0m.2 0h0m.1-.5h0m3.2 1.8h0m4.5-2h0m.7 2.4h0m.2-1.7h0m.2 1.6h0m1.2 .3h0m1.9-2.3h0m23.5 .2h0m26.1-.5h0m3.2 2.2h0m3.1-.8h0m2.3-.3h0m.5 1.3h0m-111.5 2.1h0m1.8-.8h0m1 1.5h0m4.5-1.8h0m2.2-.7h0m8.6 2.8h0m6-.3h0m4.8 .2h0m.7-1.6h0m.5 .9h0m.2-.1h0m2.2-.8h0m0 1.2h0m2.7-.9h0m1.8-.4h0m.1-.1h0m1.8-.2h0m3.4 .4h0m.7 .1h0m.4-.5h0m.3-.4h0m.6 .8h0m1.9 .1h0m2.2 1h0m1.2-2.1h0m1.4 1.1h0m4.3 1.1h0m14.3-.9h0m5-.5h0m28.1 1.7h0m3.4-.1h0m.5-1.6h0m6 2h0m.3-1.9h0m3.2 1.1h0m1.5-.9h0m2.7 1.4h0m-117.7 1.9h0m2.4-.6h0m2.5-.9h0m.9 .8h0m.1 1.7h0m3.3-.6h0m5.1-1.9h0m13.9 1.1h0m4.5 1.2h0m.7 .6h0m5-1h0m1.5 .2h0m1.6-1.7h0m.9 2h0m1.6 .5h0m3.2-.6h0m9-1.8h0m13.7-.2h0m32.3-.1h0m14.7-.1h0m3.1 .2h0m.6 1.8h0m-112.2 2.3h0m29-.8h0m4.7-.4h0m.2 0h0m1.7-.1h0m.2 1.6h0m.5-.7h0m.2-.8h0m6 2.7h0m29.6-.2h0m13.4-2.4h0m4.7 .9h0m2-1.2h0m3.4 1.6h0m8 .8h0m5.3-.1h0m5 .7h0m-74.4 2.2h0m1.2-1.7h0m1.8 1.1h0m1.2 .9h0m1.4-.3h0m3.5-.8h0m3.8-.3h0m27.1 .5h0m8 .6h0m17.3 0h0m3.9 .5h0m0-1.8h0m2.1 .6h0m3.3-.4h0m2.1 .7h0m.8-1.2h0m-77 4.3h0m4.7 .2h0m1.1-.5h0m1.1 1.1h0m1.6-1.1h0m54.9 .2h0m.1-.5h0m1.9 .9h0m1.2-.2h0m.3 .3h0m1.2 .4h0m.3-.8h0m.9 .8h0m6.2-1h0m2.2-.1h0m.1 1h0m.4 .1h0m-77.5 2.8h0m.3-.2h0m3.6-1h0m4.1 .2h0m3.8-.3h0m30.3 1.5h0m5.6-1.3h0m8.1 0h0m2.9-.3h0m.9 .1h0m2.9 1.1h0m1.6-.9h0m1.5-.4h0m1.4 1.2h0m4.4 .2h0m1.3-1.6h0m1.7 2.2h0m1.7-2.6h0m-71.7 4.6h0m.5-1h0m.7 1.8h0m.5-2.6h0m4.7 .2h0m8.5 1.5h0m2.6 .8h0m9-.5h0m24.6-.9h0m4.7 .1h0m.4 .5h0m.5-.5h0m.1-.4h0m.1 1.6h0m3.5 .1h0m.7-.9h0m.1-.9h0m1.6 1.3h0m.1-1.1h0m3.1-1h0m-64.9 4.9h0m7.5-.6h0m.2-.4h0m1.1 1.9h0m0-1.1h0m2.3-.3h0m.3 .3h0m2.1 1.1h0m.3-2.5h0m3.3 1.3h0m.8 .9h0m5.2-.2h0m5.1-1h0m5.5 1.1h0m1.2-1.1h0m10.7-.9h0m10.5 2.3h0m.8-1.2h0m.1-1.3h0m-63.6 3.5h0m.4 1.8h0m2.3-.5h0m14.1 .6h0m.6-2.5h0m3.1 .4h0m2.5 .2h0m3.2 1.2h0m1.6 .7h0m15-.2h0m7.1-1.8h0m-34.4 2.5h0m.5 .8h0m5-.1h0m.6 1.8h0m.4-1.6h0m2.3-.4h0m.2 1.9h0m.3-.7h0m.1 .7h0m2.5-2.5h0m4.5 2.6h0m1.5 .1h0m3.9-1.5h0m1.4-.3h0m2.1 1.3h0m.4 .5h0m1.2-1.2h0m9.5-.9h0m-20.6 3.6h0m1.9-.8h0m1 1h0m1.5-.4h0m.1 .6h0m1.1-.7h0m1.4 1.3h0m2.3-2h0m2.8 .5h0m3.9-.3h0m-17.5 4.5h0m2.8 .2h0m1.9-1.1h0m.1 1.2h0m.6-1.2h0m4 .2h0m1.9-1.1h0m1.3 1.4h0m-40.2 2.9h0m2.8 .5h0m.4-.6h0m2.7-1.3h0m0 1.4h0m2.7-.1h0m.4 1.1h0m2.7 .1h0m1.1 .1h0m.7-2.3h0m.6 1.6h0m1.4 .8h0m21.1-1.8h0m1.2-.4h0m1 .4h0m.3 .1h0m.5 .2h0m-32 3.2h0m3.5-.6h0m1.2 1.1h0m1.9-.8h0m1.6 .8h0m.5-.7h0m1.3-1.3h0m-14.9 4.1h0m2.5 1h0m3-1.7h0m1.5 .7h0m2.8 1.4h0m1.1 .3h0m2.8-.6h0m4.5 .6h0m.6-2.1h0m6.2 1.5h0m.8-1.9h0m.6 1.9h0m3.9-.1h0m-23.5 1.8h0m.5 .2h0m3.6-.5h0m1.3 1h0m.1-.2h0m5.5-.3h0m.4-.3h0m1.7-.6h0m1.6 .1h0m.2 2.5h0m3.2-2.2h0m4.7 1.6h0m1.9-1.7h0m.9 2.5h0m-30 2.3h0m8.5-.7h0m2-1.1h0m2.8 1.3h0m.5-.5h0m7.6 1h0m.1 .6h0m2.5-2.9h0m.4 1.6h0m2.4 .2h0m4.7-1.3h0m-32.9 2.9h0m7.2 .6h0m20.3-.5h0m.4 .4h0m.5 .3h0m-26.4 4.1h0m17.3-.6h0m9.1-1h0m.4-.4h0m-25.5 4.9h0m13-2.1h0m1.6 2.6h0m-13.3 1.3h0m13.5 .7h0m1.6-.6h0m.9 1.7h0m1.9-2.4h0m-18 3.4h0m.5 .6h0m1.5 1.5h0m1.3-1.5h0m.4 1.2h0m2.1-1.4h0m.9-.6h0m.1 .9h0m3.8-.9h0m3.6 .5h0m3.4-.1h0m4.4 .4h0m-19.6 2.5h0m3.4 1.6h0m.2-1.8h0m1.2 .7h0m1.5 1h0m.3-.7h0m4.2-1.5h0m4.1 1.9h0m.1-.4h0m2.8-.9h0m1.5 .9h0m-11.6 2.6h0m0 .3h0m1.9-.3h0m6.5 1.2h0m.3-1.4h0m1 .8h0m-12.2 1.9h0m1.1 .3h0m1.1 .6h0m3.1-.1h0m1.4-1h0m2.5-.2h0m.2 .8h0m1.2-.8h0m.8 .2h0m-8.4 3.7h0" fill="none" stroke="#f5cc6c" stroke-width="2.40" stroke-linecap="square" stroke-opacity="0.75"/>
<path d="M1046.5 885h0m.8 1.2h0m.4-.8h0m1.1 .8h0m-3.8 .8h0m.2 1.7h0m2-2h0m.2 1h0m.6 1h0m.2 .7h0m.4-1.1h0m0-1.7h0m1.6 1h0m.3 .6h0m.2 1.3h0m.9-2.8h0m2.3 2.3h0m.4 .1h0m.1-.8h0m0 .5h0m-12.8 3.2h0m.3-1.3h0m1 1.6h0m.8-1.5h0m.3 .6h0m.5-.3h0m.5 .5h0m.8 .8h0m0 .1h0m2-.2h0m3.7-1.2h0m1.4-.7h0m1.3-.6h0m1.5 .5h0m2.2 1.7h0m32.8 0h0m.7 .4h0m.1-.9h0m2.9 .2h0m-54.4 2.4h0m.4 .3h0m.8-.7h0m.3-.2h0m.8-.4h0m0 1.1h0m.2-.5h0m3.8-.7h0m.7 0h0m1.3 1.3h0m.1 .7h0m.1-1.6h0m.8 .1h0m1.1 1h0m.9 .7h0m.5-1.5h0m.5 .2h0m.1 1.3h0m.4-2h0m.6 1.6h0m1.2-.9h0m.1 .1h0m0 .8h0m.1-1.5h0m.1 .2h0m2-.6h0m1.5 1.4h0m1 .8h0m3.3 .4h0m18.1-.5h0m.2-.5h0m3.7 .4h0m.1-.4h0m0 .2h0m1 .3h0m.2-.8h0m.2-.5h0m.4 .6h0m.1 1.1h0m.3-2.8h0m1 2h0m.1 .8h0m0-1.5h0m.1-1.4h0m.4 2.7h0m.1-1h0m.7-.1h0m.6-.1h0m1.4-.5h0m0-.5h0m.1 .7h0m.8 1h0m.7 .2h0m.5-.7h0m1-.7h0m.7 1.1h0m.3-.7h0m.1-.9h0m.1-.5h0m0 1.9h0m.5-.6h0m.9-1h0m.2 .7h0m-59.7 4.9h0m1-1.8h0m.5 .2h0m.9 .3h0m.6-.9h0m3.1 1.9h0m3.4-2.5h0m.4 1.6h0m.1-.6h0m.3 .7h0m1.7 1.2h0m.1-1.2h0m1-1.6h0m.8 2.1h0m.7-.8h0m.8-.1h0m.1 .8h0m.5 .3h0m.1-.3h0m.4-.7h0m1.5-.4h0m1.5-.8h0m.9 1.3h0m.4 .5h0m.5 .1h0m.4 .8h0m.6-1.5h0m.6 .2h0m.6 .6h0m.2-2.2h0m1.1 1.3h0m.2-1.2h0m0 .3h0m.3-.1h0m.4 .7h0m.3 1.8h0m.3-1.8h0m.4 1.1h0m.5 .7h0m.4-2h0m0 2h0m.9-.5h0m0-.4h0m7-.5h0m1 .5h0m1.4 .9h0m.2-1.1h0m2.8 .8h0m.6-2.2h0m1.1 1h0m.5 1.3h0m1.1 .1h0m.3 0h0m.3-1.4h0m.3-1h0m.6-.3h0m.5 1.8h0m.2-.2h0m.2 1.2h0m0 0h0m.4-2.2h0m.1 .6h0m.3 1.5h0m.2-2.2h0m0 1.6h0m.2-.9h0m.2 1.2h0m.3-.7h0m1.7 .6h0m.2-1.6h0m0 1.2h0m.1 .2h0m.3-1.4h0m.1 1.6h0m0-2.3h0m.3 1.3h0m.7-.4h0m.3-.4h0m.1 .2h0m.1 1.9h0m0-2.2h0m.2 .6h0m.9-1.1h0m.4 2.7h0m0-.4h0m1.1-1.9h0m1.3 1.3h0m.5 1.3h0m.1-.3h0m.2-.1h0m1.3-2.2h0m.2 .4h0m2.1-.7h0m3.2 1.8h0m-65.3 2.1h0m.4 .7h0m1.6-.3h0m.1-.7h0m.9-.2h0m.3 .7h0m.4-.7h0m.1 .9h0m.3-.8h0m1.1 1.3h0m3.2-.3h0m.9-.5h0m.7 1.9h0m1.4-2.5h0m1-.2h0m.3 1h0m.4-.8h0m.6 1.7h0m2-1.5h0m2 .8h0m.6 1.1h0m.1-.4h0m.1-1.9h0m.3 .1h0m1.7 1.1h0m.7 1h0m.2-1.3h0m.2-.7h0m0 .2h0m.4 1.9h0m1.6-2.6h0m1.2 2.4h0m.2-.8h0m0 1.4h0m.3-2.6h0m1-.1h0m.4 .3h0m0 1.7h0m1.4-.5h0m.9 .1h0m.1 .1h0m.2 .4h0m.7-1h0m2.1-.8h0m5.3 .6h0m.1 .4h0m.2 1.3h0m.5 0h0m.3-2h0m.6 0h0m.5 1.9h0m0-.2h0m.5 .1h0m.5-2.6h0m.2 2.1h0m.2-.7h0m1.3 .3h0m1.5-1.3h0m.8 2.4h0m.5-1.9h0m.8 1.2h0m.7-.4h0m.2 0h0m.4 .8h0m.5-1.1h0m1 1.1h0m0-.8h0m1.3-1.4h0m.4 1.4h0m.4 .9h0m.3-.6h0m.1-1.6h0m.4 .8h0m.2 1.1h0m.2-.4h0m.3-1.2h0m.1 .5h0m.5-1h0m.5 1.8h0m.8 .7h0m.7-.3h0m0 0h0m.6-2.4h0m.3 1.1h0m1.4-.4h0m.2 .2h0m.2-.2h0m.1 .4h0m.3 1.2h0m.5-1.8h0m1.7-.5h0m3.1 1.2h0m.3-.7h0m1.7 .8h0m.1-1.1h0m1.1-.2h0m-67 4.8h0m1.1-.7h0m3.7 1.2h0m.3-1.1h0m.9 .7h0m.5 .5h0m.2-.1h0m1.2-1.3h0m.1-.8h0m.6 .9h0m.5 .9h0m.1 .5h0m0-.8h0m.4-.6h0m.8 1.1h0m.9 0h0m1.3-.5h0m.1 1.1h0m.4-2.8h0m.9 1.8h0m1.7-.6h0m.7 1.1h0m.3-1.2h0m0 1.3h0m1.4 .3h0m.6-.5h0m.6-.3h0m0-.7h0m.1 0h0m.1 .3h0m.3 1.2h0m.4-.2h0m.2-2.1h0m.5 2h0m.5-1.1h0m.5-.5h0m0 .5h0m.5 .2h0m.8 .8h0m1-1.5h0m.5-.2h0m.1 .7h0m1.5 .3h0m1.8-.2h0m1.5 .8h0m.3-1.2h0m.1 .4h0m3.6-1h0m.5 1.5h0m4.4 .1h0m0-1.2h0m.4 1.9h0m.4-.3h0m.1 .1h0m.1-1.6h0m.1 .5h0m.3 1h0m.2-.7h0m.3 .9h0m.2-1.7h0m.1 1.3h0m.3 .2h0m.1 0h0m.1-1.5h0m.8 .3h0m.2 .8h0m.8-1.2h0m1.9-.2h0m.3 1.3h0m1.1-.2h0m.9-.8h0m.3 .2h0m.1-1.1h0m.1 .1h0m.4 2.5h0m.1 .1h0m0-2.4h0m.2 2.4h0m1.2-1.7h0m.2 1.7h0m1.2-.2h0m.5-2.5h0m1 2.4h0m.1 .3h0m.1-1.4h0m.6 .5h0m.5 0h0m.6-1.5h0m0 1.3h0m.4-1.5h0m.6 1.4h0m0-1.5h0m.4 2.7h0m.1-.4h0m.5 .5h0m0-.4h0m.2-1.6h0m.6 .5h0m.4 .8h0m2.2-.3h0m.2 .4h0m0-.6h0m.4-.8h0m.1 1.3h0m5.2-1.5h0m.1-.5h0m.7 2.3h0m-66.7 2.6h0m.2-1.9h0m.4 .1h0m.3 2h0m1.7-2.2h0m1.1 .1h0m.7 2.7h0m.1-1.4h0m.2-1.1h0m.1 1.7h0m.3 .7h0m.7-2.5h0m.9 1.7h0m2.6-.4h0m0-.8h0m.8 2h0m.3-.2h0m.1 .1h0m3.9-.7h0m.1 .9h0m.1-2.8h0m.5 2.8h0m.1-1.8h0m.6 .8h0m.2-.8h0m.2 .2h0m.4-.6h0m.8 1.6h0m.6-1.7h0m0 2.3h0m1.9-2.2h0m.7 .1h0m.1 .9h0m.6 .6h0m.1-.4h0m.5-1.8h0m0 1.4h0m.7-1.1h0m.7 1.8h0m.4 .5h0m.5-2.1h0m0-.6h0m.5 1.7h0m.1-1.3h0m1.3 .6h0m.3-.8h0m.1 .3h0m0-.4h0m1.9 2.2h0m1.5 .6h0m.2-.5h0m.2-.1h0m.1-2h0m0 2.4h0m.1-2.6h0m6.9 .8h0m.3 .2h0m1.9-.6h0m1-.2h0m1.7 .9h0m.6 .5h0m.4-.9h0m1.2 1h0m1 .8h0m1.1-2.2h0m.5 .6h0m.2 .6h0m.1 1.1h0m.3-1.5h0m.1-.5h0m.6 .5h0m.7 .8h0m.4-1h0m1.5 1h0m.8-1.2h0m.6 .6h0m.4 1.5h0m.7-1.3h0m.6 .3h0m.3 .6h0m1.3-2.3h0m1.1 .7h0m1.3-.9h0m.5 2.2h0m.5-2.2h0m0 1.5h0m.9 .6h0m0 0h0m.8 .7h0m.2 0h0m1-.9h0m.4 0h0m1.8-.3h0m.7 .6h0m.5-1.7h0m.3 0h0m.1 .5h0m.2 1.7h0m-68.1 2.4h0m.5-1.2h0m.5-.6h0m.8 0h0m.2 1.1h0m.3-.1h0m0 1.1h0m.6-1h0m0-.7h0m.6 2.1h0m.2-.2h0m0-1.9h0m.2 1.2h0m.3 .8h0m.2-2.1h0m.1 .1h0m2.2 .4h0m.4-1h0m1 1.6h0m1.1 .4h0m2.2-1.7h0m.2 .2h0m.1 2.2h0m2.1-.5h0m.3-1.2h0m.3-.7h0m1.1 1.9h0m.2-.1h0m.9-.6h0m0 .5h0m.6 .4h0m1.3-1.6h0m.6 .8h0m.1-.6h0m.5 .8h0m1.8-.6h0m.1 1.5h0m.9-2.3h0m.1 .7h0m.6-.8h0m.9 2h0m.1-1.9h0m.2 2.1h0m.8-1.3h0m.1 1h0m.7-.1h0m1.1 .6h0m.8-1.7h0m.1 1h0m.6 .2h0m.2-2h0m.3 .2h0m2.9 1.8h0m0-1.9h0m9.1 1.7h0m.4-1.5h0m.1 1.1h0m3.1 1.1h0m.4-.4h0m.4-.2h0m.1-.4h0m.2 .9h0m.2-2.3h0m.2 .2h0m.3 .3h0m.2 .3h0m.2 .1h0m.1-1.2h0m.3 1.6h0m.2 .5h0m.5-.8h0m.3 .9h0m.2-1.9h0m.5 1.6h0m.6-1.8h0m.3 .6h0m1 1.5h0m0-.4h0m.6-1.2h0m0-.1h0m.4-.3h0m.4 .4h0m.1 2.2h0m.1-2.4h0m.4 .4h0m.4 1.1h0m2.1-.4h0m.2 1.4h0m.2-2.3h0m.4 .6h0m0 1h0m.1 .2h0m.1-.9h0m.1-.6h0m.5-.2h0m.4 1.4h0m.1-1.7h0m.7 .8h0m1.7 .8h0m.7-1.6h0m.4 2.2h0m.2-2.3h0m.6 1.7h0m.4-1.4h0m0-.6h0m1 2.8h0m1.4-2h0m2.3 1.2h0m.7-1h0m0-.6h0m-69.2 4h0m.6-.4h0m1.2 .3h0m.5-.4h0m.4-.3h0m.7 0h0m1.9 1.6h0m.9-2h0m0 .8h0m.9 1.1h0m.6-.1h0m.6-.3h0m0 .5h0m.1-1.1h0m.1 .6h0m.3 .5h0m.2-1.4h0m.5 1.7h0m.6-1.8h0m.4 1.3h0m1.2-.8h0m.4-.4h0m.8 1.9h0m.8-1.4h0m.5 1.2h0m.5-1h0m.1 1.1h0m1.5-2.5h0m1.7 2.5h0m.4-2h0m.2 2.3h0m.1-1h0m.5 .7h0m0-2.6h0m.4 1.3h0m.4-1.4h0m.5 3h0m0-2.2h0m0 1.9h0m.8-1.8h0m.3 1.2h0m.2-.4h0m.1-1.4h0m.4-.1h0m0 .9h0m.6 .8h0m.6 .9h0m1.8-1h0m0-.3h0m.7 1.1h0m1.7-2.2h0m.4 2.1h0m1.6-.4h0m.2 .1h0m.3-2.1h0m0 1.9h0m.1-1.9h0m.2 2.2h0m.4 .2h0m.1-.1h0m1.2-1h0m.4 1.2h0m.6-1.2h0m.3 1.3h0m1.8-2.3h0m4 .6h0m2.6-.2h0m0 0h0m.3-.2h0m.1 2.2h0m.3-1.9h0m.3 1.3h0m.2-1h0m.2 1.5h0m.6-2.5h0m.1 2.2h0m.2 0h0m0-2.4h0m.5 1.4h0m.6-.9h0m0 .7h0m.2 1.2h0m.2 .3h0m.4-2.5h0m1.1 1.4h0m.6-1.3h0m0 1.2h0m1.2-1.5h0m.1 2.6h0m.7-.9h0m1.3-.3h0m0 1.4h0m.1-2.1h0m1.2-.4h0m.3 1.7h0m.6 .4h0m1.4-1.6h0m1.5 1h0m0-1h0m.6 1.2h0m.5-1.4h0m0-.1h0m.1 .3h0m3.4 1.6h0m1.4-1.7h0m.8 1.8h0m.1-.5h0m.1-1.7h0m.9 1.6h0m1-.5h0m1 .1h0m.2 .2h0m1.2 .1h0m2.1-1.2h0m.4-.4h0m-69.1 3.4h0m.3-.1h0m.6 .8h0m.6-.4h0m.1 .4h0m.7 .6h0m1.3-1.9h0m.5 2.8h0m.1-.6h0m2.2-1.8h0m.2 1.6h0m0-.5h0m.6 .8h0m.1-.6h0m.1-1.5h0m1.6 2.7h0m0-1.9h0m.2 .3h0m.2 1.3h0m1-.2h0m.3-.7h0m.2-1h0m.4 0h0m.2 1.5h0m.1-.4h0m.3-1.2h0m0-.4h0m.8 2.4h0m.7-2.1h0m1.3-.4h0m.3 .7h0m.2 1.2h0m.2-1.7h0m.2 0h0m.5 .6h0m.7 .1h0m.2 1h0m.6 .2h0m0 .1h0m.9-2.1h0m0 1.5h0m.4-1.5h0m.4 1h0m.6 1.8h0m.3-1h0m.7-1.5h0m.6 1.9h0m.7 .4h0m.1-1.1h0m.3 1.2h0m.6-1h0m.6 1h0m1.7-1.9h0m.2 1.3h0m.3 .6h0m0-.9h0m.1-1.9h0m.3 1h0m.4-.5h0m.1 .8h0m0 1.4h0m.1-1.2h0m.2-.6h0m.3-.8h0m1.2 1.5h0m.2-.7h0m.4 1.1h0m3.9-1h0m7.3 .7h0m.5-1.7h0m.1 2h0m.1-1.1h0m.1 .6h0m1.1 .9h0m.3-.1h0m.9-2h0m.3 1h0m0-1.2h0m.2 .2h0m.4 .4h0m1.2 1.3h0m2.1-1h0m1.7 .9h0m1.4-1.8h0m0 .3h0m.1 2.3h0m.2-1h0m.2 .9h0m0-1.9h0m.3 .3h0m1.5-.4h0m.9 .1h0m.4-.1h0m.9 2h0m0-1.1h0m.4-1.5h0m1.8 2.6h0m.5-2.5h0m.5 1.3h0m.3-.9h0m.5 1.4h0m.1 .1h0m.4-1h0m2.8 .8h0m.7-1.5h0m1.1 2.3h0m0-.2h0m.8 .2h0m.1-1.5h0m.1-.4h0m.2-.7h0m.5 .7h0m1.1 1.5h0m.7-1h0m.6 1.2h0m-70.1 3.1h0m2.9-2h0m.4 .4h0m0 1.2h0m.3-.5h0m.3 .4h0m1.7-1h0m.1-.9h0m0 2.7h0m2.3-2.6h0m.1 1.1h0m0-.9h0m1.3 1.9h0m.3 .2h0m.8-1.3h0m.1-.3h0m1.2 .2h0m2.6 .8h0m.4 .1h0m.1 .2h0m.2-1.4h0m.6 2h0m.1-.8h0m1.5-1.9h0m0 1.6h0m.2 .3h0m.4 .4h0m2.3-2.1h0m1 .7h0m0 1.5h0m.6-.8h0m.4-.1h0m.3-1.1h0m.7 .8h0m0-.8h0m.5 2.1h0m1.8-2.6h0m.3 .2h0m.2 2.5h0m.3-.7h0m.2-2h0m.8 2.2h0m1.3-.8h0m.6-1.1h0m.1 .6h0m.7 .6h0m.1-1.1h0m1.5 1.1h0m.1 0h0m1.3-.3h0m1.4 1h0m.9-.2h0m1 .2h0m0 .6h0m1.7-2.3h0m3.3 2.2h0m0-.5h0m.7 0h0m1.2-.7h0m.3 .2h0m.2-1.7h0m.2 2.6h0m.8-.2h0m1-2.2h0m1.4 1h0m.9 .2h0m1.8-.6h0m1.5 0h0m.1 2h0m.1-.3h0m1.5-1.8h0m.3 1.7h0m.4-2h0m.7 1.1h0m.4 1.1h0m0-2.2h0m.2 0h0m.2-.5h0m.1 2.4h0m.1-2.1h0m.4-.1h0m.7 .7h0m1.4 1.4h0m.4 .1h0m.5 .1h0m1.3-2.4h0m.9 2.3h0m.2-1.7h0m1.2 1.9h0m.1-.4h0m.1-1.6h0m1.4-.5h0m.6 2.1h0m.4-2h0m0 1.5h0m.3-.8h0m.1-.8h0m.5 2h0m.1-.1h0m1 .4h0m1.1 .2h0m.8 0h0m-71.5 2.7h0m1 .7h0m.9-.7h0m.2-.4h0m.1-.9h0m.8-.9h0m.2 2.1h0m.2-.2h0m.3 .8h0m.3 .2h0m1.2-2.1h0m.3 .4h0m.2-.4h0m.6 1h0m1.4 .7h0m2.1-2.2h0m.9 2h0m.1-1.7h0m.5 .4h0m.3-.8h0m2.6-.2h0m.3 .9h0m1.6 .7h0m.1 .1h0m.1-1.6h0m.1 1.8h0m.2-1.5h0m.1 2.4h0m.8-2.8h0m.8 1.5h0m.4-1.4h0m1-.1h0m1.5 1.3h0m.3-.3h0m2.6 .1h0m1.5-.2h0m.2-.5h0m.3 .6h0m.2-.8h0m.2 1.4h0m0-.4h0m.9-1h0m.2 2h0m.2-.4h0m1.6-1.6h0m.2 .4h0m.1 2h0m.6-.8h0m.1-1.6h0m1.1 .6h0m1.6-.5h0m.3 2.3h0m.4-2.6h0m.6 1.3h0m.2-1.1h0m.5 1.9h0m0-1.1h0m.4-.5h0m.6 2.2h0m.2-1.6h0m.9 1.4h0m.2 0h0m.3-.4h0m.5-1.3h0m.2 .6h0m.1-.6h0m.2 1.9h0m3.5-2.3h0m.8-.3h0m1.1 0h0m.2-.2h0m.5 2.8h0m1.5-2.7h0m1.4 0h0m3.1 .5h0m0-.4h0m.2 .3h0m.1 .6h0m1.3-.4h0m.4-.4h0m.1 .6h0m.2 .8h0m.1-.6h0m0 1.6h0m.8-.9h0m.7 .8h0m.9-2.2h0m0 .5h0m.6-.3h0m.6-.4h0m.3 0h0m0 .1h0m.2 .4h0m1.9 .9h0m.7 1.3h0m.7-.8h0m.2 .2h0m.2-1.7h0m.4 1.5h0m.5-1.7h0m.4 2.4h0m.5-1.9h0m.3 1.8h0m.3 .1h0m.6-.8h0m0-1.6h0m.5 1.4h0m.1 0h0m1.3 .1h0m4.2 1h0m.8-1.7h0m.1 1.1h0m.1 .2h0m-70.5 3.4h0m1.3-.9h0m.8 .2h0m.6 .6h0m.4-2.4h0m.2 1.1h0m.1-.2h0m.2-.3h0m.3-.4h0m.6 2.1h0m.2-1.3h0m.2 .2h0m.3 .3h0m0-1.3h0m0-.1h0m2.4 1.4h0m1.6 .6h0m.5-.2h0m1.4-2.3h0m.7 .4h0m.5 1.5h0m.1-.7h0m.4 1.2h0m.9-1.4h0m.1-.1h0m.3 2h0m.1-1.3h0m1.1 1.1h0m.6-1.5h0m.3-.1h0m.1 .3h0m.4-.2h0m.3 .9h0m.2 .4h0m.1-1.1h0m.6-.1h0m.8 1.5h0m.4-2.2h0m.2 .8h0m.2 .7h0m2.3-1.5h0m1.3-.4h0m.4 .3h0m.1 .3h0m.4 .2h0m.1-.4h0m1.2-.6h0m1.1 1.5h0m.4 1h0m1.1-1.1h0m.7 1.3h0m.5-2h0m.9 2.3h0m.6-2.7h0m.3 1.7h0m.9 .9h0m0-2.8h0m1.3 2.2h0m.5 0h0m.3-2.1h0m1.5 2.7h0m.4-2.7h0m.3 .6h0m.6-.5h0m1.3 2.5h0m6 .1h0m.4-.2h0m.4-2.2h0m.3 2.3h0m1.1-1.5h0m2.5 .7h0m2.2 .6h0m1.8-1.2h0m4.6-.6h0m1.4-.4h0m1.2 .7h0m1.1-.1h0m.5-.1h0m.6 1.5h0m0-.7h0m.6 .8h0m.4-1.6h0m.1-.2h0m1.4 1.1h0m.1 .5h0m.3 .2h0m1.4-2.2h0m.3 2.6h0m0-.8h0m1.1-1h0m0-.9h0m.8 1.7h0m.1-.9h0m.4 1.6h0m1.3-1.4h0m3.1 1.3h0m-74.4 2.1h0m.6-.7h0m.1 2h0m.2-2.5h0m.2 1.1h0m0 .2h0m1.3-1.6h0m.3 2.4h0m.3-1.1h0m.1-.2h0m1 1.4h0m.1-1.3h0m.5-.2h0m.5 .6h0m.3-1.1h0m.7 .3h0m1.2 1.3h0m1.1-1.3h0m.3 1.7h0m.8-.6h0m.2-.1h0m.1 1.1h0m1.3-2.6h0m.1-.1h0m2.5 1.6h0m.1-.5h0m.3 .1h0m0-.6h0m.7 .1h0m.4 .4h0m0-.5h0m.1 .4h0m.8-1h0m.3 2.6h0m2.3-2.9h0m.6 1.2h0m.3 .1h0m.9 .9h0m.7 .3h0m.8 .2h0m1.2-2.2h0m1.8 .5h0m1 1.9h0m.4-1.8h0m1.5 .5h0m.2-.9h0m.3 2.1h0m.1-1.6h0m.2 .4h0m.3-1.3h0m.1 2.2h0m.5-1.4h0m.3 .3h0m1.1-.6h0m.4-.4h0m.5 1.8h0m.3-1h0m.7 0h0m.4 1.4h0m1.1 .1h0m2.3-1.1h0m.5-.4h0m1 .2h0m.1-1.1h0m.6-.2h0m.3 2.2h0m.9 .1h0m.1 0h0m0-.3h0m.4-2h0m.3 1.2h0m.8-1.2h0m.3 1.5h0m.1 1.1h0m1.9-2.4h0m.2-.2h0m.5 2.3h0m.3-1.2h0m1.8-.4h0m1.1-.3h0m.7 .2h0m.4 1.7h0m.4-1.5h0m.3 .1h0m.6 .5h0m.6 1.4h0m.2-.6h0m.4-.4h0m1-.3h0m.1-.3h0m.4 1.1h0m.2-1.8h0m4.1 .1h0m.8 1.5h0m.3-.8h0m.3 .7h0m0-1h0m.3 1.2h0m.2 0h0m.2-1.1h0m.1 1.5h0m.1-.3h0m.3-1.2h0m.4-1h0m.3 .5h0m1.4 1.6h0m.4-1.2h0m.2 1.8h0m.7-.3h0m.6-2.4h0m.1 .1h0m.5 .6h0m.4-.2h0m.1-.4h0m0 1.6h0m.2-.5h0m.8 .2h0m.4-.6h0m1-.4h0m.1 1.6h0m.4-1.5h0m2.5 .1h0m.5-.7h0m.5 1.6h0m1.6 .7h0m0-1.9h0m1.1 1.2h0m-75.2 3.3h0m0-.7h0m.1-.1h0m.2-.3h0m0-.6h0m.7 1.9h0m1.9-.1h0m.8-2.1h0m.1 1.6h0m.8 1h0m1.4-1.7h0m1.2-.3h0m2.1 .6h0m.2 .3h0m.1-.9h0m1 .1h0m0 1.8h0m.1-.5h0m.2-1.4h0m.3 1.5h0m1 .7h0m.1-2.4h0m.3 .4h0m1.9 1.4h0m.3-1.9h0m.3 2.3h0m.4-.3h0m.5-1.9h0m.7 0h0m2.7 .2h0m1.6 .5h0m.9-.6h0m.1 1.8h0m.5-2.2h0m.2 1h0m3.7-.3h0m.8 1.6h0m.1-.7h0m.9 .6h0m.1 0h0m.1-.3h0m.3-.6h0m.3-.1h0m.6 .5h0m.7-.7h0m1-1.1h0m.1 2.3h0m0-1.8h0m.2 .5h0m1.5 .2h0m.6 .1h0m.1 1.4h0m.5-.3h0m.6-1.5h0m1.7-.6h0m.5 .5h0m1-.6h0m2.7 1.5h0m.6 1h0m.4-.2h0m.3-1.1h0m.4 1.5h0m.4-2.6h0m.3 2.6h0m.2-1.3h0m.8-.2h0m.6 .6h0m1.4 .3h0m.1 .3h0m0-1.9h0m.2 1.8h0m.1 .1h0m.2-.9h0m.2 0h0m.1-.2h0m.4-.2h0m.6 .2h0m.4-1.4h0m.2 2.1h0m.9-.7h0m0-.1h0m0 0h0m.2 .4h0m.9 .9h0m.1-.7h0m.2-.1h0m0-.5h0m.4 1.1h0m.2-2.4h0m.5 2.5h0m1-.8h0m.7-.5h0m1.1 .2h0m.1-.1h0m5.3-.1h0m1.3 1.4h0m.7-.6h0m1.3-1.6h0m.9 1.2h0m.2-.5h0m0 .9h0m1.1-1.9h0m0 2.3h0m.6-2.1h0m.2 1.6h0m.1-.7h0m0 .4h0m.1-1.5h0m.8 2.4h0m.3 .3h0m.7-1.6h0m.6 1.3h0m4.9-1.2h0m.6 .5h0m.3 .9h0m.6-2h0m0 .6h0m0 .4h0m1.2 .7h0m-74.5 1.6h0m.3 .9h0m.2-1h0m.4-.9h0m.7 .8h0m.2 1.8h0m.1 .1h0m0-2.3h0m0 1.6h0m.9-.4h0m.7-1.1h0m.5 1.8h0m.5-2.1h0m0 .9h0m.1 .9h0m.2 0h0m.4-1h0m.5 1.6h0m.8-.8h0m.5-.2h0m0-1.6h0m.4 .2h0m.4 1.4h0m.3 .3h0m.5-1.5h0m.3 1.4h0m.5 .1h0m.1 .3h0m1-2.2h0m1.9 .1h0m1 2.1h0m0-1.9h0m.5 0h0m.5 2.3h0m.2-.9h0m1.6-.9h0m1.2 1.5h0m5.8-.5h0m.7-1.8h0m.5 .1h0m1.2 .6h0m.6 1.4h0m.2-1.3h0m.4 .1h0m.1-.1h0m1.9 .8h0m.1 .5h0m.2-2.1h0m.2 2h0m1.7-.1h0m0-2h0m.5 1.2h0m.2 1.2h0m.4-1.7h0m.4 0h0m0-.3h0m.9 .2h0m.3 .3h0m.4 1.3h0m0-.5h0m.3 .9h0m.5-.9h0m.2-.4h0m1.4-.7h0m.7 .4h0m.1 .9h0m.5-.3h0m.2-.9h0m.6 .9h0m.3-1.2h0m.5 1.7h0m0 .3h0m.1 .5h0m.6-.7h0m.2-1.1h0m.4-.3h0m.3 1.2h0m1.5-1.5h0m.1 2.2h0m.8-2.7h0m.3 2.7h0m.1 0h0m.2 .3h0m.5-.6h0m.1-.8h0m.2 .3h0m.1-1.6h0m1.6 2.5h0m.2-1.7h0m.4 .7h0m.1-.5h0m.1 .3h0m.7 .2h0m.2 .8h0m1-1.3h0m.1-1.1h0m.7 1.7h0m.7-1.1h0m.5 2.1h0m.1-.8h0m.8-.9h0m1.9 1.3h0m2.5 .4h0m.4-.2h0m.5-.3h0m1-.6h0m.3 .5h0m.2-2.3h0m.7 1.7h0m.6 .9h0m.3-.9h0m.2-1.5h0m.3 2.5h0m0-.6h0m.3-.9h0m.3-.1h0m.3-.6h0m0 1h0m.2 .2h0m2.3-1.3h0m.2 0h0m.5 1.6h0m.2 0h0m.8 0h0m2.2-.2h0m3.8-.3h0m.9-1.4h0m.9 .3h0m.2 1.4h0m.1 0h0m.2 .1h0m.6-1.5h0m.1 .9h0m.5-1h0m.6 1.7h0m.1 .4h0m-79.8 2.9h0m.2-1.7h0m1 1.8h0m.8 0h0m1.2-.7h0m.5 .4h0m.4-.2h0m1.3-.7h0m.8 0h0m.7 1.2h0m.1-2.4h0m.5 2.9h0m.3-2.8h0m.5 .2h0m.7 1.5h0m.1 .7h0m.3-2.5h0m.6 1.9h0m.8 .4h0m.2-1.8h0m0 .3h0m.3 2.2h0m0-1.8h0m1.3 1.8h0m.3-.5h0m.2-.9h0m.9-1h0m.4 1.1h0m.5 0h0m.4-.3h0m1-.2h0m0 1.5h0m.4-.7h0m.4-1.9h0m.2 2.7h0m.7-2.6h0m.9 .6h0m.1 1.5h0m.6 .3h0m3.8-2.4h0m3.3 1.7h0m.1 .5h0m.8-.5h0m2.2-1.8h0m2 .3h0m.2 2.2h0m.4-1.1h0m1.3-1.3h0m.4 2.1h0m.8-1.7h0m.2-.6h0m.2 2.1h0m.4-.4h0m.8-1.5h0m.4 1.9h0m.9-1h0m1.4-.7h0m3.5 0h0m0 .4h0m0-.6h0m2.1 1.6h0m.7 0h0m.5 .9h0m.4-1.7h0m.4-.9h0m.6 1.5h0m.6 .6h0m1.2-1.7h0m.2 2.5h0m.1-1.3h0m0 1.2h0m0-1.2h0m1.5-.7h0m0-.2h0m.2-.4h0m.2 0h0m.3 1h0m.2 .9h0m.8-.3h0m.9 .4h0m1-1.7h0m.9 1.7h0m.4-.4h0m1.9-1h0m.1 .9h0m.9 .2h0m.2 .2h0m.2 .7h0m.2-.3h0m.7-2.6h0m.3 1.8h0m1.3-.7h0m1 .8h0m.1-.8h0m2.3 .6h0m.2-.1h0m.7-1.2h0m5.4 .2h0m.2-.5h0m1.3 .9h0m1.4-.8h0m.7 1h0m.8-.3h0m.9 0h0m.4 1.6h0m0-2.3h0m.1 1.4h0m1.4-.9h0m0 1.9h0m.3-1.4h0m.3 .7h0m1 .4h0m.1-1.1h0m.1 .2h0m.1 0h0m.8-1h0m-82 3.4h0m.8 2h0m1.6-2.5h0m.4 .2h0m.3 1.6h0m.1-1.6h0m.8 1.8h0m1.9-.3h0m0-.2h0m.2 .7h0m.3 .1h0m.4-1.9h0m0-.2h0m.6 2h0m.1-1.5h0m.6-.3h0m1.9-.7h0m1.3 1.9h0m.1 .6h0m.2-2.5h0m.1 .6h0m.3 .9h0m.8 .2h0m.6-.5h0m1.1 1.6h0m.4-1.2h0m1.9-1.5h0m.3 .1h0m0 .4h0m1.1-.7h0m.8 2.9h0m.4-.2h0m.1-2h0m1.6 1.8h0m.4-2.3h0m0 .8h0m.3 1.5h0m5.4-1.2h0m.4 1.4h0m.7-.1h0m0 .3h0m.2-1.1h0m0-1.6h0m.3 2.3h0m0-.1h0m0-1.3h0m1-.1h0m0 .4h0m.3 .3h0m.3 1.1h0m.3-1.7h0m.6-.4h0m.7 1h0m.1 1.2h0m.1-2.5h0m.2 2.3h0m.1-2.2h0m.2 .6h0m.5 1.6h0m.3-2.4h0m.3 1.5h0m.7-1.8h0m.3 .3h0m0 .2h0m.3-.3h0m.3 .7h0m.1-.1h0m.2 2.1h0m.7-1.2h0m2.5-1.6h0m.1 2.7h0m.4-1.3h0m.4-.2h0m1 .2h0m.8 0h0m1.3 .5h0m.2 .2h0m0-.6h0m.2 .8h0m.3 0h0m.3-.2h0m2.7-2.2h0m.2 2.9h0m.9-2.2h0m0-.3h0m.4 1.3h0m.3 1h0m.2-.6h0m.6 .8h0m.1-.4h0m.4 .4h0m.1-2.8h0m.8 2.8h0m.5-2.8h0m.5 0h0m1.3 2.8h0m.3-.3h0m.2 .2h0m1.2-1.4h0m.1-.9h0m.1 .8h0m.3 1h0m.3-1.9h0m.5 .3h0m.1 .6h0m.1-.8h0m0 1.9h0m.1 .6h0m.7-2.4h0m.6-.3h0m.8 2.1h0m.1-1.8h0m0 1.2h0m.1-.7h0m.5 1.6h0m.1-1.4h0m.2 .9h0m.5-1.2h0m.3 1.5h0m.3-2.1h0m0 1.1h0m.6-.2h0m.2-.7h0m.3 1.4h0m0-1.3h0m.5-.4h0m0-.1h0m.7 .5h0m.1 2.2h0m.5-1.6h0m.1-.4h0m.8 .9h0m.2-.9h0m.6 .3h0m.8-.2h0m1.2 .3h0m0 .1h0m1.5-.9h0m.8-.4h0m.6 .7h0m1.2 2h0m.3-2h0m1.7 1.1h0m3.3-.8h0m.7 .3h0m1.9-.6h0m.7 1.2h0m.2 .4h0m.7 .3h0m0 .2h0m1-2.3h0m.8 .3h0m2.2 1.5h0m-82.9 1.8h0m1.1 .8h0m.1-.4h0m.7 .2h0m.8-1.8h0m.1 1.9h0m.1-.2h0m.5 .5h0m1.4 .8h0m.3-1.1h0m0 .6h0m.3-1.8h0m.7-.6h0m.1 2.8h0m.3-1.3h0m.9-.9h0m.2 1.3h0m.7-1.2h0m.3 1.4h0m1.6 .8h0m.1-.4h0m.5 .3h0m.1-1.4h0m0-.4h0m.4 .1h0m.6-.7h0m1.1 .9h0m.6-.8h0m.1 .3h0m0-.8h0m.2 .3h0m.7 2.4h0m.1-1.7h0m.3-.4h0m2.8 1.8h0m.1-2.2h0m.1 2.1h0m.1-2.4h0m0 1.1h0m1.1 .8h0m.2 .7h0m.5-2.2h0m2.7 2.2h0m2.5-1.7h0m.8-.6h0m.7 1.2h0m.5 1.3h0m.2-1.5h0m.8 1.7h0m.3-1.4h0m.1 .2h0m0 0h0m.1 .4h0m.1-.1h0m.4-1.3h0m.4 .5h0m.1-.4h0m.2-.8h0m.5 2.1h0m.1-1.2h0m.2 0h0m.4 1.2h0m1.6-1.7h0m.1 2.1h0m.3-1.1h0m.2-.9h0m.1 2.3h0m1.6-.6h0m.2-1h0m2.9-1.2h0m.2 .9h0m.9 .5h0m.2-1h0m.2-.4h0m.5 2h0m.3-.1h0m1-.3h0m1.1-1h0m.1 2.1h0m1.7-2.6h0m.3 2h0m1-.8h0m1.4 1.2h0m.1-1.3h0m.1-1.1h0m.4 2h0m3.2-1.1h0m.9 .6h0m.9 1.1h0m.1-1.9h0m.3-.3h0m1.1-.4h0m.6 .7h0m.2 .3h0m.5 .4h0m.2 1.2h0m.3-.6h0m.1-1h0m0 .8h0m.5-1.2h0m.4 .2h0m.7 .5h0m.1-1.5h0m.3 .7h0m1.5-.7h0m.2 1.5h0m.1 .8h0m.1-1.6h0m1.4-.4h0m0 1.4h0m3-.5h0m.6 1.2h0m.7-2h0m0 .4h0m.2 .3h0m2.4 .2h0m.1 .7h0m.1-.5h0m.7-.4h0m1.2 .2h0m1.2 1.6h0m.8-2.7h0m.5 .4h0m.3 1h0m.7-.4h0m.1 0h0m1.2-.4h0m.1 1.1h0m.4-.8h0m.4 1h0m1-1.9h0m.1 1.7h0m.8-.7h0m.3-.7h0m2 1.6h0m.4-.4h0m3.7 .1h0m0-.1h0m11.6 .1h0m3.5 1h0m1.3-1.2h0m-101.7 2.1h0m.4 1.8h0m.3-.5h0m.1-.7h0m.1-.5h0m.1-.2h0m.2 2.2h0m.1-1.4h0m0-1.4h0m.4 2.4h0m.8 .3h0m1-.8h0m0-1.6h0m.3 2.1h0m.1-1.6h0m1 .4h0m1-.5h0m.5 1.1h0m.5-1.6h0m0 1.6h0m.2-.1h0m.7 .2h0m.2-.9h0m.2 .9h0m.7 .1h0m.2-1.2h0m.8 1.3h0m.8-1.7h0m2.5 .5h0m.7 1h0m.7-1.2h0m.1 0h0m.8 1.5h0m.3 .3h0m0-1.4h0m.2 1.2h0m.2-1.6h0m.5 .9h0m.2 0h0m.1 .3h0m.4-.5h0m.4-.7h0m.1 1.8h0m.5-1.5h0m.6-.5h0m.6 2.3h0m.8-.3h0m.3 .4h0m.6-1.1h0m.8 .4h0m.6-.7h0m3.3 .8h0m1.6-.3h0m.2-1.4h0m.1-.3h0m.2 2.4h0m0-2.3h0m.2 2.4h0m.1-2.7h0m.5 2.2h0m1.3 .1h0m.3-1.6h0m.8 1.5h0m.2-.5h0m.2-1.7h0m.1 2.2h0m.1-1.6h0m0 1.2h0m0 1h0m.2-.8h0m.1-1.7h0m1.1 2h0m.2-1.8h0m.3 2h0m.4-.6h0m.3 .3h0m.9-1.6h0m.3 2.2h0m.6-.7h0m.7-.6h0m.9 .2h0m1.1-.7h0m.6 1.6h0m.3 .2h0m.4-1h0m.5 .5h0m.9-2h0m.1 2.5h0m1.1-1.9h0m.3-.7h0m1.3 .6h0m1 1h0m.5-.3h0m.5 .5h0m.5-.7h0m0-.7h0m.9 1.2h0m.6-1.7h0m.2 2h0m.7-.9h0m.4-1.2h0m.6 2.7h0m.5-1.6h0m.2-.4h0m1.3-.4h0m.1 1.8h0m.1 .7h0m.1-1.6h0m.6 1.2h0m.7-1.6h0m.5 .9h0m.1 .7h0m.8 0h0m.2-2h0m2.1 .7h0m2.9-.2h0m8.5-.3h0m1-.4h0m3 1h0m2.3-.8h0m.7 1.9h0m2.2-.5h0m3.9-1.8h0m1.4 1.3h0m8.2-.6h0m.1 .7h0m.8-.4h0m.4 1.2h0m.3-.2h0m1.3 .3h0m.2 .3h0m.4-1.7h0m.4 .6h0m.7 .2h0m.1-.8h0m.1 1.5h0m1.1-1.9h0m.1 1.4h0m.2 .4h0m.2-.5h0m.1 .6h0m.6-.6h0m1.7-1.3h0m2.8 1h0m.1-1.2h0m.1 1.1h0m.1 1h0m.5 .3h0m.4-1.1h0m.4-1.1h0m.2 .6h0m0 1.3h0m1.1-.7h0m.2 .8h0m.1 .3h0m1-.4h0m0-.6h0m0-.7h0m-106.1 3.1h0m.1 1h0m.7-.7h0m.3-1.4h0m.2 2.3h0m.1-1.2h0m.2 1.3h0m.2-2.2h0m1 1.2h0m0 .5h0m1.1-.6h0m0-.2h0m.7-.6h0m.1 2h0m.1-2.6h0m.4 1.5h0m0-1.6h0m.2 .7h0m0 1.6h0m1.3-1.6h0m.8 .8h0m2.7 1.4h0m.8-1.9h0m.4-.6h0m0 2.5h0m.7-.2h0m0-1.3h0m.6 1.3h0m.7-.6h0m.2-1.8h0m.1 2.5h0m.1-.3h0m1.9-1.9h0m.7 1h0m.2 .8h0m0-1.1h0m.2 .2h0m0-.9h0m.8 .1h0m.3 .9h0m.2-.3h0m.2 0h0m.3-.2h0m.4 .7h0m.4 1h0m.4-2.1h0m0 1.3h0m1.2 .4h0m1 .4h0m.5 .1h0m0-1.3h0m1.6-1.5h0m.5 2h0m2.1-1.3h0m1.2 .3h0m.1 1h0m.8-.9h0m2.6-.5h0m.4 1.1h0m1.2 .8h0m0-1.2h0m.3 .1h0m.9 1.1h0m.6-2.3h0m1.8 1.1h0m.5-.1h0m.1 .2h0m.3-1h0m1.3 .5h0m1 1.8h0m.6-2.5h0m.4 .1h0m.3 2.4h0m1.1-2.5h0m1.1 2.5h0m1.5-.2h0m.3-1.7h0m.5 1.2h0m.9-2h0m.1 2h0m1.5-.8h0m.3-.1h0m.3 1.5h0m0-2.1h0m.2 .8h0m.1 1.4h0m.1-2.5h0m0 2.2h0m.6-.4h0m.6 0h0m0 .7h0m1.9-2.2h0m.1 1.2h0m.1 .4h0m.1-1.1h0m.1 1.6h0m0-.1h0m.4-2h0m.1 .8h0m.8 .1h0m.9-.9h0m.8 .9h0m.2 0h0m.3-.1h0m.2-1.3h0m.1 1.6h0m0-.8h0m.4-.7h0m.4 .5h0m.2 2.2h0m.2-.6h0m.4 .1h0m.1-1h0m.1 1.1h0m.9-1.8h0m.3 1.9h0m.4-.2h0m.5-.3h0m2-.7h0m10.3 1.4h0m4.3-.1h0m.3-.4h0m.4-.6h0m.2-1.1h0m.3 .3h0m0 0h0m.5 0h0m1.5 .4h0m.5-.7h0m.1 1h0m3.2 .5h0m.6-.5h0m.2-.3h0m3.6 1h0m2.2-1.9h0m.2 2.1h0m.8-1.8h0m.7-.4h0m.5 .6h0m1.2-.5h0m.1-.2h0m.4 .3h0m.6-.5h0m.2 .6h0m.6 .3h0m.5 .7h0m.2-.1h0m.6-.4h0m0 .6h0m1.7 .2h0m.7-.7h0m.1 .1h0m.9 1.2h0m1.3-.1h0m.1-.4h0m.4-.7h0m.4 .1h0m.1 1.3h0m.9-1.6h0m.3 1.3h0m.1-1.1h0m2.1 0h0m.3-.9h0m1.4 0h0m.4 1.1h0m2.1 .4h0m.2-.5h0m.3 .4h0m.9-1h0m.4 .1h0m1.1 1.1h0m1.3-1.7h0m10.9 2.7h0m.2-.2h0m1.2 0h0m5.8-.4h0m.3 .5h0m.1-.3h0m.4 0h0m1.7 .2h0m.2-1.1h0m2.1 .6h0m1.1-.1h0m1.3-1.3h0m.5 1.8h0m0-1.3h0m.7 1.2h0m.6-1.4h0m.2 1.1h0m0-1.4h0m-141.6 3.7h0m.5-.5h0m1 1.4h0m.3-.2h0m2.5 0h0m.2-1.7h0m.6-.3h0m3.1 .7h0m.1-.7h0m.2 0h0m.8 0h0m.8 .7h0m1.9 1.1h0m.1-1.8h0m.2 .3h0m.6-.3h0m.6 1.5h0m.9 .8h0m.1-.2h0m.3-.6h0m.5-.4h0m.1-1.3h0m.3 .9h0m1 1.4h0m.2-2.1h0m.1 .3h0m.1 1.6h0m.6 .4h0m.9-2.6h0m0 .9h0m.8 .6h0m6.2-.2h0m10 1h0m.5 .2h0m.4-1.8h0m2.4 1.8h0m0-1.4h0m.7 1.7h0m.3-2.5h0m.4 2.4h0m.2-1.4h0m.7 1.7h0m.9-2.4h0m0 2.1h0m.7-.8h0m.1-1.3h0m.1 1.2h0m.1 .9h0m1-1.9h0m.4 .6h0m.4-1.1h0m.1 .1h0m.3 .3h0m.1 2h0m1.1-1.2h0m.1-1.2h0m.3 1.5h0m.1 0h0m.2-.7h0m0-.3h0m.5 1h0m.4 .1h0m.7-1.7h0m.1 2.6h0m.3-2h0m.3 .6h0m1.5 .5h0m.5-.2h0m1.1-.3h0m1.2 .6h0m.4-2h0m.5 .5h0m.3 1.7h0m.2 0h0m.2-.2h0m.7-.7h0m1.2 1.5h0m.1-.9h0m0-.8h0m.1 1.5h0m.3-1.1h0m1.4 1.1h0m.3-1.9h0m.1 1.9h0m.3-1.8h0m1.5 1.5h0m.5-.7h0m.4-.5h0m.3 .6h0m2.8-1.4h0m1.1 1.5h0m.3 1h0m1.5-2.4h0m.9 1.3h0m.7 .5h0m.9 .7h0m.5-.9h0m1.1-.6h0m.3 .2h0m.1-.9h0m0 1h0m.3 1.1h0m.3-1.3h0m0 1.3h0m.5-1.6h0m.7 .1h0m.1 1.6h0m.2-1.9h0m.4 1.2h0m.8-2h0m.9 1.7h0m.2-1.7h0m.6 .7h0m.8-.5h0m.5 2.1h0m.2-.2h0m.3-.6h0m.7-.6h0m.8-.5h0m0 .4h0m.2-.9h0m0 1.7h0m.4-.8h0m.3 1.3h0m.9-.7h0m1-1h0m.7 1.4h0m1.2-.2h0m1.3 .7h0m2-.9h0m7.8 0h0m1.7-1.2h0m.1-.1h0m.3 2.1h0m0-1.4h0m1.6-.9h0m.1 2.3h0m.9-1.7h0m.9-.1h0m1.4 2.3h0m.6-2.4h0m2.5 1.8h0m1.6-2.2h0m1.4 .8h0m.8-.3h0m.2 1h0m.2-1.4h0m.2 2.1h0m.1 .6h0m0-2.7h0m.1 2.1h0m.4 .1h0m.2-1.7h0m.1 1.3h0m0-.6h0m0 .2h0m.1-.4h0m.7 .1h0m.2 .1h0m1.4-1h0m.1 1.8h0m0-.7h0m.8 .5h0m.2-.8h0m.8-.9h0m.1 2h0m.1-.4h0m.8 .3h0m.2-1.4h0m.1-.2h0m.5 .5h0m0 .5h0m.2-1.3h0m.8 .7h0m1 .7h0m.2 .1h0m.6-.1h0m.1 .9h0m.6-.3h0m.5 .4h0m.1-.3h0m.8-1.7h0m.1 2h0m2.7-.9h0m.3 .8h0m.9-.4h0m.2-1.5h0m.3 .3h0m.1 .3h0m.2 1.4h0m.4 0h0m.2-1.3h0m.3 .6h0m.3 1h0m.7-.5h0m.4-1.3h0m.3 1.7h0m.4-2.8h0m1.1 1.9h0m1.2-1.7h0m.4 .3h0m1.2 0h0m.4 .2h0m1.7-.3h0m-137.4 2.8h0m1.6 1.3h0m.6 1h0m3-.3h0m2.1 .1h0m.7-.1h0m3.3-1.1h0m.4 1h0m.5-1.9h0m0 .4h0m.2 1.6h0m1.1 .5h0m.7-2.3h0m.2 1.2h0m.9 1h0m.1-1h0m.3-.1h0m.4 1.4h0m.3-2.2h0m1 .7h0m.2 1.1h0m0-1.7h0m.5 .8h0m.5-.4h0m.4-1.2h0m.9 .2h0m4.8-.1h0m.8 2.3h0m1.2 .3h0m.5-2.1h0m2.1 1h0m.9 1.1h0m.6-2.7h0m.6 .7h0m.9-.5h0m3.3 .1h0m.5 .4h0m1.2 1.7h0m0-1.8h0m.1 1.8h0m0-1.2h0m.3 1.4h0m.2-.5h0m.3-1.6h0m.5 .7h0m1 0h0m.1-.8h0m.5 1.6h0m.1-.1h0m1.4 .5h0m.1-1.1h0m1.3 .6h0m.5 .7h0m.2-2.3h0m.6 1.3h0m.4 .1h0m2.2 .2h0m.5-.5h0m1.2-1.1h0m.3 .2h0m.2 .3h0m.1-.7h0m.2 2.5h0m.7-1.5h0m.5 1.1h0m1.2-.5h0m.7-1.2h0m.6-.1h0m.3 2.2h0m.3-1.2h0m.7 .3h0m.2 .4h0m.1-1.3h0m.5 .6h0m.4 .4h0m.4-.3h0m.2 .3h0m.2 .9h0m.2-2.7h0m1.1 .4h0m1.3 2.1h0m1.5-.5h0m.1-.5h0m.1 .6h0m0-2h0m.1 1.7h0m1.4 .3h0m1.4-1.9h0m.5 1.7h0m.3 .7h0m1-.8h0m1.2-.1h0m.8-.9h0m.1 1.4h0m.8-1.6h0m.2-.5h0m.3 2h0m.1-.5h0m.4 1h0m.6-1.9h0m.5-.6h0m.2 2.2h0m.2-2.2h0m.1 2.7h0m1.7-2.4h0m1.5-.4h0m.7 2.9h0m.4-.2h0m1.1 .2h0m.7-1.6h0m.4 1.2h0m.3-1.9h0m.7 1.3h0m.4-.3h0m.1 .8h0m.4-2.3h0m1.1 .6h0m.5 .2h0m.1 1.8h0m1.2 .1h0m.2-2h0m.4-.8h0m.5 2.2h0m1.9 .3h0m1.6-1.9h0m0-.3h0m.2 2.3h0m1.5-2.3h0m2.5 .7h0m3.4 1.5h0m.6-1.6h0m.9 1.9h0m0-1.7h0m.6 .3h0m.1-.9h0m1.2 1.7h0m.1-1.4h0m.2 .3h0m.1-1.1h0m.3 1.9h0m.1-.3h0m.7 .7h0m1.1-1.4h0m.1-.1h0m.5 1.6h0m.3-.2h0m.7-.6h0m.6 .1h0m.3 .5h0m.7-2.3h0m.2 3h0m.2-2.7h0m.5 1.6h0m.1 1h0m1.5-.2h0m.5-1.2h0m0-.3h0m.6 .9h0m2.4 .2h0m.5-1.3h0m.4 0h0m.2-.1h0m.5-.5h0m.5 1.3h0m1.9 .6h0m.5 .2h0m.2-1.6h0m.1 .3h0m.1 .6h0m1.6 1.2h0m.4-.6h0m1.1-.3h0m.1 0h0m.2-.9h0m.5 1.3h0m0-2.3h0m0 2.3h0m.4-1.9h0m0 2.3h0m1 .1h0m.1-.3h0m0 .1h0m1.3-2.8h0m.1 1.9h0m.3-1.6h0m.3 1.5h0m.3-.3h0m1.9-.7h0m.1-.4h0m.2 .8h0m.1 .7h0m1-1.8h0m1 .8h0m.6-.2h0m0 1.2h0m0-.7h0m.2-1.1h0m.3-.1h0m.9 2.3h0m.2-.1h0m.8-.4h0m.9-1.4h0m.9 1h0m0-.6h0m.7 1.8h0m0-.8h0m.3-.1h0m.8-1.1h0m.1-.1h0m.5 .1h0m.2 2.3h0m.8-1.8h0m.5 1.4h0m1.3-2h0m.6 2.5h0m-135.7 .1h0m1.4 .8h0m.1-.3h0m1.6-.1h0m1.5-.4h0m1.8 .9h0m.2-.5h0m2.6 .7h0m2.9-.6h0m.1 .5h0m1.3-1.1h0m.1 .2h0m.8 .8h0m2.4 .6h0m1.3-1.4h0m2 1.9h0m1.5 0h0m3 .8h0m3.9-1.4h0m3 .1h0m2 .6h0m1.1-1h0m1.3 .1h0m.3-.7h0m.7 1.6h0m0-.5h0m1.4-.8h0m.3 .8h0m1.7-1.2h0m2 .6h0m.5-.2h0m1.2 1h0m.5-1.3h0m.1 0h0m.8 1.3h0m.1-1.3h0m.8 0h0m1.6 1.6h0m.1-1.8h0m0 1.5h0m.7 .6h0m.3-2.2h0m.2 2.7h0m.7-2.5h0m.3-.2h0m.1-.1h0m.1 1.8h0m.3 .2h0m.8 .1h0m1-.1h0m.8-.6h0m1.4 1.4h0m.5-.8h0m.3-1h0m.1 .3h0m.2-.7h0m.6-.3h0m.4 1.4h0m1.2 .8h0m0-.6h0m.2 .9h0m.3-2.3h0m.2 .8h0m2 .5h0m.5 .2h0m.1 .5h0m.1-.4h0m.3-1.8h0m.2 1.2h0m.3 .2h0m.2-.6h0m.8-.3h0m.5 1.8h0m0-2h0m1.1 1.5h0m.1-1.1h0m.5 .3h0m.4-.3h0m.8-.2h0m.3 1.5h0m.2-1.5h0m.1 1h0m.1-1.7h0m.9 .2h0m1 1.7h0m2.4-.5h0m.9-.4h0m1.2 .2h0m1.1-.9h0m.6 1.1h0m.4 .9h0m.3 .1h0m1.8-.7h0m2 .6h0m1.1-.4h0m.4-1.9h0m.5 1.9h0m1.3-.6h0m0-.7h0m.2 .3h0m.7 1.1h0m.1-1.1h0m.1 .3h0m1.4 .7h0m.3-1.3h0m.6 .7h0m.4 1h0m.3-1.9h0m1.6-.3h0m.2 .5h0m0 .9h0m1.7 .3h0m.2-.5h0m.6 1.3h0m.1 .1h0m.3-.6h0m1.1 .2h0m.7-1.5h0m1.5 1.3h0m0 0h0m.3-.4h0m2.1 .8h0m.3-1.3h0m1.3-.4h0m.3 1.7h0m3.1-2.4h0m.1 .7h0m.4 .3h0m.7-1h0m.3 .7h0m.4 .3h0m.2-1.2h0m.7 1.7h0m.5-.1h0m.4-1.5h0m1 2h0m.2-.2h0m.5-1.8h0m.1 1.8h0m1.9 .7h0m0-2.4h0m.2 .6h0m.1-.5h0m.5-.1h0m1.6 .5h0m3.4-.4h0m.2 .1h0m.3 .8h0m.1 .3h0m.6 1.1h0m1.4-1.4h0m3-.7h0m1.1-.5h0m.2 1.5h0m0-.3h0m.1-1.2h0m1.3 .7h0m.6-.3h0m1.3 .8h0m.4 .6h0m.7 0h0m.4-1.9h0m0 2h0m.3-.2h0m.6 0h0m.1 1.1h0m0-2.5h0m0 2.3h0m.3-.7h0m.4 .2h0m.4-.9h0m.2 1.4h0m.7 .2h0m.3-1.4h0m1.1 0h0m1-1h0m.8-.2h0m.7 2.5h0m0-1.7h0m.5-.6h0m.2-.1h0m.1 .5h0m-117.9 4.5h0m1-2.1h0m1.2 1.3h0m4.1-.4h0m.2-.6h0m.5 1.7h0m1.7-.5h0m0-.1h0m.8 .2h0m.5 0h0m2.5-1.5h0m1.7 1.4h0m.7-1.9h0m.5 2.7h0m.1-1.5h0m.9 .3h0m.8 1.3h0m.2 .1h0m.7-2h0m.1 1.8h0m1-2.3h0m.1 1.3h0m.3 1.3h0m.8-2.2h0m3.2 .7h0m1.9 .2h0m.9 1.3h0m2.5-1.3h0m.5-.9h0m.4-.7h0m1 .1h0m.4 1.4h0m.3 1h0m.1-.3h0m.3 .5h0m1.1-.7h0m.3 .7h0m.3-1.7h0m.4 .3h0m.9-.1h0m2.2 1.2h0m.2-.1h0m.1-.7h0m.1-1h0m.1 .6h0m1.4-.4h0m.1 .1h0m.6 1.4h0m.1-.9h0m0-.1h0m0-1.3h0m.2 .1h0m.3 2.4h0m.3-.3h0m0 .4h0m1.4-2.3h0m.2 2.2h0m.3-2.3h0m.5 1h0m.2-.3h0m.2 .9h0m1.8 .6h0m.3-.4h0m1-.1h0m.2-1.5h0m0 1.1h0m.7-1.3h0m.7 1.8h0m3 .3h0m3.5-1.4h0m1 1.7h0m.8-.6h0m.2-1.8h0m.2 1.7h0m1.1 1h0m.2-.9h0m1.7-1.2h0m0 .6h0m1.4 1.3h0m1.5-.5h0m0-1.7h0m2-.2h0m1.2 1.4h0m.6 .8h0m1.2-.8h0m1.9 .6h0m2.3-2.1h0m.1 2.4h0m.4-2.4h0m.2 2.5h0m.5-1.7h0m.5 .3h0m.1-.4h0m.1 .1h0m.3 .1h0m.1 1.3h0m.2-1h0m.3-.7h0m.4 1h0m.5-.2h0m.2-.3h0m2.3-.1h0m.1-1.2h0m.1 2h0m.1-1.3h0m.7 .8h0m0 1.4h0m.6-2.1h0m.1 .6h0m2.6-.5h0m.2 .6h0m1-1.2h0m.1 .8h0m.1-.1h0m.8-.7h0m0 .2h0m.6 2.4h0m.3-1.4h0m.1-1.5h0m.4 1.9h0m.3 .9h0m.6-.1h0m.1-1.4h0m.2 0h0m.7 0h0m.4 .5h0m.2-.3h0m1 1.1h0m.3 .2h0m.2-2.6h0m.2 2h0m.2-.7h0m.7-.8h0m0-.2h0m.6 0h0m.5 2.1h0m.3-.5h0m.6-1.4h0m.3 1.3h0m1.9-.6h0m.8 1.2h0m1-.7h0m.1-1.1h0m.3 2.1h0m3.3-.3h0m1.9-1.4h0m.7 .7h0m.6 0h0m.8 .5h0m.8 .1h0m.2-.2h0m.5-.9h0m3.8 .3h0m.4 .8h0m.5-1h0m.3-.8h0m.2 1.7h0m.6-.6h0m1 .6h0m.9-.9h0m1.8-1.2h0m.3 1.1h0m.2 1.4h0m.7 .1h0m-115.9 1.2h0m2.2 1h0m.9-1h0m.1 1.7h0m.4-1.9h0m.8 1.3h0m.1 .4h0m.2-1.7h0m.1 1.8h0m.3-1.6h0m.7 1.1h0m.6-.2h0m.3 .8h0m.1-1.7h0m.5-.1h0m.4-.7h0m4.4 2h0m.4-1.9h0m2.2-.2h0m.3 2.2h0m.1 .1h0m.4-.3h0m.4-.9h0m.3-.6h0m.5 1h0m.6-.7h0m.1 1.1h0m.7 .5h0m.3-1.4h0m.6 .5h0m.3 1h0m1-.5h0m.5-.1h0m1.4-.8h0m.8 .9h0m1 .7h0m.1-.2h0m0 .1h0m.4-1h0m.4 .5h0m2-2h0m.5 .3h0m.3 2.2h0m.6-2.5h0m5 1.1h0m.3-.8h0m.7 0h0m.1 2.2h0m.3-1.1h0m.2-.8h0m1.1 .4h0m.3-1.1h0m.3 2.6h0m.1-1.8h0m.2-.7h0m.4 1.2h0m.9 .9h0m.7 0h0m.3-.6h0m.1-1.1h0m.6-.2h0m.3 1.7h0m.6-1.9h0m.3 1.1h0m.6-1.3h0m.6 .9h0m.1 1.1h0m.2-.2h0m.4 .7h0m.5-1.3h0m0 1.4h0m.2-1.7h0m.5 .6h0m.1 1.2h0m.1-2.4h0m.1-.2h0m.4 2.4h0m.3-1h0m.3 .7h0m.4-.7h0m.2 0h0m.5-1.3h0m.7 2.3h0m0 .2h0m1.3-2h0m.5 .2h0m5.7 1.2h0m.3-1.3h0m.3-.3h0m1.1 .5h0m.3 1.4h0m1.6 0h0m.3-1.4h0m.2 .4h0m1.4 0h0m.2-1.3h0m.1 .1h0m.4 .4h0m1.4 .1h0m1.1 .3h0m.7-1.1h0m.1 3h0m.2-1h0m2 .7h0m.4-1.6h0m1.4 1.4h0m0-1.6h0m1.8-.1h0m.3 1.5h0m.1-1.7h0m2.8 1.6h0m.4 .3h0m.4 .5h0m.1-.3h0m1.1-.7h0m.1-1.3h0m1.2-.1h0m.2 1.7h0m.2-1.4h0m.4 2.1h0m0-2.9h0m.2 .4h0m0-.5h0m.4 3h0m0-1h0m.5-1.6h0m.7 1.5h0m.4 1h0m.3-1.4h0m.2 .2h0m.1-1.3h0m.1 2.4h0m.3-1h0m.6-1.2h0m.1 .5h0m.7 1.7h0m0-1.9h0m1 1.7h0m1-2.2h0m1-.3h0m.4 .6h0m.3 2h0m1.9-1.5h0m.1-.8h0m.8 1.9h0m0 .5h0m.1-2h0m.1 1.3h0m.7-.4h0m.2-1.1h0m0-.4h0m.5 1.9h0m.5 .5h0m.6-2.3h0m.4 .5h0m.8-.5h0m.7 .6h0m0 1.6h0m.1-1.6h0m.9 1.2h0m.1 .6h0m0-2.5h0m.1 1.8h0m1.5-.2h0m0 .3h0m1.1-1.7h0m.3 .6h0m0 .6h0m.2 1.1h0m.5-1.1h0m0-.1h0m1.1-.6h0m.5-.9h0m1.1 .3h0m.2 .3h0m.5 .5h0m.1 1.6h0m.9-.6h0m1.3-1.4h0m.3-.4h0m.4 1.2h0m.5 .4h0m.8-1.3h0m.6 1.9h0m.1-1.3h0m.3 1.3h0m.6-.5h0m.2-1.4h0m1.2 1.2h0m.1 .3h0m.1-.7h0m1.1-1.4h0m.3 1.1h0m.1 .4h0m1-.1h0m.6 .9h0m.2-1.6h0m1.3 .5h0m.1 1.8h0m.2-2.7h0m.3 2.5h0m.2-2.3h0m.1 1.3h0m.3 .3h0m.7 .2h0m.3-.3h0m.1-.9h0m-114.2 2.8h0m.9 .5h0m0-.6h0m.4 1.1h0m.3-1.3h0m1.5 1.8h0m.1-1h0m1.4-.1h0m.3 1.3h0m.5-.8h0m3.4-.5h0m.5-.5h0m.3 .8h0m2.9 .1h0m.5 .1h0m.3-.5h0m.9-.3h0m.6 1.1h0m.3-1.9h0m.2 .8h0m.3-.5h0m.1 .5h0m.1 .4h0m.9 .4h0m.6-1.5h0m.2 2.2h0m.2-.4h0m1.1-2h0m.1 1h0m.1 .9h0m.4-1.5h0m.4 .6h0m.1 1.4h0m.7-1h0m.5 .6h0m1.2 .2h0m0-.5h0m.9-.1h0m.6-1.5h0m.4 1h0m.5 1.1h0m.2-.8h0m.8-1.4h0m.2 2.3h0m0-.7h0m.2 .6h0m.1-2h0m.2 1.9h0m0 .4h0m.3 .1h0m.5-1h0m.7-.3h0m.3-.5h0m.1 1.2h0m1.4 .1h0m1.4 .6h0m.8-.7h0m.3-.4h0m.4-1.3h0m.7 2.1h0m0-.9h0m.1 0h0m.4 .6h0m.1 .6h0m.2-2.1h0m1.2 1.5h0m0-1.3h0m0 .5h0m.4 .9h0m.1-2.2h0m.8 2.1h0m.6-1.6h0m.8-.5h0m.4 .8h0m.2 .3h0m.5 1.6h0m1.5-.5h0m.6-1.5h0m1.6-.3h0m1.4 1.5h0m0 .2h0m.1-.2h0m5.9-.4h0m1.1 1.3h0m.2 0h0m1.6-2.1h0m.2 2h0m.1-.9h0m1.1-.3h0m1.4 .2h0m.7 0h0m.4-.1h0m0-.3h0m.1 1h0m.6-1.5h0m.2 .7h0m.1 .6h0m.7-1.3h0m2.4-.4h0m.5 .9h0m1.9-.9h0m3.3 .3h0m.1 1.7h0m1.2-.4h0m.4 .9h0m.3-.8h0m.1-.6h0m1.7 1.1h0m.5 .1h0m0-2.6h0m.6 2.6h0m.4-2.7h0m.6 .8h0m1 .2h0m.2 .7h0m.1-.9h0m2.8-.4h0m1.2 .4h0m.2-.4h0m.2 1.2h0m.4 .7h0m1.2-.6h0m.2-.3h0m.4-.6h0m.9 1h0m.5 .5h0m.6-1.2h0m.5 .6h0m.7-.9h0m.2 1.2h0m1.1-.5h0m.4 .4h0m0-.7h0m.4-.2h0m.4 .8h0m.1 .5h0m1.3-.7h0m.5-1.2h0m.5 .7h0m0 .2h0m.1 0h0m.2 .3h0m.3 1.2h0m.3-1.8h0m.4 .7h0m.4-.5h0m.7-.4h0m1 1.7h0m1.2-1.7h0m.9 2h0m.3-.9h0m.3-.9h0m0 .3h0m.4 1.2h0m.5-1.7h0m.6-.3h0m.6 1h0m1.2 .8h0m.1-1.4h0m.4 1.4h0m.1-.4h0m.7 .4h0m.5-2.1h0m.1 1.6h0m.7-1.3h0m.1 .1h0m.1 .7h0m.6 1.2h0m2.9-.6h0m.1-.3h0m.1-1.7h0m.2 2h0m.8-.7h0m0 1.4h0m1.4-1.8h0m.6 1.5h0m.1 .2h0m.2-.7h0m.2-1.4h0m.4 .1h0m.1-.2h0m.4-.2h0m.1-.2h0m.3 .3h0m.4 .7h0m.3 1.6h0m.5-.2h0m.3-1.3h0m.1 1.6h0m.3 .2h0m.3-.3h0m.1-1.5h0m0-1h0m1.2 1.2h0m.1-.6h0m.5 1.1h0m-114.2 2.7h0m.9-1h0m.4 1.2h0m1.2-1.5h0m.3 1.4h0m1.7 .3h0m1 .8h0m1.2-1.8h0m1.6 1.2h0m3.5 .8h0m.6-2.9h0m.8 1.7h0m.4 0h0m.5-.2h0m.6 0h0m0 .6h0m.9-1.5h0m4.3 1.9h0m1.5 .1h0m.1-2h0m1 1.1h0m1.1-.6h0m3.1-.9h0m.3 2.1h0m.1-.2h0m.2-1.9h0m.9-.1h0m.8 .8h0m.1 2h0m.1-2.3h0m0-.2h0m.4 2h0m.2-1.3h0m.1 .3h0m.1-1.2h0m.4 1.4h0m.1-.6h0m2.7 1.7h0m.4-1.4h0m.8 .7h0m1.5-1.6h0m.4 1.1h0m.5 .7h0m.1-2h0m.5 2.4h0m.3-1.8h0m.2 0h0m.2 .6h0m.4-1.4h0m.2 2.2h0m.1 .7h0m.3-2.8h0m.5 2.7h0m.8-.8h0m.7-.1h0m.2-.2h0m1 .1h0m.1 .7h0m.2-.1h0m.1-1.6h0m.1-.8h0m.7 .3h0m1.7 .1h0m2 1.9h0m0 .7h0m2.2-1.1h0m2.5 0h0m.2-.5h0m.5 0h0m1.1 0h0m.2-.3h0m0 1.4h0m1-1.4h0m.7 1.6h0m.6-.4h0m.5 0h0m0-1.5h0m.1 .9h0m.8 1.1h0m.6-.1h0m.3-1.1h0m0-.1h0m.1-.3h0m.2 .4h0m.2-.8h0m.1 1.4h0m.2-1.6h0m.5 .4h0m1-.4h0m.6 1.8h0m.9-.5h0m2.7-1.4h0m.7 .1h0m0 1.8h0m1.9 .3h0m.5-2.3h0m1.1 .7h0m1 .4h0m.4 .8h0m1.7 .3h0m.8-.5h0m.3-2.1h0m.2 .6h0m.2 .4h0m.6-.2h0m.8 2.2h0m0-2.1h0m.2 .3h0m.3 .5h0m.6 .8h0m.3-1.2h0m.1 1h0m.4 .1h0m.3-1h0m1.4-1.1h0m.3 1.2h0m.3 .4h0m.1-.5h0m1.4-.2h0m.1 1.6h0m.4-.8h0m1.3-1.3h0m1.8 .8h0m.7-.9h0m.3 2.1h0m.2-2.1h0m.2-.3h0m.7 .7h0m.5 .6h0m.1-.6h0m0 .5h0m.7 .7h0m.3-1.7h0m1.2 1h0m.7 1.2h0m.6-.5h0m.8-1.6h0m.9 0h0m.6 .6h0m.9-.5h0m.8 1.8h0m.1-.2h0m1.1 .1h0m.8-.4h0m.7 .2h0m0 .3h0m.5-.2h0m.3-1.5h0m.1 1.6h0m.6-2.2h0m1.2 1.6h0m.1 .5h0m.5-1.1h0m.1 .9h0m.2-1.1h0m.5 1.1h0m.4-1.8h0m.2-.1h0m.9 1.9h0m.4 .7h0m.3-.7h0m.2-2h0m.1 .7h0m.2 2.2h0m.4-1.9h0m.5 1.8h0m.3 0h0m.9-.5h0m2.4-1.4h0m1 1.7h0m.5 .2h0m.3-1.3h0m1.2-.1h0m.2 .7h0m.2-1.5h0m.3 .3h0m.2 1h0m.7 .2h0m.7-1.3h0m-112.7 2.2h0m1.9 1.6h0m.1-.7h0m.1 .1h0m.7 .9h0m.1-1.9h0m.5 1.5h0m.7-.7h0m.4 .6h0m1 .9h0m.3-2.2h0m.9 2.4h0m3.9-.7h0m1.3-1.3h0m1.7 1.2h0m.4 .7h0m.4-2h0m.3 2.3h0m.4-1.5h0m.6 .7h0m.2-.2h0m.2-1.7h0m1.2 .8h0m.4-.7h0m.8 2.3h0m.7-.5h0m.6-1.2h0m.4 1.6h0m0-.2h0m.6-.6h0m1.7-.3h0m.1 .6h0m0 .5h0m.3-2.3h0m.1 1.2h0m.2-.5h0m.1 .2h0m1.1 1.8h0m.4-.7h0m.8-1.5h0m0 1.8h0m.6-1.5h0m1 .7h0m.2 .3h0m1-.7h0m.1 .7h0m.3-1.1h0m1 0h0m.1 1.4h0m0 .1h0m0-.7h0m.1 1.3h0m.8-1.5h0m.1 .5h0m.4 .2h0m.1-.8h0m.1 1.2h0m.6-2.4h0m.3 .7h0m.3 .4h0m.3-.9h0m.1-.1h0m.7 .7h0m.1 .2h0m.4 .7h0m1-.5h0m.3-1.2h0m.8 2.1h0m.5 .6h0m.6-1.3h0m.1-.7h0m.9 1.1h0m.3-1.1h0m.4 1.7h0m.3-.2h0m.2-.1h0m.3-.5h0m1.6-1.6h0m.2 .7h0m.5-.1h0m.2 .1h0m.1 .4h0m1.1-.9h0m3.3 1.4h0m.1 .4h0m.7-.1h0m0 .8h0m1.7-2h0m.8 .6h0m.3 .9h0m.8-.5h0m.3-1.2h0m.1-.1h0m.5 2.1h0m.9 .2h0m.7-.8h0m.4-1.7h0m.3 .3h0m.1-.4h0m.4 0h0m.6 0h0m0 .6h0m1.3-.6h0m.2 .2h0m.7 2.2h0m.4-2.4h0m.9 .6h0m.2 1.4h0m.1 .4h0m1.4-1.4h0m.3 .1h0m.5 1.3h0m.1-1.2h0m.6 1h0m6.3-2.3h0m4.7 .3h0m.4-.2h0m.2 .2h0m0 2.2h0m.7-.2h0m.2 .2h0m.2 .2h0m.1-2h0m.6 .8h0m.7-.1h0m.5 1.3h0m.1-.7h0m.1 .1h0m0 .3h0m.6-1.8h0m0 .6h0m.2 .4h0m.9-1.4h0m.6 1h0m.2-.4h0m0 .9h0m.8-1.6h0m.1 .3h0m.2 1.6h0m.8-1.4h0m0 1.9h0m1.1-2.4h0m1 1.2h0m.3 1.2h0m.3-2.5h0m.3 1.6h0m.7 1.1h0m.5-2.2h0m0 1.7h0m.3-1.9h0m.5 2h0m1.6-.6h0m.5 .4h0m0 .6h0m.8-1.4h0m1 .2h0m2.5-.6h0m.3 .1h0m.1 1.9h0m.7-.4h0m.5-2h0m.4 1.9h0m.5-1.4h0m.1 .8h0m.1 .1h0m.4 .3h0m.7-1.4h0m1.8 .5h0m.2-1.3h0m.4 2.3h0m0 .2h0m.7-1.4h0m.2 1.6h0m.6-2.5h0m.4 1h0m.1-.3h0m.4-.3h0m.1 1.2h0m.2-1h0m.2 1.3h0m.1-.7h0m.1-.1h0m0-.8h0m.2-.2h0m.2 2.5h0m.1-2.4h0m.6-.5h0m.2 1.5h0m.5 0h0m.7 0h0m.2 .2h0m.3-.2h0m.5 .4h0m.3-.6h0m.6-.5h0m0-.3h0m.7-.3h0m.2 1.4h0m.3-.7h0m.7 0h0m2 .4h0m.6 .3h0m.1 .5h0m.3 .5h0m.4-1.6h0m.7 1h0m-111.1 1.1h0m.8 1.5h0m.4 .1h0m.2 .6h0m.1-2.3h0m.2 1.8h0m.1-.2h0m.5-.1h0m2-.9h0m.1 1.9h0m.3-1.5h0m1.3-.8h0m2.6 .9h0m.6-.6h0m.3 .7h0m2.9 .1h0m.3 .4h0m.6-1.2h0m.9 .3h0m1.6-.1h0m.5-.5h0m.4 .8h0m.4-.2h0m.6-.2h0m.2 .3h0m.9 1.3h0m.5-1h0m.4 .5h0m1.6-.9h0m.3 1.1h0m.6 .4h0m0-1h0m.5 .4h0m.4-.4h0m.3 .9h0m0-.1h0m1.4-1.7h0m1.9 1.9h0m.1-1.2h0m1.1 1.6h0m1.1-.2h0m1.1 0h0m.1-.1h0m2.3-2.3h0m.1 1.2h0m2.3 1h0m.8-1.1h0m.8 1.7h0m1.4-1.2h0m.2-.6h0m.1-.1h0m.5 1.5h0m.1-1.3h0m6.2 1.1h0m.2-.5h0m.4-.4h0m1.1 1.6h0m.7-2.6h0m.2 .4h0m1.1 1.1h0m1.4-1.3h0m.2-.5h0m0 1.1h0m.2 .6h0m.7 1.1h0m.4-.5h0m.5-.7h0m.7 .6h0m.3-.4h0m.5-.4h0m.9-.8h0m.3 1.5h0m0-2.1h0m0 1h0m.2-1h0m.6 2.8h0m.8 .1h0m.4-1.3h0m.2-.9h0m1.7-.4h0m0-.3h0m.4 2.2h0m.3-1.6h0m0-.6h0m.4 2.2h0m.1 .7h0m5.1-1.9h0m.6 .3h0m.3 1.3h0m1.1-.7h0m.5 .4h0m.8-1.4h0m.5-.1h0m1-.3h0m.3 2.4h0m.4-2h0m1-.4h0m.1 1.4h0m.6-.5h0m.3 .8h0m.1-.4h0m1.3 .1h0m.3 .6h0m.3-1.5h0m.2 .7h0m1.6-1.5h0m.2 .2h0m.1 2.3h0m.2-1.7h0m0 .6h0m.4 1.2h0m0-.2h0m1 .1h0m0-1.9h0m.3 1.2h0m1.2-1.6h0m.5 2.3h0m.2-.7h0m0 0h0m.6-.5h0m1.4 .7h0m1 .1h0m.6 .5h0m0-2.4h0m.4 1.2h0m.9 .9h0m.1-.4h0m.1-1.6h0m.6-.5h0m.4 1.4h0m.5-.8h0m.8 0h0m.4 1h0m.1-.1h0m.4 .8h0m.6-1.2h0m.5 1.4h0m.4-1.8h0m1.6 .3h0m0-.3h0m.3-.7h0m.3 2.9h0m.2-2.5h0m.3 .8h0m.7-.8h0m.2 1.5h0m.5-.4h0m.6 .4h0m0-.3h0m.1-.7h0m.2 .6h0m.1 .8h0m.6 .5h0m.6-1.9h0m.3 1.9h0m.7-2h0m1.2 .5h0m.1 1.6h0m1.7-1.8h0m.9 1h0m.5-1.7h0m.8 2.3h0m.2-.9h0m1.3-1.8h0m.2 2.5h0m.1-2.3h0m.4 1.3h0m.6 .9h0m.6-1.9h0m1.1 .6h0m.9 .8h0m.7-.9h0m.6 0h0m.6 .4h0m-109.3 3.5h0m2.6-.7h0m.9-1.3h0m3 1.9h0m2.9-.1h0m2-1.2h0m.1 1.9h0m2.6-1.8h0m.1 1h0m.3 .8h0m1.1-.6h0m.3 0h0m.3-1.2h0m.8 1.1h0m.1-.5h0m.2 .9h0m1.3 .3h0m.1-.7h0m.3 1h0m.2-2.7h0m.2 1.1h0m0-.5h0m.9 1h0m.2-.9h0m.3-.2h0m.7 2.4h0m.7-2.6h0m0 2h0m.1 .6h0m1-2.8h0m.7 2.1h0m.4-1.7h0m.5 .9h0m.2-.6h0m.2 2h0m.3-2.8h0m.1 2.1h0m.1-1.3h0m.1 .6h0m.2 1.4h0m0-2.6h0m.8 1.4h0m.4 .7h0m1-.6h0m.6 .7h0m.6-.8h0m.1-.8h0m.7-.7h0m0 .8h0m.3 1.3h0m0-2h0m1.3 2.1h0m.7-.5h0m2.9-.8h0m.1 1.1h0m.2 .2h0m.6 .5h0m.1-2.1h0m.1 .6h0m7.1 0h0m.1 1.3h0m1.2-.1h0m.3-2.5h0m.3 1h0m0-.7h0m.1-.1h0m.5 2h0m.5-1.3h0m.1-.5h0m.3-.1h0m.5 2.1h0m.2-1.8h0m1.2 2.1h0m.1-.3h0m.5-1.2h0m0 1h0m.4-.5h0m.1-1.7h0m.1 2.2h0m1.1-1.4h0m.1 2h0m.7-2.4h0m.5 .2h0m.3 .8h0m0-.2h0m.9 .1h0m.4-.1h0m1.3 1h0m.6-.7h0m.1-1.3h0m.6 .6h0m1.9 1.4h0m.6-1.7h0m.3 1.7h0m2.3-1.7h0m1.1-.4h0m.6 2.4h0m1.6-2.2h0m.2 .6h0m1.2 .2h0m.6-.5h0m.7-.1h0m.1 2.3h0m.9 0h0m.5-1.6h0m1.2 1.1h0m.5-.8h0m.2-.3h0m.5 .9h0m0-.8h0m.1 .7h0m.1-.3h0m1.4-.6h0m.2 .3h0m.7-1.1h0m.1 .3h0m.4 .6h0m.1 0h0m0 .4h0m.3 1h0m.2-.7h0m.2 0h0m.1 .2h0m0-2.1h0m.3 2.8h0m.4-2.7h0m0 1.8h0m.3 0h0m.3 .7h0m.4-.9h0m.4-1.6h0m.1 1.5h0m.2-.1h0m0-1.3h0m.3 1.1h0m.9-.6h0m.4 1.3h0m.8-.7h0m0 .5h0m.9-.9h0m.5 .2h0m.2 1.6h0m.2-1.4h0m.3 1.3h0m1.1-2h0m.7 2.1h0m.4-1.6h0m.3 .5h0m1 .7h0m.4-.1h0m.1-2h0m2.1 2.6h0m.2-1h0m.7 .1h0m0-.1h0m.6-.9h0m0 .4h0m.9 1.2h0m1.6-1.8h0m.6-.6h0m.8 2.4h0m.2-2h0m.9 2.2h0m1.4-.5h0m.4 .2h0m1.5 .2h0m.1-.7h0m.9-.8h0m.6 .1h0m.2 .3h0m.2-.4h0m1.4-.9h0m.5-.1h0m1 1.6h0m.6 .5h0m.5-1.5h0m1.7 .6h0m.1 .1h0m2.5-.9h0m1 1.9h0m0-1.7h0m.6 1.3h0m0 .9h0m-109.3 1.3h0m4.8-.9h0m1.4 1.5h0m.2-1.8h0m.2 2.9h0m.2-1.9h0m.6-.7h0m.1-.1h0m.1 2.1h0m.1-1.2h0m.5 1h0m.9-.7h0m.1 .3h0m1.9-.4h0m.1 .8h0m0-1.8h0m1 1.7h0m.1 .6h0m.2-.2h0m.4-1.7h0m0 1.2h0m.8-.5h0m.9 .9h0m.2 .2h0m.1-1.7h0m.4 .5h0m.9-1.1h0m1.3 .3h0m.6 1.8h0m.8-1.5h0m.5-.8h0m.3 1.8h0m1.2-.8h0m.3 .6h0m1.9 .4h0m0-1.8h0m.6 1.6h0m.3-.5h0m.1 1.5h0m.9 0h0m0-.2h0m.1-.6h0m.1-1.4h0m.4-.2h0m.3 .4h0m.9 .6h0m.3-1h0m.6 .1h0m.1 2.3h0m.5-1.2h0m.8 .6h0m.1-2h0m.6 2h0m.4-1h0m2 1.2h0m.7-1.7h0m0 1.1h0m.2 .5h0m.5-.2h0m1 .5h0m.4-1.6h0m.4 .3h0m1.2 .6h0m7.5 .8h0m1.4-.7h0m1.3-.3h0m.3 0h0m.4-1.2h0m.3-.4h0m.9 .4h0m.3-.3h0m.3 .8h0m.3 1.8h0m1-2.2h0m0 1.9h0m.2-.1h0m1-1.1h0m3.9-.3h0m.8 .4h0m0-.2h0m.2 1.7h0m1.1-2.8h0m0 1.9h0m.8 .5h0m1.4 0h0m.6-.2h0m.4-2.4h0m1.4 1.3h0m.5 .1h0m.1 1.1h0m.7-2.1h0m.8-.1h0m.3 1.9h0m.9 .3h0m.3 .4h0m.8 0h0m.7-2.4h0m.4 .3h0m1 .9h0m.3 1.1h0m1-.7h0m.2-1.6h0m.1 1.2h0m.1 .5h0m.6-.8h0m.3-.6h0m0-.5h0m.8 1.6h0m.2-.2h0m.3 .2h0m.6 .6h0m.1-.5h0m.4 .6h0m.5-1.1h0m.8 1.1h0m0-2.2h0m.5 .3h0m.5 .3h0m.8 1.1h0m.1 .2h0m.9-1.2h0m0 1.3h0m.2-1.2h0m1.4 1.7h0m.6-1.3h0m.1-.6h0m.5 1.8h0m.3-2h0m.1 1.1h0m.6-1.5h0m.4-.3h0m.1 .6h0m.4 2h0m.4-1.9h0m1.5 .7h0m.3-.4h0m.1 1.4h0m1.9-.6h0m1.1 .6h0m.3-1.5h0m0 1.2h0m.9-.9h0m.1 1.4h0m.4-2.3h0m.3 2.6h0m1.6-.9h0m.9-.7h0m.4 1h0m.2-.7h0m2.2 1h0m.3-.5h0m.6-.4h0m.1-.1h0m.5 1.1h0m.3-2.3h0m.6 1h0m.3 .6h0m0-1.6h0m1 1h0m.2 .9h0m.1-1.8h0m.4 1.5h0m.6-.6h0m0 .8h0m.8-.3h0m0-.4h0m.2 .7h0m.2-2.1h0m.2 1.9h0m.7-1.1h0m.1-1h0m.2 1.5h0m.5-.2h0m.9-1.2h0m.3 .3h0m.5 1.2h0m.4-.3h0m.2-.5h0m0 1.4h0m1-.2h0m.3-1.3h0m1.5 .6h0m.3 .8h0m.1-1.9h0m.4 .6h0m-106.9 4.4h0m0-1.9h0m1.8 2.3h0m.1 0h0m1.8-.5h0m.2 .1h0m.9 .1h0m.1 .6h0m0-2.8h0m.4 1.7h0m1.2-1.3h0m1.4 1.8h0m.3-.4h0m.1 .9h0m.4-.8h0m.7 0h0m.4-2h0m.2 2.3h0m.1-.1h0m.3-.1h0m.2-2.1h0m.5 .8h0m1.4 1.8h0m.7-.6h0m1-1.1h0m.1 1.5h0m0-1.9h0m0 0h0m0 0h0m.1 .2h0m.2 2.1h0m.5-.7h0m.2-.9h0m0 .5h0m.1-.7h0m.3 .7h0m.2 .1h0m2.6-1.5h0m1.2 1.8h0m.1-1.1h0m.5-.2h0m.8 .4h0m.1 1.5h0m.1-2.5h0m0-.1h0m.4 2.1h0m2.3 .2h0m1.2 .3h0m.1-.3h0m.4-.9h0m.5 .6h0m1.6-1.1h0m.4 1.8h0m1.7-2.2h0m1.1 1.5h0m.9-.6h0m.2-.3h0m.2-.6h0m.3 .3h0m.6-.7h0m.7 .4h0m.7 .5h0m.3 1.7h0m.1-.5h0m.2 .5h0m.7-2.2h0m1.8 2.2h0m2.7-.9h0m.3-.6h0m.6-1h0m.2 1.3h0m1.1 .6h0m.2 .1h0m.1-2.2h0m1 1.7h0m.5-.3h0m.2 .2h0m.1-.3h0m.2-.9h0m.2 0h0m.4 .7h0m.1-.8h0m.5 0h0m.1 2h0m.1-1.5h0m.1 1.8h0m.3-.4h0m.8 .5h0m.4-1.8h0m1.3 .9h0m.1-1.2h0m.1 2.2h0m.1-1.7h0m.7-.6h0m.3 1.1h0m.1 1.1h0m0-2.2h0m.7-.5h0m.8 .7h0m0 1.1h0m.1-.3h0m.4-.4h0m.5-1h0m.3 2.4h0m.4-2.2h0m.2 1h0m.8 .5h0m0 .9h0m.4-.1h0m.3 .3h0m.7-1.7h0m0-.1h0m2.7 1.3h0m.2-.9h0m.4-.6h0m.2 .7h0m.2-.4h0m.8 .1h0m.7 .5h0m.1-1.1h0m.4 2.2h0m.4-1.2h0m.5 .5h0m.1 0h0m.5 .5h0m.7-2.6h0m2.3 1h0m.6-.6h0m.1 0h0m.2 .8h0m0-1.1h0m.5 1.6h0m.3-1.2h0m.4 .7h0m1-.6h0m.2 .8h0m.3-1.4h0m.1 .1h0m.1 2.6h0m.1-.7h0m.1 .3h0m.3-2.4h0m0 2.6h0m.3-1.9h0m2.9-.7h0m.2 2.1h0m.8-2h0m.1 2.7h0m1-2.6h0m.8 2.5h0m.6 0h0m.1-1.6h0m.5 1.4h0m1.6-2.5h0m.1 .1h0m1.5 1.7h0m1.8-1.8h0m.1 .6h0m.5 1.2h0m1.1-.8h0m.3-.5h0m.7 .5h0m1.3-.2h0m.9-.1h0m.1 1.7h0m0-.9h0m.7 1.3h0m.1-1.8h0m.7 .7h0m0 .6h0m.2-2.3h0m.9 1.8h0m.6 .3h0m.5 .3h0m.1-2.2h0m.7 0h0m2 .3h0m.9 1.6h0m.1 .1h0m1-1.9h0m0 1.3h0m.1 .4h0m.8-1h0m.6 1.3h0m.6-1.3h0m.5-.1h0m.2 .4h0m0-.7h0m.3 .7h0m.1 0h0m0 .2h0m.2 .7h0m.4 .2h0m0-1.5h0m.6 1.6h0m.6-.9h0m1.1-1.2h0m.7 1.9h0m.6-1.7h0m.3 .3h0m0 2h0m.1-.5h0m.5-1.1h0m-103.9 2.8h0m.2 .2h0m.1-.5h0m1.1-.8h0m0 .7h0m.7-.5h0m.2 .4h0m.5 1.7h0m.3 .1h0m.6 .1h0m0-.2h0m.7 .4h0m0-.4h0m2.1 .4h0m.5-.4h0m0-.1h0m.7-.1h0m.1 .8h0m.8-.9h0m.3 .4h0m0-1.9h0m.7 2.2h0m0-1.3h0m.7-.8h0m3.3 .9h0m.7-.7h0m.2 1.7h0m1.2-.7h0m.1 .8h0m.6 0h0m.6-1.1h0m.3-.8h0m0 1.4h0m.2 .6h0m.3-1.5h0m.9-.2h0m.9 .3h0m.7-1.3h0m0 1h0m.4 1h0m.1-.7h0m.4-1h0m1.7 1h0m.4 .6h0m.1-1.9h0m0 2h0m.3-1.2h0m.2 0h0m.5 1h0m.8 .3h0m.5 .8h0m.4-2.9h0m.4 1.9h0m.8-.3h0m2.4 1.2h0m1.3-.8h0m.1 .4h0m2.8-1.9h0m.7 .5h0m1-.7h0m.2 .5h0m0 .5h0m.2-.5h0m.7 1.5h0m1.9-.2h0m.1 .8h0m.3-.2h0m0-.9h0m.2-.4h0m.4-1.4h0m.1 .8h0m.1 1.7h0m.1-1.7h0m0 .6h0m1.1-1.4h0m0 2h0m.5 .7h0m.4-2.5h0m0 2h0m.2-1.4h0m.7-.8h0m.2 2.7h0m.4-2.4h0m.4-.3h0m.4 0h0m.9 1.1h0m0 .4h0m0 .8h0m.3-.7h0m.6-.1h0m2.4-.3h0m.5-.2h0m.1 1.3h0m.6-.6h0m.3 .6h0m0-1.9h0m.9 1h0m.4 0h0m1.1-.2h0m.3-.1h0m.4 1.7h0m.1-1.7h0m.7-.7h0m.2 1.7h0m.7 .4h0m0-1.2h0m.9 1.4h0m2.2 0h0m.7-1h0m.4-.1h0m.2-.2h0m.3-.2h0m.6 .8h0m.4-1.8h0m.1 1.2h0m.3-1.3h0m.3 1.5h0m.3-1h0m.4 1.8h0m.3-.6h0m.7-1.4h0m.6 1h0m.4-.3h0m0 1.8h0m.9-2.5h0m.2 1.2h0m.7-1.5h0m0 2.7h0m1.2-2.5h0m.9 .2h0m2.3 2.1h0m.3-2.2h0m.7 2.1h0m.1-2.1h0m1.5 1.8h0m3.1-1.7h0m.4 .7h0m2.6-1h0m.7 .9h0m.4-.4h0m7.7-.7h0m1.1 1.5h0m2.3-1.2h0m1-.1h0m.1 1.3h0m.7 .5h0m.6-2h0m.2 2.2h0m.1-1.9h0m.5 1.6h0m.1-.5h0m1.5-.6h0m1.2 1h0m0-.4h0m.1 .3h0m1.8 .7h0m.7-.3h0m.3 .7h0m0-1.3h0m.2 .6h0m1.6-1.1h0m.3 1.6h0m0-.4h0m.8 .4h0m.3-2.1h0m.2 1.4h0m.8 .7h0m-105.6 1.5h0m.5-.5h0m.2 1.2h0m.3-1.6h0m.6 1.1h0m.6-.3h0m.3 .6h0m.4 .4h0m.2-1.1h0m1.3-.9h0m1.1 1.9h0m.5-.8h0m.1 1.4h0m.3-1.3h0m.2 .5h0m.4 .3h0m.4 .7h0m.4 0h0m.5-1.4h0m.1 .9h0m.3-1.5h0m.1-.7h0m1.7 2.3h0m.4 0h0m1.1-1h0m.2 .1h0m.7 .2h0m.2 .8h0m.2-.3h0m0-1h0m.8-1.1h0m1 1.5h0m.2 .6h0m0-.6h0m.5-.9h0m.9 .6h0m.2 .5h0m.7 .8h0m.4 .3h0m1.4-.7h0m.8-1.4h0m.1 .9h0m.3-.9h0m.3-.4h0m.2 .3h0m.4 1.9h0m.2-2h0m.1 1.9h0m.6-1.5h0m.2 .5h0m1-1.3h0m.1 .9h0m0-.7h0m.4 1.7h0m.1 .5h0m.3-.4h0m0-.3h0m1-.4h0m1.1 1.2h0m.2-.6h0m.7-.7h0m.4 .5h0m.6 .9h0m.4-.2h0m.4-.1h0m.9-.8h0m1.6 .6h0m.7-.5h0m.5 .4h0m0 0h0m.1-1h0m.4-.6h0m.4 .3h0m1.3 .6h0m1.9 1.2h0m2.1 .3h0m1.6-2.7h0m.5 1h0m.4-1.2h0m1.4 1.9h0m.3-.2h0m.3-.4h0m.1 1.1h0m1.3-.1h0m0-.4h0m.9 .8h0m1-1.1h0m.4 .1h0m0 1.1h0m.5-1.2h0m.1-.3h0m.1 .6h0m.7 .2h0m.1-.6h0m.3-.9h0m.9-.2h0m1.1 1.8h0m.3-1.7h0m.4-.4h0m1.4 1.8h0m0-.8h0m.3 .1h0m.5 .8h0m.1-1.1h0m1.1-.6h0m.7 2h0m1.1 .4h0m1-2.5h0m.2 1.3h0m.6-.7h0m.4-.1h0m.4-.7h0m0 1.7h0m0 .5h0m.2-1.1h0m.2 .6h0m.4 1.1h0m.6-2.7h0m.1 2.3h0m2.4-.3h0m.1-1.7h0m.3 .3h0m.6 .1h0m.1 1.9h0m0-.8h0m.6-1.5h0m.8 .8h0m.3 .9h0m.7-1.6h0m.2 1h0m1.7-.5h0m.3-.3h0m1.6-.2h0m.9 1.9h0m.4-2.3h0m.5 2h0m.1-1.6h0m.1-.4h0m1 1.5h0m1.7-1.3h0m.1 1.2h0m.1-.2h0m0-1.2h0m.2-.1h0m.6 1.2h0m.2-.2h0m.5 1.2h0m.6 .3h0m1.3-2.5h0m.9 1.6h0m.3 .9h0m.1-.5h0m.3-.4h0m.1-.1h0m.1-.6h0m.4-.7h0m0 1.8h0m.1-1.9h0m.1 .4h0m1 1.2h0m.5 .5h0m1.1-.2h0m1.3 .3h0m.4-1.4h0m.2-.4h0m1.1 2h0m.4 0h0m1 .4h0m.4-2.1h0m4.9 .8h0m1.2 .2h0m.4-1.6h0m.3 1.4h0m1-1.6h0m.2 .8h0m0-.6h0m.5 .3h0m.1 1h0m.3-1.5h0m.5 2.9h0m.1-.7h0m.5 .1h0m.1-2.4h0m.4 1.3h0m.9-.4h0m0 .6h0m.2 0h0m.7-1.1h0m.3 1.5h0m.1-.3h0m.5-.6h0m.3 1.9h0m.5-2.1h0m.3 2.1h0m0-.9h0m1.8 .7h0m.4-.2h0m.6-.3h0m1.6 .8h0m-106.1 1.2h0m.1-.9h0m.1 1h0m1 1.1h0m.6 .2h0m.7-.9h0m.2-.6h0m.1-.8h0m.8 1.1h0m0 .2h0m.6 .8h0m.8-2.4h0m.2 .9h0m.4 1.1h0m.3-.7h0m1 .3h0m.8-.6h0m.4-.5h0m.3-.1h0m1-.2h0m1.2 2.5h0m.6-2.5h0m0 2.7h0m.4-1.5h0m1.8-.8h0m.3 .9h0m.3-.8h0m.5-.1h0m.1 1.4h0m.5-.6h0m1.8 1.6h0m.3-1.1h0m.6-.8h0m0 1.7h0m.3-.2h0m.4 .1h0m.5-2.2h0m2.9 1.9h0m1-1.3h0m.6 1.5h0m0 0h0m0-.9h0m.1 .4h0m.8 .6h0m.3-.6h0m1.2-1.6h0m.8-.4h0m0 1.6h0m0-.6h0m.3 .8h0m.4-1.5h0m.6 2.5h0m.1 0h0m.8-1.4h0m.5-.2h0m.4-.5h0m.5 .3h0m.3 .5h0m.6 .1h0m.3-1.4h0m0 1h0m.2 .9h0m1.6-1h0m.1 1.4h0m0 .4h0m.8-.6h0m.4-.7h0m.3-1.5h0m.4 .2h0m.5 .5h0m.4-.4h0m.1 1.8h0m.2-.2h0m.6-.2h0m.1 1h0m.2 .1h0m.1-2.9h0m.1 1.8h0m.3-1h0m.3 1.8h0m1.4-.6h0m.3-.6h0m.2 1.4h0m.1-2.7h0m.2 2h0m.9 .4h0m.2 0h0m.1 .1h0m.1 .1h0m0-2.2h0m.4 1.2h0m1.2-.8h0m.4 1.2h0m0-1.2h0m.1 .4h0m0 1.5h0m.2-.4h0m.3-2h0m.8 .4h0m.9 1.1h0m1.3-.4h0m.2-.7h0m.1 .6h0m.1 .8h0m.1 .3h0m3.2-2.1h0m0 1.6h0m.2-.1h0m.5 0h0m1.7 .5h0m1.8 .2h0m1.1-.1h0m.2-2.3h0m1.4-.2h0m.1 0h0m.2 2.2h0m.3-2h0m.1 1.4h0m.5-.1h0m.3-.2h0m.3 .8h0m0-.6h0m.1 .8h0m1-.6h0m1.1-.1h0m.1-1.4h0m.1 0h0m.8 .8h0m.1-.4h0m.1 .5h0m.4 .1h0m1.3 1.1h0m.1-2.3h0m0 2.1h0m.4-1.4h0m.2 .1h0m2-.6h0m.2 .5h0m.3 .8h0m.3-1.6h0m2.4 2.8h0m0 0h0m1.6-2.6h0m1 1.3h0m1.2-1.1h0m1.1 0h0m0 .5h0m.4-.2h0m1 0h0m.7 .2h0m.2-.4h0m.7 .8h0m.4 .9h0m0-2.1h0m.3 .3h0m0 .4h0m.4 .5h0m.4 .5h0m.4 .7h0m.2-2.4h0m.1 1.7h0m.3-.1h0m.2 .1h0m.6-.9h0m1.7 .6h0m.1 .2h0m.2-1.4h0m1.2 .8h0m.2-.3h0m.8 .8h0m.4 .5h0m.8 .2h0m.4-2h0m.1 2.4h0m1.3 .1h0m3.2-.3h0m.7-.9h0m1.2 .2h0m.4-1.2h0m0-.2h0m.2 1.8h0m.1-1.5h0m.5 .7h0m.3-1.1h0m.1 1.8h0m.9-.6h0m.2 1.4h0m.1-.8h0m.7 .1h0m.3-2.1h0m1.2 1.1h0m.3-.5h0m.9-.1h0m.1-.2h0m.1 .4h0m.1-.3h0m.4 1.5h0m.5 .6h0m1.4 .3h0m.2-1h0m.4 .6h0m.4-1h0m1.3-1.5h0m.2 .8h0m.7-.4h0m.3 .9h0m0 .8h0m.6 .7h0m.1 .1h0m-107.4 2.3h0m1-.4h0m1-1h0m.3-.5h0m.3 2.1h0m0-.3h0m.1-.9h0m0 .8h0m.4-.9h0m.2 1.4h0m0-1.3h0m.4 .5h0m.9 .4h0m.3-.9h0m.4 .1h0m.1-.4h0m1.5 2.1h0m.2-1.7h0m1.1-.4h0m0 1.4h0m.1 .2h0m.1-1.4h0m.3 1.5h0m.4-.4h0m.1-1.2h0m.4 1.1h0m.2 .9h0m1.5-.1h0m.6-2.2h0m.4 .8h0m.3-.4h0m1.4-.7h0m.2 .8h0m0 1.1h0m.4-.5h0m.3 1.1h0m0-1.9h0m.2 1.8h0m.6-1h0m.1-1.6h0m.1 2.3h0m.1-1.2h0m.3-.2h0m.1 1.6h0m.3-.6h0m.7-1.1h0m.5 1.8h0m.1-1.9h0m.9 .6h0m.3-1h0m.7 .2h0m.9 1h0m1.5-1.6h0m.2 .5h0m.5 0h0m.6 1.4h0m.8-.5h0m.8 .6h0m.3 .8h0m.2-1.1h0m.1 .1h0m.2-1.8h0m.1 2.6h0m.2 .1h0m.6-1.5h0m.8 1.1h0m.6-1.8h0m.3 .1h0m.3 1h0m.6-1.4h0m.5-.2h0m0 2.7h0m.2-2.6h0m.3 1.1h0m.9 1.6h0m.2-2.3h0m.1 1.5h0m.8 0h0m.2-2h0m1 1.1h0m.7 1h0m.1 .2h0m.6-1.7h0m.5 2.2h0m.6-2.4h0m1.6 1.8h0m.2-1.1h0m.1 .5h0m.9 .8h0m.4-2.1h0m.5 1.9h0m.1-.7h0m.5-.2h0m1.4 .6h0m.1-1.3h0m.2 1.4h0m.3 0h0m0-.9h0m.3-.7h0m.3 2h0m.8-1.8h0m.8 .7h0m1 1.3h0m.1-1.5h0m0 1.4h0m.6-.3h0m.1-1.8h0m.6 1.6h0m.8-1.6h0m.9 1.5h0m0 0h0m.4 .5h0m1-.9h0m.2-.3h0m.9-.9h0m.4 1.5h0m.6 .4h0m.3 .7h0m1.3-2.9h0m1.8 1.7h0m.1 .6h0m.2-1.4h0m.1-.9h0m1.1 1.4h0m1.5 .9h0m.5-2.4h0m0 .3h0m1.1 .2h0m.1 .9h0m.6-.8h0m.6 2.1h0m.7-2.6h0m.9 .6h0m.9 .2h0m.2-.5h0m1.8 1.2h0m1.2 1h0m.4-1h0m.6-.1h0m0 .6h0m3.5-1.1h0m.2-.5h0m.3 .7h0m.2-.8h0m0 .8h0m1.2-1h0m.2-.1h0m1.2 2.5h0m.9-1.1h0m.6-.6h0m.6 1.3h0m4.6-1.5h0m.7 1.6h0m2.7-.9h0m2.2-.4h0m.4 1.3h0m.2 0h0m.7-2.3h0m.1 .7h0m8 1.8h0m1.3-.5h0m.7 .1h0m1.1-.1h0m.1-.5h0m.1-1.5h0m2.7 2.2h0m.2-1.2h0m.1-.6h0m.6 0h0m.1 0h0m.1 .8h0m.2-.8h0m.1 .2h0m1 1.1h0m.2-1.4h0m1.4 1.9h0m0-1h0m.1 .2h0m.7 .4h0m0 .6h0m.2-.7h0m.6-1.3h0m.6 .5h0m1.3 1.8h0m.6-1.6h0m-109.2 2.2h0m1.4 .9h0m.9 1.4h0m0-.4h0m.3-1.1h0m.2-.7h0m.6 1.6h0m.1-.4h0m.1-.8h0m.5-.4h0m.5 2.2h0m.4-2.1h0m.2 1.4h0m.5-1.4h0m2.4 2h0m.3-1.2h0m0-.7h0m.3-.6h0m2 1.5h0m.2-.4h0m.1 1.7h0m.4-1.7h0m.7-.4h0m.8 .8h0m.8-.2h0m.9-1h0m.7 .4h0m1 .8h0m.4 .6h0m.3-.7h0m.4 1.4h0m1.6-.2h0m.2-.9h0m.3-.5h0m1.2-.6h0m0 .5h0m.5-.8h0m.3 .1h0m2.2 .5h0m1.3 1h0m.3-.9h0m0-.9h0m.5 2.6h0m.3-2h0m.4 .4h0m0 1.8h0m.3-1.7h0m0 1.4h0m3.8-.1h0m.5-.9h0m.7-.5h0m.2 1.1h0m.6-.4h0m1.2 .3h0m.5-.5h0m.8 1.2h0m.4-.8h0m.3 .9h0m1.6-1h0m0-.7h0m.2 1.2h0m2.1-.5h0m.1-1.8h0m.3 1.3h0m.1-.4h0m.1 .9h0m.1-1.6h0m.4 1.7h0m.6 .1h0m.5-1.2h0m.1 1.1h0m0 0h0m.1 .1h0m.6-1.5h0m.6 2h0m0-.2h0m.5-.2h0m.3 .5h0m.3-1.2h0m0 .8h0m.5-.2h0m1.3-.7h0m.5 0h0m.5-.1h0m.9-.2h0m.3-.4h0m0 2h0m.8 0h0m.5-.1h0m.3-.7h0m.2-1.6h0m.5 1.3h0m.2 .1h0m.5-.5h0m.1-.6h0m.9 2h0m2.1 .4h0m.1-1.2h0m.5-.4h0m2.9 .9h0m2.6 .5h0m13.4-1.6h0m3-.3h0m2.6 1.9h0m6-2.7h0m13.1 .9h0m1 1.3h0m0 .5h0m.1-2.7h0m.1 1.6h0m1-1.1h0m1.3 2.4h0m.1-1.3h0m2 1h0m1.4-.5h0m.8-1.9h0m1.3 1.5h0m.4-1.1h0m.2-.3h0m.8 2.6h0m.7-1.5h0m1.5 .7h0m.7-.3h0m.9 .9h0m-113.1 1h0m.3 .1h0m.1 .9h0m1.1 .6h0m.7-1.6h0m1 1.2h0m.1-.2h0m1.5 .5h0m.5-1.1h0m0 1.3h0m0 .3h0m1.3-.6h0m1.5-.4h0m.2-.1h0m1-1.5h0m.2 1.4h0m1.1-1h0m.4 1.5h0m0-.4h0m.8 .2h0m1.3-1h0m.3 1.3h0m.4-.3h0m.1-1.4h0m.6 2.2h0m.1-2h0m1-.4h0m.6 .7h0m.1 .5h0m.5-1.4h0m.3 .3h0m.2 2.2h0m.3-.5h0m.5-.3h0m.1-.3h0m.1 1.3h0m0-.8h0m.5-1.3h0m2.3 .3h0m2 .4h0m1.4-1h0m.3 0h0m.1 .6h0m1.1 .6h0m.3 0h0m.7 .5h0m.5 .6h0m.3-.9h0m.9-.1h0m1.1-.9h0m.3 1h0m.9-1.8h0m.8 1.4h0m0-1.2h0m.1 1.8h0m.6-.3h0m.2-1.3h0m0 .6h0m.6 1.3h0m.4-2.2h0m.5 .5h0m.3 1.3h0m.1 .4h0m.8-.3h0m.3-1.6h0m.6 .5h0m.5 1.8h0m.2-1.7h0m.2-.2h0m.4-.2h0m0 .3h0m.1 1.9h0m1-.6h0m.2-.1h0m.3-1.6h0m.5 1.7h0m.3-1.5h0m.3 .9h0m0-.7h0m0-.8h0m.4 2h0m.1-1.5h0m0-.4h0m.4 1h0m1.6 .5h0m.6-.4h0m.2-.8h0m.3 .5h0m.5-.9h0m.6 1.2h0m.2-.1h0m.4 1.7h0m0-2.6h0m.8-.3h0m.2 1.6h0m.1-.9h0m.3 1.1h0m0 .1h0m.4 .9h0m.8-2.7h0m.6 1.7h0m1.1-.2h0m.3 0h0m.5 .7h0m.1-.9h0m.9-1.1h0m.3-.3h0m.1 2.2h0m1 .1h0m.4-1.5h0m.4-.6h0m.1 1.3h0m.3 1h0m.6 .1h0m.6 .4h0m.4-.9h0m12.2-1.6h0m1.6 .2h0m5-.1h0m4.3 .5h0m20.3 1.7h0m.6-2.6h0m1.8 2.3h0m1-2.3h0m.8 1.4h0m1 1.1h0m.4 .2h0m1.2-2.3h0m.9-.4h0m.3 2.3h0m0-2.1h0m.9 1.8h0m.8-2.1h0m.4 .4h0m1.3-.5h0m.2 .3h0m.7 1.2h0m.4 .6h0m1.3-.7h0m.9 1.5h0m.1-.2h0m5.8 .2h0m-119.6 .2h0m1.1 .3h0m1.2 2.3h0m.2-1.8h0m.2 .3h0m.1 .4h0m4.1-.8h0m.6 .8h0m2.2-1.2h0m.3 .4h0m1.2 1.9h0m1.4-.9h0m.4 .2h0m.4-1.3h0m.1-.4h0m.9 1.1h0m.6-1.1h0m.2 .9h0m1.5-.2h0m1.8-.1h0m.2-.8h0m.2 2.2h0m.5-.1h0m1.2-.2h0m.5-.1h0m.7-1.3h0m.2 1.7h0m.7-.3h0m.8-1.9h0m.4 .2h0m.1 .5h0m.8 1.1h0m.3-.2h0m1.4 1.1h0m.4-1.3h0m.4-.6h0m.9-.7h0m.1 1.9h0m.7-.9h0m.1-.7h0m1.9 1.3h0m.1 .4h0m.2-1h0m.4-.6h0m.8 1.5h0m.2-1.2h0m.7-.6h0m.3-.2h0m.3 .8h0m.2 .4h0m.1-.9h0m.3 1.2h0m.1-1.4h0m.1 2.5h0m.3-.8h0m.1 .3h0m.4-1.3h0m.1 1.9h0m.3-1.4h0m.9-.7h0m0 1.6h0m.1-1.5h0m.8 1.5h0m.3-1.3h0m1.3 1.8h0m.1-1.7h0m1 .9h0m0 .3h0m.2-1h0m.2-.8h0m.2-.3h0m1 1.7h0m0-.7h0m.1 .7h0m0-1h0m1 1.1h0m.1 .3h0m.2-.5h0m.1-.9h0m.2 1.2h0m2-1.1h0m.4 .3h0m.3 .8h0m.3 .5h0m.4-2.1h0m.1 .6h0m0 0h0m.9 .3h0m0 1h0m1-1.5h0m.2 1.7h0m.4 .4h0m.2-1.5h0m.3 1.2h0m0-1.3h0m.5-1.3h0m.5 .3h0m.4-.2h0m1.3 2.5h0m.5-.3h0m7.6-1.3h0m2.1 .7h0m5 .6h0m.3-.6h0m.2-.2h0m4.5 .9h0m10.4-.9h0m.8-1.4h0m3.6 0h0m10.2 .4h0m5.4 1.8h0m.1-.8h0m.5-.2h0m2.3 1.1h0m1.5-1.5h0m.7 .1h0m.1-.3h0m.1 1.1h0m.2-1.8h0m.4 .8h0m.4-.7h0m.6 .2h0m.2-.1h0m1.1 1.8h0m.4-1h0m.6 .6h0m.1 .4h0m.4-.1h0m.1-.6h0m0 .5h0m.4-.9h0m.9 .1h0m.4 .1h0m.1-1h0m.2 2h0m.9 .2h0m.3-.7h0m0-1.3h0m.4 0h0m1.2 1.1h0m1 .3h0m1.8-1.3h0m.3 1.1h0m0 .7h0m.3-.1h0m.4-1.3h0m.3 1.7h0m1.9 .3h0m.4-.1h0m-123 1.3h0m1.7-.5h0m.8-.4h0m.5 1.4h0m.3 .5h0m.1 .3h0m.1-.2h0m.1-.6h0m1.1 .2h0m.1 .7h0m.6-.1h0m.2-.9h0m1.4 1.1h0m1.2-1.9h0m1.3 .2h0m.3 1.9h0m.8-.9h0m.4 1h0m.2-1.8h0m.3-.3h0m.1 .5h0m0 .3h0m.6-.7h0m.1 1.8h0m.8-.8h0m.2 .2h0m3.2-.6h0m4.4-1.4h0m.1 1h0m6.3 1.3h0m4.7-2.1h0m.2 .2h0m.5 1.1h0m.8-1.2h0m.1 1.8h0m.6-1.5h0m.2 .7h0m.1 .1h0m.3 .6h0m.1-.6h0m.1 .8h0m.9-2.3h0m.5 0h0m.1 1.9h0m.3-.4h0m1.2 0h0m.8-1.2h0m.1 .6h0m.1 1.5h0m.1-1h0m2.1 1.4h0m0-.3h0m.1-1h0m.1-.4h0m.1-.3h0m.2 1.8h0m1-1.7h0m.7 1h0m.4 .5h0m.3-.2h0m.9-1.3h0m.8 1.3h0m.4 .2h0m.4-1.1h0m.5 1.3h0m.3-1.4h0m.1 .7h0m.3-.2h0m.7 .3h0m.7 .3h0m0-.1h0m0 .3h0m.1-.5h0m1.8 .3h0m6.1 .6h0m15.3-1.3h0m.1-.6h0m4 0h0m.3 1.7h0m3.8-.6h0m6.8-1.1h0m11.7 .6h0m3 .7h0m3.8-1.5h0m.1 .7h0m1.9 .9h0m1.8-.4h0m1-1.6h0m.3 .6h0m1-1h0m0 2.6h0m1.5-2.3h0m.5 2.1h0m.4-1.7h0m1.5 1.3h0m.1 .6h0m.8-1.6h0m.8-.4h0m.2 1.8h0m.6-1.5h0m.4-.4h0m.2-.1h0m.6 .2h0m.8 1.1h0m0 .8h0m0 .1h0m0-.5h0m.5-.3h0m1.3-.9h0m.6 1.2h0m.6 .2h0m1.4 .2h0m-118.8 .6h0m0 .8h0m0-.9h0m.2 .3h0m1.7 2.1h0m.5-1.7h0m.2-.4h0m0 .5h0m.6-.3h0m.3 .8h0m1.8 1.5h0m.6-1.9h0m.9-.3h0m19.6-.2h0m4.9-.1h0m.9 0h0m.1 .5h0m2-.7h0m.2 .4h0m.1 .8h0m.2 .2h0m0 .2h0m.4-1.3h0m.2 1.7h0m.5 .1h0m1.4-1.3h0m.3 .6h0m.3-1.2h0m.6 1.3h0m.5-1.3h0m.7 .7h0m.2 1.2h0m.8-2h0m.4 2.5h0m.4-.7h0m.5-1.6h0m.1 .4h0m1.2 1.9h0m.6-.9h0m.8-.8h0m.2 .4h0m.3 1.5h0m.2-1.1h0m.1 .1h0m1.7-1.5h0m.2 1h0m1.7 1.5h0m11.5-2.6h0m.2 1.6h0m1.8-.9h0m.3 1.9h0m.2-2.3h0m2.8 1.2h0m5.3-.1h0m.8-.5h0m1.4 0h0m4.6 1.2h0m5-.5h0m1.5-.7h0m4.2 .9h0m.4-.5h0m2.7-1.6h0m1.7 2.1h0m3.4-.2h0m.2-.1h0m.1 .8h0m.3-2.2h0m2.6 2.2h0m.4-.3h0m.9 .2h0m1 .5h0m.3-.2h0m2.7-.4h0m.4-1.1h0m.6 .3h0m.3 .8h0m.5-.2h0m0 .1h0m.4 .2h0m.7 .4h0m.5-.6h0m0-.8h0m.9 0h0m.6 1.2h0m.5 0h0m.4-.6h0m.3-1.9h0m.9 .2h0m1.4 1.6h0m.9-1.5h0m.1 .3h0m.1 1.2h0m.4 .6h0m.4-1.6h0m.4 .4h0m.1-1h0m.6 .9h0m1 1.3h0m.2-.2h0m.8-.5h0m.1-1.2h0m.2-.6h0m1.5 2.9h0m.3-1.2h0m.2 .7h0m-85.6 1.4h0m.2-.6h0m1.5 .2h0m1.6 .3h0m.7 1.9h0m1.1-2.3h0m.7-.4h0m.3 2.3h0m.8-1.8h0m.5 2.3h0m.1-2.2h0m.9-.1h0m.2 2.1h0m0 .2h0m1.1-2h0m.1-.8h0m.2 2.9h0m.6-1.3h0m1.2-1.1h0m.1 1.2h0m1 .6h0m.2-.3h0m.2-1h0m4.8 .7h0m1.1 0h0m5.6 .1h0m5.5 1.1h0m6.8-.4h0m.1-.7h0m8.8 1.1h0m8.7-1.9h0m2.1 1.9h0m2.6-1.3h0m5.7-1.4h0m3.5 .8h0m.1 .9h0m2.6-1.8h0m0 1h0m.3 .2h0m.1-.1h0m.5 .4h0m0-.4h0m1.1 0h0m.1 .6h0m.4-1.1h0m1.6 .2h0m0 1.5h0m.1-1.1h0m1-1.1h0m.6 1.2h0m.4 1h0m1.1-1.6h0m.4 .5h0m.3 .1h0m.5-.3h0m.7 .2h0m.3-.8h0m.4 2.1h0m.2 .3h0m.6-1.1h0m1.6 0h0m.4-.6h0m.6-1h0m.1 .4h0m.6 1.9h0m.8-1.1h0m0 .9h0m-80.4 1.6h0m2 0h0m.1-.8h0m.3 1h0m1.3 .1h0m.3 .3h0m0-.1h0m.1-.9h0m.5-.1h0m.1 1.6h0m.3-1.3h0m.3 1.6h0m.3-1.6h0m0 0h0m.3-.3h0m0 1.4h0m1.2-1.1h0m.2 1.4h0m.4 .9h0m.1-.8h0m.1-2.1h0m.4 1.2h0m.8 .4h0m.2 1.3h0m.7-2.4h0m4 .5h0m.3 1.3h0m2.7-1.2h0m1.7-.8h0m4 2.3h0m.6-.7h0m3.1-1.1h0m.6 .1h0m.1 1.7h0m4-.8h0m2.8-1.1h0m5.7 .3h0m.3-.8h0m2 2.1h0m2.4 0h0m1.6-.4h0m11.6 .9h0m.5-1.6h0m.4 1h0m.1-.6h0m.9 1.2h0m.2-1.4h0m4.1 .8h0m1.7-1.7h0m.1 .6h0m.4-.1h0m.1 1.9h0m.3-.5h0m.4-1.2h0m.3 .9h0m.1-.2h0m0 .4h0m2-1.9h0m.6 1.8h0m.8 .3h0m.2 .2h0m.1-2.3h0m.2 1.5h0m.2 .8h0m.2-2.5h0m.1 2.7h0m1.3-2.2h0m.6-.8h0m1.7 1.1h0m.8 .7h0m.5-.2h0m-75.8 2.2h0m1.5 .7h0m.5-.1h0m.2 .3h0m.1-1.4h0m.4 .6h0m.3 .9h0m.1-1.5h0m.6 1.6h0m.4-.9h0m.4 .1h0m.3 0h0m.2 1.9h0m.3-2.3h0m.9 2.1h0m1.2-1h0m.4 .6h0m2.4-1.8h0m1.2 1.7h0m.1 .6h0m.3-1.7h0m0 .9h0m.6-1h0m.1 .5h0m1.3-.8h0m.4 1.4h0m.6 .5h0m.4-1.9h0m.3 1.2h0m1.6-.1h0m.2 .9h0m1.4-.2h0m.9-1.2h0m1.5 1.3h0m.8-1.2h0m1.2-1.2h0m1.7-.1h0m1.7 2.3h0m2.3-.4h0m1.9 .4h0m2.2-1.3h0m5.7 .9h0m2.3-.2h0m2.5-1h0m0-.4h0m.5 1.8h0m1 .5h0m1.9-1.5h0m2.7 1.6h0m3.4-.4h0m4.2-1.5h0m.7 0h0m.9 1.7h0m.7-1.7h0m.4 0h0m1 1.1h0m.8 .3h0m.4-1.2h0m.4 .3h0m.4-.1h0m.2-.2h0m0 1.6h0m.3-.6h0m.8 .7h0m.8-1.5h0m.9 .5h0m.3-.5h0m.3-.4h0m.2-.4h0m.6 1.4h0m.4-.3h0m.6-.5h0m.5-.3h0m1.3 .7h0m.1-.6h0m.4 1.4h0m1.3-2.4h0m.1 1.7h0m.1-1.4h0m.2 .2h0m.3 0h0m.2 .3h0m1-.3h0m1.1-.3h0m.3 2.7h0m.1-2.1h0m0 1.4h0m1-1.6h0m.6 .9h0m.9-.4h0m.7 1.4h0m.4-1.8h0m-77 2.6h0m.3 1.5h0m.4-.5h0m.4 1.3h0m.2-1.8h0m.6-.3h0m1.3 .9h0m.4 1h0m.6 .1h0m.8 .3h0m.1-2.5h0m.6 2.3h0m1.3-.2h0m1.1-1.9h0m.7-.2h0m.2 .6h0m.4 1h0m.1-1h0m2.9 2h0m.2-2h0m.1 .1h0m.1 .8h0m.3 .7h0m.2-.1h0m1.1 .4h0m.2-1.8h0m.1-.8h0m1.6 2.2h0m.8-.3h0m2.2-.5h0m.1-.2h0m1.1 .3h0m0 .5h0m1.1 .7h0m0-2.2h0m.7 2.1h0m.1-2.6h0m4.3 2.4h0m1.7-1.7h0m.4 1h0m4.3 .8h0m.2-.1h0m2.2 0h0m2.3 0h0m2.5-.5h0m.4-.8h0m.3-.1h0m.6 .5h0m.1 1.2h0m1.1-1.6h0m.7-1.3h0m10.3 2.5h0m3.6-1.6h0m.8 1.8h0m.5-.7h0m.8-1.5h0m.1 1.6h0m.3-.4h0m.4 1h0m.1-.9h0m2.2-1.1h0m0-.5h0m.9 .4h0m.2 .3h0m.5 1.7h0m1.3-2.4h0m0 2h0m.2 0h0m.3-1.5h0m.2 1.2h0m.2-.9h0m.4-.4h0m.2 .4h0m.3-.9h0m.3 2h0m.1-1.8h0m.1 .3h0m0 .7h0m.6-1.1h0m.1 1h0m1.3 1.1h0m0-.6h0m.1-.6h0m.7-.8h0m.7 2.5h0m1-2.6h0m.8 .5h0m1.2 .9h0m0-.3h0m.7 .5h0m.5-1.4h0m.1 1.4h0m-75.9 2.6h0m0 .7h0m.4 .4h0m.1-.3h0m1.5-1.4h0m1.1 2.1h0m1.8-.3h0m.2-1.3h0m.4-.6h0m0 2.1h0m.1-.7h0m.5-.6h0m.1-.6h0m.4 .7h0m.7 1.3h0m.4-.2h0m.9-.2h0m.3-2.3h0m.2 .5h0m.7 .5h0m1-.7h0m.1 1.7h0m1.3-.6h0m1.9-.7h0m.5 1.5h0m.5-.3h0m.1-1h0m1.4 1.2h0m1.1-1.8h0m.2 .9h0m0 1.6h0m.1-.1h0m.3-.3h0m.1-1.2h0m.1-1.4h0m.5 1.2h0m.4 .6h0m.2-.8h0m1.2 .5h0m.2 .1h0m.6 .6h0m.1-1.8h0m3.1 2.2h0m0-1.8h0m.1-.2h0m.3-.1h0m.3 .9h0m0 1h0m.6-1.5h0m.3 .1h0m.3 1.1h0m.7-.2h0m.2-1.2h0m0 1.6h0m1-2h0m.5 1.7h0m.6 .9h0m1.7-1.4h0m.6 0h0m.6 1.2h0m1.2-2.2h0m1.1 1.5h0m.1 .9h0m9.9-.4h0m5.9-2.4h0m7.2 .5h0m1.8 2.2h0m.1-1.4h0m.4 0h0m.5 .1h0m.4 .9h0m.5-1.6h0m.3 .8h0m.3-.9h0m.3 2h0m.1-1.7h0m.6-.8h0m0 1.3h0m.9-.1h0m.1-1.4h0m.4 .8h0m.3 2.2h0m1-2h0m.9 .7h0m-65.5 2.5h0m.1 1.2h0m.7-.1h0m.2-1.3h0m.6 1.5h0m.1-1.7h0m.3 1.1h0m.2-.3h0m1.6 0h0m1-1.4h0m1.7 .2h0m5.1 1h0m.3 .8h0m.1-.2h0m.8 .9h0m.3-.6h0m.7-1.5h0m.4 0h0m.8 1.9h0m0-1h0m.4-.5h0m.3 .8h0m.5-1h0m2.1 .7h0m.6-1.2h0m.3 1h0m.6 .9h0m.2-1h0m.6 1.4h0m.1-2.4h0m2.8 1.4h0m.1 .9h0m.3-1.3h0m.6-.2h0m0 1.7h0m.1-.3h0m0-.7h0m.2 .2h0m.8-1.1h0m.7 .5h0m.5 .6h0m0-1.3h0m1 .6h0m.1 .8h0m.6 .3h0m.4-.6h0m.6-1.4h0m.1 1.4h0m0 .7h0m1 .4h0m4.1-2.8h0m1.2 2.7h0m.5-.3h0m3.4-.3h0m.3-.7h0m.1 .6h0m1-.4h0m1.2-.6h0m1.2 1.2h0m3.3-.4h0m4.2-1.9h0m11.2 .6h0m-62.5 5.2h0m.3-2.2h0m.1 2.1h0m0-2.1h0m.2 1.5h0m1.8-2h0m.4 .3h0m.2 2.5h0m2.4-2.7h0m1.4 .7h0m3.6 1.7h0m.1-.5h0m.6 0h0m1 .4h0m.9-1.7h0m.2 1.8h0m.3-1h0m.3-.9h0m.3 1.8h0m.3-1.5h0m.2 .2h0m.2 .7h0m.8-.6h0m1.5-1.4h0m.2 2.3h0m.5-.6h0m.1 .4h0m1.3-.7h0m.7 .5h0m.6-1.5h0m.1 2.1h0m.6-2h0m.2 2h0m0-2.5h0m.8 2.8h0m.3-1h0m.6-.6h0m.8-.6h0m.2 .8h0m.8-1.2h0m2.2 .9h0m.7-1h0m0 1.2h0m1.2-1.1h0m.2 2.1h0m.8-1.1h0m1.4 1.6h0m.2 0h0m.3-1.1h0m.4 1.3h0m.6-1.7h0m.2 1.3h0m.3-.9h0m.5 .1h0m3.4 0h0m.1-.8h0m.5 1.5h0m.1-1.2h0m1.1 .9h0m.2 .1h0m.2-1.1h0m1.9-.2h0m.2-.4h0m.5-.2h0m0 1h0m.1 .5h0m1.9-1.8h0m.4 1.8h0m.2-1.6h0m.3 .4h0m.6-.3h0m1.1-.1h0m.3 2.5h0m-47 1.2h0m.2 .8h0m1.2-1.1h0m.9-.6h0m0 1.1h0m.1 .9h0m1.8 .7h0m5.3-1.8h0m2.7 .8h0m.7-1.6h0m1.4 0h0m.3 .1h0m1.1 .8h0m.4 0h0m3.8 0h0m1.5 .3h0m2.6 .3h0m.1-1.2h0m2.4 1.1h0m.4-1.4h0m.9 .6h0m0 0h0m.1-.1h0m.2-.4h0m.1 .3h0m.8 1.2h0m1.6 1.1h0m.1-2.8h0m0 .5h0m.1 1.5h0m.5 .7h0m.3-1.4h0m.5-.2h0m0-1.1h0m.1 1.5h0m.1 1.4h0m.6-.3h0m.6-1.9h0m0 .8h0m.3-1h0m.8 1.2h0m.6-1h0m.2 1.9h0m.7-1.7h0m.2-.2h0m.8 .7h0m.8-.3h0m.3-.4h0m.8 1.8h0m.3-1h0m0 .2h0m.2-1.5h0m.3 .9h0m.2 1.5h0m0-.7h0m0-1.1h0m0 .9h0m.4-1.3h0m.5 1.1h0m.2-.3h0m.3 .8h0m1.8-.6h0m.3 .6h0m.5-.2h0m0-1.1h0m.2-.8h0m.3 .5h0m.4 .2h0m.3-.6h0m.3 .4h0m.6 .7h0m-44.6 3.5h0m1.8 1.3h0m.5 0h0m.3-1h0m1.3 .7h0m.5-1.5h0m1.7 1.3h0m.2-1h0m3.6 1.3h0m.5-2.5h0m0 1.5h0m.4-.2h0m.6 1h0m1-.8h0m1.9 0h0m.4 .8h0m.5 .1h0m0-1.2h0m4.8-1h0m3.7 0h0m1.8 2h0m2.3-2.5h0m.1 1.3h0m.8 1h0m.8-.6h0m.2-1h0m.1 .6h0m.1 1.1h0m.4-2h0m.4 1.5h0m0 1.1h0m.1-.7h0m.6-1.8h0m.7-.4h0m0 2.3h0m.3 .5h0m0-2.8h0m1 1h0m.3 .3h0m1.3-.2h0m.3 1.1h0m1.2-1.5h0m.2-.3h0m1.1 1.3h0m1.2-.4h0m1 .4h0m.6 1.1h0m-39.8 2.8h0m.1-2.6h0m1.4 2.5h0m1.8-.2h0m.2-.4h0m.4-.7h0m.1 1.6h0m.9-.9h0m1.1 0h0m.1-1.4h0m.9 1.6h0m.4-.1h0m.4-1.5h0m.3 1.7h0m.2-.9h0m.4 .2h0m.2-.6h0m.3 1.2h0m1.8 0h0m.3-1.4h0m.1 2h0m.3-1.8h0m.2-.3h0m.1-.2h0m1.1 2.1h0m.6-2.1h0m.4 1.7h0m1.7-1.2h0m.1-.6h0m1.1 1.4h0m0-.6h0m.2-.3h0m.7 .4h0m.1 1.6h0m.4-.4h0m.1 .3h0m.3-.1h0m3.1-1.5h0m3.9 1.8h0m.7-2.9h0m.6 1.7h0m.8-.7h0m0 1.7h0m.3-1.2h0m.7-1.4h0m.5 .1h0m0 1h0m.2 .1h0m0-1.2h0m1.8 .5h0m.3 1.4h0m.1 .1h0m.2 .3h0m.2-.6h0m.4-1.3h0m.1-.5h0m.1 2.5h0m.1-.6h0m.7-1.1h0m.4 .8h0m.4-.3h0m1.9 .9h0m.1-1.3h0m.3-.6h0m1.2 .6h0m.2 2h0m.3-2.2h0m-38.2 4.6h0m.1-1.5h0m.4-.6h0m.4 .9h0m1.6-1.1h0m.1 1.8h0m0 0h0m.7-1.2h0m.3 .4h0m.7 .7h0m.2 .9h0m.7 .3h0m.8-2.8h0m.1 2.2h0m1.1 .4h0m.3-.2h0m.2-1.3h0m.1-1.3h0m.1 .1h0m.2 .8h0m.1 1.6h0m.3-.7h0m.2 .2h0m.9-.3h0m.3-1.4h0m.4 1.5h0m.9-1.4h0m1.2 1h0m.3 1.3h0m1-.6h0m.7 .4h0m.3-.2h0m1.8-1.6h0m.2 .4h0m.1-.6h0m.1 .6h0m.2 .3h0m.6 1h0m.1-.6h0m1.8-.6h0m.1 1.2h0m.8-.3h0m.1-1.7h0m1.3 2.4h0m5-.4h0m.4-1.9h0m.8-.2h0m1.1 2.4h0m0-.3h0m.4-.5h0m.2-.6h0m1.1 1.7h0m.8-1.7h0m.2 .3h0m.2 .1h0m1.3 .7h0m.1-2.4h0m1.1 .3h0m.1 .3h0m.9 2.3h0m1.1-.1h0m.6-1.7h0m.2-1h0m.2 1.3h0m-37 4.4h0m.9-.2h0m.3-.5h0m1.8-.6h0m.1-1h0m.1 2.2h0m.7-2h0m1.1-.2h0m.8 .6h0m.1 .2h0m.2 0h0m0 .1h0m.2-.7h0m.1 2.3h0m.3-.7h0m.1 .2h0m.3-1.8h0m.3 1.6h0m.1 0h0m.5-1.8h0m.7 2.3h0m.9-1h0m1-1.6h0m.4 1.7h0m.8-.4h0m2.3 .8h0m.5 .2h0m.6-2.1h0m0 .9h0m.1 .9h0m1.2-.4h0m.5-.7h0m.9-.7h0m1.1 1.1h0m.2-1.1h0m2 1.6h0m.2-1.5h0m.8 2.1h0m1.3-1.4h0m.2 .5h0m1.1 1.1h0m.2-.3h0m.2-1h0m1.1 1h0m1.4-.4h0m.6-.8h0m.2-.4h0m.8-.5h0m1.1 .6h0m.7-.6h0m1 1.2h0m.4-1.4h0m2.6 2.2h0m-34 1.5h0m.8-.6h0m1.8 .6h0m.3 1.2h0m.4-.3h0m1.4 .9h0m.2-1.8h0m.3 1h0m1-1.8h0m.6 2.4h0m.2-2.3h0m0 .5h0m.9 1.3h0m0-1.3h0m.4 1.4h0m.1-1.6h0m2.8 2.1h0m.4-1.2h0m.3 1.1h0m1.4-.1h0m0-1.2h0m.1 .8h0m.2-1.5h0m.3-.3h0m.2 1h0m.1 1.1h0m.1-.1h0m.1-1.9h0m.4 .4h0m.4 1.7h0m.2-1.4h0m.9-.1h0m1.4 1.3h0m.3-.3h0m.2-1.9h0m.3 1.3h0m1.2 .9h0m.5-1.4h0m.8-.2h0m1.5 .3h0m.9-.3h0m.5 .7h0m1.4 .2h0m.1 .1h0m.1 .5h0m.4-.6h0m0-.6h0m1.1-.3h0m1 1.6h0m.5 .7h0m.8-1.2h0m.9-.6h0m.2 .8h0m-28.9 1.6h0m5.8-.2h0m.7 .7h0m.7-.7h0m.6 1.7h0m1 .2h0m.7-1.1h0m.4-.4h0m.7 .5h0m1.1 .4h0m.1-.6h0m.1 .3h0m.4-1h0m.8-.1h0m.3 2.2h0m1.6-.7h0m.1 0h0m.3-1.6h0m.2 1.8h0m0 .6h0m.7-.9h0m.2-.5h0m0-.7h0m.3 .9h0m.4-.7h0m.8 1.1h0m0-.7h0m.3-.6h0m.4-.3h0m.4 1.3h0m.5 1.5h0m.2-.4h0m1.2-1.5h0m.1-.9h0m.5 2.2h0m.6 .2h0m.4-1.2h0m1.5-.2h0m.2-.9h0m.4 1.4h0m.4-.5h0m0 .2h0m.1 1.4h0m2.5 .3h0m1.2-2.9h0m.5 1.8h0m1.5-1.7h0m.3 .4h0m2-.6h0m-32 4h0m.7 1.6h0m1.1 0h0m1.7 .4h0m2.4-.7h0m4.4-1.6h0m4.6 2.3h0m1.3-.9h0m0-.7h0m.1-1.3h0m1.1 .8h0m1-.2h0m.9-.5h0m.2 2.3h0m.7-2.2h0m1.2 1.9h0m.1-.2h0m0 1h0m.4-2.5h0m.8 .5h0m.7-.4h0m.5 2.2h0m.5-1.1h0m0-1.3h0m.3 .1h0m.8 2.4h0m.6-2.9h0m.5 2.7h0m0-1.8h0m1.2 .3h0m1.4 1.1h0m-29.4 2.1h0m2.6 .3h0m.8-1.6h0m.2 1.7h0m.5-.3h0m.5 1.1h0m4.4-1.8h0m4.5 .3h0m.2 1h0m1.3 .1h0m.6 .7h0m.2-2.2h0m.7-.5h0m.7 1.5h0m.3-.4h0m.7 .8h0m1.2 .8h0m1.1-1.6h0m.4 1.7h0m.1-2.9h0m1.5 2.1h0m.5-.1h0m.3-1.1h0m1.8-.5h0m.3-.3h0m.1 1h0m1.5-.9h0m1.9 2.3h0m-28.8 1.7h0m1.2 .1h0m.2-1.2h0m.4 1.7h0m.2 .3h0m.2 0h0m1.4-.5h0m.2 .3h0m3 .2h0m1.7-1.2h0m.3-.8h0m2.3 .8h0m.7-.6h0m.5 2h0m1.9-1.9h0m.8 2.4h0m.2-.1h0m.6-.4h0m.5-2.1h0m.1 1.6h0m.5-.8h0m.7 .9h0m1-.4h0m.1-1.2h0m.3 1.8h0m.1 .3h0m0-2.3h0m.2 1.1h0m.6-1.2h0m1.1 .8h0m1.2 1.8h0m1.3-.7h0m2.7-.3h0m.9-.1h0m-21.8 4.1h0m1.4-1.7h0m1.7 1.9h0m.6-.2h0m1.9-1.1h0m.4-.9h0m1 1.1h0m.3-.9h0m.2 .5h0m.1 0h0m.5-.9h0m.2 2.2h0m.4-1.3h0m1.2-.7h0m0 .3h0m.4 0h0m.2 1.6h0m.3-1.2h0m.4 1.2h0m0-.8h0m1.4 .6h0m.2-1.2h0m.2-1.2h0m.1 2.8h0m.1-2.2h0m.3 2.3h0m0-.3h0m.6-1.7h0m.1-.6h0m.7 1.9h0m.4-.6h0m.3-1.4h0m1 2.1h0m.2-2.2h0m1.2 2.5h0m1.7-2.1h0m-21.3 3.5h0m0 .3h0m.2 .7h0m1.1-.5h0m.6-1.1h0m.1 2.3h0m.4-1h0m0-1.4h0m.1 0h0m.2 1.8h0m0 .3h0m.6-.7h0m.2-.3h0m.3 1.5h0m2-2.6h0m.5 2.1h0m2.7 0h0m0 .4h0m1.4-.5h0m.2 .4h0m.4-2.1h0m.2 2.3h0m.2-1h0m.2-1.5h0m.3 2.3h0m0-.7h0m.3-.8h0m.3 .7h0m.5-1h0m.2 1.9h0m.4-1h0m.4-1.5h0m.1 1.9h0m.1 .1h0m.5-.8h0m.3 .6h0m.2 0h0m.3-.4h0m.2 .1h0m.1-.8h0m.7 .6h0m.8-.1h0m.5-.6h0m.2-.7h0m.8 .1h0m.1 2.1h0m.3 .2h0m.9-1.6h0m.3-.6h0m.1 2h0m2.9-.4h0m-23.6 1.9h0m.8 1h0m0-1.2h0m1.2 1.1h0m0-.9h0m.1 .1h0m.1 .3h0m.7 .7h0m0 .2h0m.2-1h0m1.2-.5h0m.2-.3h0m.6 .6h0m.1 1.5h0m.1-1.1h0m.8 .2h0m1.2 0h0m.3-1.2h0m.5 .4h0m.1 1.2h0m.4 .5h0m1-1.2h0m.5-.5h0m1 .8h0m.3 1.1h0m.1-2.6h0m.9 1.1h0m1.3-.1h0m.5 .5h0m.7 .2h0m.3-.3h0m.2-.6h0m.6 1.8h0m.9-.6h0m1.4 .3h0m.3-.6h0m.8-1.1h0m2.9-.6h0m-20.9 3.4h0m.2 0h0m.1 .6h0m.9 1.4h0m1.5-1.5h0m0-.7h0m0 .3h0m.3 1.3h0m.1 .9h0m.7-1.6h0m.2 0h0m2-.9h0m.4 .5h0m.1-.4h0m.2 .4h0m.1 .7h0m1.6 .4h0m.6 .6h0m1.7-.4h0m.1-.8h0m1.8 1.4h0m.8-1.9h0m.7-.8h0m.1 .5h0m.2 1.8h0m0-1.7h0m1.6 0h0m.4 1.7h0m.6-1.3h0m.1 .7h0m.2-1.3h0m-14.9 3.3h0m.3 .9h0m1.5-.9h0m.3 1.4h0m.8 .1h0m0-.8h0m.2-1.3h0m.3 1.7h0m.4-1.1h0m.6-.3h0m0 .6h0m0-.1h0m.3-.4h0m0 .4h0m1.5 .9h0m.1 1h0m0-.6h0m.4-2h0m1.2 0h0m.7 1h0m.5-.5h0m.2 .7h0m.6 .5h0m.1-.1h0m2.1-.4h0m1.3-.9h0m-8.9 2.6h0m.3 .2h0" fill="none" stroke="#f5cc6c" stroke-width="1.30" stroke-linecap="square" stroke-opacity="1.00"/>
<path d="M1325.9 877h0m1.6-.6h0m6.8 1h0m1.3 .1h0m1.7-.3h0m.2 .1h0m-15.8 2.2h0m.2 .4h0m.7-1.1h0m.3 .9h0m.4-.6h0m1.6 .8h0m.3-1.5h0m1 1.5h0m.9-.2h0m.6-.6h0m2.8-1h0m.5 2.3h0m.2 .1h0m1.4-1.8h0m1.6 .6h0m.4-1.2h0m2 1.5h0m.9 .6h0m.7-2.3h0m.1 .8h0m.4 .7h0m2.4-1.3h0m.7 1.4h0m3-.1h0m-27.6 1.7h0m1.4 2.3h0m1.2-.4h0m4.7 .1h0m1.9-1.1h0m.5-1.2h0m1.3 2h0m.9-2h0m.1 1h0m.2 1.2h0m1.5-2.2h0m.5 2.3h0m.8-1.8h0m.9-.6h0m2.2 1.2h0m1.3-.7h0m2.4 2h0m.6-1.7h0m.3-.2h0m0 .7h0m3.4 .1h0m.2-.1h0m1.2 1.2h0m.8 0h0m.2-2.7h0m-33.9 5h0m.1-.5h0m1.2-.5h0m1.1 .5h0m.3-1.3h0m0 .8h0m.5 1.6h0m.5-1.7h0m1.5 1.9h0m1.1-.3h0m.5-.4h0m.3-.3h0m1.2 .8h0m2.1 .1h0m.6-.7h0m4.6 .4h0m.9-1.7h0m1 1.1h0m.9-1.1h0m1.1 1.9h0m.3-1h0m1.1 1.1h0m1.5 .2h0m.4-1.6h0m3.2-.5h0m.6 1.3h0m.9-1h0m.4 1.5h0m1.7-.6h0m5.3 .9h0m.8-2h0m.1 .5h0m.7-1h0m3.1 .7h0m.3 0h0m.4-.5h0m-44.1 4.4h0m2 .7h0m1.4 .1h0m2.1-2.8h0m1.8 .2h0m5 1.6h0m1.5-.2h0m1.3-.5h0m1 1.4h0m3.2 .3h0m.1-.8h0m.4-.1h0m.2-1.6h0m.7 1.9h0m4.3-1.6h0m1.3 .2h0m1 1.1h0m2.1 .8h0m.4-1.3h0m5.6-1.2h0m2.9 .5h0m1.2 .3h0m4.7 .4h0m1.3-1h0m1.3 2.4h0m.6 0h0m.2-2.4h0m.4 1.1h0m-50.1 3.9h0m.5-1.6h0m0-.5h0m2.9 2.4h0m1.1-2.3h0m2.1 .6h0m4.2 .5h0m2 .9h0m.6-.6h0m1.3-1.8h0m.9 1.1h0m1.7 1.1h0m.2-1.2h0m.2 1.6h0m1-1.8h0m2 1h0m3.9 .1h0m.5-.2h0m.4 .3h0m.9-.6h0m.7 .2h0m.2-.3h0m.4 1.1h0m3.4-2.2h0m.2 2.2h0m2.5-.7h0m.2-.7h0m2.5 .8h0m.9 .3h0m.9 0h0m2.3 .6h0m1.6-.8h0m.3 .3h0m.6-1.4h0m.1-.6h0m.6 1h0m1 1.8h0m0-1.5h0m1.4 1.2h0m2.7-2.3h0m1.2-.3h0m.1 1.7h0m3.1 .6h0m-55.3 .8h0m.8 2.5h0m4-1.4h0m1.3-.1h0m2.6-.1h0m.1-.8h0m3.2 1.2h0m.1-.5h0m.1 1.2h0m6.7-1.4h0m6 .6h0m1.7 .5h0m.8 .1h0m2.8-.3h0m.5-.1h0m.2 .7h0m4.1-1.7h0m.9 .2h0m.9-.3h0m1.7 1.3h0m.5 .8h0m.8 .2h0m.1 .1h0m5.8-1.8h0m1.7-.4h0m8 .8h0m.2-.9h0m-61.9 4.7h0m9.8 .2h0m5.5-1.1h0m1.6 .5h0m.2 .8h0m.3-1.4h0m1.9 1.5h0m1.6-2.5h0m2.6 1.5h0m2.5-1.5h0m.4 .9h0m.3-.4h0m.9 1h0m.3-.9h0m.2-.4h0m.8 0h0m.3 1.5h0m1.8 .9h0m1.9-1.4h0m.3 1h0m0-1h0m.6 1.4h0m1.8-1.5h0m4.3-.5h0m1 1.9h0m.3 .2h0m.3-.5h0m.2-1.1h0m1.8 1h0m1-1.7h0m1.3 1h0m1.2-1.1h0m.6 .6h0m1.9 1.3h0m.4-.2h0m.8-.1h0m.9-1.1h0m.1-.8h0m.3 2.3h0m2.2-1.7h0m1.8-.9h0m1.2 1.8h0m4.6-1.2h0m-64.6 3.9h0m.3 1.4h0m1.6-.1h0m1-.6h0m2.8 .8h0m1-.1h0m1.1-1.7h0m1.6 1.1h0m4.9-.3h0m4.5-.6h0m.6 .9h0m2.3-1.1h0m.3-.1h0m.8 1.9h0m3.2-.4h0m1.4-.4h0m.8-1.6h0m.2 2h0m.2-1.7h0m.4-.5h0m2.6 2.4h0m1-1.4h0m.9 1.5h0m2.8-1.2h0m3.8-1.2h0m3.4-.3h0m2.6 2.2h0m.7-2.2h0m.3 .9h0m1 1.8h0m.3-1.5h0m.8-.7h0m2.7-.4h0m.1 1.2h0m.5 0h0m.9-.5h0m1.5-.8h0m.1 0h0m5.9 2.4h0m0-1.8h0m.8 .6h0m.3 .7h0m.8-1.5h0m.2 1.3h0m1-.2h0m1.7 .7h0m.1-.1h0m1.4 .4h0m-67.6 3.2h0m1.1-1.2h0m2.7-1.5h0m1.4 1h0m5.6 .3h0m2.8-.9h0m1 1.7h0m.1-1.6h0m1.1-.6h0m2.4 1h0m.6-1h0m0 2.1h0m1-.4h0m6.3-.1h0m1.3 .1h0m1.5-.2h0m.5 .7h0m.7-.4h0m.6-1.8h0m.7 1.9h0m1.5-.9h0m.5-1.1h0m2.8 1.7h0m4.1 .7h0m.7-1.5h0m.2-.4h0m.1-.3h0m.5 1.5h0m.6 1h0m.4-.2h0m.5-.6h0m.2-.2h0m.7-1.4h0m1.8 1.4h0m2.6-.4h0m.1 .7h0m4.5 .1h0m3.8 0h0m3.6-1.3h0m.1 1.8h0m1.2-.3h0m-65.4 3.5h0m.1-2.7h0m.5 .9h0m.6 1.3h0m7 .5h0m2.6-1.9h0m.3 1.2h0m.1 .5h0m1.5-1.5h0m.1 .6h0m5-.1h0m0-1.6h0m.3 2.3h0m1.1-1.4h0m1.4 1h0m1.2-1h0m.9 1.6h0m2-2.3h0m.1 .4h0m4.5 2.2h0m1.4-.5h0m2.3-2.1h0m2.4 2.6h0m.2-.7h0m1.4-.7h0m1.1 1.3h0m1.5-1.2h0m1-1.2h0m.2 .4h0m1.5 .1h0m.1 2.1h0m1.5-.2h0m.6-2.4h0m1.7 1h0m.4-.9h0m1.1 1.9h0m.6 .7h0m4.2-2.7h0m1.8 .2h0m7.5 .2h0m1.3 .1h0m1.8-.5h0m.5 1.4h0m2.9 1.1h0m-70.2 .6h0m.3 0h0m2.5 1h0m1.9-1.2h0m.2 .1h0m.4 .3h0m2.3 2h0m.4-1.7h0m.5 1.5h0m1-2.3h0m2.1-.1h0m2.7 0h0m8.2 1.7h0m.1 .5h0m1.3-1.1h0m3.2 .9h0m1.9 .6h0m4.7-2.5h0m2 2h0m.9 .9h0m4-2h0m2.7 .2h0m1.4 .3h0m1.8-.2h0m4.5 .4h0m1.8 .1h0m.1-1.7h0m1 2.6h0m1.9-.4h0m6.2-.3h0m2.2 1h0m.1-2.1h0m1.7 2.1h0m.4-.6h0m2.4 .2h0m0-.8h0m.5 .1h0m2.3-1.5h0m1.3 1.4h0m.8-.5h0m-76.7 3.2h0m3.9 .7h0m.5-.7h0m3-.6h0m6.8 2h0m1.1-2.5h0m3.3 1h0m2.6 0h0m.9-.1h0m.4 1.4h0m.2-.4h0m6.1-1.1h0m.2 .8h0m2.7 .3h0m1.2-.7h0m.3 1.3h0m.6-.1h0m2-1.8h0m1 1h0m.4-.2h0m.5 .3h0m1.9-1.1h0m4.1 1.3h0m2.6-.3h0m7.5-1.5h0m.4 .5h0m.1-.5h0m.9 1.7h0m.5-1.9h0m.2 .2h0m3.6 .4h0m1.7-.6h0m.6 1.4h0m.8-.3h0m1 .8h0m1.3-.8h0m2.5 .5h0m1.5 0h0m.4 .8h0m.3-1.6h0m3.6 1h0m.7-.5h0m1.5-.6h0m1.2 .5h0m-77 4.1h0m2.8-1.6h0m1.4-.8h0m.5 .1h0m4.2 .2h0m2.9 1.7h0m1.1 .2h0m.4-1.5h0m.1-.9h0m.3 2.8h0m.2-1.3h0m2 1.3h0m2.1-1.3h0m.1-.6h0m5.8-.7h0m2.1 2.2h0m1-.6h0m.2-.4h0m.5 1.3h0m.6-.1h0m1.8-2.3h0m3.3 2.4h0m1.6-.3h0m1.4-2h0m1.9 1.7h0m2.9 .4h0m.5 .3h0m7.5-1h0m.7 0h0m5 .3h0m.9-.4h0m.5 .7h0m2.1-2h0m3.6 2h0m1.5-1.6h0m.5-.1h0m1.7 1h0m2.3-1.4h0m.5-.2h0m.9 .9h0m.3 1.3h0m.5-.9h0m.5-.9h0m2.3 .6h0m.5-.6h0m1.5 1.1h0m.1 0h0m.2 .6h0m.6-1.9h0m-76.2 5.3h0m.5-2.5h0m4.2 2.3h0m.1-1h0m1.1 .6h0m.2-.7h0m.4 .5h0m.4 .3h0m1-.8h0m0 1.2h0m.4-.5h0m.1 .1h0m1.2 .3h0m.4 .1h0m.2-1.4h0m1.5 1.4h0m4.5-.5h0m.5-1.4h0m2.8 2.2h0m.2-.2h0m2.1-.6h0m.1-.2h0m2.1-1.4h0m.1 1.3h0m3.8-1.1h0m.2 1.6h0m.3-.2h0m1.5-.9h0m2.1-.4h0m1.5 .1h0m.8 .5h0m.2-1.3h0m1.5 1h0m1.3-.1h0m1.8 1.3h0m.2-1.2h0m.7 2h0m.1-2.7h0m.5 1.3h0m.1 .9h0m5-2.1h0m2.4 1h0m2.4-1h0m1 .5h0m.5-.5h0m0 1.4h0m1.1 .4h0m1.7-.6h0m3.9 .1h0m2.5-.6h0m.7-.9h0m.6 1.9h0m.5-1.4h0m.3 1.3h0m1.1-1.4h0m.8 .4h0m.4 1.8h0m.6-.6h0m4.7-.7h0m.3-1.4h0m.8 .5h0m.7 2h0m.6-.1h0m-75.4 2.3h0m2.1 1.1h0m.6-.4h0m0-1.4h0m.7 .8h0m.4 .7h0m2.1-.8h0m0-1.5h0m3.3 .4h0m.2 2.1h0m4.1-2h0m1.3-.2h0m7.5 1h0m.4 1h0m2.9-2.3h0m1.3 2.1h0m.2-.2h0m5.3-1.6h0m1.1 2.3h0m1-1.2h0m2.9-1.1h0m1.8-.3h0m1.3 .6h0m1.8 1.1h0m.4-.9h0m.2-1h0m1.6 .9h0m4.5-.5h0m5.1-.1h0m.8 1.3h0m5-.3h0m.5 .1h0m1.5-.2h0m.8-1h0m.1 1.7h0m.8 1h0m.4-2h0m.7 .7h0m1.6 0h0m0-.8h0m.7-.2h0m1.1 .4h0m.6 1.6h0m2.3-.9h0m2.2-.9h0m.8-.1h0m.3 .9h0m1.7-.4h0m.8 .2h0m0-.4h0m-76.6 2.1h0m.2 2.1h0m.3-1.8h0m1 1.9h0m2.3-.7h0m.1-.5h0m.2 .9h0m.3 .6h0m.9-.5h0m1.3 .7h0m.6-2.4h0m.6 1.1h0m0 .3h0m1.7 .1h0m2.3-.8h0m.1-.9h0m1.1 .9h0m.4 1.6h0m0-.1h0m.5-.5h0m1.1 .3h0m.6-.2h0m2.5-.2h0m5.2 .2h0m1.2-1.2h0m2.4-.3h0m6.4-.8h0m1.6 2h0m1.4-1.9h0m.7 2h0m.2-.6h0m6.5 .6h0m6.4-.6h0m4.8 1.2h0m5.8-1.1h0m.1-.7h0m.5-.1h0m1.7 1.5h0m.5-2.2h0m.1 .3h0m1.1 .7h0m.1 .2h0m1.8 1.5h0m.3-2.6h0m.7 .5h0m1.7 1.1h0m.2-.2h0m.6-1.5h0m.1 2.6h0m1.7-2h0m.5 1.8h0m1 .3h0m.1-.8h0m1.4 .2h0m.2 .3h0m1.1-2h0m-77.5 5.2h0m1.3 0h0m.1-2.6h0m1.3 1.6h0m7.4-1.6h0m.2 .6h0m5.6 1.5h0m1.5 .1h0m.4-1.2h0m.5 1.1h0m1.1-.7h0m.8 .1h0m4.3 .5h0m2.2-.2h0m4.8-1.7h0m1 .6h0m1.1 .9h0m.5 1.3h0m5.9-1.6h0m2.3 1.5h0m2.8-1.5h0m4.3-.1h0m3.5 .6h0m.2-1.7h0m2.9 0h0m1.3 2.5h0m1.7-2.7h0m1 1.5h0m3 .7h0m.1-1.1h0m1.1 0h0m3.2-.6h0m2.3 .3h0m.9 1.2h0m.7-1.5h0m.6 1.1h0m.2 .9h0m1.5-1.5h0m1.1 1h0m0-.8h0m-71.1 3.4h0m0 1.4h0m3.3-2.6h0m2.3-.1h0m1 2.4h0m.3-.1h0m2.8-.7h0m.6-.3h0m.9-1.2h0m1.2 2h0m.4-1.6h0m.9 0h0m.2-.5h0m7.5 1.4h0m1.3-1.3h0m1.9-.1h0m.4 1.4h0m.5-.7h0m1.5-.4h0m4.2 1.5h0m1.7 .7h0m3.7-1.9h0m.3 1.7h0m1.9-1.9h0m.3 1.7h0m.3-1.6h0m2.3 1.2h0m0 .2h0m.9-.6h0m1-.4h0m3.4 .8h0m2.1 .4h0m.4-.5h0m.3-1.5h0m.4 1.3h0m3 1h0m.8-.1h0m.1-1.5h0m3.2-.3h0m.7-.2h0m2.7-.1h0m1.8 2.3h0m4.2-.2h0m.8-1.5h0m-68.3 4.5h0m.4-2.2h0m.2 0h0m1.7 2.5h0m4.2-.1h0m.2 .1h0m.2-.7h0m4.5-2.1h0m.9 1.5h0m4.2-.9h0m.3 2.1h0m5-.3h0m3-2.3h0m.5 .3h0m.6 .8h0m.9 1.3h0m1.8-.9h0m.4-1.7h0m5.8 2.3h0m3.3-2.1h0m1.7 2.8h0m2.7-2.1h0m.7-.4h0m.6 1.3h0m.7 1h0m2.9-2.5h0m1.4 1.9h0m1.4-1.3h0m2.9 .9h0m2.9 .3h0m.8 .1h0m.8 .7h0m1.8-1.7h0m8.9 1.5h0m1.5-1.9h0m-70 4.7h0m.2-2.4h0m1.6 1.7h0m2.7 .1h0m.6-.6h0m2.1 1h0m1.9 .3h0m.5 .2h0m.7-.1h0m.4-1.9h0m1.9 1.7h0m.2-.3h0m2.8-1.5h0m1.2 1.5h0m.2 .8h0m2.3-1.5h0m14.1 .8h0m.7-2.1h0m.9 1.1h0m2.6 .3h0m.2-.2h0m1.3-.9h0m1.2 .5h0m1.6 .7h0m.4-.5h0m.1 0h0m.6-.4h0m.2 1.7h0m1.1-.3h0m.4-.8h0m5.4-.6h0m2.2 1.9h0m1.2-2.4h0m1.5 1.1h0m6.8-1.1h0m.8-.2h0m.3 1.7h0m.2-.3h0m1.6-.8h0m1 2.1h0m1.5-1.2h0m1.2 0h0m1.4-.7h0m1.8 .6h0m3.1-1.5h0m.5 1.3h0m.4-.7h0m1.5 1.9h0m.1 .5h0m-76.4 .9h0m3.6 1.8h0m2.3-.6h0m2.3 .1h0m1.1-1.2h0m3.8-.6h0m0 .6h0m.6-.7h0m.7 2.3h0m1.9-.7h0m.6-1.8h0m.7 1h0m.3 1h0m.6-.6h0m.4 .3h0m9.8-1.7h0m1.1 .5h0m.2 .6h0m2.1-.3h0m1.7 .5h0m1-1.2h0m.9 .1h0m.6 2.1h0m1-1.9h0m1.3-.4h0m.5 1.1h0m.7-.6h0m1.3-.5h0m6.5 .3h0m1.7 1.2h0m.3-1.3h0m0-.1h0m.8 1.5h0m4.5-.4h0m.6 .5h0m2.5 1.2h0m.2-1.2h0m.1-.1h0m.7-1.4h0m1.6 2.7h0m.8-2.1h0m3.5 1.1h0m2.3-.9h0m3.5 1.9h0m2.4-2.6h0m1.4 2.4h0m3.7 .1h0m.8-2.6h0m3.1 1.6h0m2 .4h0m1.7-.4h0m.8 1.1h0m.2-.1h0m-90 .6h0m.9 .5h0m6.5 1.5h0m4.5-1.8h0m3.4 .2h0m1.8 1.4h0m.1 .1h0m.8 .2h0m1 .3h0m3.8-2.6h0m5.2-.2h0m3.5 .8h0m4 1.1h0m2.8-1.4h0m.4-.1h0m1.6 .2h0m1.6 .4h0m.2 .5h0m.1 .2h0m.5 .2h0m0-1.8h0m0 .3h0m.8 .6h0m.6 .1h0m5.7 1.5h0m.3-1.7h0m.6 .7h0m.7 .6h0m1-1.3h0m7.3 .9h0m1.9 .8h0m1-1.5h0m1.9 1.3h0m.1 .1h0m.7-1.3h0m.1 .1h0m.3 .9h0m1.6-1.3h0m.5 0h0m.1 .1h0m.3 1h0m3.3 .4h0m1.5-1.1h0m1-1.3h0m.6 .4h0m3.6 1.5h0m2.7-1.1h0m1.8 1.7h0m5.5-1.9h0m.8 .2h0m-87 3.8h0m.5-.5h0m.4 1h0m3.4-2.1h0m6.3 1.2h0m3.4 1.5h0m1.7-2.2h0m.2 .7h0m1.2-1h0m.8 1.3h0m.8-1.1h0m.7 .4h0m1.8 1.5h0m5.9-1.9h0m5.3-.3h0m.2 1.6h0m1.1-.4h0m.2 .1h0m.1-.4h0m.4-.7h0m0 1.4h0m5.4-1.7h0m1.7 1.3h0m4.8-1.4h0m2.5 .4h0m3 2.4h0m5.5-.7h0m2.4-1.8h0m.2 .6h0m2.6-.3h0m7.4 1.7h0m.6-1.8h0m2.5 1.9h0m3.2-.2h0m.6 0h0m2.8-1.5h0m7.7 1.1h0m1.1-.7h0m.7 1h0m2.2-1.4h0m-85 4.9h0m.8-.9h0m.2-1.4h0m.3 2.4h0m1.8-2.7h0m1.8 .9h0m1 .5h0m1.2-.1h0m2.3-1.3h0m.6 1.4h0m2.4-.8h0m1.7 1.3h0m1.2-.8h0m6.7-.9h0m2.6 .9h0m.2 1h0m.1-1.2h0m.1 2h0m1.4-2.6h0m2.9 0h0m7.4 1.9h0m.3-.3h0m1.3-1h0m3.8-.1h0m.5-.8h0m.2 2.2h0m2.3 .2h0m2.3-.1h0m.3 .3h0m5.2-.4h0m1.1-2.2h0m10.6 1.7h0m.5 1.2h0m3.1-1.8h0m1-.1h0m.6-.8h0m.9 1.1h0m.1 0h0m5.2 .6h0m1.3-1.3h0m.7 2.1h0m.5-.2h0m.7 .1h0m5.6 .1h0m1.8-2.1h0m-88 2.5h0m6.2 .1h0m.4 2.8h0m.6-1.5h0m.3-1.5h0m.2 2.2h0m1.3-1.3h0m1.2 1.2h0m.3-.2h0m1.1 .1h0m2.5 1h0m1.7-2.7h0m3 1.5h0m1.4-1.2h0m1.2 1.4h0m5.7-.6h0m1.4 .3h0m9.4 0h0m4.9-.3h0m6.2 .6h0m5 .5h0m3.7 0h0m2.2-1.9h0m5.6 .7h0m2.1 .3h0m.2 .2h0m0 1h0m1.4-1.7h0m.1-.3h0m5.2-.2h0m3.6 1.5h0m2.1-1.9h0m.3 2.2h0m.5 .2h0m4.3-1.1h0m-76.8 2.1h0m1.7 1.6h0m.1-.2h0m.4-.6h0m1.2-.1h0m3.3 1.5h0m.6-1h0m.2 .6h0m.9 .6h0m.9-2.8h0m.4 1h0m.3-.1h0m.8-.3h0m.1 .6h0m.7-.3h0m.5 1.3h0m1.1-1.5h0m2.6-.4h0m1 1.2h0m1 .5h0m1.1-.7h0m1.8 1.2h0m.3-1.6h0m0-.3h0m.2 1.4h0m.1 0h0m.1 .7h0m0-.5h0m.8-1.7h0m1.5 1h0m.8-1.4h0m1.3 1.1h0m1.3 .9h0m1.1-1.6h0m.1 .7h0m3.1-.1h0m1 1.6h0m.5-.9h0m1.6 .8h0m.6-.8h0m.9 .2h0m.7-2h0m1.6 2.2h0m.6-.2h0m3.4-1.8h0m1.8-.4h0m.8 2.5h0m2.6-1h0m3.9 .5h0m0-.8h0m.1-.6h0m9.2 2h0m3.8-1.6h0m.3-.6h0m.1 2.6h0m.9-1.4h0m2.3 1.1h0m.1-.6h0m.4 .4h0m.5-.1h0m1.1 .5h0m2-.3h0m4.1-1.5h0m1 1.5h0m-73.3 .9h0m.5 1.6h0m6.8-1.3h0m1.2 1.1h0m.2-1.3h0m2.9 .2h0m.1 .5h0m2.2 1.4h0m.2-1.8h0m3.2 1.3h0m.1-.3h0m.7 .9h0m1-.6h0m.6-.2h0m.3-.1h0m1.1-1.6h0m5.1 .4h0m.5 .7h0m.5 1.1h0m.3 .4h0m.1-2.2h0m1.4 .5h0m.1 0h0m2.4 .6h0m1.9 0h0m0 1h0m2.4-1.6h0m2.4 1.4h0m.2-.2h0m.3 .1h0m3.2-1.3h0m.4-.6h0m.8 2.3h0m.7-2.1h0m0 0h0m.3 1.2h0m.3-.9h0m1.8 .2h0m.1-.6h0m2.4 .9h0m.2-.6h0m.2-.6h0m.9 .2h0m1.7 .3h0m1.1 1.1h0m0 .4h0m.2-.8h0m2.5-.8h0m2.3 1.6h0m.7-2.1h0m.8 2.4h0m.2-.3h0m7.1 .3h0m3-2h0m.4 2.3h0m5.1-.4h0m4.1-1.6h0m-77.2 3.5h0m.4 1.1h0m2-.6h0m1.5-.5h0m0 .7h0m1-.4h0m.7-1h0m.4 .6h0m1.2 1.6h0m2.3-1.7h0m3 1.2h0m1.2-1.3h0m2.7 1.1h0m2.5 .2h0m.3 .1h0m.2-.8h0m3.8-.8h0m.7 .3h0m.4-.1h0m4 0h0m3.1 1.7h0m3.5-.9h0m1.7-.1h0m.2-.5h0m.6 .2h0m2.2 .7h0m0-.7h0m1.6-.8h0m.6-.3h0m1.3 2.1h0m.1-2h0m.8 1.6h0m1.3-1.9h0m.2 1.7h0m4.2-1.8h0m4 .4h0m.2 .1h0m.2 2.2h0m.5-.9h0m.6-.6h0m3.4 1.1h0m2.8 .1h0m1.2-2.5h0m.3 1.3h0m.9-.9h0m.6 .5h0m.1 1.6h0m2.6-1.2h0m1.8 1h0m3-.2h0m.5-1.5h0m.2 1.2h0m.1-1.2h0m.1 1.5h0m-71.1 2.2h0m4.1-.2h0m1.3 .6h0m.1-1.5h0m1.2 1h0m2.8 1.5h0m.4-2.4h0m0 1.9h0m.8-.4h0m4.8-.1h0m2.4 1h0m1.6-1h0m.2 .2h0m3.6-.1h0m.3-1.9h0m1.3 1.6h0m.7 .9h0m0-1.4h0m.7-.9h0m.2 0h0m.1-.1h0m.5 .4h0m1.7 2.1h0m.8-.3h0m.9-1.9h0m1.3-.2h0m1.2 .3h0m.2 1.2h0m2.1-.1h0m2.2-.1h0m.8-.3h0m3 .1h0m1.4 .5h0m.1-1.5h0m2 1.5h0m1.1-.1h0m1.1 .8h0m3.6 0h0m7.5-1.1h0m1.7 .1h0m.8 1.4h0m2.4-2.3h0m2.7 1.1h0m1.3 .4h0m2.7 .9h0m0-1.1h0m1.3-1.7h0m2.5 .5h0m-67.6 2.6h0m4.7-.2h0m1-.1h0m3.6 .4h0m1.4 .4h0m.1 .4h0m.7-.3h0m.3-.5h0m1 .3h0m2.8 .5h0m0 0h0m1.3 1.3h0m2.5-.1h0m4.2-1h0m9.7 .7h0m3.6-.1h0m4.4-1.2h0m0 1.4h0m2.7-2.2h0m.2 .5h0m.3 2h0m1.3-1.7h0m3.3 .5h0m.5 1.4h0m.1-1.7h0m1.3 .1h0m1.1 .5h0m1.5-.9h0m8.7 1.4h0m0 .5h0m.6-1.5h0m.3-.9h0m.3 1h0m.2 0h0m0 1.4h0m.4-1.8h0m1.9 1.8h0m1.6-1.3h0m.5 0h0m1.6-.2h0m-68.9 3.1h0m2.9-.6h0m1.2 1.5h0m.7-1.5h0m.7 .2h0m.3-.1h0m5 2.1h0m4.2-1.2h0m4.9-1.5h0m.1 .2h0m.4-.1h0m13.3 2.5h0m4.1-2.1h0m.4 1.7h0m.8 0h0m1-1.5h0m.1-.5h0m1 1.6h0m.3-1.1h0m.2 1.5h0m.2-2h0m.1 2.7h0m.5-2.5h0m.1 1h0m1.7 1.4h0m1.9-1h0m.2 .7h0m.7 .2h0m.5-1h0m.1 0h0m.7-.9h0m.8 1.3h0m1.2-1.8h0m2.5 .8h0m.8 1.4h0m.8 .1h0m.8-.6h0m1.5-.9h0m1.5 1.5h0m.4-1.4h0m.9 .5h0m.1 .4h0m.6-.4h0m1.2 0h0m5 .1h0m.7-1.7h0m-67.8 3.7h0m1.1 .9h0m.1-1.3h0m1.4 2h0m.5-.6h0m.8 .2h0m2.2-1.6h0m1.2 1.1h0m3.4-.7h0m0 .1h0m1.1 1.9h0m.2-.9h0m4-.4h0m1.1 .2h0m.5-1.3h0m4.6 2.1h0m5-1.3h0m4.6 .9h0m.2-1.3h0m.1 1.1h0m.6-1.5h0m1.2-.2h0m.7 .7h0m1.8 .7h0m.6 .8h0m2.5-.5h0m.1-1.2h0m1 2.1h0m1.9-1.8h0m1-.6h0m4-.4h0m2.3 2.7h0m2.7-1h0m1.4-.3h0m.4-.3h0m.4 1.2h0m6.8 0h0m3-.2h0m2.1-1.5h0m.3 1.1h0m.9 .2h0m.7-.4h0m-65.2 2.3h0m.1-.8h0m1.8 .2h0m.8 .3h0m.3 1.6h0m2-.2h0m1.4-1.5h0m.5-.3h0m.6 1.9h0m2.6 .1h0m.1 0h0m1.7-.6h0m.1-.2h0m.4-1.2h0m.1 1.1h0m4.1-.8h0m2.5 .8h0m.3 .8h0m.7-.2h0m1.6 .1h0m.3-.1h0m1.4 .2h0m1.2-1.2h0m1.3-.7h0m.9 2h0m.6-.5h0m.7-.9h0m1.9 1.7h0m3.7-1.1h0m1.7 1.2h0m3.9-2h0m.6 1.8h0m.1 0h0m4.8 .5h0m1.3-.8h0m2.3-.5h0m0-.2h0m.2 1.1h0m.1-.1h0m2.8-1.3h0m1.3 1.7h0m5-1h0m1.7 .1h0m.4 .6h0m1.1-1.5h0m1.8 .9h0m-63.5 3.7h0m5-2.5h0m.9 1.9h0m1.1-1.3h0m2.7 1.9h0m.4-.1h0m.3-.9h0m1.7 .9h0m.1-.3h0m.4-.4h0m.4 .2h0m.4-.6h0m1.2-.2h0m2.7 .5h0m2.5 .6h0m2.6-.1h0m3.5-.4h0m2.8-1.3h0m.9 .1h0m.3-.3h0m3.4 1.3h0m.5-.1h0m1 .7h0m5.1-1.9h0m1.3 1.2h0m.8-1.4h0m1.4 2.5h0m.2-.4h0m3.1-.7h0m1.1 1.1h0m.2-1.2h0m.3-.4h0m.7 2h0m0-2.9h0m1.7 1.5h0m2.5-.3h0m.2 1.1h0m5.6-.9h0m-60.1 2.9h0m2.8 .3h0m3.1-1.5h0m7.1 .3h0m0 0h0m.3 1.9h0m8-1.4h0m13.1 1.5h0m.7-1.4h0m5.2 .8h0m1.1-.3h0m.6 1h0m.3-1.7h0m3.3 1.3h0m.4-.7h0m.3-.9h0m.2 .5h0m.4-.7h0m.3 .7h0m.7-.4h0m.6 2.1h0m.1 .1h0m2 0h0m4.4-1.2h0m.1-1.7h0m.7 1.4h0m2.4 .8h0m.1 .5h0m4.4-1h0m.9-1.1h0m-53.8 4.8h0m2.4-2.3h0m2.4 .1h0m9.1 1h0m.1 .2h0m.3 1.1h0m7.4-2h0m2.3 2.5h0m.8-2.2h0m.3 1.3h0m0-.6h0m.3 1.2h0m1.9-.3h0m1.3-2.3h0m2.1 2.2h0m.6-1.3h0m3.9-.8h0m1.3 2h0m2.1-2h0m.1 .8h0m.1-1h0m.1 2.9h0m.4-1.2h0m.9 .5h0m.1-.5h0m4.8-.4h0m.5 .3h0m.7-.4h0m2.4 1.6h0m0 .1h0m1.7-.9h0m1.7-.1h0m-60.7 1.9h0m.8-.6h0m2.2 .2h0m1.1 2h0m2.6-2.4h0m1 1.1h0m2.7 .3h0m9.3-.6h0m3.6 1.7h0m.6-1.5h0m.6 .2h0m.1 .2h0m2.8 .8h0m.4-1.4h0m.9 1.3h0m6.7-.9h0m1.6 .9h0m.2-1.8h0m1.6 1h0m.1 .3h0m.6-1h0m.2 2h0m.5-2.4h0m.3 1.1h0m2.5 0h0m.9 1.5h0m1.6-.6h0m1.7-1.4h0m.3 1.5h0m1.8-2h0m.5 .1h0m1.1 1.9h0m.6-.6h0m0 1.2h0m.8 0h0m.3-1.6h0m1.4 .2h0m0 .4h0m3.4-.9h0m.3 .1h0m.2-.1h0m-56.5 3.5h0m2.7 0h0m2.8-.2h0m4.9-.3h0m1.2-.1h0m1 .3h0m1.2-.8h0m2.2 .5h0m5.9 0h0m2.1-.5h0m.1 .9h0m2 1h0m.2-1.9h0m1.1 1.5h0m9.2-1.4h0m1.3 1h0m2.3-.4h0m1.5 .2h0m2.9-.6h0m1 1.5h0m.7 .3h0m.7 .1h0m5.8-1.8h0m.1 1.5h0m.1-.8h0m1.7 .3h0m-55.3 1.7h0m2.9 2.3h0m.7-1.4h0m1.1 .1h0m7-.2h0m4.8 .6h0m3.2-.6h0m2.1 .4h0m.9-.2h0m1.8-1h0m2.3 .9h0m3.6 .3h0m2.6-.9h0m2.2 1.5h0m1.6-.5h0m1.1 1.2h0m2.9-1.5h0m1.3-.3h0m.1 1h0m.4-.4h0m.4-1.7h0m3.6 .3h0m.2 .5h0m.4-.3h0m1 1.8h0m2.5-.4h0m2.3-1.9h0m-51 4.1h0m0 1.3h0m.4-.1h0m1.9-1.3h0m.4 .9h0m.2-1.9h0m.1 .2h0m.3 .6h0m8.2 .2h0m.3 1.2h0m.4-1.3h0m5.2 .2h0m5 .4h0m.4 1.4h0m2.8-1h0m9 .8h0m.7-1.5h0m3.7 .4h0m3.3-.2h0m.4 1.4h0m2.9-.6h0m.5-2.2h0m.2 2.1h0m2.2 .3h0m.3-1.6h0m1.1 1.3h0m1.7-1h0m.6-.6h0m-53.7 4.1h0m.1 .9h0m.2-.1h0m2.1-2h0m9.5-.1h0m.4 .3h0m2.1-.1h0m.5 2.3h0m.8-1.6h0m2.3-.4h0m.3 .2h0m.9 .2h0m.2-.4h0m.5-.2h0m.1 .5h0m.5 1.4h0m.5-.1h0m1-1h0m3.2-1.5h0m.3 2.6h0m1.1-.3h0m2.9-1.7h0m1.3 2.1h0m2.4-.3h0m.4-2.1h0m.9 1.1h0m1.5 1.1h0m.9 .1h0m.1-.7h0m.8-.5h0m.8 1.4h0m5-.1h0m.3-1.1h0m1.4-1.3h0m.3 1.1h0m4.4 1.4h0m.2-1.4h0m1.8 .1h0m-53.1 3.4h0m.8 .6h0m.1-.6h0m.8-.6h0m2.3-.6h0m1.3 2h0m.3-2.3h0m.5 .1h0m11 1.2h0m4 .2h0m.5-.6h0m.7-.3h0m1.9 1.6h0m1.4-.6h0m2.3-.1h0m.1-.3h0m.8 .4h0m2.3-1.3h0m1.1 2.2h0m2.5-1.7h0m3.8-.1h0m.3-.5h0m.7 .6h0m6.4 1h0m2.7-2.1h0m.5 2h0m-49.1 3h0m3.2-.9h0m.5-.3h0m14.1-.5h0m.2 .5h0m.1 1.4h0m.3 .5h0m.2-2.2h0m1.9 .5h0m.5 1.3h0m4.9 .4h0m1.9-.1h0m3.5-2.2h0m.8 .8h0m1.5-1.2h0m.2 2.2h0m1.7-.6h0m4.4-1.3h0m3.7 .3h0m1.1 .7h0m-48.9 4.6h0m1.3-.6h0m2.8-2h0m1.7 .5h0m4.8 1.3h0m4.4 .1h0m3.5-1.1h0m.6 1.2h0m3-.5h0m1.2 .9h0m1.6-2.6h0m3-.2h0m4.9 .3h0m5.1 1.7h0m6.7-1.1h0m.9 .8h0m3.2-1h0m1.1 .7h0m.2 .8h0m-47.3 2.8h0m.4-.4h0m.3-1.1h0m2.9 1.9h0m2.4-1.3h0m.9 .8h0m2.4-1.6h0m2.3 .4h0m7.3 .8h0m1.4 1.5h0m.2-1h0m2.2 .7h0m3.3-.5h0m.4 0h0m2 0h0m12.8 .2h0m3.8 .1h0m1.6-.7h0m1.3-1.5h0m.1 2h0m-53.7 3.7h0m.4-.4h0m.7-.1h0m3.1-.1h0m4.6-1.4h0m5.3 .3h0m.3 1.1h0m1.6-.8h0m.3-.5h0m1.1 1.2h0m.8-1.2h0m.4 1.4h0m.1-1.2h0m1.4 1.4h0m6-.2h0m1.7-.3h0m.3-.7h0m0 1.3h0m1.6-2.6h0m1.3 .7h0m3.8 1.8h0m11.3-2.2h0m1.5 .5h0m.5 .9h0m0-.5h0m1-1.1h0m1.8 .6h0m.4 1h0m2.3-.8h0m-54.1 4.4h0m1.9-2.2h0m.2 .4h0m.8 .7h0m1.4-.1h0m.4 0h0m.1-.4h0m8-.5h0m.4 0h0m3.9 2h0m1.3-2.3h0m.5 2.1h0m0-1.8h0m3.2 1.3h0m.2-1.5h0m.2 2.6h0m.3-2.2h0m.3-.5h0m3.3 .9h0m.4-.7h0m2-.3h0m.2 1.9h0m.6-.6h0m.8 .2h0m3.6-.9h0m1.6 2.4h0m.3-2.7h0m5 .2h0m.1 2.3h0m.6-1.1h0m3.3-1.3h0m1.4 2.5h0m.7-1.2h0m2.2-.5h0m.5 .4h0m.7 .3h0m-52.7 4.1h0m4.9-2.9h0m.8 2.2h0m5 .4h0m6.9-.8h0m.7 .3h0m.3-1.8h0m7.1 1.1h0m1.2 .6h0m3.3-1.6h0m2.7 2h0m1.7-1.7h0m1.7 .7h0m4.3 .5h0m1.8-.6h0m.1 0h0m1.3-.1h0m1.2-.3h0m2.1-.5h0m0-.5h0m1.4 2.9h0m1-.4h0m.9-.3h0m.2-.4h0m.6-.8h0m.4 .4h0m0 .1h0m1.2-.5h0m-53.9 4.8h0m.6-1.2h0m.9 .3h0m1.7 1.1h0m.3-1h0m1.8-.8h0m0 .8h0m3.4 .8h0m5 .1h0m11.9-.1h0m2.6-.9h0m1.3-.5h0m.6 1.5h0m.7-1.4h0m.6 .7h0m1.2 .7h0m.7-1.5h0m.7-.8h0m1.7-.4h0m1.2 2.1h0m.3 .2h0m.7 .4h0m1.1-2.1h0m.5 1.4h0m1.1-.8h0m1.3-.4h0m2.9 1.9h0m1.9-2.2h0m1.6-.2h0m0 .9h0m1.2-1.2h0m1.2 0h0m.3 2.2h0m-50.1 2.1h0m2-.6h0m.2-.7h0m0 2.6h0m1.2-1.1h0m1.2-.7h0m.2-.4h0m.1 1.6h0m.3 .8h0m.6-2h0m1.1 .4h0m.4 .2h0m.2 1.2h0m.5 0h0m.8-1.2h0m.9 .9h0m5.2-.7h0m4.4-1.2h0m3.2 .8h0m2.8-.2h0m.4-.3h0m1 1.4h0m1.8-.5h0m1.4 .4h0m.6-1.1h0m.2 1.2h0m1.5 .5h0m.6-.5h0m.8 .5h0m1.1 .1h0m.1-1.4h0m.8-.5h0m1.4 1.3h0m4.1-.6h0m5.1 1.3h0m1.9-.6h0m2.5-.4h0m.4 .7h0m1.1-1.7h0m-54 2.5h0m.9-.3h0m1.3 1.6h0m2.8-1.6h0m1.5 .4h0m1.2 1.2h0m3.8-1.5h0m.7 2.3h0m7.3-1.3h0m2 1h0m.9-1.2h0m2.9 .9h0m.8 .3h0m.9-2.2h0m1.2 .9h0m5.1 .9h0m4.9-.5h0m1-.9h0m.5 2.3h0m1.7-2.2h0m1.7 0h0m.8 1.9h0m.7-2h0m1.2 1.3h0m.1 .5h0m.2-.1h0m3.3-2h0m.2 .7h0m.6 1.5h0m3.5-1.1h0m1.5 1.4h0m-55.2 .8h0m.7 .9h0m.5 1.1h0m.7-1.8h0m.2-.4h0m.5 .7h0m2.4-.9h0m3.9 .6h0m10.8 1.8h0m1.3-.7h0m.5 .5h0m1.7-.8h0m2.4-.4h0m1 .8h0m1.7-1.8h0m.5 .8h0m1.2 2h0m1.3-2.3h0m.2 2.2h0m0 0h0m.2-2.3h0m1.6 1.2h0m4.6-.1h0m0 .9h0m4.2 0h0m.9 .1h0m2.2-.3h0m1.6-.4h0m4.9-.6h0m2.8-1.1h0m.5 1.2h0m1.7 .5h0m-55.4 1.7h0m1.9 .7h0m1.6 1.2h0m.6-2.2h0m.1 1.1h0m2.8-.8h0m2.2 1.2h0m1 .5h0m6.2 .5h0m2-1.2h0m.4-1.3h0m.4 .7h0m3 .7h0m1.6-.6h0m3.7 1.4h0m.5-.3h0m2.9-1.6h0m1.7 .4h0m3-.7h0m.2 1.1h0m2.4 1.3h0m.3-1.4h0m.6-.8h0m.4 .8h0m1.4 .1h0m.1 1.1h0m2.2-1.8h0m.9 .1h0m.2 .8h0m.6 .8h0m1.3-1.9h0m.3 1.6h0m.6-.4h0m.8-1.3h0m.5-.3h0m.2 2.5h0m1.9-1.4h0m3.4 1h0m.6-1.2h0m-53.9 3.4h0m4.1-.7h0m.4 .7h0m4.3-.9h0m.5 .8h0m0 1.3h0m1.1-1.9h0m2.2-.6h0m.6 1.5h0m.2-.8h0m2.4-.6h0m.5 .8h0m5.3 .5h0m1 .8h0m5-.7h0m.1-.4h0m9.3 .2h0m.2-1h0m.6 .6h0m2.2-.6h0m.3 2.3h0m2.1 .2h0m.4-2.6h0m1.8 1.3h0m2.6 .7h0m4.7-2.1h0m.5 2.2h0m.2-1.2h0m.1 .3h0m2.7-.5h0m1.2-.8h0m-53.2 4.8h0m1.3-1.3h0m8-.4h0m1.4 .6h0m.1 1h0m.2 .5h0m2.3-1.9h0m1.4 1.4h0m5.3-.6h0m1.6 1.6h0m.3-1.3h0m1.4-1h0m2.4 1.3h0m.5-1.5h0m.1 1.1h0m1.7 .4h0m1.5-1.3h0m2.2 .7h0m2.1-1.2h0m.5 .7h0m1 .9h0m.3-1.1h0m1.2 1.7h0m.6-1.4h0m3.9 0h0m.6-.8h0m.4 .5h0m1.7 .8h0m1.7 1.4h0m2-.1h0m.9 .3h0m1.7-.1h0m.6-.6h0m.6-1.7h0m.3 .7h0m-47.3 4.3h0m6.6-.5h0m2.8-2h0m.7 1.6h0m.1 0h0m.7 .1h0m1.2 1.1h0m.2-2h0m0-.3h0m.7 .6h0m.8 1.3h0m.7-1.2h0m1.7 0h0m1.4-.2h0m3.5 1.8h0m1.4-.5h0m0 .1h0m4-.7h0m1.2 .5h0m.7-1.7h0m1 1.4h0m.2-.9h0m.2 1.4h0m.4-1.5h0m.4-.5h0m1.9 .7h0m1.6 .6h0m.5-1.5h0m.6 1.4h0m-27.1 2.2h0m3.4 1.1h0m.1-.8h0m.4 0h0m1.6-1.1h0m.3 2.8h0m1.6-1.3h0m5.7 1.3h0m.2-2.4h0m1 0h0m.2 1.7h0m3.5-1.4h0m2.2 .6h0m1.6 1.3h0m1.3-1.4h0m.1 .4h0m.9 .7h0m1.8-1.9h0m1.2 1h0m.6-1.3h0m.9 1.4h0m.6-.8h0m1 1.1h0m2.8 .9h0m.3-1.9h0m.3 1.6h0m1.9-2.2h0m.2 .4h0m1.2-.7h0m-45.6 5.8h0m2.6-1.1h0m2.1 1h0m6-2h0m7.1-.2h0m.8 .3h0m1.4 .3h0m.8 1.3h0m1.6-.5h0m1.1 .5h0m.8 .5h0m.8-1.3h0m2.9 .9h0m.5-2.2h0m3.1 .1h0m.5 2h0m.4-.1h0m3.3-.8h0m1 .6h0m3.4 .1h0m.8-2h0m.4 2.3h0m.7-1.9h0m.2 .5h0m.7-.2h0m1.6 .5h0m-41.1 4.1h0m1.5-.2h0m7.9-2.1h0m.3 1.6h0m.1-.9h0m1.1-.9h0m3.1 2.1h0m.7-1.1h0m.7-.2h0m.6 1.6h0m2.5-.1h0m.1 .5h0m.3-1.4h0m4.5 .2h0m.2-.2h0m.1 1.6h0m2.6-1.4h0m.1 .2h0m.7-1.2h0m0 1h0m.5-1h0m.7-.4h0m3.8 2.2h0m2.2-.1h0m3.6-2.2h0m1.5 1.4h0m1.4-.3h0m-38.5 3.1h0m3.3 1.6h0m0-.5h0m.4 .1h0m1.5 .2h0m1.2-2.4h0m.9 1.5h0m1.4-.6h0m2.2 1.6h0m1.5-2.3h0m0 .3h0m.5 1h0m.8-.9h0m2.6 .8h0m.5-.4h0m1.8 1.2h0m3 .4h0m6.4-1.1h0m.1 1.2h0m.8-.7h0m.8-2.1h0m3 2.3h0m2.8-1.2h0m1.9-.8h0m-38.6 3.1h0m2.2 .7h0m.6 1.5h0m1.6-1.9h0m2.7 .1h0m2.2-.8h0m1.1 2.2h0m1-1.4h0m.2-.7h0m1.3 1.8h0m7-1.8h0m1.6 2.7h0m0-.3h0m4.9-1.7h0m.1 1.7h0m1.9-1.5h0m2.8 .9h0m1.2-1.7h0m.5 1.6h0m.4-1.6h0m1.1 .8h0m.4 1.7h0m-26.1 .2h0m.2-.1h0m.1 .1h0m14.8 1h0m1.1 .6h0m.1 0h0m3.2 1.2h0m1-.6h0m-2.5 .7h0m1.2 .9h0" fill="none" stroke="#ad2822" stroke-width="2.60" stroke-linecap="square" stroke-opacity="0.75"/>
<path d="M1322.3 875.8h0m1.8 1.4h0m1.2-.7h0m2.5 .4h0m1.9-.4h0m1.6 0h0m.3-.6h0m9.5 1.4h0m-24 2.5h0m2.1-.8h0m0-.3h0m.1 1.2h0m.2-.1h0m.2 .6h0m0-1.7h0m.9-.3h0m1.3 .7h0m0-1.5h0m2.1 .7h0m1.3-.5h0m.3 1.8h0m.2 .5h0m.1-1.2h0m.2-.3h0m.2 1.4h0m.2-2.2h0m.7 1h0m.9-.4h0m.6 .6h0m.7-1.4h0m.4 1.1h0m.3-1.1h0m.7 .4h0m.2 1h0m1.2-.8h0m1.5 1.6h0m.5 .5h0m.4-1.1h0m.1 1h0m.5-2.2h0m1 1h0m.1 .8h0m2.3-.8h0m.3-.4h0m.4-.4h0m.4-.4h0m.6 2.4h0m.6-.3h0m.1-1.3h0m1 .7h0m.3 .6h0m1.2-.8h0m.4-.1h0m1.4 .3h0m1.2 1.1h0m.1 0h0m-32 2.9h0m.7-1.6h0m.3 1.5h0m.1-1.3h0m2.8-.6h0m.4 2.1h0m1.1-1.9h0m.2 .8h0m.2-1h0m.3-.3h0m.8 1.4h0m.3 .6h0m.1-.3h0m.1-.8h0m1.4 .7h0m.9-.9h0m0 .3h0m.3-.6h0m.2 2.1h0m.5-1.3h0m.3 .9h0m0-2.4h0m.1 2.2h0m2.2-.5h0m.2-1.1h0m.1 .3h0m.5 1.6h0m.8-.2h0m.1 .4h0m.4-2.1h0m.9 1.1h0m.2-.1h0m.1-1h0m0-.4h0m.2 1.6h0m0 .9h0m1.1-.2h0m.7-.2h0m.2 0h0m.9-2.4h0m.1 1.6h0m.2-1.7h0m.7 1.4h0m.2-1.4h0m.1 1.7h0m.4-1.2h0m.5 2.5h0m.1-2.1h0m.1-.4h0m.2 2h0m0-1.4h0m.1-.4h0m.1 1.1h0m.8 1.2h0m0-2.6h0m0 1h0m.3 .9h0m.1-1h0m.6 .8h0m.2-.6h0m0 .3h0m.3 .4h0m.3-2h0m0 2.4h0m1.5-.9h0m1.1-1h0m.8 .2h0m.9-.2h0m0 2.3h0m.2-2h0m.6 1.3h0m.1 .7h0m.9-1h0m.7-1.9h0m.4 1.2h0m.3 1.2h0m-37 2.9h0m1.6-.4h0m1.1 .6h0m0-.6h0m.1 .8h0m.1-.5h0m.3 .1h0m.4-.5h0m.7 .9h0m.3-1.8h0m.6 1.7h0m0-.9h0m.4-1.8h0m1.2 .4h0m.7 1.4h0m.8 1h0m.1-.5h0m.1 .5h0m1.1-1.3h0m1.1 1h0m0-1.9h0m0 .9h0m1.5-.9h0m0 .9h0m.3 .4h0m.5-1.6h0m.4 .6h0m.8 1.7h0m.4-.7h0m.9-.1h0m.6 .7h0m.1-1.5h0m.2 1.6h0m.1-1.8h0m2.4 .4h0m2.4 .7h0m1.3 .7h0m.1-.3h0m.5 .1h0m.4 .1h0m.5-2.4h0m.3 2.7h0m.4 .1h0m.4-.9h0m0 .3h0m.1-.8h0m.1-.3h0m.4 1.8h0m.7-1h0m1.6-1.5h0m.1-.2h0m.3 .4h0m1 1.5h0m.6-1.9h0m.2-.1h0m1.9 0h0m.3 1.9h0m.2 .3h0m3.5-2.4h0m1.5 2.7h0m.2-1.8h0m.1 .8h0m.4-1.3h0m1.3-.4h0m0 2.6h0m.2-1.2h0m1-.5h0m.8 1.6h0m1-1.4h0m-42.9 4.4h0m.1-1.4h0m.1 1.4h0m.8-1h0m.6-1h0m.2 1.5h0m.3-1.9h0m.2 1.4h0m1.1 .8h0m.6-2.1h0m0 2.6h0m.1-.3h0m1.9-1.9h0m.2 2.2h0m.8-.4h0m.1-2.2h0m.2 2.5h0m.3-.1h0m.5-1.4h0m.5 .3h0m.1 .4h0m.1-.2h0m.2-1h0m1.7 .3h0m.4 1.5h0m.7 .1h0m0-2.1h0m.3 1.7h0m.5-1.2h0m.4 .6h0m.4 1h0m1.4-1.7h0m.5 .8h0m.5-.2h0m.6 .8h0m1.2 .1h0m2.7-1.6h0m.1 1h0m.4-1.1h0m1.3 .4h0m1.7 .8h0m.9 0h0m.1-.9h0m.1 1.8h0m1.1-.1h0m.2-2.3h0m1.7 2.3h0m.3-1h0m.2-.2h0m.5 1h0m.8-1.7h0m.5 1.2h0m.1 .3h0m.2-.5h0m1.3-.8h0m0-.2h0m.5 1.2h0m.7-.6h0m.2-.7h0m1.3 1.4h0m.2-1.9h0m.1 1.2h0m1-.9h0m1.7 1.7h0m1.1-.3h0m.2-.2h0m.7-1.4h0m.1-.2h0m.2 1.4h0m.9 1h0m2.3-.1h0m.4 .3h0m.6-.9h0m1 .2h0m.2-1.5h0m.6 2.3h0m.2-.7h0m.1-.8h0m.3 .8h0m.7-1.2h0m-54 4.6h0m1.9 .2h0m.1-.6h0m.3 .6h0m1.5-1h0m2 .2h0m.8-1.7h0m.9-.2h0m2 1.8h0m.6 .9h0m.2-.9h0m.2-.6h0m.2 1.7h0m.2-1.8h0m.4 1.7h0m.6-2.3h0m.9-.3h0m.2 1.1h0m0-.5h0m.1-.2h0m.6 .4h0m.4 1.6h0m.2-1h0m.2 1.2h0m.1-2.4h0m0 .7h0m1.2 1.2h0m.3-1.8h0m.3 .9h0m0-.1h0m.3 0h0m.9-1.1h0m0 .9h0m.1-.6h0m.8 1.7h0m.1-1.5h0m.3 1.3h0m3.4-1.2h0m.1 1.5h0m.6 .2h0m.3-1.8h0m.3 2h0m.4-.9h0m.1 1.2h0m.6-2.3h0m.7 1.9h0m.2-.3h0m.3-.6h0m1 1.3h0m.5-2h0m.2 1.6h0m.5 .2h0m.7-.5h0m.5-.3h0m.2-1.5h0m0 .2h0m.6 1.3h0m.7-1.6h0m.6 1.9h0m.1-1.5h0m2.1 .1h0m0-.1h0m.1-.6h0m.1 1.6h0m.1 0h0m.2 .8h0m0-1h0m.3-.8h0m.7 1.6h0m.1 .4h0m1.1-.9h0m.8-.1h0m.6 1.1h0m.2-1.9h0m.1-.7h0m.1 .3h0m.5 .1h0m1.5 1.6h0m.1-2.2h0m.4 2.2h0m.1 .1h0m.1 .6h0m.8-.4h0m.9-.6h0m1-1h0m.4-.8h0m0 1.6h0m1.3-.2h0m.2-1h0m.9 2.1h0m.5-.4h0m.1-1.6h0m.6 .6h0m.8 .9h0m.9-1.1h0m1.3 1.2h0m.3-1.5h0m.6 .2h0m.2 .5h0m.6-.1h0m.3 .7h0m.3-.3h0m.4 .2h0m0-1.2h0m.7-.7h0m.4 2.7h0m.2-.4h0m.4-.2h0m1 .2h0m-59.7 3.3h0m3.1 0h0m.6-.8h0m.6-.9h0m1.7 .2h0m.9 1.4h0m1-.8h0m.3-.9h0m.1 1.7h0m.1-1.2h0m1.5-.1h0m.3 1.1h0m.3-.8h0m2.7-1.6h0m.3 .1h0m.1 1.9h0m1.5-1.7h0m.1 .2h0m.6 .6h0m.3 .8h0m.3-1.2h0m.2 .7h0m0 0h0m.8 1.2h0m0-.6h0m.2 .7h0m1.6-2h0m.8-.1h0m.1 .9h0m1.1 .4h0m.1 1.1h0m.3-1.6h0m.5-.2h0m.7 1.3h0m.2-.4h0m.5-.3h0m.4 .1h0m0-1.1h0m1 .6h0m.2-.3h0m.2-.2h0m.3 .7h0m.8 .2h0m.1 .4h0m.2-.8h0m.1 .6h0m.2 .8h0m.1-2.3h0m.1 .6h0m1.2-.2h0m.5 .1h0m.8 1.1h0m1.2-1.6h0m1.2 1.2h0m.8 .8h0m.1-.7h0m.4 .1h0m.2-1.1h0m0 1.8h0m.8-2.5h0m.2 1h0m.8 1.9h0m.1-1.6h0m0 .8h0m.1-.2h0m.1-1.8h0m.2 1.6h0m.9 .7h0m.7-.3h0m1.1-2.1h0m1.1 2.3h0m.1-.8h0m.6 .5h0m.1-.2h0m1-.9h0m.5 .2h0m.3 1.3h0m.1-.7h0m.6-1.5h0m.3-.3h0m.1 .8h0m0-.8h0m.5 .8h0m.1 .4h0m.2 1.3h0m.1-.9h0m.5-.6h0m1.7 1.9h0m.2-.4h0m.2-.3h0m.2 .4h0m2-1.5h0m.1 1.1h0m.2 0h0m.4-1.6h0m.2 0h0m1.7 2h0m0-1h0m.2 .2h0m.7-1.2h0m.2 1.2h0m.2-.8h0m.1 1.3h0m0-2.3h0m1.1 1.7h0m.2-1.4h0m.5-.3h0m.1 .1h0m.2 1.5h0m1.1-.5h0m1.9 1.6h0m.2-2.4h0m.3 1.2h0m.8-.3h0m0-.1h0m.3 1.8h0m.5-2.5h0m.1 .3h0m.2 0h0m.1 1.4h0m-63 3h0m2.3 .7h0m.5 0h0m.6-.5h0m.4-.3h0m.1-.9h0m.5-.8h0m2.1 .6h0m.2 0h0m1.8-.2h0m.2 1.3h0m1.2-.5h0m.6-1.2h0m1.3 .4h0m.9 1.1h0m1.8 .5h0m.8 .4h0m.9-.4h0m.1-.2h0m.7-.5h0m.1-1.4h0m.7 2.2h0m.6 .1h0m.7-.4h0m.9-.1h0m.4-1.9h0m0 1.3h0m.3 .1h0m3-.7h0m.3 .8h0m0 1.3h0m.2-2.7h0m.2 2h0m.2-1.2h0m.1 .6h0m.2-.6h0m0-.5h0m0 .5h0m1.2 0h0m1.2 1.1h0m0-1.3h0m.1 .6h0m.1-.2h0m.2 .5h0m.4-.4h0m.2 0h0m.1 .6h0m.2-.4h0m1.5-1h0m.1 1.7h0m.1-1.9h0m.8 2.5h0m.4-2h0m.1 1.7h0m.1-1.4h0m.3 .8h0m.8-1.3h0m.7 .5h0m.7-.5h0m.1 .1h0m0 .6h0m.9 1.6h0m1.5-.1h0m.7-.3h0m.2-1.2h0m.3-.9h0m.4 1h0m.2 1.1h0m.3-2.1h0m.5 .7h0m.3 .6h0m.5 .2h0m.2-.3h0m0 1h0m.3-1.6h0m.4 .1h0m1.4 1.2h0m.3-.5h0m.6-.3h0m2-.3h0m.2 .6h0m.9-.3h0m0 .1h0m.6-.6h0m.1-.9h0m.2 1.8h0m.6-1.3h0m2.8 2.3h0m0-2.8h0m1.4 .9h0m1.3 1.6h0m0-.1h0m.5-2.4h0m.5 .5h0m.6 .3h0m.1 1.9h0m0-1.4h0m1.9 1.3h0m1.3-.1h0m1.2-1.7h0m.6 0h0m.3 0h0m.5-.3h0m.7-.2h0m.5 1h0m.2-1.4h0m.6 2.6h0m.5-2.2h0m.2 .7h0m.2 1.8h0m.1-.1h0m-66.8 2.9h0m.4-.8h0m1 1h0m.4-2.6h0m.2 2.4h0m.1-.1h0m.4-.5h0m.2-1.1h0m.1 1.7h0m.6-.1h0m.2-1h0m.1-1.4h0m.8 .1h0m.5 2.7h0m.3-1.6h0m.1 .4h0m.4 .1h0m.3-1h0m.3 2h0m.6-2.1h0m.1 .9h0m.5-.5h0m1.3-.4h0m.1-.2h0m1-.1h0m1.3 .1h0m.8 .8h0m.1-1.2h0m.4 2.3h0m1.3-.3h0m.5-.6h0m.4 1h0m.1-1.4h0m.5 1.7h0m.4-.1h0m.8-.7h0m.8-.4h0m1.5-1.2h0m.1 .1h0m0 1.5h0m.7-.6h0m2.1 .8h0m1.4-.8h0m.3 1h0m.5-.6h0m.2 .1h0m1.3 .6h0m.4-2h0m.1 .7h0m.1 0h0m.1-1.1h0m.5 0h0m.6 2.3h0m1.4 .1h0m1.3 .2h0m.2-.2h0m.1-.1h0m.1-.2h0m.3 .1h0m1.3 .2h0m.2-.1h0m.1-1.7h0m.4 1.6h0m.1 .4h0m.4-2.6h0m.3 2.7h0m1.1-1.9h0m.9-.3h0m.5 2h0m.7-.6h0m.2 .3h0m.4 0h0m.1-.7h0m0 1h0m.7-.7h0m1.3-1.5h0m.1 1.9h0m.5-1.1h0m.2-1.2h0m.9 1.2h0m.6 .9h0m.1-1h0m.2 1.2h0m.1-2.3h0m.8 2.8h0m1.3-1.3h0m.7 .5h0m1.4-.5h0m1.5-.2h0m2.3-.9h0m.5-.5h0m.2 1.4h0m1.2 0h0m1.6 .5h0m2-.5h0m1 1.4h0m.7-2.4h0m.3 1.2h0m0 .4h0m.7-1.8h0m0 .5h0m.6 .7h0m.4-1.3h0m1 1.9h0m.7-1.8h0m.1 .9h0m0-.4h0m.5-.4h0m.9 2.7h0m.3-2.2h0m1.2 .1h0m.2 1.7h0m.2-.8h0m.2-1.3h0m1.3 2.4h0m1.6-2h0m-70.9 3.9h0m1.2 1h0m.1-1.4h0m.3-1h0m.3 .2h0m.7 1.4h0m.1 .1h0m.5 .2h0m.1 .7h0m.5-2.7h0m.1 .9h0m.8-.5h0m.2 1.7h0m.1-1.7h0m1.2 .3h0m.3-.5h0m.3 1.7h0m.5-.7h0m.7-.7h0m.3 1.2h0m.3-1.6h0m.1 1.6h0m.1-1.5h0m.2 2.2h0m0-.6h0m0-1.1h0m.7-.2h0m.3 1.6h0m.1-1.2h0m.3 1.3h0m.4-1.7h0m.1 2h0m.4-2.3h0m.8 1.4h0m.1 1.1h0m1.3-.7h0m1.2 .6h0m.1-.6h0m.1-.6h0m1.3-.2h0m.2-.5h0m.7 .7h0m.2-1.3h0m1.1 2h0m.4-.9h0m1.2 .5h0m.5-1.4h0m.2 .9h0m.9-.8h0m.7 2.1h0m0-2.4h0m.3 .4h0m1.1-.1h0m0 .8h0m.1-.8h0m.1-.6h0m.5 .9h0m.4-.8h0m1.6 .9h0m1.1-.6h0m1.3 1h0m.6 .2h0m.7 .7h0m.7-1h0m1.2-.9h0m0 0h0m.4 .1h0m1.4 1.7h0m2-.7h0m0-.4h0m0-.9h0m.2 1h0m.9-.1h0m.3 1.2h0m0-1.8h0m.1-.5h0m.2 2.3h0m.1-2h0m1.6 .2h0m.3 .7h0m1.5 .4h0m.7 .8h0m.2-.8h0m1.5 1h0m.1-1.6h0m.6 .7h0m.4 .6h0m.5-1.8h0m.6 .7h0m1-.3h0m.5 1.9h0m1.5-1.2h0m.3 1.1h0m.1-1.7h0m1.1-.7h0m.4-.1h0m.1 .3h0m1-.1h0m2.6-.2h0m.4 .7h0m.9-.2h0m.4 1.1h0m.5-1.5h0m.8 2.6h0m.4-1.3h0m.4-.7h0m.9-.3h0m0 1.9h0m.2-1.6h0m.9 1.6h0m.2-2.2h0m.2 1h0m.3-.9h0m.2 .9h0m.2 .4h0m.1-1.2h0m.1 1.6h0m.4-1.2h0m1.9 .9h0m.5-1h0m.3 1.1h0m.3 0h0m2-2h0m1.5 .6h0m.7 .3h0m.2 .3h0m.4-1h0m-69.4 4h0m.1 .1h0m.2-.4h0m0 1.2h0m.3-.9h0m.2-.9h0m1.9 .8h0m.3 0h0m.8-1h0m.1 .6h0m.1 1.6h0m.1 .5h0m.1-.3h0m.8-1.2h0m.2 1.3h0m.1-1.7h0m.1 2h0m.3-.8h0m.1-1.2h0m.4 1h0m0-.8h0m.5 1.9h0m.2-2.8h0m.2 2h0m1.1 .1h0m.8-1.2h0m.6 .5h0m.5-.4h0m.3 .9h0m.3-.1h0m.2-.2h0m.8 .8h0m.1-1.3h0m1.1-.7h0m.5 0h0m.1 .1h0m.9 .2h0m0 1.1h0m.8-.4h0m.2-.5h0m.6-.5h0m.1 .6h0m.8-.4h0m.8 1.9h0m1.1-.7h0m.2-1.2h0m.1 .2h0m.7 1.3h0m.5 0h0m.4-1.9h0m.5-.4h0m1.7 1.4h0m.2-.1h0m1.5 1.6h0m.3-2.7h0m.3 1h0m.6 .9h0m.1-.5h0m.5 .9h0m.3-.4h0m0-1.2h0m.2-.6h0m1.1 .9h0m.1 1.6h0m.3-2.6h0m.6 2.6h0m.6-1.4h0m.5-.9h0m.2 2.4h0m.2-1.4h0m.7-.9h0m.2 .9h0m.8-.6h0m.9 .2h0m.1 .2h0m0-1.1h0m.1 2.6h0m0-.8h0m.5 .9h0m0-2.5h0m.6 .6h0m.6-.7h0m0 2.7h0m1-1.6h0m.2 1.1h0m.7-1.3h0m.5 .8h0m.3-1h0m0 1.7h0m.5-1.2h0m.2-.3h0m.1 .5h0m.3-.9h0m1.2-.3h0m.5-.1h0m1 1h0m1.4 1.4h0m.9-2.1h0m.1-.1h0m0 1.9h0m.5-2.3h0m2.1 .3h0m0 1.8h0m.2-.8h0m0-.2h0m1 1h0m.1-1.4h0m.3-.7h0m.1 2.5h0m.2-1.3h0m.6 .1h0m.2 0h0m0-.7h0m.8 .4h0m.5 .4h0m.8 .2h0m.7 .5h0m.3 .3h0m.3-1.6h0m0 .1h0m1-.7h0m.9 1.7h0m.2-1.5h0m.3 1.3h0m.8 .2h0m.1-.6h0m.1 1h0m.2-.6h0m2.1 .2h0m.1-.9h0m0-.9h0m.5 2.3h0m.9-1.1h0m1.2-.2h0m.3 .5h0m1.2-.6h0m.2-.8h0m.5-.3h0m.4 2.2h0m1-1.8h0m.5 .4h0m.1 1.7h0m.4 .2h0m.1-1.9h0m.6 1.7h0m.8-.9h0m.1-.5h0m.8 .3h0m1.7-.5h0m.7 1.7h0m-75 2.2h0m.4-1.1h0m2.2 1.6h0m.3-2h0m.6 .9h0m.6 .1h0m0 1.2h0m.3-1.3h0m.5-.8h0m.2 .4h0m1.3-.9h0m.5 1.4h0m.7 .1h0m2 .5h0m.3-2h0m1.3 2.6h0m.3 .2h0m.6-1.3h0m0-.9h0m.5 2.1h0m.3-1h0m.3-.4h0m.5 .6h0m1.7-1h0m.5 1.9h0m.7-.5h0m.3-.5h0m1.1-1.2h0m.3 1.8h0m.3-1.6h0m.8-.1h0m.4-.7h0m1.4 2.9h0m.2-1.4h0m1.4 .9h0m2.6 .5h0m.4-.6h0m.3-1.2h0m.3 1.3h0m.5-.6h0m.1 .1h0m1-1.7h0m0-.1h0m.3 2.2h0m.9-1h0m1.1 .9h0m.3 .2h0m.7 .4h0m.6-.7h0m.8-1.2h0m.7 .5h0m.3-.8h0m1.1 .3h0m.5 2h0m.1-1.5h0m.5-1.3h0m.8 2.8h0m.7-.3h0m.4-1.1h0m3.8-.7h0m.8 1.2h0m.4 .6h0m.3-2h0m.7 1.2h0m.8 .5h0m.1 .5h0m.5-.8h0m.2-.8h0m2.3-1.2h0m1.7 3h0m.1-.7h0m.7-1.7h0m0 1h0m.4 .9h0m.1-1.2h0m.3-1.1h0m.4 .9h0m.4 1h0m0 .3h0m.1-1h0m0-.9h0m1.5 2.3h0m.1-.3h0m.6-2.1h0m0 .2h0m.9 2.1h0m.2-2.3h0m0-.2h0m.9 1h0m2.3 .1h0m.9-.7h0m1.4 1.4h0m1.1-.8h0m1.5 1.6h0m.4-2h0m.3 .9h0m.1-.2h0m.7-.9h0m.5 .9h0m.6 0h0m.2-1.2h0m1-.2h0m0 2.8h0m.7-1.2h0m0-1.1h0m.2 1.1h0m.1-.3h0m.1-.1h0m1-.4h0m1.4 .9h0m.5-.5h0m.8-.1h0m.6-.8h0m.1-.2h0m.1 1.1h0m.1-.5h0m.9 .2h0m.1 1.6h0m.8-1.2h0m.5-.2h0m1.7 .7h0m.8-1.6h0m-77.3 5.1h0m.2-1.8h0m.2 .3h0m.6 .6h0m.1-.4h0m.2 .9h0m.7 .1h0m.4 .1h0m.1-.7h0m.3-.4h0m.4 1.2h0m0-1.8h0m.3 1h0m1.1 .6h0m2.2-1.2h0m.5 .9h0m1.4-1.5h0m1.3 1.9h0m.7-.8h0m.4-.2h0m0-.3h0m.1 .7h0m.7 1.2h0m.6-.4h0m.7-1.6h0m.7 1h0m.6-.3h0m.3 1.3h0m1.5-1.1h0m1.3 .8h0m.6-2h0m2.5 2.2h0m0-.3h0m1-.8h0m2.3-1.5h0m.1 1.1h0m.3 .5h0m.2 1h0m1.2 .1h0m.4 0h0m.5-2.1h0m.2-.5h0m.4 .9h0m1.5-.9h0m.3 .8h0m.9-.3h0m.1 1.7h0m.3-1.5h0m.7 0h0m1.6 .1h0m.2-.6h0m2.8 2h0m.4-.2h0m.1-1.9h0m.2 2.4h0m.1-2.3h0m.6 .2h0m.6 .7h0m0-.8h0m.2 1.9h0m2.3-1h0m.5-.1h0m.5-.9h0m.1 2.1h0m1.1-.3h0m.5 .6h0m2.3-1.6h0m.7 1.4h0m.5-.2h0m.3-.1h0m.2-2h0m.5 2.4h0m.4-2.6h0m.4 2h0m0 .7h0m.7-.6h0m.1-1.4h0m.8 1.5h0m.3-1.7h0m1-.4h0m.9 2.5h0m.9-1.9h0m.2 .3h0m0 0h0m.4 1.6h0m0-2.1h0m0 1h0m.5-1.2h0m.6 1.5h0m.7 .4h0m.2-1.1h0m.3-.4h0m0 1.7h0m.6-1.6h0m.4 0h0m.4 1.5h0m.5 .2h0m.4-2.1h0m.4 .9h0m.1 .3h0m.4 1.1h0m.5-.7h0m.4-1.5h0m.5 1.2h0m2.4-1.2h0m.5 1.1h0m0 .8h0m2 .1h0m1.5-.4h0m1.2-1.8h0m.2 2.2h0m.8 0h0m.3-1.8h0m.5 1.7h0m.8-1.6h0m.1 1.8h0m.3-2.1h0m.6 1.8h0m0-.1h0m.9-.4h0m.2-.1h0m.2 .6h0m1.2 .4h0m.1-.2h0m.5-.9h0m.4 .3h0m.1-1.8h0m.1 .5h0m-75.4 4.6h0m1-2.2h0m1.3 1h0m.4 1.1h0m.1-.2h0m.1-.8h0m1.1-.3h0m.6 .2h0m1-.2h0m0-.2h0m.4 .8h0m.5 0h0m.2-.6h0m1.3-.1h0m.2 .2h0m.4-.5h0m.1 2.1h0m0 .1h0m.1-.9h0m.1 .3h0m.2-1.3h0m.2 0h0m.1 .5h0m.4 .5h0m.2-1h0m.1-.1h0m.4 .2h0m.1 .2h0m1.8-.3h0m1.2-.8h0m1.3 .9h0m.1-.4h0m.4 .4h0m0-.4h0m.2-.3h0m.4 2.4h0m.3-1.8h0m.2-.1h0m.5 1.9h0m.5-1.8h0m.2 2.1h0m.2-1.5h0m1.4-.5h0m1.3 1.4h0m.6-1.3h0m.2-.6h0m.9 .3h0m.1 .6h0m0-.4h0m.2 2h0m.6-1h0m.6-.3h0m.1 .8h0m.5-.6h0m.4 .6h0m.9-1.9h0m.5-.2h0m.1 .2h0m.9 .6h0m.6 .5h0m0 .4h0m.5-1.4h0m0-.1h0m.6-.5h0m.1 2.7h0m1.2-.5h0m.2-1.7h0m0-.3h0m.8-.1h0m0 .1h0m0 .6h0m.1-.5h0m.8 2h0m0 .6h0m.4-1.5h0m.2 .2h0m.1-.8h0m.1 .4h0m0 .2h0m.1 .5h0m.2 .2h0m.2-1.4h0m.5 1h0m.1-1.3h0m.6 1.2h0m0-1.4h0m.4 .4h0m.1 .1h0m.7-.2h0m1.3 .7h0m0-.2h0m1.5 1.5h0m.8-.1h0m.7 .2h0m.5-.2h0m.6-.6h0m.3-1.5h0m.1 1.9h0m.2 .1h0m0-.5h0m.3 .3h0m.6 .8h0m.3-.3h0m.8-1.1h0m.3-1.2h0m.5 1.9h0m.4-2.2h0m.6 0h0m.1 .9h0m.7 .1h0m0 .9h0m1.2-.2h0m.4 .8h0m.1-1h0m.3 .6h0m0-1.8h0m.6-.3h0m.4 1.8h0m1.6-1.3h0m.1 0h0m1.1 0h0m1.1 1.8h0m.1 .5h0m.2-.1h0m.8-2.6h0m.1 2.8h0m.1-.9h0m.1 0h0m1.3-.1h0m.3-1.8h0m.6 1.6h0m.6-.5h0m.1-.7h0m.8 .8h0m0 .2h0m.1-.8h0m.4 1.7h0m.2 .2h0m.7-.1h0m1.7-1.8h0m.4 .6h0m1.1-.2h0m1.5-.2h0m.3 .3h0m2.2 1.4h0m0 .1h0m.6-1.9h0m.5 .8h0m.1-1.3h0m.2 1.6h0m.3-1.2h0m0-.5h0m.1 2h0m.7-1.5h0m.4 1.3h0m.3-1.9h0m.2 1.8h0m0-.3h0m.4 1.3h0m.8-2.8h0m.2 2.7h0m.8-.9h0m1.7-.6h0m.3-.7h0m.5 1.4h0m.1 .1h0m.3-.6h0m-77.8 4.1h0m.6-.6h0m.1-1.6h0m.8 .8h0m3.4 1.1h0m.1-1.4h0m1 .7h0m1.1 .1h0m.3-.3h0m.1 1.5h0m.2-1h0m.2 .8h0m.7-2.3h0m.7 1h0m.3 .8h0m0 .2h0m0-2.3h0m.2 .9h0m.9 1h0m1.2-1.2h0m.2 1.9h0m.6-2.3h0m.3 .2h0m.1-.6h0m.6 2h0m.2 .8h0m.1-2.7h0m.5 1.1h0m.1 .4h0m.3 1.1h0m.2-1.1h0m.2 1.1h0m.1-1.8h0m1.8 1.7h0m0-.9h0m.8 .9h0m.7-.5h0m.4 .5h0m1.2-1.2h0m0-1h0m.8 1.7h0m0 .5h0m1.3-.7h0m.5-.9h0m.4 1.2h0m.1-.7h0m.8 .3h0m.2-1.2h0m.2 .7h0m.3 1.4h0m.1-2.3h0m.3 1.2h0m.2-.3h0m.4-.3h0m.6 1.1h0m0-.4h0m.4 .6h0m.3-2.1h0m0 2h0m.4 .4h0m.9 .2h0m1.1-2.1h0m.3 1.7h0m.5-.5h0m.4 1h0m.7-.5h0m.3-2.2h0m.8-.2h0m.1 2.5h0m.1-2.5h0m.1 2.5h0m0 .3h0m.7-1.9h0m.5 1.2h0m.8-1.8h0m.3 2.6h0m0-.2h0m.2-.6h0m3.6 .1h0m0 0h0m.5 .1h0m.2-.6h0m.2-1.1h0m.2 0h0m.6-.1h0m.1-.4h0m.1 .6h0m.2 1.8h0m.2 .1h0m.1-.1h0m.5 .4h0m2.3-2.8h0m1 2.3h0m2.1-1.9h0m.6 2.3h0m.1-1.8h0m1.1 .7h0m.3-1.4h0m.1 .1h0m.3 .9h0m.9 1.2h0m.7-2.5h0m.5 2.1h0m.1-1.1h0m.3-.9h0m.2 0h0m.5 1.2h0m.2 1.4h0m.1-.2h0m.2 .3h0m.5-.3h0m.5 .2h0m.1-2.6h0m0 .9h0m.1-.5h0m.6 .3h0m.4 1.8h0m.8-1.2h0m0 1.4h0m.4-2.5h0m1.8 1h0m.3 0h0m.3 1.3h0m.4-1.6h0m.2-.4h0m.4 2.2h0m.4-1.3h0m.1 1.1h0m0-1.6h0m.8 1.5h0m.3-.1h0m.2-1.2h0m.1-.3h0m.7-.1h0m1.1-.7h0m.3 .3h0m1.2 2.3h0m.4-1h0m0-1.2h0m0 1.3h0m.3-.6h0m.2 .2h0m.2-.2h0m.2 1.3h0m.6-1.4h0m.7 1.6h0m3 .1h0m1.3-.4h0m.2-1.8h0m.9 .2h0m0-.5h0m.8-.1h0m1.2 .5h0m1.5 1.5h0m1-1h0m1.2-.9h0m-80.2 4.1h0m.1 1.6h0m2.7-.8h0m.3 .1h0m.4-1.7h0m2.1 2.2h0m.1-2h0m.1 1.7h0m.1 .2h0m.5-1h0m.2-.9h0m1 1.2h0m.1-.6h0m.1-1.3h0m.6 2.1h0m.8-.5h0m.2 .7h0m.1-.7h0m.4 .9h0m.4-1.4h0m.4-.5h0m.5 .4h0m.8-.5h0m.3 0h0m.1 .3h0m.2 .3h0m.4-.4h0m.1 1.1h0m1.6-1.9h0m.4 2.8h0m0 .1h0m.6-.4h0m.3 .3h0m.2-2.7h0m1.2 .7h0m.2 1.2h0m.3 .6h0m.8-1.2h0m.2 .5h0m.6 .4h0m.4 .4h0m.7 .1h0m.3-1.7h0m.2 1.8h0m.2-.8h0m0-1.5h0m.1 1.8h0m1.1-.8h0m1.2-.1h0m.6 .5h0m.5-1.4h0m.4 1.6h0m.1-1.1h0m.1 .3h0m.7-.8h0m.8 1.1h0m.1 .7h0m.2-1.1h0m.3-1.1h0m0 .6h0m.1 1.9h0m0-1.8h0m.1 1.8h0m.3-2h0m1-.5h0m.3 .9h0m.2 1.8h0m1.3-1.9h0m.6 .8h0m.2 .9h0m.4-.1h0m.1-2.3h0m.1 .4h0m3.2 0h0m.4 1.9h0m.2-1.1h0m0 .2h0m.8-.1h0m.4-.6h0m.2 1.7h0m.5-.2h0m.5-1.9h0m.6 2h0m.2-.8h0m.9 .5h0m.2 0h0m.8 .2h0m.7-.4h0m.8-1.5h0m.1 .8h0m.4 .4h0m.4-.9h0m.3-.5h0m1 1.4h0m.2-.1h0m.6-.5h0m.3 .9h0m1.4 0h0m.7 0h0m1.8 .8h0m.1-1.3h0m.7 .4h0m.1-1.6h0m.1 0h0m1 .6h0m.3 .8h0m.1-1.4h0m.2 1.7h0m.7-1.6h0m.3 1.8h0m.5-2.1h0m.2 .5h0m.3-.2h0m.1 2h0m0-2.2h0m.4 0h0m1.1 2.4h0m.6-.3h0m.9-2.4h0m0 2.4h0m.2 .6h0m.3-2.3h0m1.6 .4h0m1.3 1.8h0m1-1.6h0m.1 0h0m.8-.9h0m.1 .3h0m.8-.2h0m.6 2.5h0m.3-1h0m1-.2h0m1.9-1.2h0m.2 1.9h0m1.5-.6h0m.6 .4h0m.2-.9h0m.7 .1h0m.1-1.1h0m.5 .3h0m1.1 1.1h0m.5-.9h0m.6 .1h0m1.3 .2h0m.5 1.1h0m.3 0h0m.6-.3h0m1.1-1.8h0m.2 .2h0m-79 5.2h0m.5-1.6h0m2.4 1.5h0m.3-1.2h0m.6 1.5h0m0-1.3h0m.3 1.4h0m1.1-.9h0m0-.9h0m.5 1.3h0m.8-1.6h0m.2-.5h0m.9 2h0m.3-1.8h0m0 2.4h0m.2-2.5h0m1.4-.1h0m.3 1.8h0m.5 .6h0m1.2-.8h0m1.6-1.7h0m.1 1.2h0m.7-1h0m.7 1.2h0m0 0h0m.2-.4h0m.1-.7h0m.6 2.5h0m.2-.9h0m.1-.7h0m.7-.2h0m.5-.4h0m.2 2h0m0-1h0m1.1-.1h0m.3 .7h0m.2 .2h0m.6-2.5h0m.8 1.3h0m2.4 1h0m.6-.4h0m.3 .6h0m.1-1.5h0m.7 .2h0m.1 .8h0m.2-.6h0m2.8 .4h0m0-.9h0m.1 1.6h0m.9-1.8h0m.3 .6h0m.6 .9h0m1.5-1.8h0m0 .8h0m.6-1h0m.2 .1h0m.3 1.9h0m.3-1.4h0m.6-.3h0m.2 1.7h0m.4 0h0m.1-1.7h0m1.1 .6h0m.2-.7h0m.8 .8h0m.1-.3h0m1.4 1.6h0m.8 .4h0m.1-2.2h0m1 1.3h0m1.4 .1h0m.1-.6h0m.4-.2h0m.4-1h0m2 2.1h0m1.7-.5h0m.5 .4h0m1.4-.7h0m1.9-.5h0m3 1.6h0m.1-1.3h0m1.4-.1h0m3.8-1.1h0m.5-.3h0m.2 .4h0m1 .5h0m1.1 .7h0m.2 1.3h0m.3-2.3h0m.8 1.9h0m0-.5h0m.6 1h0m0-.6h0m.3-2.1h0m.2 .2h0m.1 .8h0m.2 .6h0m.4-1.2h0m1.7 .6h0m0 .7h0m.1-1.8h0m2 .5h0m1-.1h0m1.2 1.1h0m.1-1.4h0m.8 .1h0m.1 1h0m1.1-.4h0m.1-.6h0m.3 .2h0m.4 .6h0m1.4-.4h0m.5-.2h0m.7 1h0m0-.7h0m.1 1.4h0m1.2-1.8h0m.2 1.2h0m.6-1.2h0m.2 1.2h0m.6 .5h0m.1-1.8h0m1.1 .2h0m.6 .3h0m-79.9 4.5h0m.4-1.1h0m.8-.6h0m1.3-.3h0m.3 .5h0m.6 1.6h0m.1-1.3h0m1.6 0h0m.2 0h0m1.7 1.1h0m.8-.8h0m0 .7h0m.1-.4h0m1.5 .7h0m.7-1.7h0m.7 .9h0m1.4-.1h0m.6-.1h0m1.2 .6h0m.1-.5h0m.1-1.4h0m.5 0h0m1.2 1h0m1.1 .9h0m.1 .8h0m.4-1.3h0m.5 1.4h0m.2-.2h0m.3-.6h0m1.6-1.8h0m.3 1.7h0m.1 0h0m.3 .2h0m.4-1.5h0m.1 .9h0m1.1-.5h0m.2 .8h0m1.2-.7h0m.2-1.2h0m.1 .6h0m2 .1h0m.4 .1h0m0 .1h0m2.7 1.9h0m.3-2.4h0m.3 .7h0m.2-.8h0m.4 1.8h0m.2-.7h0m.1-1.5h0m.1 .8h0m.4 1.7h0m.8-.7h0m.1 1h0m.3-.8h0m.7 1h0m.5-.8h0m.8-1.3h0m.8 1.7h0m.4-.5h0m1.8-1.9h0m.3 2h0m.4-2.1h0m.2 .7h0m.5 .8h0m.6-.4h0m4.2 .7h0m0-.3h0m1.4-.4h0m1.3-.9h0m.3 1.4h0m1.3-.5h0m.1-.8h0m2.5 .6h0m.1 1.4h0m1.2-.7h0m2.5-.7h0m.2 1.7h0m.5 .3h0m.9-1.5h0m.2 .5h0m1.1-.3h0m.3-.6h0m.1 1.6h0m.3-.4h0m.1-1.3h0m.5 1.5h0m1.2-.5h0m.1-1.4h0m.1 1.8h0m0-1.7h0m.3 .3h0m0 .7h0m.8 .4h0m.5-1.5h0m.1 .7h0m.8 .2h0m.1 0h0m.9 .3h0m.3-1.5h0m0 2.3h0m0-.6h0m.2 .9h0m.4-.5h0m.1 .1h0m.6-.5h0m.2-.8h0m.3 .1h0m.4-.7h0m.1 1.7h0m0-.3h0m.1-.8h0m.1 .6h0m.1-1.2h0m1.9 1.4h0m.1-.2h0m0-1.8h0m.1 .1h0m.6 2.9h0m.3-.6h0m.1-1.4h0m.1 0h0m.1 .3h0m.2 .6h0m0 0h0m1.9 0h0m.1 .9h0m0-1h0m.3 0h0m.6 .7h0m.2-1.8h0m.7 2.1h0m.9-.8h0m.2-.6h0m0 .6h0m.1-1.8h0m.5 .3h0m0 1.2h0m.8-.6h0m2 0h0m-78.3 2h0m.2 1.9h0m0-.6h0m.4-.9h0m1.1 1.8h0m.5-.9h0m.3 .2h0m.2-1.5h0m.6 .6h0m.2 1.4h0m.6 0h0m.2-.8h0m0 1.5h0m.2-2.3h0m.1-.2h0m.1 2.6h0m.1-.6h0m0-1.5h0m0 .7h0m.4-1.1h0m.5 .6h0m.6 .2h0m.4 .6h0m.3-.9h0m.5 1.1h0m.2-.4h0m1.5-1.6h0m.8 1.8h0m.2-1.2h0m0 1.1h0m.3 .8h0m0-1.5h0m1.2 .1h0m.1 .9h0m1.3 .4h0m.4-1h0m.4 1.2h0m.5-1.5h0m.1 1.3h0m.7-.2h0m.4-.1h0m.6 .6h0m.2-2.5h0m.5 .5h0m.1 1.5h0m1.1-1.5h0m.2 2.1h0m.3-1.7h0m.5-.4h0m1.1 .2h0m.3-.3h0m.2 2.3h0m.6-2.8h0m0 .5h0m2.7 .4h0m.2-.7h0m.5 2.5h0m1.3-1h0m.2-1.1h0m.2-.1h0m3.6 .4h0m.7-.8h0m.1 .1h0m.3 1h0m.5-.2h0m.2 .4h0m.1 .8h0m.1 .1h0m.3 .4h0m1.3-1.8h0m.5 1h0m.1-1.6h0m0 2.5h0m.2-1.4h0m1.3 .2h0m.1-.6h0m.2-.3h0m0 1.1h0m.1 .1h0m1.4-.4h0m.3-1.3h0m1.2 1.3h0m.3 0h0m.7 1.2h0m.2-1.5h0m.8 0h0m.4-.1h0m.3-.1h0m.6 .7h0m.5 .5h0m.3-2h0m.3 2h0m.6-2h0m0 0h0m.4 .8h0m.1 1.2h0m.1-.6h0m.1-1.2h0m.3 2.3h0m.9-.6h0m.3-1h0m1.2 1.5h0m1.5-.4h0m2.2-1.1h0m.3 1.7h0m1.7-1.1h0m.3 1h0m.4-2.2h0m0 2h0m.2-1.4h0m.5-.1h0m0-1h0m0 2.5h0m.2 .2h0m.2-.1h0m.2 0h0m1.7-2.3h0m1.1 .6h0m.6 1.1h0m1-1.9h0m1.4 .2h0m1.1 2.6h0m.3-.2h0m.2-1h0m0-1.7h0m1.6 2.7h0m0-2.2h0m0 .6h0m.2 1.4h0m.2 0h0m.5-2.1h0m.3 .1h0m.2-.3h0m.2 1.2h0m0 1h0m.5-1.5h0m.1 1.3h0m.3-.6h0m.6-1.6h0m.2 0h0m.3 2.8h0m.6-2.4h0m.8 1.3h0m.1-.4h0m1.5-.7h0m1.8 1.7h0m0-.8h0m1 .1h0m.2-.4h0m.3 1.2h0m.2-1.8h0m.5 1.8h0m1.5-.5h0m.3-.3h0m-76.5 4.3h0m1.3-.3h0m.5-.2h0m3.3-.9h0m.4 .5h0m.2 .8h0m.7-1.3h0m2.7 .6h0m.3-.1h0m.3 .4h0m.2-.6h0m1-.7h0m1.1 0h0m.3-.2h0m.2 1h0m.5-.7h0m.3 1.4h0m1.2-2.6h0m.3 1.5h0m.6 1.1h0m.2-.8h0m.1 .1h0m.6-.6h0m.1 .8h0m.4-2h0m.5 1.1h0m.5-.1h0m.2-.6h0m.1 1.5h0m.1 .9h0m.1-.8h0m1.1 .4h0m.2 .2h0m.9-1.4h0m.6 .6h0m.4-.8h0m.1 .5h0m1.2-.8h0m.4 .7h0m.4-1.1h0m1.7-.1h0m.4 1.6h0m.4 .2h0m.2-.4h0m1.2 .4h0m.7-1.8h0m.1 .3h0m.3 1.1h0m.1-1.5h0m.1 2.6h0m0-1.2h0m0-.4h0m0 1.2h0m.9-1.4h0m.6 .7h0m.1-1.2h0m1 .7h0m.2 .1h0m.2-.4h0m2.2-.3h0m1-.5h0m.5 1.6h0m.1 .1h0m.4 .2h0m.5-1.4h0m.9 1.1h0m.7-1.5h0m0 1.1h0m.9 1h0m.8 .2h0m.7-.5h0m.2-.5h0m.5 .6h0m.2-.2h0m0-1.8h0m.4 1.4h0m.6 0h0m.6-.4h0m.4-.9h0m0 2.6h0m.9-2.5h0m.1 1.3h0m.1-1.4h0m.4 .5h0m.1 1.6h0m.2-1h0m.9 .2h0m.1 .3h0m.2 0h0m.8 .7h0m1.5 0h0m1.9-.7h0m.9-.2h0m.5-.3h0m1.2 1.3h0m.3-2.3h0m.3 0h0m.2 2.3h0m.4 .2h0m.6-.9h0m0 .8h0m.3-2.8h0m.1 2.3h0m.3-2.1h0m.2 .6h0m.8 .8h0m.3-.6h0m.6-.9h0m.3 1.9h0m.6-.5h0m1.7 1.2h0m.3-.6h0m.6 .6h0m1.1-.5h0m1.5-1.3h0m.8 .4h0m0-.5h0m.3-.6h0m.2 .8h0m.3-.3h0m.1 .5h0m.4 1.7h0m.8-2.2h0m.9 .2h0m.3-.8h0m0 .8h0m0 .2h0m.9 1.6h0m.7-.2h0m.1-1.5h0m.4 .5h0m.4-1.5h0m.2 1.2h0m.2-.8h0m.3-.1h0m.2-.2h0m.2 2.7h0m.2-.8h0m.3-1h0m.1 1h0m.7-1h0m.3 .6h0m.3 1.2h0m.1-2.6h0m.6 2.6h0m.2-2.7h0m.1 1.3h0m.2 .3h0m.1 .7h0m.9 .5h0m.5-.6h0m.3-.3h0m1.6 .1h0m2.8 .9h0m-79.7 .7h0m.7 0h0m.4 1.9h0m.3-2.3h0m.4 1.8h0m.1-1.2h0m0-.8h0m.3 2.9h0m.4-.1h0m.5-1.5h0m.2 .3h0m.1 .7h0m.5-2.2h0m.1 .9h0m.4 .2h0m.2-.2h0m.8-.2h0m1.7 .5h0m.2 .5h0m.9 1h0m.1-.5h0m.9-1.1h0m.1 .9h0m.6-.5h0m.1-1.7h0m.2 1.1h0m.1 1.8h0m.2-1.5h0m2.8 .5h0m.2 1h0m0-2.9h0m.4 2.7h0m1.2-1.3h0m1.6-1.1h0m.8 2h0m.6 .5h0m.3-.2h0m.1-1.9h0m.1 .2h0m1.3 1.1h0m.3-.7h0m.1 .1h0m.3-.1h0m.4 .1h0m1.7 .6h0m.6-1.6h0m.1 .5h0m.4-.7h0m1.2 2.3h0m1.3-2.4h0m0 .2h0m1 1h0m1.4 1.1h0m.2-.8h0m1.9-1.5h0m.2 2.8h0m.3-.1h0m.9-1.7h0m.5 1.8h0m.6-1h0m0-.7h0m.2-.1h0m0-1h0m.3 2.6h0m.6-2.2h0m1.9 0h0m.3 1.3h0m1-.8h0m.1 .9h0m1-.3h0m1.3-1.6h0m.2 1h0m.2 1.9h0m.8-1h0m.7 0h0m0-1.1h0m.2 1.4h0m1.4-2h0m.5 1.6h0m1.3-.3h0m1.2 1.2h0m.1-.1h0m.6-2.1h0m.8 1.1h0m.2 0h0m2.1 .3h0m.2-.5h0m.7 1.3h0m1.2-.3h0m.4-.3h0m.4-.3h0m.8-.2h0m2-.5h0m.3 .1h0m.3 .8h0m.2-.8h0m1.3-1h0m.6 0h0m.4 .1h0m.3 2.6h0m.2-1.8h0m.1 .3h0m.9 1.2h0m1.4-2.1h0m2.7 .6h0m.3-.9h0m.1 1h0m.3 .6h0m1 0h0m.4 .6h0m1.6-1.3h0m0 1.5h0m.1-.3h0m0-.8h0m.4 1.2h0m1.1 .3h0m.8-2.5h0m.5 2.3h0m1.3-.3h0m.4-.5h0m.7-.5h0m1.8-1.4h0m1.7 2.3h0m.2-.4h0m.3-.3h0m.2 1.1h0m.6-.7h0m.4 .4h0m1.3-2.1h0m1.3 0h0m1.2 2.6h0m-81.7 2.5h0m.5-2.2h0m.1 1.2h0m.3-.4h0m.7-.6h0m.7 .9h0m1 .5h0m.7-1.5h0m.1 1.8h0m0 .8h0m.2-2.4h0m1-.2h0m.1 2.2h0m.7-2.1h0m.5 .9h0m1.1-.5h0m.4 .8h0m.1-1.2h0m1.1 1.5h0m.5-.6h0m.1 .5h0m1.9-1.6h0m.5-.2h0m.2 2.8h0m.1-1h0m.1-.5h0m.3 .7h0m.1-1.9h0m.1 2.2h0m.3-1.4h0m.1 .7h0m.8 .4h0m.5-1.6h0m.7 0h0m.5 .8h0m.1 .4h0m.3 1h0m.2-2.3h0m.2 2.1h0m1.4-1.8h0m.2 2.2h0m.2-2.2h0m.1 .3h0m.1 .3h0m.9-.6h0m0-.7h0m.4 0h0m0 2.6h0m.2-.7h0m1.2-1.8h0m.7 .8h0m.1-.1h0m.2 1.8h0m.3-.4h0m.5-1.4h0m.3-.5h0m.1 1.9h0m1.3-2.2h0m1 1.2h0m.2 .7h0m.1-.2h0m.7-1.4h0m2.7 0h0m.9 1h0m.2 1.1h0m.3-1.2h0m.2 .6h0m.9-.1h0m.7 .3h0m.4-1.7h0m.1 2.6h0m.9-.6h0m.2-.6h0m.3 1.1h0m.9-2h0m.1 .6h0m.5-1h0m1.4 .8h0m1.2-.7h0m0 1.2h0m0-1.4h0m1.3 .2h0m1.9 1.5h0m.4-1.9h0m.3 .7h0m.3 1.7h0m.4-.3h0m0 .2h0m.1-.4h0m.2-.7h0m1.2 1.5h0m.6-.4h0m1.9-2.1h0m.6-.2h0m0 1.4h0m.2 .4h0m.6-.9h0m1 1.9h0m.3-1.1h0m.3 .4h0m.6-.4h0m.5 .3h0m.2-1.8h0m0 .9h0m.3 1.6h0m.9-1.8h0m2.4 2h0m.9-2.7h0m.1 2.7h0m0-.7h0m.7-.6h0m.3-.6h0m0 1.4h0m.3-1.9h0m.4 .7h0m.2-.2h0m.4 .8h0m.2-1.4h0m.1 1.5h0m.3-1.7h0m.8 .4h0m.5 .4h0m.7 .7h0m.4-.5h0m.7 1.2h0m.3-2.5h0m.2 2.6h0m1.1-.1h0m.2-2.5h0m1.7 1.7h0m.5-1.1h0m.5-.5h0m.8 1.1h0m.7-.4h0m.8 .8h0m.8 .4h0m.2-.6h0m.4-.8h0m.1 .6h0m.7-.1h0m.5 .2h0m.6-1h0m0 .8h0m.1 .7h0m1 .3h0m.7-1.3h0m.9 2.1h0m.1-1.8h0m3.6-.8h0m.3 .7h0m.5 1.4h0m.1-1h0m.8 .5h0m.2 0h0m3.7 .7h0m.2 .2h0m.2-.9h0m1.5-.9h0m.2 1.8h0m.4-.7h0m.1 .3h0m.1 .1h0m0 .2h0m.1-1.8h0m.2 1.3h0m.1 .5h0m-88 .4h0m.3 .4h0m.5 .8h0m.1-.5h0m0 2.1h0m1.3-2.5h0m.8 .3h0m1.2 1h0m.4-.6h0m.5 .3h0m.6-.3h0m.4 .6h0m.5-1.5h0m.7 2.6h0m.3 .1h0m0-1.9h0m.1 .1h0m.1 1.6h0m.2-2.2h0m.3 1.9h0m.3-.9h0m.1 0h0m.1-1.3h0m2.1-.1h0m.3 1.7h0m.6-1h0m.4 1.6h0m.1-.5h0m.2 .6h0m.5-.8h0m.1 .7h0m0-.8h0m.1-1.4h0m0 2.2h0m.5 .5h0m1.5-.4h0m.2-2.1h0m.2-.3h0m.5 2.6h0m.2-2.3h0m.1 2.6h0m1.1-2h0m.3 1.4h0m.1-.1h0m0-.6h0m.9 .3h0m.1-.6h0m.1-1.1h0m1.1 2.1h0m.4-1.7h0m.2 1.7h0m.4-.5h0m.1 1h0m.5-2.6h0m1 .8h0m.2-.5h0m2.1 1.3h0m4-1.4h0m.7-.3h0m2.4 1.4h0m0-1h0m.1-.1h0m.1 .4h0m3.4 1.7h0m0-1.7h0m0 1.4h0m.1-1.3h0m.8-.6h0m.2 1.6h0m.6 .3h0m.4 .7h0m1.5-.8h0m1 .7h0m.3-.4h0m.1-1.9h0m.3 .1h0m.1 1.1h0m0-.3h0m.6-.2h0m1.1 1.4h0m0-.6h0m1.3 .8h0m.5-.5h0m0-.3h0m.4-.1h0m.1-1.3h0m.1 .6h0m.1 .6h0m.2-1.9h0m.3 .9h0m.3 1.7h0m0-1.5h0m.2 .5h0m0 .9h0m.3-1.2h0m.2 .9h0m2.2-1.8h0m.1 .1h0m1.3-.4h0m.1 1.9h0m.9-1.4h0m.5 1.4h0m.4-1.7h0m0 1.7h0m.7-1.2h0m.2-.7h0m.7 1.1h0m.1 .9h0m1.4 .9h0m1.3-.5h0m1.7-.8h0m2.6 .1h0m3 1h0m1.3-1.9h0m.4 1h0m0 .2h0m.1-1.7h0m.1 .4h0m.1-.8h0m.3 .7h0m.2 1.9h0m.1-.8h0m0 .7h0m.6-.6h0m.1-1.8h0m.8 .8h0m2.1-.7h0m2.1 .5h0m.3 1.6h0m.5-1.4h0m.3 .5h0m.2-.6h0m1.7-.2h0m2.4 .5h0m.3 1.5h0m1.4 0h0m1.3-2.6h0m.1 1.9h0m.2 .6h0m.5-1.9h0m.8-.1h0m.3 .4h0m.2-.8h0m.2 1.3h0m.1-.7h0m.1 1.4h0m1.6-.8h0m.3 .7h0m.2-1.6h0m.8 2.5h0m.1-2.8h0m0 .7h0m.3 .4h0m.1-.7h0m.8 .8h0m.1 .2h0m1.6 1.3h0m.3 .2h0m.7-1.9h0m.2 1.7h0m0-.7h0m.1-1.9h0m.3 1.7h0m1.4 .2h0m-90.1 1h0m.2 .3h0m.7 2h0m2 .4h0m4.6-2h0m.9 .9h0m.2 .4h0m1 .2h0m1.4 .7h0m.1-.8h0m1.5-1.9h0m.1 .6h0m.5 1.2h0m.5-.9h0m.2 .4h0m.3 .5h0m.4 .8h0m.1-.4h0m.8-2.4h0m.1 1h0m.7 1.1h0m.3-1.8h0m.7-.2h0m.6 1.3h0m.1 1.3h0m.4-2.1h0m1.1 1.6h0m1.3-.7h0m.3-.6h0m1.6-1h0m.6 .1h0m2.8 2h0m.2-.6h0m2.2-.1h0m2.2 .9h0m.8-.6h0m.1 1.1h0m.7-1h0m.1-.8h0m.2 1.8h0m0-2.3h0m.9 2.1h0m.6-2.4h0m.1 2.1h0m.4-.2h0m.6 0h0m.5 .4h0m0-.7h0m.2 1.1h0m.8-1.6h0m2.9 .5h0m.5-1.3h0m.9-.1h0m0 .2h0m.8 0h0m.3 1.9h0m.1-1.8h0m.1 1.4h0m.1 .3h0m.4-.4h0m.2 .1h0m1.5-1.3h0m1.4 1.9h0m.1-1.3h0m0-.8h0m1.1 .4h0m1.8 1.1h0m1.7 .7h0m.3-1.7h0m.3 1.2h0m1.3-1.1h0m6.4 1h0m3.8-1.9h0m2.3 1.4h0m2-1.2h0m.6 .8h0m.6 1.1h0m.3-2.4h0m1.5 2.7h0m.1 .1h0m.1-2.1h0m.1 2h0m.1-2.6h0m1.7 1.1h0m0 .2h0m.3 1.1h0m.2-2.4h0m.5 1.7h0m.3 .1h0m0-.2h0m.4 .2h0m.1 .8h0m.6-2.6h0m.3 1.7h0m.1 .1h0m1.4-1.7h0m.3 .1h0m.1 2h0m.6-.4h0m.3-.9h0m2.9-.5h0m1.2 0h0m2.6 2.1h0m.1-.3h0m0-.7h0m.8-1.5h0m.8 1.5h0m.2 .4h0m2.1 1h0m0-.3h0m.8-2.1h0m.1 .8h0m1-.1h0m.1 .1h0m.2 .5h0m.5-1.8h0m.1 1.4h0m.2 .5h0m0 .1h0m.2-2h0m1.4 1.9h0m.3 .4h0m-90.8 3h0m0-1.5h0m.4-.4h0m.3 1.1h0m.3 .7h0m.3-2.2h0m.8 .6h0m.5 .7h0m.7-.6h0m0 1.3h0m.1 .5h0m.4-2.5h0m.8 1.6h0m.5 .7h0m0-2.1h0m0 1.2h0m1.3-1h0m.8 0h0m.5 .2h0m.3 1.8h0m.2-1.7h0m.3 1.1h0m.1-1.7h0m.2-.2h0m.8 1.8h0m.3-.8h0m1.1 0h0m.6 .7h0m.1-.2h0m.4-.1h0m.4-.6h0m.9 1.2h0m.7-1.6h0m1.8 .9h0m.1 .8h0m.6 0h0m.2-.8h0m.1 .2h0m.9-.9h0m.5-.3h0m.8 .7h0m.9-.5h0m.1 2.4h0m.4-2.1h0m.2 .7h0m.9 .1h0m.2 1h0m.4 .2h0m2.3-.9h0m1.1-1.8h0m.8 1.8h0m1.2-.7h0m.4 1.6h0m.8-1.6h0m1.9 0h0m2.3 .1h0m1.1 1.5h0m.9-.9h0m.2 0h0m.6 .1h0m.2 0h0m0-1.2h0m.6 1.2h0m.1-1.7h0m2.1 2h0m.7 .2h0m.1-2h0m.5 1h0m1 .6h0m.4-1.3h0m.4-.5h0m0 .5h0m.9-.2h0m.1 .5h0m.1 1.8h0m.5-1h0m.3-.9h0m.3 1h0m.1-1.2h0m.2 .3h0m.4 .7h0m.5 1.1h0m.1-.6h0m.3-1.8h0m.2 2.2h0m.3-2.5h0m.2 2.2h0m.2-2.1h0m.1 1.1h0m.3 .3h0m.2-1.2h0m.5 .7h0m.7-.8h0m1.1 1h0m.1-1h0m1 .3h0m.9 2h0m.4-.6h0m.2-.4h0m1.6 0h0m.4-.3h0m1.9 .4h0m.2 .3h0m0 .5h0m1.1 .1h0m4.5-1.5h0m.2 .4h0m.2-.6h0m.4-.6h0m.6 1.9h0m2.3-.3h0m1.1 .7h0m1-1.4h0m.2-.6h0m.7-.1h0m.5 1.9h0m.6-.5h0m2.5-.4h0m.1-1.3h0m.2 .1h0m.1 1.9h0m.3 .3h0m.4-.3h0m.6-.3h0m.3-1.4h0m.1 .8h0m1.3 .2h0m.3 1.1h0m1.3-1.6h0m.1 1.7h0m.1-.3h0m.6-.6h0m.3 .4h0m1.9 .2h0m1.8-1.9h0m.5 2.1h0m.1-.4h0m.1-.9h0m1.5 1h0m.7-1.6h0m2.2-.8h0m.3 1.5h0m.1 1.3h0m.1-.3h0m1.1-2.2h0m1.3 .6h0m0 1.7h0m.1-1.7h0m.1 .7h0m0 1h0m.3-2.1h0m.3 .7h0m.2 1.6h0m.4-.3h0m-89.3 1.4h0m.9-.9h0m.9 .3h0m.8 1.1h0m1-.3h0m1.4-.7h0m2.1 1h0m1.4 1.5h0m.3-.8h0m.3-.3h0m.3-1.5h0m1.1 2.6h0m.3-2.9h0m.2 2.6h0m1.3-2.6h0m.1 2.2h0m.1-.8h0m.1-1h0m0 2.2h0m.3-2.4h0m.4 1.6h0m.3 .4h0m.3-1.1h0m.3 1h0m.3 .9h0m1.1-.9h0m.2-1.3h0m.5 1.5h0m.2-.6h0m1.3-1.5h0m1.1 1.8h0m.8-.5h0m.1 .8h0m.2 .3h0m.4-.8h0m.5 1.2h0m.1-2.8h0m1.1 2.1h0m.1-1.1h0m1.6-.7h0m.1 .1h0m.5 .6h0m.1 1.2h0m.4-.1h0m.1 .5h0m1.5-.8h0m1-.4h0m.4-1.2h0m.5 1.6h0m0-.7h0m.2-.8h0m.3 1.1h0m.8 1h0m0 0h0m.5-.8h0m0-.2h0m.2-1h0m.6-.2h0m.2 .1h0m1 1.1h0m.2 .5h0m.6-1.3h0m.5 2.2h0m0-1.1h0m.8 0h0m.4-1.8h0m.5 2.3h0m0-.8h0m.2-1.1h0m1.8 .4h0m.3-.4h0m0 2.3h0m.1 .1h0m.1-1.1h0m.5-.7h0m.5-.3h0m.2-.3h0m.1-.1h0m.2 1.8h0m.5-.3h0m.6-1.5h0m.5 .9h0m.3-1.1h0m.3 .6h0m1.3 .1h0m.8-.5h0m.8 1.4h0m0-1.2h0m.6 1.4h0m.5-1.1h0m.4 1.4h0m.6 0h0m.3 .2h0m.6-2.3h0m1.6 .2h0m1.5 2h0m.7-.6h0m.5 .2h0m.2-.9h0m.7-.4h0m.2 .5h0m.2 .8h0m.1 0h0m1-.2h0m1.3 .7h0m.1 .2h0m.9-.3h0m3.2 .5h0m.2-2.9h0m1.4 .8h0m.6 .2h0m3.3 1.8h0m.6-2h0m.4 .5h0m.4 .4h0m1.3-.5h0m.3-.6h0m.7 1.2h0m.1-1.7h0m.2 .2h0m0 1.1h0m1.4 .6h0m.1-1.2h0m.5-.3h0m.3 .8h0m.3 0h0m.1 .7h0m1.7-.4h0m.4 .3h0m.2-.9h0m.2-.5h0m.4-.1h0m.2 .3h0m.2 2.1h0m.4-2.1h0m.2 .3h0m.5-.6h0m.5 .2h0m.2 1.6h0m.5-2h0m.1 .1h0m.8 1.6h0m.5 .4h0m.1 .6h0m.9-1.7h0m.3 .8h0m2.3-.3h0m.5-.5h0m.6 .1h0m1.2 .6h0m.7-1.8h0m.9 1.1h0m.4 .1h0m.1 .4h0m2.2-.7h0m-80.2 4h0m.4-.3h0m1.6-1.4h0m.6 .3h0m.3-.4h0m.8 1.1h0m.2-.8h0m0 1.6h0m0-1.4h0m.2 .8h0m.3-1.3h0m0 .7h0m0 .5h0m.1 .6h0m0-2h0m0 .5h0m3.3 1.7h0m.2-.4h0m.1 1h0m.2-.4h0m.1-2.2h0m.4 .8h0m.2-.1h0m.4 1.3h0m2.2 0h0m.1-2.1h0m.6 1.5h0m1.8 1.1h0m1.9-.4h0m.7-1.6h0m.2 .5h0m.5-.4h0m.7 1.9h0m1.7 .2h0m0 0h0m.3-1.4h0m.2 .2h0m2 1.3h0m.3-2.7h0m.4 2.3h0m.3-2.4h0m.1 .9h0m0 1.6h0m.1-1.2h0m.3 .2h0m.1-.3h0m.8 .6h0m.3-1.8h0m.7 1.7h0m.8 .9h0m.2-.1h0m.8 0h0m.1-2.1h0m.1 .9h0m.4-.8h0m.4 2.3h0m0-1.1h0m.2-1.5h0m.2 .4h0m.7 1.4h0m.7 .5h0m1.1-.4h0m.5 .1h0m.3-.3h0m.1 .3h0m1.2-.8h0m1 1.2h0m.5-.7h0m.6-.3h0m1-.7h0m.3 1.6h0m.4-2.5h0m.6 .5h0m.3-.4h0m.9 2.6h0m0-.3h0m.6-2.3h0m.2 2.3h0m1-.8h0m0-.8h0m.5-.7h0m.4 1.1h0m.1 1.5h0m.3-.5h0m.3-1.1h0m.2 1.1h0m.2-.7h0m.5-.1h0m1.2-1.1h0m0 .5h0m0-.2h0m.3 1.6h0m.9-1.8h0m.6 1.7h0m.2-.6h0m.2-1.6h0m.4 1h0m.7 .3h0m.1 .9h0m0-.1h0m.3-1.7h0m.5 2h0m.3-.5h0m.3 .1h0m.5 .4h0m.3-.1h0m.8-1.7h0m.1 .8h0m2.1-1.4h0m.1 1.2h0m1.1 1.1h0m.4-.6h0m1-1h0m3-.4h0m1.6 1.3h0m.2-.9h0m2.2-.7h0m.1 .7h0m.1-.7h0m.2 .5h0m.9 1.9h0m.4-1.2h0m.2-.6h0m.4 1.8h0m.1-2h0m0 2h0m.2-1.5h0m.6 1h0m1.2-.7h0m.4 .6h0m0-.9h0m.1 .1h0m1.3-.4h0m.3 1.9h0m0 .1h0m.6-2.3h0m.2 2.3h0m.9-1h0m.5 .5h0m.3 .5h0m.1-1.5h0m1.6 1.6h0m.6-1.3h0m.5-1h0m.1-.1h0m.3 2.1h0m.5 .1h0m.7-1.9h0m.2-.6h0m.9 .6h0m.9 0h0m.5 .4h0m2.4 .2h0m.5 .6h0m.3-1.5h0m.1 2.2h0m-78.4 1h0m1 1.4h0m.4-.8h0m.5-.1h0m.5 .3h0m.1-.9h0m0 .8h0m.2 .4h0m.4-1.4h0m.3 0h0m.2 .6h0m.2 1.1h0m.8-1.4h0m.1 2.4h0m.2-2.2h0m.1 .5h0m.3-.1h0m0-.7h0m.7 1.4h0m1.9-.4h0m.4-.9h0m.4 2.4h0m.6-2.5h0m.1 1.7h0m.4 .5h0m.4-2.3h0m1.9 1.9h0m.5-.3h0m.5-1.5h0m.1-.3h0m.3 .7h0m.4 0h0m.7 .8h0m.3-1.6h0m1.1 .9h0m.5 .5h0m.2 1.4h0m1.3-.1h0m.2-1.7h0m.1-.5h0m0-.1h0m.1-.2h0m.4-.3h0m.4 .7h0m0 2.3h0m0-1.9h0m.4 1.3h0m0-.2h0m1.3 .2h0m.3-1.8h0m.2 .9h0m.3-.4h0m.2-.6h0m0 1.4h0m0-1.7h0m.5 0h0m.2 0h0m0 2.8h0m.2-1.3h0m.1-1h0m.1-.5h0m.6 0h0m0 .2h0m.8 0h0m.1 .2h0m1.7 1.3h0m.6-.5h0m.8 1h0m2.6-2.3h0m.1 0h0m0 1.1h0m.4 1.2h0m.6 0h0m.6 .4h0m1.7-2.6h0m.8 2.7h0m.1-2.2h0m.6-.6h0m.2 .7h0m.4 1.3h0m.5 .7h0m1-1.6h0m1.8 1.7h0m.5-.3h0m.6-.2h0m1.6 .4h0m.1-1.9h0m0-.5h0m.5 1.2h0m0-1.2h0m.9 2.2h0m0-.2h0m1 .2h0m1-1.4h0m.3 1.7h0m.2-1.4h0m.2 1h0m0-.6h0m.9-1.2h0m.5-.3h0m.1 2.5h0m.3-.5h0m.4-1.2h0m.2 .6h0m.9 .7h0m.6-1.2h0m.3 1.5h0m1-2.4h0m.1 1.4h0m.6 .7h0m1.5 .1h0m.5-.4h0m1 .4h0m.6-1.9h0m.2 1h0m3.7 1.3h0m.4-1.7h0m.1-.9h0m.9 2.2h0m.2 .2h0m.2-.4h0m.5-.2h0m.1-.8h0m.1 .6h0m.3 .6h0m.6-.7h0m.1-1.5h0m1 .6h0m.5-.7h0m.4 2.3h0m.1-.1h0m.6-.4h0m0 .2h0m1 0h0m1-1.7h0m0 1.8h0m.2-2.4h0m.4 .5h0m.8 .6h0m.7-.2h0m.4 .9h0m.5 .5h0m.7-1.1h0m.1-.3h0m0 1.1h0m.5-.2h0m.3-.6h0m.8-1.1h0m0 .3h0m.4 1.3h0m.2-1.3h0m.3 .9h0m.4-.2h0m0 1.6h0m0-2.2h0m.7 .8h0m.1-.4h0m0 .1h0m.3 1h0m.1-1.1h0m.7 1.3h0m.7-.1h0m.1-1.8h0m0 2.7h0m.3-.3h0m.5-1.6h0m2.2-.7h0m.1 .4h0m.1 .2h0m.1 .3h0m-78.1 2.9h0m.3-.7h0m.2 .8h0m.3-.5h0m.1 .3h0m.8-.1h0m1.3-.1h0m.5-.7h0m.6 1.7h0m.2-1.7h0m.8 0h0m.2 2.3h0m.7-.8h0m.6-.6h0m.2 0h0m.1 1.7h0m.7-.7h0m0-.8h0m.8-.3h0m.9 1.7h0m0-1.1h0m.1 .9h0m.5-.5h0m.3-.3h0m.9 .8h0m.7-1.1h0m1.8-.1h0m.3 .3h0m.3-1h0m.4 .3h0m.4 1.6h0m2.6-1.3h0m.2 .4h0m.6-.7h0m.5 2h0m.2-.4h0m.2-1.5h0m1.6 .8h0m.1-1.1h0m1.3-.4h0m1 2.7h0m.6-2.9h0m.3 1.7h0m0-.9h0m.4 1h0m.4 1h0m.2-.5h0m.7-2.4h0m.3 2.8h0m.9-2.3h0m1 .5h0m.2 0h0m.2-.5h0m0-.4h0m.2-.1h0m2.4 2.3h0m0-.2h0m.9-.4h0m.5-.2h0m.5 1.3h0m.4-2.3h0m.3 .7h0m.2 1.3h0m.2-.6h0m.4 .9h0m.4-2.1h0m.1-.5h0m.7 .2h0m.6 1.4h0m1 1h0m.8-2.5h0m.2 2.5h0m.2-2.3h0m.3 2.2h0m0-.3h0m0 .2h0m.8-.3h0m.6-1.2h0m1.8 .3h0m.4 .1h0m.4 1.4h0m.5-.1h0m.3-.8h0m1.3-.8h0m.3-.7h0m.6 .2h0m.6 2.2h0m.2-2.6h0m.1 2.2h0m1.3-.8h0m1.1-1h0m0 2.2h0m.8-1.7h0m1.6 .7h0m.5 .4h0m3.4 .5h0m1.3-2.1h0m1.4 1.1h0m.6 .3h0m.8-.3h0m.4 1.1h0m1.1-1.5h0m.1 1.2h0m1.5-.2h0m.2 .1h0m.5-2.1h0m.2 1.1h0m.2 .6h0m0 .1h0m.4-1.8h0m0 1.1h0m.3-.6h0m.3 0h0m.6 1.6h0m.3-.5h0m.4-1.6h0m.6-.4h0m.4 1h0m.5 1.6h0m.3-1.2h0m1 .7h0m.1 .8h0m.6-.3h0m.7-.4h0m.1-.2h0m0-1.8h0m1.4 1.6h0m.9-.6h0m.3 .6h0m1.2 .2h0m1.9-.7h0m.3 1.2h0m1.6 .1h0m.4-.8h0m1.3 .5h0m-77.9 3h0m.2-2.2h0m.5 .8h0m.6 .5h0m.7-1.3h0m.1 .9h0m.1 1.7h0m0-.4h0m1.5-.7h0m.1-.1h0m.1-1.2h0m.1 2.1h0m1.1 0h0m.3 .6h0m.2-1h0m2.3 .8h0m1.2-.6h0m.1-1.1h0m1.8 1.4h0m.3-1.1h0m0 .3h0m.6-.2h0m.3 .4h0m.3-1.8h0m.1 1.4h0m1 .2h0m.1-1h0m.2 2.3h0m.2-1.2h0m1.1-1.7h0m.1 1.9h0m1.2-.3h0m0 .5h0m.1-.7h0m0-.2h0m.8-1.2h0m.7 .9h0m.7 1h0m.1-.1h0m.3 .7h0m.1-1.1h0m.4 .9h0m.3-.2h0m2.1-.7h0m.2 .1h0m.1-.6h0m.8 1.6h0m1.5 .2h0m.4-.2h0m.1-1.8h0m.4 1.9h0m.1-1.1h0m.1 .4h0m.2-.7h0m.4 .6h0m.4-.4h0m.2 .7h0m.2-.5h0m.6-.5h0m.2-.3h0m.3 1.8h0m.2-.1h0m.2-2h0m2.1-.6h0m3.4 1.9h0m1.2-.3h0m.1 .5h0m.4 .7h0m0-.3h0m.8-.1h0m.3-2.3h0m.1 2.5h0m.6-1.1h0m.1 .7h0m.5 .6h0m.2-2.5h0m1.2 1.2h0m.3-.1h0m.1 .7h0m0-.5h0m.2-1.6h0m.3 2.2h0m.9 .4h0m.7-.8h0m1.2-1.2h0m.9 1.5h0m0-1.8h0m.2 0h0m.1 2.7h0m.2-1.9h0m0-.2h0m.6 .9h0m.1 1.1h0m.1-2.2h0m.4 .8h0m0-.5h0m.4-.5h0m1.5 .5h0m.2 .9h0m.1-1.5h0m.1 .9h0m.5 .8h0m.3-2h0m0 1.3h0m.2 .6h0m0 .7h0m.8-.1h0m.2-.1h0m.6-2.1h0m0 0h0m.1 2.4h0m.1-1.8h0m.1 1.9h0m.4-.4h0m1.2-2.5h0m2.4 .2h0m.1 .9h0m.4 0h0m.3 1.9h0m.1-1h0m.6-.6h0m.6 1.2h0m.1-.6h0m.1 .8h0m.8-.4h0m2.7-2h0m.4 1.9h0m0 .6h0m.8-.7h0m.6-.2h0m.2 .5h0m.7-1.7h0m.2-.2h0m0 1.4h0m1.8 .4h0m.6-.6h0m.2 .2h0m0-1.4h0m0 .8h0m.5-.3h0m.4-.3h0m1.5 1.8h0m.1-.4h0m.6-1.2h0m1.7-.5h0m1 .3h0m1.1 1.3h0m1.5 .5h0m.1-.4h0m.2 .5h0m.6-2.3h0m-73.3 3.5h0m.5 .7h0m.7 .9h0m.4-2h0m.4 1.6h0m.8-.4h0m.9 .5h0m0-.4h0m.1-1.5h0m.5 1.6h0m0-1.4h0m1.4 2h0m.6-2.4h0m.3 2.2h0m.8-.4h0m0-1h0m.2-.5h0m1.4 2.4h0m.1-1.1h0m.2-.7h0m0-.6h0m.5 0h0m.4 2.5h0m0-2.5h0m.3 2h0m.2-1.1h0m.3-1.2h0m.3 1.1h0m.6-1.1h0m.3 .9h0m0-.7h0m.4 .8h0m.1-.5h0m.7 .8h0m.2-.2h0m.6-.5h0m.1 1.4h0m1.2-1h0m.6 .1h0m.2-.8h0m.2 1.2h0m.1-1h0m.6-.2h0m.1 1.4h0m1.2-.6h0m.6 .3h0m.3 1.4h0m.2-2.5h0m0 .5h0m.7 1.6h0m.1-2h0m0-.3h0m.8 .4h0m.4 .1h0m.7 .6h0m.1-.8h0m.3 2.4h0m1.3-2.7h0m.4 .7h0m.7 .6h0m.7 1.1h0m1-2.2h0m2.6-.2h0m2.8 .4h0m2.1 .7h0m.6 1.2h0m.3-1.7h0m.6-.6h0m.9 1h0m1-.8h0m.8 0h0m.1 .2h0m.3 .1h0m.3 .6h0m1.3 1.7h0m.1-2.6h0m1.1 1.5h0m.3 .7h0m.6-2.2h0m.5 2h0m.1-.5h0m.6-1h0m.3-.8h0m.2 1.4h0m.1 .3h0m.6-.2h0m0-.2h0m.4 .8h0m.2 .1h0m.6-1.6h0m1.3-.1h0m.1-.3h0m.7 .5h0m.2-.2h0m1 1.8h0m1.1 .2h0m.2-1.5h0m.5 1.9h0m.2-.5h0m.2 .1h0m.1-.5h0m.9-1.2h0m0 .2h0m1.1-.1h0m1.8 1.2h0m.1-2.1h0m.2 2.4h0m1.7-1.2h0m.5 .5h0m.4-1.3h0m.1 1.3h0m.1 .5h0m.4 0h0m.1-.2h0m.2-1.8h0m.2 0h0m1.4-.1h0m.7 0h0m.3 1.3h0m.2-.9h0m.2 .9h0m.4 .8h0m.2-1.4h0m.4 1h0m.1 .9h0m.4-.4h0m.1 .1h0m.1 .2h0m2.4-2h0m1.1 .1h0m.4 1.9h0m.2-2h0m0 .3h0m.6-.9h0m.1 2.5h0m1.1 .3h0m.9-.7h0m.7-2.1h0m.3 1.9h0m.1 .5h0m0-.7h0m.4 1.2h0m1.4-1.1h0m.5-.2h0m.7 .2h0m-72.5 2.8h0m1.4 .2h0m.4-1h0m0-.5h0m.5 1.4h0m1.4-.8h0m.3 .2h0m.2-1h0m.2-.1h0m.4 2h0m.4-.9h0m.4 .2h0m.7 1.4h0m.6-2.4h0m.6 1.8h0m.1 .8h0m.2-1.4h0m.2 .4h0m.2-.4h0m.2-.4h0m1.2 0h0m.2 1.5h0m.8-2.6h0m.2 .3h0m.1 1.4h0m.3 .4h0m.5-1h0m.4 .6h0m.6 .8h0m0-1.2h0m.7-1.1h0m.7 .3h0m.1 1.6h0m.6-.9h0m.1 .1h0m.3-1.2h0m.4 .9h0m.4-.3h0m.8 .8h0m.1 1.1h0m.2-2.3h0m.3 .5h0m1 1.1h0m.4-1.3h0m.3 .7h0m.8-.9h0m.9 2h0m.1-.5h0m.1 .5h0m.2-.2h0m.1-.2h0m.1-.3h0m.3 1.2h0m.5-.8h0m1.9-1h0m.5-.9h0m8.7 2.7h0m1.9-1h0m.3-1.1h0m.4-.8h0m.4 2h0m.6 .4h0m.1 .3h0m.5 0h0m.1-1.2h0m.8-1.3h0m.3 1.1h0m.8 .3h0m1.5 .9h0m.4-.6h0m.8-.6h0m0 .1h0m1.5 .5h0m0-1.4h0m.2-.5h0m1.3 1h0m0 1.4h0m.4-1.4h0m0-.4h0m.8 .2h0m.1 1.3h0m.4-.6h0m.4-.3h0m.3 1.2h0m.2-1.4h0m.2 .5h0m.4-.5h0m.6-.1h0m.7 1.6h0m.9-.4h0m1-2.2h0m.1 2.7h0m.2 .1h0m.9-.4h0m.4-.3h0m.3 .9h0m.1-2h0m0-.5h0m.3-.3h0m.1 1.6h0m1.2 .4h0m.7-1.6h0m0 .2h0m.1 .8h0m1.4-.4h0m.4 .9h0m.5-.9h0m0 1.2h0m.5-.7h0m1.1 .8h0m.5-1.4h0m0 .9h0m.3-1.1h0m1.2 1.5h0m.3-2.1h0m0 1.6h0m1.2-1.6h0m.4 .7h0m.4 .1h0m1.4-1h0m.6 1.2h0m1.7-.5h0m1.5 2.2h0m.1-2.4h0m.1 1.4h0m.4 .2h0m.2-.1h0m-69.6 1.4h0m.6 1.5h0m.9 .9h0m.1-.8h0m1 .6h0m.2-2h0m1.4-.1h0m.1 2.1h0m.1-.8h0m.6-.8h0m0 .7h0m.1-1h0m.5-.4h0m.7 .7h0m.2 1.8h0m1.5-1.3h0m.5 1h0m.6 .3h0m.5-.3h0m0-2.5h0m.7 1.7h0m.6-.3h0m.7-.5h0m1.3 .7h0m0-.8h0m0 1.1h0m.8 0h0m.5-.5h0m.3-.6h0m1 .3h0m.3 1.4h0m.1-.9h0m0 0h0m1.4 0h0m.9-.6h0m.7 1.5h0m.2-.8h0m0-1.5h0m.4 .8h0m.1 .4h0m.3 .3h0m.5-.1h0m.4 1.1h0m.5-1.1h0m.6 1.1h0m.1-1.3h0m.3 1.3h0m1.3-.4h0m2.3-1.9h0m.3 2h0m1.2 .1h0m1.2-.8h0m.4 1.2h0m3.4-1.8h0m.5 .9h0m.3 .4h0m.4-.1h0m.6-1.1h0m.3 0h0m.4-1.1h0m.2 1h0m.2 .9h0m.1 .4h0m.5-1h0m.4-.3h0m0 .5h0m0-.5h0m.3-.4h0m.1 1.8h0m1-2h0m.7 .5h0m.1 1.6h0m.4-2.2h0m.2 1.3h0m.9 .3h0m.1-1.3h0m.8 1.1h0m.2 .1h0m.3-.2h0m.9-.3h0m.7 1h0m.6-1.9h0m.6-.2h0m0 2.2h0m.3-.7h0m.2-1.2h0m.2 2.2h0m0-1.5h0m.3 .9h0m.3 .5h0m.1-.9h0m1.4-1.1h0m.5 .5h0m.5 .9h0m.6-2.1h0m.2 1h0m.2-.3h0m1.7 .6h0m0-.7h0m.6 .6h0m.4-.4h0m.5-.8h0m.6 .4h0m.1 .3h0m.2 1h0m2.2-1.1h0m.5 1.3h0m.4-1.9h0m1.2 2.3h0m.5-2.1h0m.2-.1h0m.4 .2h0m.7 .9h0m.2 .5h0m.3 .5h0m.1-.1h0m1-2.1h0m0 1.4h0m2 0h0m.1 1.3h0m.6-1.5h0m0 .2h0m.5 0h0m.4-1.4h0m.7 1.6h0m.9-.1h0m.1-1.1h0m.2 .3h0m1.1 .9h0m.4-1.4h0m0 1.6h0m1.1-1.4h0m-68.1 4.3h0m1.5 1.2h0m.9-1.5h0m2 .5h0m.1 .7h0m.2-2.3h0m.6 1.7h0m.2-1.8h0m1.3 1.7h0m.4 .5h0m.7-1h0m.7-.4h0m.1 1.7h0m1.6-1.5h0m.4 .9h0m0-1.5h0m.3 .4h0m.3 .2h0m0 .4h0m.9-.2h0m1.9-.4h0m.3-.2h0m2.3 2h0m.9 .1h0m.2-.3h0m.2-.6h0m.7-.6h0m.3 1.3h0m.2-2.3h0m.4-.3h0m1.3 .8h0m0-.9h0m.3 2.3h0m0-.3h0m.3-2h0m.5 1.8h0m0 1.1h0m.6-.3h0m.3-1.4h0m1.2 .8h0m1.6 .7h0m.1-.5h0m.2-1.3h0m1.1 1.3h0m0-1.6h0m2 2.1h0m0-2h0m.1 2.2h0m0-.7h0m.5-.4h0m.2 .4h0m.4-1.5h0m0 1.4h0m.5 .2h0m1.2-1.2h0m.3 1.2h0m.4-1.5h0m.1 1.4h0m.4 .1h0m.3 .5h0m.4-1.1h0m.1-1.4h0m.1 .4h0m.3 .2h0m.3 .6h0m.5 .7h0m.1-.7h0m.6-1.2h0m2-.3h0m0 2.1h0m.1-.5h0m0 .5h0m.2-.8h0m0-.9h0m1.9 2h0m1.9-1.9h0m1 1.9h0m.2 .1h0m.9-1.9h0m.1 .6h0m0-.8h0m1.3 1.4h0m.6 .1h0m.1-.5h0m0 .9h0m.6 .3h0m1.4-1.1h0m1.1-1.1h0m.1 1.7h0m.6 .4h0m1.2-.3h0m.5-1.1h0m0 1.5h0m.2-1.4h0m1.2 .6h0m.1-.1h0m0-1.2h0m.5-.2h0m.6 .7h0m.6 .1h0m.2-.3h0m.2 .5h0m.1 .9h0m.2 .2h0m1.4 .3h0m.4-1.3h0m.2 1.4h0m.1-.6h0m.6-1.8h0m.2 .4h0m.1 .9h0m.5-1.6h0m1 1.8h0m1 .7h0m.2-1.2h0m.3 0h0m.7-.9h0m.5 .1h0m.4 1.6h0m.3-1.9h0m0 0h0m.4 .8h0m.1 .8h0m.1 1h0m.1-1.9h0m.2-1.1h0m.5 2.1h0m.8-2h0m.6 .6h0m.4-.5h0m1.5 1.6h0m-68.1 1.9h0m.1 1.6h0m1.6-1.6h0m0 2h0m.5-1.2h0m.1-.2h0m.2-1.3h0m2.5 .9h0m.7-.6h0m.1 .7h0m1 1.9h0m.2-1.5h0m1 1.1h0m1.2 .3h0m.6-.1h0m1.1-2.3h0m.7 1.4h0m.4-.5h0m.4-1.1h0m.9 1.9h0m.1-.6h0m.3 .1h0m0-.4h0m.2 1.4h0m.7-2.1h0m0 .5h0m1.5 1.5h0m.1-1.7h0m.7-.4h0m2.1-.4h0m.6 .5h0m1.4 1.3h0m.5 .2h0m.7-1h0m.2-.5h0m.6 0h0m.1 1.1h0m.2 0h0m.3-1.3h0m1.7 .8h0m.4 .3h0m.1 .5h0m.2 .1h0m.1-.5h0m.9-.9h0m.2 1.8h0m.3-.8h0m.2-.3h0m1.3 .3h0m0-.5h0m0-.1h0m2.9 1.4h0m.5-2h0m.2 1.2h0m.4 .2h0m.2-1h0m.3 .9h0m.1 1h0m.1-2.5h0m.9 1.3h0m0-.2h0m.7 .3h0m0-.6h0m.6 .7h0m3.1-.6h0m1.3 .5h0m.1-1.5h0m.1 .3h0m.3 .7h0m1.2 0h0m.4 .7h0m.5-1.2h0m.7 .5h0m.3 1.1h0m0 .5h0m.9-2h0m.5 .4h0m.7 .6h0m.4-.6h0m.1 .8h0m.3 .5h0m0-.5h0m.7-1.1h0m.2-.3h0m.3 1.3h0m.6-.5h0m.3 1.5h0m.1-2.8h0m.8 2.5h0m.4-2.1h0m.1 1.5h0m.6 1h0m.1-.9h0m0-.6h0m.1 1.4h0m1.3-2.4h0m.1-.4h0m.3 1.8h0m.2-1.1h0m.2-.6h0m.2 .1h0m.1 1.3h0m.4 .8h0m1.2 .3h0m.6-1.8h0m1.1 .2h0m.1 .1h0m.1 1.8h0m.1-.8h0m.4-1.2h0m1.8 .8h0m0-1.4h0m.1 .4h0m1.5 1.2h0m0-1.2h0m.6 1.3h0m.3-1.9h0m.8 .7h0m.6 .6h0m.7-1.1h0m.7 2.2h0m.1 .1h0m.2-.7h0m.3-.5h0m.3 1.1h0m.6-1.2h0m.6 .9h0m-66 1.7h0m1.2 1.1h0m.6-.1h0m.4 .8h0m1.3-1.8h0m1.5-.1h0m0 .9h0m.2-.5h0m.8-1.2h0m.5 .4h0m1.2 1.2h0m0-1.6h0m.1 1.2h0m.3-.5h0m.8 2.2h0m0-1.2h0m1 0h0m.7-.5h0m.1 0h0m.3-.9h0m.1 .1h0m0 1.8h0m.2-2h0m.1 2.8h0m1.9-.7h0m1.4-2h0m1.7 2.1h0m1.6-2.3h0m2.2 2.1h0m.4-1.8h0m1.2 .3h0m.9 .4h0m.6 1h0m.5 .7h0m2.5-2.3h0m.4 .8h0m.6-.6h0m0 .6h0m.5 .5h0m.1-.1h0m1.2-1.3h0m1.4 2.6h0m.2-.6h0m1.7-.3h0m1.1-1h0m2.3-.8h0m1.1 1.4h0m1.3-1.1h0m.3 1.8h0m.5-1.4h0m.1 .6h0m0-.6h0m.6-.6h0m.6 .8h0m.3 1.4h0m.3-1.6h0m.4 1.3h0m.3-1.1h0m0-.5h0m.7 .1h0m1 .3h0m.1 1.3h0m.1 .1h0m.3-1.5h0m.5-.5h0m.5 .5h0m.9 1.9h0m.2-1.6h0m1.1 1.6h0m1-1.4h0m.4-1.2h0m1 .7h0m.6 .2h0m.4-.9h0m.4 2.6h0m1.8-2h0m0 1.3h0m.2 0h0m.3 .1h0m.3-.7h0m1-.6h0m.6-.7h0m.2 1.3h0m.3 .6h0m.5 0h0m.2 .5h0m1.2-1h0m.3 .1h0m1.6-1.1h0m.3-.6h0m.2 2.8h0m.8-1h0m.9-1.1h0m0 .2h0m.4 .9h0m.1-1h0m1.4-.7h0m.1 2.5h0m1.3-1.7h0m.9-.3h0m-65.2 2.9h0m.5 .4h0m.6 .7h0m1.2-1.7h0m1.6 2.2h0m.5-1.4h0m.4 .3h0m.2 1.3h0m.2 .2h0m.4-1.2h0m.2-.1h0m.1-.5h0m1.3 1.3h0m1.5 .3h0m.2 .1h0m.1 .4h0m.5-1.5h0m1.1 1.4h0m.4-1.7h0m.4 0h0m.5 1.9h0m.8-.7h0m1.1-1.3h0m.3 .9h0m.2-1h0m.9 1.7h0m.4-2.5h0m.3 .6h0m.3 2.3h0m.5-1.5h0m.1 1.1h0m3.7-1.1h0m1.1-.7h0m2.9 0h0m.3 1.1h0m.5 .8h0m.1 .1h0m.4-.8h0m0-.8h0m.1-.3h0m0 1.3h0m0-1.8h0m.1 1h0m.4-.1h0m.1-1h0m.7 .9h0m.4-1h0m.3 2.5h0m.3-.5h0m.2 .2h0m.1 .3h0m4-.3h0m.9-2h0m.2 2.6h0m1.3-2.2h0m.3-.4h0m.1 0h0m.2 1.1h0m.1 .2h0m.5 .6h0m.2-.1h0m.2 .5h0m1-2.2h0m.1 2.1h0m.5-.3h0m.3-.8h0m0 1h0m.8-.7h0m.1-1h0m.2-.4h0m0 .8h0m.8-.6h0m.6 2.1h0m.2-1.9h0m.3 .4h0m.3-.4h0m1.4 1.2h0m0-.5h0m.5-1.2h0m.2-.2h0m.2 2.4h0m1.6 .5h0m.6-1.5h0m.2-1.5h0m1.9 .5h0m.4 2.4h0m.2-1.3h0m.2 1.1h0m.2-2.7h0m.2 1.5h0m.2 .1h0m0-1h0m.5 0h0m.6-.4h0m.2 1.3h0m.5-.5h0m.1-.9h0m.3 2.8h0m0 .1h0m1.3-1.3h0m.4-.3h0m.2 .7h0m.4-1.7h0m0 .7h0m.1 1.9h0m.6 0h0m.2-2.8h0m.4 1.3h0m.6 .1h0m.1-1.5h0m.1 .1h0m.2 .3h0m1 .5h0m.4 .4h0m.1-.6h0m2.2 1.3h0m.5-.4h0m.4 1.3h0m-60.2 2.5h0m1.2-1.6h0m.3-.7h0m.2 .7h0m2.1 1.3h0m.4 0h0m.8-.5h0m.3-.6h0m1 1h0m.3-1.4h0m.3-.5h0m1.3 2.3h0m.3 .4h0m3-.7h0m.2-.6h0m.4-1.1h0m.7 .2h0m.2-.3h0m.9-.3h0m.1 1.8h0m2.7 .8h0m.2-.9h0m1.3-1.2h0m.8-.5h0m3.7 2.1h0m1.3-.7h0m.4 1.4h0m.3-1.4h0m.1-.7h0m.5 .8h0m.7-.3h0m.6 1.2h0m0 .3h0m.8-1.3h0m1 .9h0m.1 .5h0m0-2.8h0m.1 .2h0m3.5 .9h0m.8 .3h0m.5 1.5h0m.3-1.3h0m1.1 .4h0m.4 .8h0m.9-1.7h0m.2-.3h0m.5 .5h0m.1 .1h0m0 .4h0m.2-1.2h0m.1-.2h0m.3 2.3h0m.3-.2h0m.4-2.2h0m0 2.2h0m.3-.9h0m1.1 0h0m.4-.9h0m.3 .4h0m.4-1h0m1.5 1.2h0m1 .4h0m.1-.5h0m.7 .5h0m1.6-1.3h0m.3 2.2h0m.2 0h0m1.7 0h0m.2 0h0m.7-.8h0m0-1.4h0m.2 2.2h0m.1-.2h0m1.6-2.2h0m.2 1.1h0m.1 1.1h0m.1-.2h0m.3 .3h0m.2-.8h0m.1-.4h0m1.3 0h0m2-1.1h0m1.5 0h0m1.4-.2h0m.2 .1h0m.1 .3h0m.3-.1h0m.3 1.5h0m.1-.4h0m.4 .2h0m0-.4h0m.4 .4h0m.3-1.4h0m.2 .2h0m.8 .5h0m.6-.8h0m-61.3 2.9h0m.2 2.1h0m0-1h0m.4 1h0m.4 .5h0m.2-.8h0m.2-1.3h0m1.7 1.5h0m.8 .1h0m.4-1.6h0m2.7 1.1h0m0 .2h0m.2-1.2h0m5.1-.2h0m.5-.5h0m.1 2.2h0m.3-.8h0m.1-.7h0m1 1h0m.2 .5h0m.4-1.7h0m1 .7h0m.2-1h0m.5 .2h0m.6 .2h0m.9 1.3h0m0-.9h0m.1 1.5h0m.9 0h0m.5-.8h0m1.4 1h0m.2 .3h0m.8-3h0m.8 2.1h0m.4-.1h0m.3-.8h0m.5 .7h0m.3-1.4h0m0-.3h0m.1 2.6h0m1.2-1.9h0m.4-.8h0m.2 .7h0m.3 2.2h0m.6-3h0m.7 .8h0m0 .6h0m.2-.4h0m.8-.5h0m.4 .1h0m1.5 1.2h0m.2-.5h0m1-.7h0m.4 1.3h0m1 1.1h0m.1-.6h0m1.6-.3h0m1.1-1.2h0m1-.8h0m.6 1.9h0m1.2 .7h0m.4-1.1h0m.2 .5h0m.1-1.9h0m.3 .4h0m.1 1.5h0m0-1h0m.4 1.7h0m.7-2.8h0m.4 2.9h0m1.1-.4h0m1.3-1.4h0m.1-.5h0m0 .5h0m.5-.2h0m.3 .7h0m.3 1.4h0m.3-.5h0m0 .5h0m.1-2.9h0m.3 .9h0m.6 .5h0m.5 1.2h0m2-.6h0m.1-.3h0m.2 .2h0m0 .8h0m.5-.9h0m.2 .9h0m.9-.1h0m.4-2.4h0m0 .3h0m.3-.5h0m.9 1.5h0m.2-.4h0m.8-.6h0m0 2.4h0m.7-2.9h0m.6 1.9h0m.4-1.5h0m.4 2.4h0m1-.4h0m.3-.2h0m.3-2h0m3.9 .8h0m-60.1 2.3h0m.1-.3h0m.2 1.9h0m.2 .5h0m.7-1.9h0m.2 .2h0m.3 .2h0m.5 1.9h0m0-1.4h0m0-.4h0m.3-.7h0m.2 .8h0m.3-1h0m.2 1h0m.3 1.8h0m.3-3h0m.5 1.1h0m.3 1.3h0m.2 0h0m.1-.6h0m1.5-.4h0m.4 .5h0m0-1.6h0m.8 .3h0m.9 .6h0m1.3-.3h0m.7 .9h0m0-1.7h0m.5 1.4h0m1.1 1.2h0m.3-1.4h0m.1 .1h0m.7-1.3h0m.3 .6h0m1 1.9h0m.3-1.6h0m.3 .9h0m.1-.5h0m.1 1.4h0m.1-.9h0m.2-.7h0m1.1-1h0m.1 .7h0m.1 1.6h0m.1 0h0m.1 .4h0m.4-.7h0m.6-1.9h0m.5 1.9h0m1.9-.1h0m.1-.4h0m.2-1.5h0m.1 .7h0m.5-.8h0m.1 1.3h0m1.7 .7h0m0 .3h0m1 .2h0m.1-.4h0m.5 .5h0m.5-2.7h0m.2 1.4h0m.1 .6h0m.2-.4h0m.1 .3h0m0-1h0m.2 1.4h0m.1-.5h0m.2-1.3h0m.5-.2h0m.4 1.1h0m.1 1.5h0m.6-.3h0m.1-1.3h0m.2 1h0m.1-2h0m1 2.6h0m.1-2.9h0m.4 2h0m3.8-2h0m.2 2.1h0m.5-1.3h0m.5-.5h0m.1-.2h0m1.6 .2h0m.6-.2h0m.4 .6h0m.7 .1h0m2.2 1.3h0m.3 .1h0m.1-.6h0m.1 1.2h0m.3-1.7h0m1.7-.1h0m.3 1.6h0m.2-1.8h0m.6 1.3h0m.1-.6h0m.7 1.4h0m.4-2.8h0m.1 2.6h0m.1-.4h0m0-.7h0m.1 .4h0m.5-1.5h0m.2 2.4h0m.3-.3h0m.8 .1h0m.9 .2h0m.5-.1h0m.2-.1h0m.3-.4h0m.4-2.2h0m.3 2.6h0m1.3-1.2h0m.2-.8h0m.3 .2h0m.1 .3h0m.3 .2h0m0-.5h0m.4-.7h0m.2 2.7h0m.8 .1h0m.3-1.6h0m.1 .4h0m.1-.9h0m1.4 .9h0m-54.6 4.2h0m0-1.8h0m.1 1.2h0m.1-1.6h0m.1 1.1h0m1-1.6h0m1.5 1h0m.2 .6h0m.1-.3h0m.5 .1h0m.1 1.3h0m.4-.3h0m.4-1h0m.8-1.7h0m4.4 2.9h0m.3 0h0m.1-.3h0m.9 0h0m.2-1h0m.3 .9h0m.7-1.9h0m.3-.4h0m.3 1.8h0m.5 .9h0m.8-1.8h0m.3 1.8h0m.1-1.2h0m0-.7h0m2.7 1.4h0m.4-.1h0m.5-.3h0m1-1.1h0m.3 .3h0m.2-.8h0m.4 1.7h0m0-2.1h0m1 0h0m.3 1.3h0m.1 .4h0m.1-1.5h0m.2 1.3h0m2-1h0m.9 2.4h0m.6-1.3h0m.1-1h0m.1 2.2h0m.6-1.9h0m1.4 .2h0m.2 1.7h0m2.3-2.5h0m.1 2.3h0m3.1-.4h0m1.2 .3h0m1.2 .3h0m1.9-.5h0m.3-1h0m.5-1h0m.4 2h0m.4 .7h0m.6-.4h0m.2-2.1h0m.4 1.2h0m.2-.9h0m0 1.4h0m.5-.7h0m.2 .9h0m.4 .5h0m.6-1.2h0m.4-1.1h0m.5 .7h0m.5 .1h0m1.7 .9h0m.2 .4h0m1.4 0h0m0-2.3h0m.3 1.2h0m.2 .7h0m0-.8h0m.1-1.2h0m0-.2h0m.5 2.6h0m.1-.9h0m1.1 .7h0m.5-.5h0m.2-1.6h0m1 2.4h0m0-1.9h0m.5 2h0m.8-2.3h0m.2 .4h0m1.8-.4h0m-54.9 2.7h0m.3 1.5h0m1.3-.2h0m.1-1.3h0m.6 .7h0m.1 1.7h0m.5-.7h0m.3-.3h0m.6 1.2h0m.9-.4h0m.2-2.1h0m.6 2h0m.2-.9h0m.1-1.3h0m2.7-.1h0m2 2.3h0m2.3-1.1h0m.2 1.7h0m.2-.9h0m1.1-.5h0m.6 .9h0m.3-.6h0m1 .2h0m.1-1.7h0m1.4 .7h0m.7 1.2h0m.3-1.2h0m.3 0h0m.3-.5h0m.4 .4h0m.1 1.9h0m0-2.7h0m.5 2.2h0m.3-1.3h0m.5-1h0m1.5 1.9h0m.3-1.9h0m.5 1.9h0m.2-1.2h0m.4 .2h0m.8 1.4h0m.2-2.1h0m1.1-.2h0m0 0h0m1 2h0m.2 .1h0m.5-1.5h0m.6 1.9h0m.1-.6h0m.1-.2h0m.2-1.2h0m.2 1.9h0m.4-1.7h0m1.2-.5h0m.7 1.5h0m.7-.7h0m0 1.8h0m.2-2.2h0m1 2.2h0m.2-2.5h0m.3 .6h0m1.9 .3h0m0-.9h0m.7 2.6h0m.6-.6h0m.3-.6h0m.2-.4h0m.2-.8h0m1.1 2.2h0m.2-2.3h0m.3-.2h0m.7 1.2h0m.3-.6h0m.4 .6h0m.1 1h0m.5-.6h0m.7-1.1h0m.3 .6h0m.2-1h0m.5 2.6h0m.6-1.6h0m0-1.2h0m.7 .4h0m.3 .7h0m.1-.6h0m.3 0h0m.1 .2h0m.5 1.9h0m1.4-1.9h0m.2 1.7h0m.2 .3h0m.9-2.8h0m0 .2h0m.1 .7h0m.1 .4h0m.5 .1h0m.5-.8h0m.2 1h0m0-.3h0m1 1.2h0m.1-2.1h0m.8 1.4h0m.2-1.2h0m.5-.5h0m.7 1.5h0m-53.7 1.9h0m.6 .8h0m.1 .9h0m1.4-1.2h0m.2-.6h0m.8 .5h0m.2-.7h0m.1 .9h0m1.2 .7h0m.1 .1h0m.1 .3h0m3-1.9h0m2.5 1.3h0m3.1-.9h0m.3 1.6h0m3-2.2h0m.2 1.4h0m.8-1.3h0m.1 1.8h0m.3-.5h0m.8-1.1h0m.7 1.8h0m.1 .4h0m1.5-.9h0m.2 .3h0m.6 .9h0m.1-3h0m1.4 1.6h0m.7-1.6h0m.1 .9h0m.1-.2h0m.8-.1h0m1.1 .1h0m0-.4h0m.1 0h0m.1 2.3h0m.4 .4h0m.3-2.4h0m1 .9h0m.9 .8h0m1.3-1.7h0m0-.4h0m.4 1.5h0m.2 .2h0m.6 .7h0m.2-1.6h0m.4 .3h0m.6 1.4h0m.2-1.8h0m.6 .9h0m1.1-.6h0m0 .3h0m.8-1h0m0 .8h0m.7-.8h0m.6 2.2h0m.7-2.6h0m.3 1.8h0m.6-1.8h0m.5 2.6h0m.1-1.4h0m.5 1.3h0m.1-1.9h0m.2 .3h0m.1-.7h0m.7 1.8h0m.2 .1h0m.2-2.1h0m.1 .5h0m.6 2.3h0m.2-.6h0m.7-.8h0m.1-1.1h0m.7 1.1h0m.5 .7h0m2.2-1.6h0m.4 1.6h0m.8 .2h0m1-1.3h0m.7 1.7h0m.1-1.8h0m.2 .9h0m1.2-1.9h0m.1 1.7h0m.1-1.3h0m.4 1.4h0m-53.3 3.8h0m1.6-1.3h0m.2-1.3h0m.6 2.7h0m1.1-.4h0m.7 .2h0m.8 .2h0m.2 0h0m.2-1.3h0m1.6-1.1h0m.3 2.4h0m4.6-1.5h0m5.7 .4h0m2.2 1h0m1.7-.2h0m.4-1.7h0m.1 .1h0m.5 0h0m.5 1.7h0m.6-1.1h0m3-1.4h0m1.6 1.4h0m1.4-1.4h0m0 2.5h0m.2 .3h0m.3-1.7h0m.3 1.1h0m.6 .8h0m1.5-2.9h0m.1 1.5h0m1-1.6h0m.2 2.2h0m.1 .1h0m1.7-1.7h0m2.2 1.9h0m.1-2.4h0m.2 2.2h0m1.4-.7h0m2 1h0m.4-1.7h0m.6 1.7h0m.6-2.2h0m.1 0h0m.1 1.3h0m.4 .4h0m1.4-1.7h0m.2 .9h0m.3 .7h0m.5-.6h0m.3 0h0m.4 .9h0m.7-.4h0m.6 .3h0m0-.8h0m1 0h0m.9 .1h0m.9-.9h0m.1-.5h0m.6 1.9h0m.5-.4h0m.1-.7h0m.7 2h0m-52.7 .7h0m.5 1.3h0m1-.3h0m1.3-.2h0m1 1.2h0m.2-.8h0m.2 1h0m.3-1.8h0m1.8 .8h0m.1-.2h0m.9 .2h0m.3 .5h0m.2 .6h0m.4-1.7h0m0-.3h0m5 1.9h0m2-2.2h0m2.5 .1h0m.3 0h0m.3 2h0m0-2.6h0m.3 2.1h0m.8-1h0m0 0h0m.1-.1h0m1.8 .9h0m.6 .2h0m1.8-.1h0m.3-1.1h0m.3 .8h0m.3-.1h0m0 1h0m2.3-2h0m.3 2.1h0m.4-1h0m.6-.7h0m.7 .6h0m0-.2h0m3.5-.1h0m.3 .5h0m.4-1.2h0m.1 1.7h0m.1-2.2h0m.4 .8h0m2.8-.8h0m.1 2.5h0m0-1.4h0m.7-.2h0m1-.2h0m.1 .6h0m.2 .4h0m3.8 .1h0m1.4-1.9h0m.5 2.5h0m0-2.1h0m.3 .1h0m.6-.2h0m.3 2.3h0m.6-.7h0m.5 0h0m.3-1.9h0m.1 .8h0m.5-.2h0m.1 2.2h0m.1 0h0m.3-.4h0m.3-1.4h0m.2 1.6h0m.2-2.3h0m.2 .5h0m.5 1h0m.1 .3h0m.6-1h0m-48.1 2h0m.4 2.4h0m.7 0h0m.3 .3h0m.2-1.9h0m0-.5h0m.3 1.8h0m.8 .5h0m2.6-.9h0m1.3-1.3h0m.8-.3h0m.3 2.5h0m.8-.3h0m.4-.4h0m.8-1.9h0m.3 1.5h0m.3-1h0m0 2h0m.3-.8h0m0-1.4h0m.3 1.6h0m2.5-1.9h0m.1 .6h0m0 2h0m1.1-2h0m.7 1.1h0m.9 .3h0m.1-.4h0m.4-.9h0m.7 1.8h0m.7-.2h0m.5-.9h0m.6-1.3h0m.7 1.1h0m1.7-1.4h0m.6 1.4h0m.1 .4h0m.2 .2h0m.5-1.8h0m.9 1.2h0m.9-.4h0m1.7 .8h0m.3 .5h0m.6-.5h0m1.2-.9h0m4.3 .4h0m3.2-.2h0m.4 .8h0m.3-1.3h0m1.6 1.4h0m1.8 .7h0m1.1-.6h0m.2-.3h0m.9-.4h0m.2 .1h0m.1 1.1h0m.7-1.2h0m0 .1h0m.1 1.2h0m.3-.4h0m.9-.4h0m.4-.3h0m1.5 .7h0m.8-.6h0m.5-1.5h0m-55.3 5.4h0m1.3-2.1h0m0 1.5h0m.1-.1h0m.7-.9h0m.6 1.9h0m.1-.2h0m.5-2.6h0m.5 .2h0m.1 1.3h0m.6-.3h0m.2-.5h0m.9 .6h0m1.7-.9h0m1.1 0h0m.9 1.1h0m.3-1.6h0m.4 .8h0m.2-.1h0m0 2h0m.5-2.2h0m.1 1.1h0m.1-.3h0m4.1 .5h0m.8-1.2h0m1.5 1h0m.2 0h0m.2-1.5h0m.1 .1h0m.7 .5h0m.1 .3h0m.8-.9h0m.5 1h0m.2 .2h0m.2-1h0m0 2h0m.8-.5h0m.3-.9h0m.3 .4h0m1.2 .6h0m0 .3h0m.4-1.1h0m.4 1.7h0m.4-2.5h0m1 .1h0m.2 1.6h0m0 .9h0m.3-2.5h0m.5 2.1h0m.2-2.3h0m.3 .6h0m.8 .1h0m.1 .4h0m.5 1.3h0m.8-1.1h0m1.4-.2h0m.9-.1h0m.5 .1h0m.3 .3h0m1.2 .3h0m1.9-.3h0m.8-.1h0m1.6 .7h0m0-1.5h0m.4-.2h0m.9 1.7h0m.5 .1h0m2.1-1.3h0m4.1-.7h0m2.5 1.7h0m0-.9h0m.8-.2h0m.2-.1h0m.3 1.8h0m.6-.6h0m1.3-1.1h0m.2 .7h0m.1-1.3h0m.3 1.1h0m.3-.4h0m.6 .8h0m.1-1h0m.7-.8h0m-54.9 6h0m.8-1.2h0m1-1.2h0m1.2-.2h0m.2 2.2h0m.1-1.2h0m0 1.6h0m.2-1h0m0-1.6h0m.3 .6h0m.1-.6h0m.9 .3h0m.5 1.4h0m.1 .8h0m0-1.2h0m.4-1h0m.7 1.1h0m.5-.3h0m.2 0h0m1.3 .8h0m.2-.4h0m0 0h0m.3-1.4h0m1.2 .4h0m.3-.6h0m.9 0h0m1.5 1.7h0m.6-1.2h0m.4 1.1h0m1.7-1h0m.3 .6h0m.1 .7h0m1.2-1.4h0m.2-.2h0m.1 1.6h0m.6-.1h0m1.3 0h0m1.7-1.3h0m.4 .7h0m.4 1.4h0m.8-1.5h0m.7 1.3h0m0 .1h0m.3-1.8h0m1.3 .5h0m.4 .4h0m.2 1h0m.1-.4h0m1.2-1.4h0m.4 .5h0m.1-.6h0m.1-.9h0m.2 2.2h0m.1-2h0m.8 .4h0m2-.4h0m.6 1.7h0m.2 0h0m.2-2h0m0 .6h0m.3 .6h0m.3-.9h0m.6 2.3h0m1 0h0m.6 .1h0m1.7-2.5h0m2.1 2.7h0m2.2-1.9h0m3.4 1.8h0m.5 0h0m0 .1h0m3-.4h0m.1-1.2h0m.4-1.1h0m.1 .4h0m0 .4h0m.2-.5h0m.1 1.7h0m3-1.2h0m.1-.8h0m.2 .8h0m.2-.3h0m.2 1.2h0m.7-.2h0m.4-.2h0m.8 .7h0m.4 .2h0m.8-1.9h0m-55.7 5.2h0m0-.8h0m.5 0h0m.3-1.5h0m.9 1.9h0m1 .6h0m.1-1h0m2-1.2h0m.2-.7h0m.8 2.9h0m.2-1.6h0m.1-.7h0m.8 .5h0m.7-1h0m.5 2.7h0m.3-1.3h0m.4 1.2h0m0-.2h0m.5-1.1h0m.2 0h0m.4 .2h0m.1 .6h0m3.5-1.2h0m1-.9h0m.1 .4h0m.4 0h0m.4-.3h0m.4 .9h0m.9-.2h0m.7-.4h0m2.8 1.2h0m1.1-.1h0m.6-1h0m.1 .2h0m2.6 .2h0m1.8-.9h0m.8 .3h0m.4 2.4h0m1.2-1.9h0m.6-.1h0m.1 0h0m.3-.7h0m.5 1.7h0m.4-.4h0m.1 1h0m.7-.6h0m.4-.5h0m.9-.9h0m.1 2.2h0m.3 .3h0m.2-2.7h0m.3 2.3h0m.1 0h0m.6 .4h0m.1-.1h0m1.5-2h0m.1 .4h0m1 1.7h0m.4-2.3h0m1.6 1.3h0m1.8 0h0m.2 .1h0m.3-1.1h0m.4 1.5h0m.3-1h0m1.1 .4h0m.2-1.6h0m.2 .6h0m.4 1.2h0m.3 .8h0m.5-2.6h0m.1 .1h0m.4 1.5h0m.7 .7h0m.7-2.4h0m1 1.5h0m.1-1.4h0m.3 2.1h0m.2-1.2h0m.5-.7h0m.4 2.4h0m0-1.1h0m0 .7h0m.6-.3h0m.8-1.8h0m.5 .9h0m2-1h0m.4 1.1h0m.1-.4h0m.4 .4h0m.6-1.2h0m0 1.4h0m.1-.3h0m1.6 .2h0m-57.6 4.6h0m1-2.7h0m.9-.1h0m.4 .1h0m.2 1.7h0m.4 .2h0m.1 .8h0m.8-.6h0m.7 .6h0m.3-1.3h0m.9-1.6h0m.6 1.5h0m1.4-1h0m.4 1h0m.4-1h0m.3 2.3h0m.1-2.8h0m1 1.7h0m0 1.1h0m0-2.4h0m.6 2.2h0m.2-1.2h0m0-1h0m.1 .2h0m0 2h0m.4 .1h0m0-.4h0m.7-.1h0m.4-1.7h0m.3 .4h0m.1 .8h0m.6-1.2h0m.9 1.2h0m1.9 .9h0m7.4-2.2h0m.4 .8h0m0 1.4h0m1.8 .2h0m.4-.5h0m.1-1.2h0m.7-1.2h0m.4 1.3h0m.5 .8h0m.2-.4h0m.9-.9h0m.8 .4h0m.7-.5h0m.7 1.6h0m1.6-.2h0m.4-1.6h0m.1 .5h0m.5-.5h0m2.2 2.4h0m.3-1.4h0m1.3-1.4h0m.1 2.7h0m1.6-.3h0m.6-2.3h0m.6 1.2h0m.4 1.1h0m.1-1.9h0m.5 1.4h0m.3 .4h0m.1-1.3h0m.2 1.9h0m.3-1.8h0m.3 .8h0m2.3 1h0m0-1.9h0m.5 1.6h0m.6 .3h0m.1-.7h0m.2-.6h0m.3-1.7h0m.3 1.8h0m.5-1.3h0m.8 .2h0m.4-.5h0m.1 2.4h0m0 .3h0m.2 .1h0m0-2.6h0m.3 .8h0m.6 .6h0m.7-1.3h0m.1 .8h0m.9-.2h0m.6 1.7h0m.1 0h0m.7 .1h0m.6-.7h0m.4-1.5h0m3.4 0h0m.7 .7h0m-58.3 3.4h0m.2-.8h0m.1 0h0m.6-.5h0m.5 1.8h0m.3-1.2h0m.3 1.1h0m.5-.3h0m.1-1.5h0m.6 1.7h0m0 .7h0m.2-.7h0m0-1h0m.1-.8h0m.4 1h0m.5 .2h0m.1-.7h0m.1 1.5h0m1.1 .5h0m.4-.2h0m.2-1.2h0m.3-1.1h0m1.4 1.7h0m0 .5h0m1.5-.6h0m2.3 .4h0m.6-1h0m1.8-.4h0m.1 1.5h0m0-.2h0m.5-.3h0m.8 .7h0m3.5-1.9h0m7.8 1.6h0m1.6-.4h0m0-.6h0m.5-1.2h0m.4 1.4h0m.1-1.4h0m0 1.7h0m1.7-.1h0m.2-1.3h0m.1 .8h0m0-1h0m.2 1.4h0m.1 .7h0m.4-.1h0m1.6 .2h0m.1-.8h0m.2-.3h0m.2 0h0m.2-.5h0m.2 .2h0m.3 1.9h0m.2-1.1h0m.1 .5h0m.6 .6h0m.3-2h0m.1-.6h0m.3 1.5h0m.1-.2h0m.1 .5h0m.4-1.3h0m.8 2h0m1.7-1.6h0m.1-.7h0m.6-.1h0m1.1 .1h0m.3 2.2h0m.3 .1h0m.1 .1h0m.5-.7h0m.7-2h0m.2 2.6h0m.9 0h0m1.6-1.9h0m.3 1.9h0m.3-2.2h0m.7 .4h0m1.2 .8h0m.6-.7h0m0-.9h0m.4 0h0m.3 2h0m.9-.6h0m.2 1h0m0-2h0m.2 1.3h0m.5-1.3h0m0 1.2h0m.1-1.5h0m.1 1h0m.4 0h0m.1-.7h0m.4 2.2h0m.2-1.2h0m1 .5h0m.1-1.9h0m1.2 1h0m.2 .5h0m-55.7 4.2h0m.2-.9h0m.5 .5h0m.4 0h0m.8-1.4h0m.4 1.4h0m.2-.1h0m.7-1h0m.4-.3h0m0 .9h0m.1 .7h0m.8-.8h0m.6-1.5h0m1.4 1.5h0m.3-.4h0m.6-1.5h0m.1 1.9h0m1.5 1h0m0-.9h0m.3-.4h0m0-1.3h0m.4 2.3h0m1.3-1.5h0m.4 1.8h0m.7-1.6h0m.9-1.3h0m.1 .4h0m3.5-.1h0m.9 .6h0m.5 .4h0m2.5 .2h0m1.2-.2h0m3.2-.2h0m1.9 1.8h0m.1-.1h0m1.4 0h0m.2-.3h0m0-2.1h0m1-.1h0m.6 .3h0m.9 .6h0m.5 .9h0m0 .1h0m.7-.2h0m0 .1h0m.1-.6h0m.5 .9h0m1.4-.2h0m.3-1h0m.1-.6h0m.2-.5h0m.2 1.7h0m.6 .9h0m.1-.4h0m0 .4h0m2.2-.6h0m0-.2h0m.9-1h0m.1 1.5h0m.2-1.1h0m.1-.7h0m.2 .9h0m1.2 .9h0m.2-2.3h0m.2 .8h0m.2 1.8h0m0-1h0m.5-.9h0m.6 .8h0m.3 .4h0m.8 .1h0m1.1-1.7h0m0 1.6h0m.4-.4h0m.3 1.1h0m1.6-1.3h0m1.1-.4h0m.9 1.5h0m.7-.7h0m0 .4h0m.4 .2h0m.3-.3h0m.1 .7h0m.2-1h0m.7-.4h0m1.2 .6h0m1.2-.4h0m.5-.7h0m.2 .6h0m.1-.6h0m.7 .9h0m.4 .2h0m.3 .5h0m.2 .1h0m.8 .4h0m.6-1.7h0m.5 .6h0m.9-1.2h0m-59.4 3.3h0m.5 .2h0m.5 1.1h0m.3-1.8h0m.5 .2h0m.7 1.6h0m1.9-1.5h0m1.3 1.5h0m1-1.8h0m.2-.2h0m.2 .6h0m0-.8h0m.1 .5h0m.4-.4h0m.8 2.1h0m.6-.7h0m2.2 0h0m1 1.4h0m.2-1.1h0m.7 0h0m0 .5h0m2-.7h0m.7-.9h0m2 .4h0m1-.1h0m0 1.9h0m.3-2.8h0m1.4 .7h0m.8 1h0m.7-.4h0m1.3-.1h0m1 1.3h0m2.1-.4h0m.7 0h0m.6-1.1h0m.3 1.2h0m2 .6h0m.2-1.3h0m.3 0h0m0 .7h0m2-.9h0m.3 1.4h0m.1-.4h0m.1 .4h0m1.5-1.2h0m.1-.1h0m.7-1.2h0m.1 .9h0m0-.4h0m1.5-.3h0m.3 2.3h0m0-.5h0m1.4-2.3h0m.1 .6h0m.1 1.6h0m.5-1.5h0m0-.2h0m.5 2.3h0m.3-.5h0m0-1.5h0m.1 .5h0m.4-.1h0m.3 1.6h0m.2-.1h0m.2-1.6h0m.5 0h0m1.4-.9h0m.6 2.5h0m.3-2.8h0m.3 2.9h0m.2-.7h0m.4-.6h0m.2-.1h0m.1 1h0m.9-1.2h0m.1 .7h0m.9 .1h0m.3-1.4h0m3.1 .7h0m.1-1h0m1.5 0h0m.2 1.8h0m.1-.1h0m.4-.9h0m.3-.5h0m.3 0h0m.1 1.3h0m.5-.5h0m.9 1h0m.3-2h0m.5 1.5h0m.4-1.7h0m.5 .1h0m.1 .8h0m1.2-1h0m.8 2.7h0m-58 .8h0m.3 1.6h0m.6-.2h0m1.3-1.8h0m0 0h0m1.4 2.5h0m.6-.1h0m1.7-1h0m.2-.8h0m.5-.5h0m.4-.3h0m.3 2.7h0m1.1-2.5h0m.4 1.3h0m.5-1.2h0m.6 0h0m.3 .2h0m1.2 1.9h0m.5 .4h0m1.1-2.8h0m.8 1.6h0m.3 .1h0m1.3-.4h0m0-.2h0m.5 1.1h0m.1-1.4h0m.4 .7h0m.4-1.4h0m.2 .3h0m.3 1.8h0m.3-2.1h0m.1 .1h0m.2 1.6h0m.5-.6h0m.2 .8h0m.1-.6h0m1.3 .2h0m1.2 .3h0m.2 0h0m1.4-.3h0m.8-.9h0m.9 1.9h0m.1-1.5h0m.1 .2h0m.6 .2h0m.3-1.4h0m.2 .9h0m1.3 0h0m.1-1h0m.4 .2h0m.7 .4h0m.3 .3h0m.1-.9h0m.3 2.5h0m.6-1.8h0m.1 1.7h0m.3 .2h0m.1 0h0m.4-.4h0m.5-1.7h0m.9 .8h0m.9 .4h0m.1-.8h0m0 .6h0m.4 1.4h0m.2-1.5h0m.9 .6h0m.9-1.3h0m.7 .9h0m.1 .9h0m1.5-.1h0m0-.5h0m.3-1.4h0m.1 2h0m.3 .3h0m.3-.7h0m.3-1.3h0m1.2 .1h0m.1 .1h0m.2 1.5h0m.1-1.9h0m.9 .6h0m.3-.8h0m.1 2.4h0m.3-2.4h0m.2-.4h0m.5 2.4h0m0-.9h0m.5-1.2h0m1.1 2.2h0m.1-2.2h0m.1-.2h0m.1 2.7h0m.5-1.6h0m.1-.2h0m0 1.6h0m.2-.4h0m.2 .3h0m.5-.9h0m.2 .4h0m.4-2h0m.4 2.7h0m0-2.5h0m0 2.3h0m.4 .3h0m.6-2.9h0m.1 1.1h0m.1 .4h0m.3 0h0m.2 .5h0m.3-1.8h0m.3 2.6h0m.4-1.1h0m.8-.8h0m.2-.2h0m.6-.1h0m.1 0h0m.2 1.4h0m1.1 .2h0m.8-1h0m.7 .2h0m.1 .6h0m.2 .5h0m.4-1.8h0m.2 1.6h0m.1-1.9h0m.2 2h0m.6-.2h0m.3-1.5h0m0 1.8h0m1.3-1.1h0m.1-.8h0m-57 4.8h0m.3-2.2h0m1 1.9h0m.6 .1h0m.7-1.4h0m.4-.2h0m.4 1.4h0m.6-.2h0m.1-.5h0m.2 .2h0m.4-1.4h0m1.4 .6h0m0-.1h0m.7-.6h0m1.4 1.3h0m.1 .9h0m.4-.9h0m.2 1.3h0m0-1h0m.9 .7h0m.4-2h0m.6 2.6h0m1.5-2.1h0m.4 1.2h0m.4 .1h0m.4-1.9h0m.7 .1h0m.5 1.2h0m1 1.4h0m1.5-.1h0m.1-2.6h0m0 2.1h0m0-.8h0m.3-.7h0m.4 1.9h0m.4-.7h0m.4 .7h0m1.1-.3h0m.8-.8h0m.2-.6h0m.2 1.6h0m.8-2.3h0m.9 .9h0m.4 .3h0m.2-1.5h0m0 1.4h0m.1-.3h0m.4-1h0m.2 2h0m2.6 .5h0m.1-.4h0m.4 .3h0m1.1-1.3h0m.5-1.1h0m0 2.7h0m.7-.2h0m.3-1h0m.7-1.1h0m.1 .5h0m.6-.9h0m.8 0h0m.1 2.7h0m.5-.9h0m.2 1.1h0m.1-.9h0m.1-.4h0m.6 1.2h0m.6-2.3h0m.1-.5h0m.4 1.6h0m.2 .2h0m.3 .1h0m0-1.4h0m.2 .3h0m.4 .6h0m.3-.3h0m.3 1.5h0m.4 .2h0m.6-.7h0m1.2-1.1h0m.5 1.7h0m.4-.6h0m.2-.6h0m.5-.5h0m0 .3h0m.1-1.3h0m2 1.1h0m.1 .9h0m.1-.3h0m1-.9h0m.1 1.6h0m.1-1.4h0m.2-1h0m1.2 1.9h0m.7-1.8h0m1 1.8h0m1.2-1.3h0m.1-.7h0m0 1.2h0m.1 1.7h0m.5-1.1h0m0 .3h0m.7-2h0m.5 2.3h0m.7 .4h0m.2-.1h0m.8-2.1h0m0-.2h0m.3 1.8h0m.1 .4h0m.4-2.2h0m.4 1.2h0m.1-1.1h0m0-.2h0m.8 .7h0m.9-.6h0m.6 1.1h0m.2-.8h0m.6 2.1h0m0-.9h0m-54.5 1.9h0m.9 1.2h0m.5-.5h0m.4 0h0m1.4 .7h0m.2 .7h0m1.5-2.3h0m1.4-.6h0m1 .7h0m0-.3h0m1.1 .1h0m1-.2h0m.7 .5h0m.5 0h0m2.9 2.1h0m.4-1.9h0m1.1 1.9h0m0-2h0m.1-.6h0m.3 1.6h0m.2 .9h0m.4-1.7h0m.4 1.2h0m0-1.4h0m.5 2.1h0m.2-2.5h0m.5 .1h0m.7 .4h0m1.3 .8h0m.4 .3h0m.7-1.1h0m.2 0h0m.7-.9h0m0 1.8h0m1.4-1.9h0m1 1.4h0m.1-.9h0m.2 2.5h0m.4-.1h0m.1-.9h0m1.3-1.9h0m.6 1.7h0m.1 1h0m.7-1.1h0m2.1-.6h0m.7 0h0m.3 .7h0m.5 1h0m.1-1.4h0m.7-.1h0m1 .1h0m1.6 .7h0m0 .7h0m.9-2.3h0m.4 2.4h0m.4-2.5h0m.4-.4h0m.1 1h0m.6 .4h0m1-.6h0m.8-.3h0m.1 1.4h0m.4 .8h0m1.3-2.3h0m.3 1h0m.9-.4h0m.5 1.6h0m.2-2.2h0m.1 2.2h0m.5-1.4h0m.3-.1h0m.4-.1h0m1.3-.2h0m.5-.8h0m0 2.7h0m2.1-1.8h0m.4 1.6h0m.9-1.2h0m.7-1.2h0m.2 1.6h0m.8 .4h0m.7-1.1h0m.7 1.7h0m.8-1.7h0m.2-.4h0m.1 0h0m2.1 1.7h0m-53.9 1.3h0m2.1 2h0m.3-.6h0m1-2h0m.3 2.6h0m3.5-.6h0m.6 .2h0m3.1 .7h0m1-1.7h0m.1-1.2h0m3.2 2.3h0m1.2-1.6h0m.2 1.6h0m.9-1.5h0m0 .9h0m.1 .9h0m.5-2.2h0m.1 .2h0m.1 1h0m.6-.1h0m.3-1.1h0m.2-.1h0m.2 1.4h0m.7-.7h0m.1 1.5h0m.1 0h0m.5-1.7h0m.7-.1h0m.4 1.4h0m.2 .6h0m0-1.9h0m1.8 .9h0m.8-1.2h0m.1 .3h0m.8 1.4h0m1.2-1.5h0m.6 0h0m.1 2.2h0m1.3-2.5h0m2.3 2.1h0m.6 .3h0m.3-1.9h0m.5-.8h0m.4 2.7h0m.2-.8h0m.2-1.6h0m.3-.2h0m.1 .6h0m3-.4h0m.9-.1h0m1-.1h0m.3 1.5h0m.3-.3h0m.6 .3h0m0 1.1h0m.6 0h0m.6-2.6h0m.4 .2h0m.1 .9h0m.5 .5h0m1.7 .6h0m1.6 0h0m1.3-.5h0m0-.3h0m.9-1.1h0m.3 .7h0m.2-1.2h0m0 2.5h0m.4 0h0m1.3-1.7h0m.6 1.2h0m.2-1.4h0m.2 1.6h0m.5-1.8h0m.7-.2h0m-51.7 2.9h0m.1 .1h0m1.4 .4h0m.4 1h0m.9 .8h0m.3 .2h0m.7-.1h0m.6 .1h0m1.9-2.3h0m.3 1h0m.3 .5h0m3.9-.1h0m.4 0h0m.1-1.3h0m0 1h0m1-.8h0m0 .1h0m.3-.3h0m.3-.3h0m.6 .6h0m.1-.3h0m.2-.1h0m2.1 .7h0m.5 .1h0m.1 1.4h0m.1-1.6h0m3 1.5h0m.4-1.4h0m.5 .7h0m.1-.7h0m0 1.7h0m.1-1.1h0m.2 .9h0m.7 .4h0m.1-.9h0m1.5-.6h0m0 .9h0m.7-1.2h0m2.4-.8h0m.6 1.6h0m0 .3h0m.2-1.9h0m0 1.3h0m.1 .2h0m.1 .6h0m.9-1.5h0m1.2 1.7h0m.2 .1h0m.2-2.5h0m.1 2h0m.2-1.4h0m.2 1.9h0m.4 0h0m.2-.7h0m0 .5h0m.6-2.2h0m.1 2.1h0m2.8-.3h0m1.3-.2h0m.3-.3h0m.2-.9h0m.7-.6h0m.1 1.2h0m1.6 1.5h0m.2 0h0m.3-1.7h0m.9 1.8h0m.8-2h0m0-.6h0m.1 .8h0m.6-.6h0m.4 .8h0m.8 .3h0m.1-.9h0m0 .8h0m.3 1h0m.4 .1h0m.1 .1h0m.3 .3h0m1-2.8h0m1.1 2.4h0m.7-.2h0m1.1-.1h0m.3 .2h0m.2-.7h0m.3-1.1h0m.1 1.2h0m0 .8h0m0-.1h0m.2-.9h0m.2 .2h0m2-.6h0m-47 4.4h0m1.2-2.7h0m0 2.8h0m1.1-2.5h0m.5 0h0m.5 .3h0m0 1.4h0m.3 .3h0m.3 .6h0m5-1.9h0m3.1 .9h0m.9-.4h0m.8 1.5h0m.7-.9h0m.3-1.2h0m.1 1.7h0m.6-1.2h0m.1-.7h0m.4 0h0m.5 .4h0m0-.2h0m.2 1.5h0m.4-.3h0m0 .6h0m1.6-1.4h0m.7 1h0m.1-.8h0m.8-.5h0m.5 .9h0m1.1-1h0m.3-.1h0m.4-.6h0m.4 .2h0m.1 .9h0m.9 .1h0m.2 1.6h0m.7-2.3h0m.4 2h0m.5-2.3h0m.5 1.1h0m.7 .6h0m.1-1.7h0m.2 1.8h0m0-.3h0m.3-1.8h0m.2 1.3h0m.3-.8h0m.2 1.2h0m.1-.7h0m.6 1.2h0m0-.3h0m.3-.3h0m2.4 1.3h0m.2-.5h0m.7-1.3h0m.1-.9h0m.8 1.3h0m2.4-1h0m.1 .1h0m0-.2h0m.9 1.8h0m.1-.8h0m.9-.9h0m1.1 2.2h0m1.7-.5h0m1.9-1.1h0m.6 .6h0m.7 .1h0m.4-.5h0m.2-.5h0m.1-.7h0m.2 0h0m.4 1.7h0m1.3-1h0m-46.5 4.7h0m.9-2.4h0m.4 0h0m.5 0h0m.3 1.3h0m.1 .3h0m.4 .8h0m1.2 .3h0m.5-1.8h0m.5 .8h0m.1-.4h0m0 .9h0m1.4 .3h0m.9-.9h0m.2-.3h0m.4 .7h0m.6 .6h0m.4-.4h0m.9 .2h0m1.3-.3h0m1.1-.7h0m.1 .4h0m.2 .2h0m.9-1.1h0m.1-.3h0m.9-.3h0m.3-.1h0m.6-.2h0m1.2 0h0m1.7 .9h0m.7-.7h0m1.2 1.3h0m.8-.8h0m.2-.4h0m0 0h0m.1 1.2h0m1.3 .8h0m.1-1.7h0m.3 2.2h0m.6-2.6h0m.8 2.2h0m1.6-.5h0m.8-1h0m0 .3h0m.3 1h0m.3-.7h0m.2-1.5h0m.2-.1h0m.1 2.7h0m.3-2.8h0m.9 .4h0m.1 .3h0m.7 1.2h0m.7 .9h0m.1-2.4h0m.6 1.2h0m1.1 .2h0m.3 1.2h0m.7-2.1h0m.5-.2h0m.3 1.9h0m1.2-2h0m0 2.1h0m.6-1.8h0m1.9 1.9h0m0 .1h0m.1-.4h0m.3-1h0m.4 1h0m1.3-.9h0m0 .3h0m.6 .6h0m.2 .3h0m.9-.7h0m2-.9h0m.2 1.1h0m.1-1h0m.8-1.1h0m-42.6 3.3h0m4 1.7h0m0-1.5h0m.6 .2h0m.2 .6h0m.4 .3h0m0-.7h0m.3 1h0m.3-1.4h0m0 1h0m.2 .8h0m.4-1.2h0m.1 1.3h0m.3 .3h0m.6-1.4h0m.2 .2h0m0-.7h0m.3 .5h0m0 1.3h0m.3-2.2h0m.5 1.3h0m.1-.2h0m1.1 0h0m1.1 1.1h0m.2-.2h0m0-.7h0m.9-.9h0m.3 .4h0m.1 .9h0m1.9-.8h0m.1-.2h0m.4 1.5h0m.4-1.7h0m.7 0h0m1.1 1.8h0m.7-1.5h0m.1 .5h0m.6-.8h0m.5 1.1h0m3-.2h0m.8-1.7h0m.8 .8h0m.1 0h0m1 .8h0m.5 .8h0m.3-1.1h0m.1 0h0m.3 .2h0m2.7-.2h0m3.9-.9h0m.8 2.1h0m.5-.8h0m.1-.9h0m.2 .7h0m.8-1.4h0m0 1.6h0m.9-2h0m.3 1h0m0 1.7h0m.4 .2h0m.3-1.4h0m.6 .8h0m.5-.3h0m.4-1.4h0m.4-.3h0m.1 .3h0m1.6 1.2h0m.1 .8h0m.5-1.3h0m.8 1h0m-40.1 1.9h0m2.9 .3h0m.5 .5h0m.3-2h0m.9 2.4h0m.7-1.3h0m.4-.5h0m.5 2.4h0m.6-2h0m.1 1h0m.4-.5h0m1-1.2h0m0 .6h0m.2-.8h0m.5 .6h0m1.2 .5h0m.2 1.2h0m.1-1.2h0m.7 1.7h0m.3-2h0m.4 1.5h0m.1 0h0m.8-.2h0m0-.7h0m.8-.8h0m.5-.4h0m0 .7h0m0-.1h0m.4-.2h0m1.4 0h0m.1 .2h0m.2 .9h0m1.7-1.7h0m1.4 1.3h0m.7 .2h0m.7-.6h0m.9 .1h0m.7 1.7h0m.5-1.1h0m0 .5h0m.7 .3h0m.2-1.9h0m.4 1.6h0m.3-.4h0m.1 .7h0m.1-2.3h0m.2-.1h0m.1 .3h0m.1 .6h0m.1 1.8h0m1.3-1.5h0m.3 .1h0m.4 .8h0m1-.4h0m.2-.5h0m.7-.3h0m1.8 .8h0m.1 .1h0m0 .3h0m.8-.8h0m.5 0h0m0 .1h0m.2-.8h0m0 1.1h0m.4 .4h0m.1-2.1h0m.3 2.3h0m.2-.6h0m.9 .6h0m.1-1.1h0m.1-1.3h0m.4 2.7h0m.2-.2h0m.1 0h0m1.8-1.2h0m.4-.9h0m.3 1.4h0m0-1.7h0m0 .1h0m-32.4 3.6h0m.8-.7h0m.3 0h0m2.9 1.9h0m.3-.4h0m1.8-.9h0m1.2 .4h0m1.2-1h0m9.8 1.2h0m1.5-1.2h0m.2 1.1h0m.9-.2h0m1.2 .9h0m.6-.2h0m.5 .2h0m1 .7h0m1.1-2.3h0m.2 .3h0m.4 .8h0m.2 1.6h0m.2-1.6h0m.2-.8h0m.2 1.8h0m1.1-2.1h0m0 .1h0m1 .9h0m.3 .4h0m1.5-.4h0m-13 1.8h0m1.9 1.1h0m.4 .1h0m3.1-1h0m.1 .7h0m1.1 1.5h0m2.2-2h0m.4 1.4h0m.4-.2h0m2.1-1.2h0" fill="none" stroke="#ad2822" stroke-width="1.30" stroke-linecap="square" stroke-opacity="1.00"/>
<path d="M1100 830.2h0m2.5 3.7h0m77.6 18.6h0m6.2-1.5h0m-71.4 10.9h0m46.6 0h0m58.4 0h0m-18 9.3h0m-79.2 3.1h0m80.7 0h0m-3.1 1.5h0m.9 1.6h0m-2.4 1.5h0m-1.3 3.1h0m1.9-.9h0m-3.1 4.1h0m1.8-1.6h0m82.3 .6h0m-85.4 4.1h0m.7 .9h0m1.2-2.5h0m-3.1 4.4h0m-75.8 3.4h0m-2.5 1.5h0m14.9 3.1h0m5 4.7h0m-2.5 1.5h0m-4 6.3h0m-1.6 6.2h0" fill="none" stroke="#9cd64a" stroke-width="1.50" stroke-linecap="square" stroke-opacity="1.00"/>
<path d="M1142.9 868.1h0m-69.9 10.8h0m41.9 1.6h0m-48.1 3.1h0m51.2 46.6h0m6.2 4.6h0m6.2 4.7h0m38.9 7.8h0m20.1 74.5h0m-17 10.9h0m6.2 3.1h0m-8.4 3.1h0m-7.2 4.6h0" fill="none" stroke="#f5cc6c" stroke-width="1.50" stroke-linecap="square" stroke-opacity="1.00"/>
<path d="M1297.5 674.9h0m10.9 48.8h0m4 1.2h0m-29.2 163.4h0m1 1.5h0m2.1 1.6h0m-85.7 3.1h0m84.5-1h0m3.7-.6h0m1.6 2.2h0m-3.1 1.5h0m4.6 1h0m18.7 111.8h0m-7.8 4.6h0m21.7 24.9h0" fill="none" stroke="#ad2822" stroke-width="1.60" stroke-linecap="square" stroke-opacity="1.00"/>
<path d="M1309.9 719h0m.7 1.9h0" fill="none" stroke="#9cd64a" stroke-width="1.40" stroke-linecap="square" stroke-opacity="1.00"/>
<path d="M1154.3 1003.8h0m7.2 10.2h0m5.3 3.8h0m4.6 4h0m-6.8 6.8h0" fill="none" stroke="#7a2238" stroke-width="1.60" stroke-linecap="square" stroke-opacity="1.00"/>
<rect x="1485.00" y="596.60" width="292.20" height="18.80" fill="#ae2a22"/>
<rect x="1485.00" y="620.00" width="46.10" height="18.80" fill="#a0d84e"/>
<rect x="1485.00" y="643.40" width="123.40" height="18.80" fill="#f7cf74"/>
<line x1="1724.80" y1="606.00" x2="1829.00" y2="606.00" stroke="#000" stroke-width="2.50" stroke-linecap="butt"/>
<line x1="1724.80" y1="602.10" x2="1724.80" y2="609.90" stroke="#000" stroke-width="3.00" stroke-linecap="butt"/>
<line x1="1829.00" y1="602.10" x2="1829.00" y2="609.90" stroke="#000" stroke-width="3.00" stroke-linecap="butt"/>
<line x1="1515.30" y1="629.40" x2="1546.10" y2="629.40" stroke="#000" stroke-width="2.50" stroke-linecap="butt"/>
<line x1="1515.30" y1="625.50" x2="1515.30" y2="633.30" stroke="#000" stroke-width="3.00" stroke-linecap="butt"/>
<line x1="1546.10" y1="625.50" x2="1546.10" y2="633.30" stroke="#000" stroke-width="3.00" stroke-linecap="butt"/>
<line x1="1571.00" y1="652.80" x2="1644.90" y2="652.80" stroke="#000" stroke-width="2.50" stroke-linecap="butt"/>
<line x1="1571.00" y1="648.90" x2="1571.00" y2="656.70" stroke="#000" stroke-width="3.00" stroke-linecap="butt"/>
<line x1="1644.90" y1="648.90" x2="1644.90" y2="656.70" stroke="#000" stroke-width="3.00" stroke-linecap="butt"/>
<line x1="1475.00" y1="629.40" x2="1485.00" y2="629.40" stroke="#000" stroke-width="2.00" stroke-linecap="butt"/>
<text x="1436.07" y="637.20" font-size="26.43" textLength="32.47" lengthAdjust="spacingAndGlyphs" fill="#000">D4</text>
<rect x="1485.00" y="701.80" width="119.50" height="18.80" fill="#ae2a22"/>
<rect x="1485.00" y="725.20" width="109.90" height="18.80" fill="#a0d84e"/>
<rect x="1485.00" y="748.60" width="231.70" height="18.80" fill="#f7cf74"/>
<line x1="1592.50" y1="711.20" x2="1616.40" y2="711.20" stroke="#000" stroke-width="2.50" stroke-linecap="butt"/>
<line x1="1592.50" y1="707.30" x2="1592.50" y2="715.10" stroke="#000" stroke-width="3.00" stroke-linecap="butt"/>
<line x1="1616.40" y1="707.30" x2="1616.40" y2="715.10" stroke="#000" stroke-width="3.00" stroke-linecap="butt"/>
<line x1="1587.10" y1="734.60" x2="1603.90" y2="734.60" stroke="#000" stroke-width="2.50" stroke-linecap="butt"/>
<line x1="1587.10" y1="730.70" x2="1587.10" y2="738.50" stroke="#000" stroke-width="3.00" stroke-linecap="butt"/>
<line x1="1603.90" y1="730.70" x2="1603.90" y2="738.50" stroke="#000" stroke-width="3.00" stroke-linecap="butt"/>
<line x1="1709.20" y1="758.00" x2="1724.20" y2="758.00" stroke="#000" stroke-width="2.50" stroke-linecap="butt"/>
<line x1="1709.20" y1="754.10" x2="1709.20" y2="761.90" stroke="#000" stroke-width="3.00" stroke-linecap="butt"/>
<line x1="1724.20" y1="754.10" x2="1724.20" y2="761.90" stroke="#000" stroke-width="3.00" stroke-linecap="butt"/>
<line x1="1475.00" y1="734.60" x2="1485.00" y2="734.60" stroke="#000" stroke-width="2.00" stroke-linecap="butt"/>
<text x="1422.20" y="742.40" font-size="26.43" textLength="46.60" lengthAdjust="spacingAndGlyphs" fill="#000">D20</text>
<rect x="1485.00" y="807.10" width="115.90" height="18.80" fill="#ae2a22"/>
<rect x="1485.00" y="830.50" width="112.90" height="18.80" fill="#a0d84e"/>
<rect x="1485.00" y="853.90" width="232.60" height="18.80" fill="#f7cf74"/>
<line x1="1584.10" y1="816.50" x2="1617.30" y2="816.50" stroke="#000" stroke-width="2.50" stroke-linecap="butt"/>
<line x1="1584.10" y1="812.60" x2="1584.10" y2="820.40" stroke="#000" stroke-width="3.00" stroke-linecap="butt"/>
<line x1="1617.30" y1="812.60" x2="1617.30" y2="820.40" stroke="#000" stroke-width="3.00" stroke-linecap="butt"/>
<line x1="1588.00" y1="839.90" x2="1607.50" y2="839.90" stroke="#000" stroke-width="2.50" stroke-linecap="butt"/>
<line x1="1588.00" y1="836.00" x2="1588.00" y2="843.80" stroke="#000" stroke-width="3.00" stroke-linecap="butt"/>
<line x1="1607.50" y1="836.00" x2="1607.50" y2="843.80" stroke="#000" stroke-width="3.00" stroke-linecap="butt"/>
<line x1="1703.80" y1="863.30" x2="1731.70" y2="863.30" stroke="#000" stroke-width="2.50" stroke-linecap="butt"/>
<line x1="1703.80" y1="859.40" x2="1703.80" y2="867.20" stroke="#000" stroke-width="3.00" stroke-linecap="butt"/>
<line x1="1731.70" y1="859.40" x2="1731.70" y2="867.20" stroke="#000" stroke-width="3.00" stroke-linecap="butt"/>
<line x1="1475.00" y1="839.90" x2="1485.00" y2="839.90" stroke="#000" stroke-width="2.00" stroke-linecap="butt"/>
<text x="1422.20" y="847.70" font-size="26.43" textLength="46.60" lengthAdjust="spacingAndGlyphs" fill="#000">D40</text>
<rect x="1485.00" y="912.20" width="142.20" height="18.80" fill="#ae2a22"/>
<rect x="1485.00" y="935.60" width="94.60" height="18.80" fill="#a0d84e"/>
<rect x="1485.00" y="959.00" width="225.70" height="18.80" fill="#f7cf74"/>
<line x1="1623.00" y1="921.60" x2="1629.90" y2="921.60" stroke="#000" stroke-width="2.50" stroke-linecap="butt"/>
<line x1="1623.00" y1="917.70" x2="1623.00" y2="925.50" stroke="#000" stroke-width="3.00" stroke-linecap="butt"/>
<line x1="1629.90" y1="917.70" x2="1629.90" y2="925.50" stroke="#000" stroke-width="3.00" stroke-linecap="butt"/>
<line x1="1576.60" y1="945.00" x2="1581.40" y2="945.00" stroke="#000" stroke-width="2.50" stroke-linecap="butt"/>
<line x1="1576.60" y1="941.10" x2="1576.60" y2="948.90" stroke="#000" stroke-width="3.00" stroke-linecap="butt"/>
<line x1="1581.40" y1="941.10" x2="1581.40" y2="948.90" stroke="#000" stroke-width="3.00" stroke-linecap="butt"/>
<line x1="1708.60" y1="968.40" x2="1712.20" y2="968.40" stroke="#000" stroke-width="2.50" stroke-linecap="butt"/>
<line x1="1708.60" y1="964.50" x2="1708.60" y2="972.30" stroke="#000" stroke-width="3.00" stroke-linecap="butt"/>
<line x1="1712.20" y1="964.50" x2="1712.20" y2="972.30" stroke="#000" stroke-width="3.00" stroke-linecap="butt"/>
<line x1="1475.00" y1="945.00" x2="1485.00" y2="945.00" stroke="#000" stroke-width="2.00" stroke-linecap="butt"/>
<text x="1422.20" y="952.80" font-size="26.43" textLength="46.60" lengthAdjust="spacingAndGlyphs" fill="#000">D90</text>
<rect x="1485.00" y="1017.60" width="161.40" height="18.80" fill="#ae2a22"/>
<rect x="1485.00" y="1041.00" width="96.10" height="18.80" fill="#a0d84e"/>
<rect x="1485.00" y="1064.40" width="203.30" height="18.80" fill="#f7cf74"/>
<line x1="1622.40" y1="1027.00" x2="1668.80" y2="1027.00" stroke="#000" stroke-width="2.50" stroke-linecap="butt"/>
<line x1="1622.40" y1="1023.10" x2="1622.40" y2="1030.90" stroke="#000" stroke-width="3.00" stroke-linecap="butt"/>
<line x1="1668.80" y1="1023.10" x2="1668.80" y2="1030.90" stroke="#000" stroke-width="3.00" stroke-linecap="butt"/>
<line x1="1576.60" y1="1050.40" x2="1585.90" y2="1050.40" stroke="#000" stroke-width="2.50" stroke-linecap="butt"/>
<line x1="1576.60" y1="1046.50" x2="1576.60" y2="1054.30" stroke="#000" stroke-width="3.00" stroke-linecap="butt"/>
<line x1="1585.90" y1="1046.50" x2="1585.90" y2="1054.30" stroke="#000" stroke-width="3.00" stroke-linecap="butt"/>
<line x1="1669.40" y1="1073.80" x2="1707.70" y2="1073.80" stroke="#000" stroke-width="2.50" stroke-linecap="butt"/>
<line x1="1669.40" y1="1069.90" x2="1669.40" y2="1077.70" stroke="#000" stroke-width="3.00" stroke-linecap="butt"/>
<line x1="1707.70" y1="1069.90" x2="1707.70" y2="1077.70" stroke="#000" stroke-width="3.00" stroke-linecap="butt"/>
<line x1="1475.00" y1="1050.40" x2="1485.00" y2="1050.40" stroke="#000" stroke-width="2.00" stroke-linecap="butt"/>
<text x="1408.07" y="1058.20" font-size="26.43" textLength="60.72" lengthAdjust="spacingAndGlyphs" fill="#000">D180</text>
<line x1="1484.80" y1="577.20" x2="1484.80" y2="1105.00" stroke="#000" stroke-width="3.00" stroke-linecap="butt"/>
<line x1="1483.30" y1="1103.60" x2="1948.00" y2="1103.60" stroke="#000" stroke-width="3.00" stroke-linecap="butt"/>
<line x1="1484.30" y1="1103.60" x2="1484.30" y2="1111.80" stroke="#000" stroke-width="2.20" stroke-linecap="butt"/>
<text x="1476.26" y="1138.20" font-size="25.60" textLength="13.68" lengthAdjust="spacingAndGlyphs" fill="#000">0</text>
<line x1="1530.53" y1="1103.60" x2="1530.53" y2="1111.80" stroke="#000" stroke-width="2.20" stroke-linecap="butt"/>
<text x="1516.39" y="1138.20" font-size="25.60" textLength="27.36" lengthAdjust="spacingAndGlyphs" fill="#000">10</text>
<line x1="1576.76" y1="1103.60" x2="1576.76" y2="1111.80" stroke="#000" stroke-width="2.20" stroke-linecap="butt"/>
<text x="1562.94" y="1138.20" font-size="25.60" textLength="27.36" lengthAdjust="spacingAndGlyphs" fill="#000">20</text>
<line x1="1622.99" y1="1103.60" x2="1622.99" y2="1111.80" stroke="#000" stroke-width="2.20" stroke-linecap="butt"/>
<text x="1609.32" y="1138.20" font-size="25.60" textLength="27.36" lengthAdjust="spacingAndGlyphs" fill="#000">30</text>
<line x1="1669.22" y1="1103.60" x2="1669.22" y2="1111.80" stroke="#000" stroke-width="2.20" stroke-linecap="butt"/>
<text x="1655.74" y="1138.20" font-size="25.60" textLength="27.36" lengthAdjust="spacingAndGlyphs" fill="#000">40</text>
<line x1="1715.45" y1="1103.60" x2="1715.45" y2="1111.80" stroke="#000" stroke-width="2.20" stroke-linecap="butt"/>
<text x="1701.76" y="1138.20" font-size="25.60" textLength="27.36" lengthAdjust="spacingAndGlyphs" fill="#000">50</text>
<line x1="1761.68" y1="1103.60" x2="1761.68" y2="1111.80" stroke="#000" stroke-width="2.20" stroke-linecap="butt"/>
<text x="1747.85" y="1138.20" font-size="25.60" textLength="27.36" lengthAdjust="spacingAndGlyphs" fill="#000">60</text>
<line x1="1807.91" y1="1103.60" x2="1807.91" y2="1111.80" stroke="#000" stroke-width="2.20" stroke-linecap="butt"/>
<text x="1794.08" y="1138.20" font-size="25.60" textLength="27.36" lengthAdjust="spacingAndGlyphs" fill="#000">70</text>
<line x1="1854.14" y1="1103.60" x2="1854.14" y2="1111.80" stroke="#000" stroke-width="2.20" stroke-linecap="butt"/>
<text x="1840.40" y="1138.20" font-size="25.60" textLength="27.36" lengthAdjust="spacingAndGlyphs" fill="#000">80</text>
<line x1="1900.37" y1="1103.60" x2="1900.37" y2="1111.80" stroke="#000" stroke-width="2.20" stroke-linecap="butt"/>
<text x="1886.59" y="1138.20" font-size="25.60" textLength="27.36" lengthAdjust="spacingAndGlyphs" fill="#000">90</text>
<line x1="1946.60" y1="1103.60" x2="1946.60" y2="1111.80" stroke="#000" stroke-width="2.20" stroke-linecap="butt"/>
<text x="1925.62" y="1138.20" font-size="25.60" textLength="41.04" lengthAdjust="spacingAndGlyphs" fill="#000">100</text>
<text x="1597.70" y="1178.30" font-size="28.17" textLength="203.01" lengthAdjust="spacingAndGlyphs" fill="#000">Relative percent</text>
<line x1="1741.00" y1="652.80" x2="1741.00" y2="757.50" stroke="#000" stroke-width="1.75" stroke-linecap="butt"/>
<text transform="translate(1737.91 703.00) rotate(90)" x="-4.68" y="0" font-size="24.00" textLength="9.34" lengthAdjust="spacingAndGlyphs" fill="#000" stroke="#000" stroke-width="0.3">*</text>
<line x1="1760.10" y1="652.80" x2="1760.10" y2="863.80" stroke="#000" stroke-width="2.55" stroke-linecap="butt"/>
<text transform="translate(1757.01 759.60) rotate(90)" x="-4.68" y="0" font-size="24.00" textLength="9.34" lengthAdjust="spacingAndGlyphs" fill="#000" stroke="#000" stroke-width="0.3">*</text>
<line x1="1779.00" y1="652.80" x2="1779.00" y2="967.80" stroke="#000" stroke-width="1.75" stroke-linecap="butt"/>
<text transform="translate(1775.91 815.90) rotate(90)" x="-4.68" y="0" font-size="24.00" textLength="9.34" lengthAdjust="spacingAndGlyphs" fill="#000" stroke="#000" stroke-width="0.3">*</text>
<line x1="1804.10" y1="629.40" x2="1804.10" y2="734.20" stroke="#000" stroke-width="1.75" stroke-linecap="butt"/>
<text transform="translate(1801.01 681.80) rotate(90)" x="-9.35" y="0" font-size="24.00" textLength="18.68" lengthAdjust="spacingAndGlyphs" fill="#000" stroke="#000" stroke-width="0.3">**</text>
<line x1="1823.20" y1="629.40" x2="1823.20" y2="840.70" stroke="#000" stroke-width="1.75" stroke-linecap="butt"/>
<text transform="translate(1820.11 738.70) rotate(90)" x="-9.35" y="0" font-size="24.00" textLength="18.68" lengthAdjust="spacingAndGlyphs" fill="#000" stroke="#000" stroke-width="0.3">**</text>
<line x1="1842.40" y1="629.40" x2="1842.40" y2="944.80" stroke="#000" stroke-width="2.55" stroke-linecap="butt"/>
<text transform="translate(1839.31 789.50) rotate(90)" x="-4.68" y="0" font-size="24.00" textLength="9.34" lengthAdjust="spacingAndGlyphs" fill="#000" stroke="#000" stroke-width="0.3">*</text>
<line x1="1861.00" y1="629.40" x2="1861.00" y2="1049.60" stroke="#000" stroke-width="2.55" stroke-linecap="butt"/>
<text transform="translate(1857.91 836.00) rotate(90)" x="-4.68" y="0" font-size="24.00" textLength="9.34" lengthAdjust="spacingAndGlyphs" fill="#000" stroke="#000" stroke-width="0.3">*</text>
<line x1="1886.10" y1="605.50" x2="1886.10" y2="711.10" stroke="#000" stroke-width="2.55" stroke-linecap="butt"/>
<text transform="translate(1883.01 653.40) rotate(90)" x="-9.35" y="0" font-size="24.00" textLength="18.68" lengthAdjust="spacingAndGlyphs" fill="#000" stroke="#000" stroke-width="0.3">**</text>
<line x1="1905.20" y1="605.50" x2="1905.20" y2="816.80" stroke="#000" stroke-width="1.75" stroke-linecap="butt"/>
<text transform="translate(1902.11 704.30) rotate(90)" x="-9.35" y="0" font-size="24.00" textLength="18.68" lengthAdjust="spacingAndGlyphs" fill="#000" stroke="#000" stroke-width="0.3">**</text>
<line x1="1924.40" y1="605.50" x2="1924.40" y2="920.80" stroke="#000" stroke-width="2.55" stroke-linecap="butt"/>
<text transform="translate(1921.31 773.40) rotate(90)" x="-4.68" y="0" font-size="24.00" textLength="9.34" lengthAdjust="spacingAndGlyphs" fill="#000" stroke="#000" stroke-width="0.3">*</text>
<circle cx="1111.20" cy="1230.40" r="8" fill="#b82e28"/>
<text x="1125.92" y="1239.40" font-size="29.23" textLength="72.52" lengthAdjust="spacingAndGlyphs" fill="#000">Basal</text>
<circle cx="1269.20" cy="1230.40" r="8" fill="#a0d84e"/>
<text x="1283.09" y="1239.40" font-size="28.33" textLength="236.68" lengthAdjust="spacingAndGlyphs" fill="#000">Luminal Progenitor</text>
<circle cx="1593.50" cy="1230.40" r="8" fill="#f8d074"/>
<text x="1607.97" y="1239.40" font-size="28.53" textLength="195.42" lengthAdjust="spacingAndGlyphs" fill="#000">Mature Luminal</text>
<text x="1821.20" y="1290.60" font-size="25.00" textLength="9.73" lengthAdjust="spacingAndGlyphs" fill="#111">*</text>
<text x="1843.51" y="1290.60" font-size="26.12" textLength="95.45" lengthAdjust="spacingAndGlyphs" fill="#111">P &lt; 0.05</text>
<text x="1821.20" y="1320.90" font-size="25.00" textLength="19.46" lengthAdjust="spacingAndGlyphs" fill="#111">**</text>
<text x="1845.96" y="1320.90" font-size="25.49" textLength="93.15" lengthAdjust="spacingAndGlyphs" fill="#111">P &lt; 0.01</text>
</svg>
</body></html>
